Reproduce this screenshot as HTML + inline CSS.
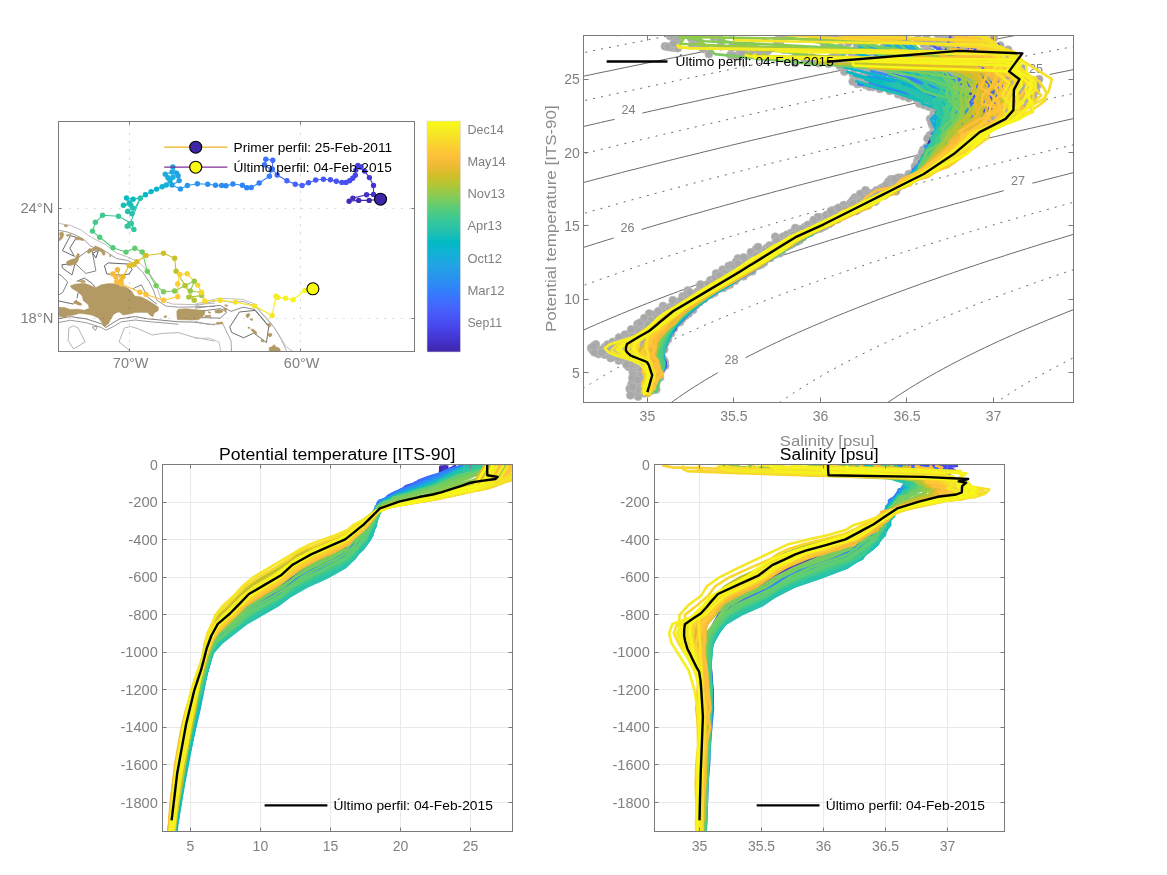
<!DOCTYPE html><html><head><meta charset="utf-8"><title>Argo float</title>
<style>html,body{margin:0;padding:0;background:#fff}svg{display:block}text{font-family:"Liberation Sans",sans-serif}</style></head><body>
<svg width="1167" height="875" viewBox="0 0 1167 875">
<rect width="1167" height="875" fill="#fff"/>
<defs>
<marker id="g" markerWidth="10" markerHeight="10" refX="5" refY="5" markerUnits="userSpaceOnUse"><circle cx="5" cy="5" r="4" fill="#a8a8a8" stroke="#bababa" stroke-width="0.8"/></marker>
<clipPath id="cm"><rect x="58.5" y="121.5" width="356" height="230"/></clipPath>
<clipPath id="ct"><rect x="584" y="36" width="489.5" height="366.5"/></clipPath>
<clipPath id="c1"><rect x="163" y="465" width="349.5" height="366.5"/></clipPath>
<clipPath id="c2"><rect x="655" y="465" width="349.5" height="366.5"/></clipPath>
<linearGradient id="pg" x1="0" y1="1" x2="0" y2="0"><stop offset="0.000" stop-color="#3e26a8"/><stop offset="0.048" stop-color="#4332cb"/><stop offset="0.095" stop-color="#4741e5"/><stop offset="0.143" stop-color="#4852f4"/><stop offset="0.190" stop-color="#4563fd"/><stop offset="0.238" stop-color="#3875fe"/><stop offset="0.286" stop-color="#2e87f7"/><stop offset="0.333" stop-color="#2797eb"/><stop offset="0.381" stop-color="#20a5e3"/><stop offset="0.429" stop-color="#12b1d6"/><stop offset="0.476" stop-color="#02bac3"/><stop offset="0.524" stop-color="#24c1ae"/><stop offset="0.571" stop-color="#37c897"/><stop offset="0.619" stop-color="#57cc7a"/><stop offset="0.667" stop-color="#81cc59"/><stop offset="0.714" stop-color="#abc739"/><stop offset="0.762" stop-color="#d1bf27"/><stop offset="0.810" stop-color="#f0ba36"/><stop offset="0.857" stop-color="#fec338"/><stop offset="0.905" stop-color="#fad62d"/><stop offset="0.952" stop-color="#f5e924"/><stop offset="1.000" stop-color="#f9fb15"/></linearGradient>
</defs>
<g clip-path="url(#cm)">
<polyline points="55,222.8 70.4,225.4 81.2,230 88.2,235.4 96.7,240.1 105.9,244.7 116.7,253.2 127.5,257 138.3,261.7 147.6,270.9 155.3,281.7 158.7,292.5 161.5,300.2 172.3,304.1 193.9,304.6 215,303.3" fill="none" stroke="#bdbdbd" stroke-width="1"/>
<polyline points="55,229.6 67.3,232 76.6,235.4 84.3,239.8 90.5,246.2 105.9,251.6 116.7,258.6 127.5,260.4 135.2,264.7 142.9,272.5 149.1,281.7 153.8,291 156.8,300.2 166.1,306.1 178.4,307.2 215,306.4" fill="none" stroke="#9a9a9a" stroke-width="1"/>
<polygon points="62.4,250.6 70.4,235.7 76.6,237.3 69.8,248.1 74.4,256.4" fill="none" stroke="#6e6e6e" stroke-width="1"/>
<polygon points="61.9,264.7 75.1,263.5 72,274.9 62.4,268.1" fill="none" stroke="#6e6e6e" stroke-width="1"/>
<polygon points="75.1,263.5 78.9,257 87.4,250.9 92,250.6 95.9,270.9 85.9,273.4" fill="none" stroke="#858585" stroke-width="1"/>
<polygon points="92.8,253.3 98.5,250.2 95.9,258" fill="none" stroke="#5e5e5e" stroke-width="1"/>
<polygon points="104.4,265.7 108.4,262.9 129.1,264.1 132.1,269.4 129.1,274 121.3,275.2 106.8,274" fill="none" stroke="#666666" stroke-width="1"/>
<polyline points="55,270.9 61.9,276.3 67.7,282 62.7,292.5 55,297.1" fill="none" stroke="#858585" stroke-width="1"/>
<polyline points="76.6,281.4 84.3,278 92,283.3 95.4,287.6" fill="none" stroke="#6e6e6e" stroke-width="1"/>
<polyline points="78.1,292.5 76.6,300.2 73.5,304.1 55,300.2" fill="none" stroke="#6e6e6e" stroke-width="1"/>
<polyline points="132.9,288.7 141.4,284.8 147.6,297.1 156.8,304.1" fill="none" stroke="#858585" stroke-width="1"/>
<polyline points="55,319.1 70.4,316.6 85.9,318.8 101.3,323.7 105.9,327.5 112.1,323.4 119.8,318.8 135.2,316.6 147.6,318.8 163,320.3 178.4,321.8 193.9,322.1 215,324.9" fill="none" stroke="#808080" stroke-width="1"/>
<polyline points="55,323.1 70.4,320.3 85.9,322.6 101.3,327.5 105.9,330.2 113.6,326.5 121.3,321.8 135.2,320 150.7,321.8 166.1,323.1 178.4,324.3" fill="none" stroke="#9a9a9a" stroke-width="1"/>
<polygon points="68.9,328 73.5,325.8 78.1,328 85.2,341.9 73.5,349 68.1,340.4" fill="none" stroke="#b5b5b5" stroke-width="1"/>
<polygon points="92,327.2 97.4,326.2 95.4,330.5" fill="none" stroke="#9a9a9a" stroke-width="1"/>
<polyline points="129.1,349.9 119,341.9 124.4,328 130.6,326.5 138.3,328.8 152.2,335 163,333.4 178.4,332.6 193.9,337.3 215,341.1" fill="none" stroke="#b5b5b5" stroke-width="1"/>
<polyline points="195,304.2 207,301.2 219,298.2 231,298.8 243,299.4 253.8,303.6 262.2,313.2 271.8,324 279,334.8 286.2,346.8 292.8,351.3" fill="none" stroke="#c4c4c4" stroke-width="1"/>
<polyline points="195,306 207,303 219,300 232.2,302.4 243,301.4 255,306 264.6,316.8 274.2,327.6 281.4,339.6 286.8,351.6" fill="none" stroke="#b0b0b0" stroke-width="1"/>
<polyline points="195,308.1 207,306.6 220.2,305.4 231,311.4 243,307.2 255,309.6 262.2,318 268.8,326.4" fill="none" stroke="#8a8a8a" stroke-width="1"/>
<polygon points="229.8,327 239.4,312 255,310.4 268.8,326.4 266.4,342.6 253.8,333 243.6,337.8 231.6,332.4" fill="none" stroke="#6e6e6e" stroke-width="1"/>
<polygon points="202.2,317.5 220.2,318.2 226.8,312.2 220.8,308.6 207,310.3 199.8,310.8" fill="none" stroke="#858585" stroke-width="1"/>
<polyline points="195,321.6 209.4,324.6 222.6,323.4 231,340.8 231.6,351.6" fill="none" stroke="#a8a8a8" stroke-width="1"/>
<polyline points="195,338.4 209.4,338.1 219,342 220.8,351.6" fill="none" stroke="#c4c4c4" stroke-width="1"/>
<g fill="#b39964" stroke="#b39964" stroke-width="0.6" stroke-linejoin="round">
<polygon points="55,307.2 64.3,307.6 70.4,309.5 78.1,309.2 84.3,310.3 89.3,308.3 88.2,304.6 83.2,300.5 82.2,295.9 78.1,292.1 71.7,288.2 70.4,286 74.8,284.2 79.7,283.7 84.3,283.3 90.5,285.6 95.4,287.9 101.3,284.8 109,283.6 115.2,284 121.3,285.4 127.5,287.9 131.8,291.4 134.5,295.9 141.4,297.1 147.6,300.2 153.8,304.1 158.4,307.2 158.1,310.7 154.1,313 153.1,316.6 150.7,315.7 147.6,312.6 141.4,312.3 135.2,312.6 129.1,314.1 122.9,315 119.5,312 116.7,312.6 113.6,314.4 110.9,318.8 108.4,323.7 104.4,326.8 101.6,322.1 98.5,318.1 92,315 85.9,314.1 79.7,313.3 73.5,315 67.3,315.7 64.6,318.1 61.2,316.4 55,316"/>
<polygon points="176.9,311 178.4,309.2 186.2,308.7 193.9,309.5 201.6,310.3 205,311.3 204.4,314.4 201.6,317.5 198.5,319.7 190.8,320 183.1,319.7 177.7,319.7 176.9,315.7"/>
<polygon points="64.3,224.9 67.3,225.2 67.3,226.8 64.3,226.5"/>
<polygon points="59.3,233.1 62.7,232 63.9,234.7 62.4,238.2 59.6,240.8 58.4,239.8 60.4,236.2"/>
<polygon points="66.1,235.1 70.4,233.9 71,235.1 67.3,236.4"/>
<polygon points="75.1,237.3 78.1,237 83.5,239.3 83.2,240.7 79.7,239.8 75.4,239.8"/>
<polygon points="66.6,261.7 70.4,259.8 75.1,258.6 77.8,253.2 79.4,254.3 78.1,260.4 75.8,264 70.4,265.5 67,265.1"/>
<polygon points="87.1,251.6 89.3,248.5 92,249 95.4,245.9 101.3,248.5 104.7,250.9 105.1,254.7 103.1,255.2 101.3,251.6 96.7,250.1 92.8,250.9 88.2,253.6"/>
<polygon points="109.8,254.7 110.9,255.2 110.5,257 109.6,256.4"/>
<polygon points="78.1,281.1 83.5,280.2 85.9,281.7 82.8,282.6"/>
<polygon points="164.2,316 166.4,315.7 166.4,317.5 164.2,317.5"/>
<polygon points="208.2,311.7 210.6,312.2 210.4,313.2 208.4,312.7"/>
<polygon points="214.8,310.8 219,309.6 222.8,310.5 222.4,312.2 219,313.2 215.4,312.7"/>
<polygon points="223.6,308.6 226.4,308.1 227.1,310.1 224.5,310.8"/>
<polygon points="224.8,304.8 227.6,305 227.6,306.2 225,306"/>
<polygon points="204.8,315.6 210.6,315.3 210.6,316.8 205.1,317"/>
<polygon points="216.4,322.5 222.6,322.1 222.8,323.7 216.8,324.2"/>
<polygon points="246,314.6 249,313.2 249.9,315 247.8,318 246.3,317"/>
<polygon points="250.2,318.6 252.6,319.2 252.3,320.6 250.4,319.9"/>
<polygon points="248,327.1 249.9,327.3 249.7,328.5 248.3,328.3"/>
<polygon points="251.1,329 253.8,329.4 256.8,332.4 256.4,334.5 254,333 251.6,330.6"/>
<polygon points="267.3,323.7 270,323.4 271.2,325.4 269.6,326.9 267.7,325.9"/>
<polygon points="268.2,333.8 271.3,333.3 272,335.7 269.6,336.9 268.2,335.7"/>
<polygon points="261,339.8 263.6,339.6 264.1,341.7 261.7,342"/>
<polygon points="269.1,347.7 271.8,346.8 274.4,344.6 275.6,346.8 279,348 280.4,350.1 279,352.8 269.4,352.8"/>
</g>
<polygon points="74.8,298.7 81.5,297.1 82.8,301.8 78.1,301" fill="#fff"/>
<polygon points="73.2,301.5 75.8,300.2 81.5,303.3 82,305.6 78.1,305.2 74.3,303.3" fill="#b39964"/>
</g>
<line x1="129.5" y1="124.5" x2="129.5" y2="351.5" stroke="#000" stroke-opacity="0.17" stroke-width="1" stroke-dasharray="2,6.3"/>
<line x1="300.5" y1="124.5" x2="300.5" y2="351.5" stroke="#000" stroke-opacity="0.17" stroke-width="1" stroke-dasharray="2,6.3"/>
<line x1="60.5" y1="208.5" x2="414.5" y2="208.5" stroke="#000" stroke-opacity="0.14" stroke-width="1" stroke-dasharray="2,6.3"/>
<line x1="60.5" y1="318.5" x2="414.5" y2="318.5" stroke="#000" stroke-opacity="0.14" stroke-width="1" stroke-dasharray="2,6.3"/>
<g stroke-width="1.1" fill="none" stroke-linecap="round">
<path d="M380.5 199.2L369.2 200.4" stroke="#3e27ab"/>
<path d="M369.2 200.4L358.7 200.4" stroke="#3f29b1"/>
<path d="M358.7 200.4L349.1 201.2" stroke="#402bb7"/>
<path d="M349.1 201.2L352.9 198.1" stroke="#412dbc"/>
<path d="M352.9 198.1L366.6 194.7" stroke="#422fc2"/>
<path d="M366.6 194.7L373.5 194.4" stroke="#4331c7"/>
<path d="M373.5 194.4L373.5 185.5" stroke="#4433cd"/>
<path d="M373.5 185.5L369.4 177.6" stroke="#4535d2"/>
<path d="M369.4 177.6L364.6 171.1" stroke="#4538d7"/>
<path d="M364.6 171.1L361 167" stroke="#463adb"/>
<path d="M361 167L357.9 165.4" stroke="#463ddf"/>
<path d="M357.9 165.4L355.8 170.1" stroke="#473fe3"/>
<path d="M355.8 170.1L355.3 175.2" stroke="#4742e6"/>
<path d="M355.3 175.2L352.7 178.3" stroke="#4745e9"/>
<path d="M352.7 178.3L349.6 180.8" stroke="#4848ec"/>
<path d="M349.6 180.8L346 182.4" stroke="#484bee"/>
<path d="M346 182.4L341.9 182.4" stroke="#484df1"/>
<path d="M341.9 182.4L336.3 181.2" stroke="#4850f3"/>
<path d="M336.3 181.2L330.4 179.8" stroke="#4853f5"/>
<path d="M330.4 179.8L323.4 179.3" stroke="#4756f6"/>
<path d="M323.4 179.3L315.7 180" stroke="#4758f8"/>
<path d="M315.7 180L308.5 182.7" stroke="#475bf9"/>
<path d="M308.5 182.7L302.1 185.5" stroke="#465efb"/>
<path d="M302.1 185.5L295.3 184.2" stroke="#4561fc"/>
<path d="M295.3 184.2L286.9 180.8" stroke="#4564fd"/>
<path d="M286.9 180.8L277.2 175" stroke="#4366fd"/>
<path d="M277.2 175L272.3 169" stroke="#4269fe"/>
<path d="M272.3 169L272.8 160.3" stroke="#406cfe"/>
<path d="M272.8 160.3L265.8 159.2" stroke="#3e6fff"/>
<path d="M265.8 159.2L264.5 164.7" stroke="#3b72fe"/>
<path d="M264.5 164.7L271.2 169.8" stroke="#3875fe"/>
<path d="M271.2 169.8L269.4 176.2" stroke="#3579fd"/>
<path d="M269.4 176.2L259.2 183" stroke="#327cfc"/>
<path d="M259.2 183L251.2 187.5" stroke="#307efb"/>
<path d="M251.2 187.5L246.8 187.8" stroke="#2f81fa"/>
<path d="M246.8 187.8L242.4 185.2" stroke="#2e84f8"/>
<path d="M242.4 185.2L232.9 184" stroke="#2e87f7"/>
<path d="M232.9 184L226 185.8" stroke="#2d89f5"/>
<path d="M226 185.8L221.7 185.4" stroke="#2d8cf3"/>
<path d="M221.7 185.4L215.5 185.2" stroke="#2c8ff1"/>
<path d="M215.5 185.2L207.7 184.2" stroke="#2b91ef"/>
<path d="M207.7 184.2L197.4 183.7" stroke="#2994ed"/>
<path d="M197.4 183.7L187.4 185.5" stroke="#2896eb"/>
<path d="M187.4 185.5L180.4 188.9" stroke="#2698ea"/>
<path d="M180.4 188.9L172 185" stroke="#259be8"/>
<path d="M172 185L179.2 180.6" stroke="#249de6"/>
<path d="M179.2 180.6L178.1 175.7" stroke="#23a0e5"/>
<path d="M178.1 175.7L176.6 173.1" stroke="#22a2e4"/>
<path d="M176.6 173.1L172.8 167" stroke="#20a4e3"/>
<path d="M172.8 167L172 172.1" stroke="#1fa6e1"/>
<path d="M172 172.1L165.3 174.2" stroke="#1da9e0"/>
<path d="M165.3 174.2L167.9 177.8" stroke="#1babde"/>
<path d="M167.9 177.8L173 177.2" stroke="#19addc"/>
<path d="M173 177.2L170 181" stroke="#16afda"/>
<path d="M170 181L166.3 185" stroke="#13b1d7"/>
<path d="M166.3 185L162.2 186.8" stroke="#0eb2d4"/>
<path d="M162.2 186.8L156.6 189.1" stroke="#09b4d1"/>
<path d="M156.6 189.1L151.1 191.6" stroke="#06b6ce"/>
<path d="M151.1 191.6L145.4 194.7" stroke="#02b7cb"/>
<path d="M145.4 194.7L140.4 198.1" stroke="#01b8c8"/>
<path d="M140.4 198.1L133.1 199.2" stroke="#02bac5"/>
<path d="M133.1 199.2L126.5 198" stroke="#04bbc2"/>
<path d="M126.5 198L129.3 203" stroke="#09bcbe"/>
<path d="M129.3 203L123.4 205.3" stroke="#0ebebb"/>
<path d="M123.4 205.3L130.8 205" stroke="#15bfb7"/>
<path d="M130.8 205L132.9 208.1" stroke="#1bc0b4"/>
<path d="M132.9 208.1L127.6 211.5" stroke="#21c1b0"/>
<path d="M127.6 211.5L131.9 213.8" stroke="#26c2ad"/>
<path d="M131.9 213.8L140.4 198.1" stroke="#2ac3a9"/>
<path d="M140.4 198.1L129.8 224" stroke="#2dc4a6"/>
<path d="M129.8 224L127.2 226.3" stroke="#30c5a2"/>
<path d="M127.2 226.3L133.9 229.4" stroke="#33c69e"/>
<path d="M133.9 229.4L131.4 223.5" stroke="#35c79a"/>
<path d="M131.4 223.5L118.5 216.3" stroke="#38c895"/>
<path d="M118.5 216.3L102.6 215.3" stroke="#3cc991"/>
<path d="M102.6 215.3L95.4 222.3" stroke="#41ca8c"/>
<path d="M95.4 222.3L92.5 231.1" stroke="#46cb88"/>
<path d="M92.5 231.1L99.7 237.3" stroke="#4ccb83"/>
<path d="M99.7 237.3L112.9 247.8" stroke="#52cc7e"/>
<path d="M112.9 247.8L126 252.1" stroke="#59cc79"/>
<path d="M126 252.1L134.8 248.2" stroke="#5fcd73"/>
<path d="M134.8 248.2L142.2 251.9" stroke="#65cd6e"/>
<path d="M142.2 251.9L147.3 271.2" stroke="#6ccd68"/>
<path d="M147.3 271.2L156.1 285.6" stroke="#73cd63"/>
<path d="M156.1 285.6L163.5 291.7" stroke="#7acc5d"/>
<path d="M163.5 291.7L174.6 291" stroke="#82cc58"/>
<path d="M174.6 291L185.1 285.6" stroke="#89cb52"/>
<path d="M185.1 285.6L194.3 281.3" stroke="#90ca4d"/>
<path d="M194.3 281.3L190.3 291" stroke="#97ca47"/>
<path d="M190.3 291L201.3 292.5" stroke="#9ec942"/>
<path d="M201.3 292.5L201.6 295.6" stroke="#a5c83d"/>
<path d="M201.6 295.6L188.8 297.1" stroke="#acc739"/>
<path d="M188.8 297.1L194.3 300.2" stroke="#b2c535"/>
<path d="M194.3 300.2L185.1 285.6" stroke="#b9c431"/>
<path d="M185.1 285.6L176.1 271.2" stroke="#bfc32d"/>
<path d="M176.1 271.2L174.6 258.3" stroke="#c5c22a"/>
<path d="M174.6 258.3L163.5 253.2" stroke="#cbc029"/>
<path d="M163.5 253.2L146 255.5" stroke="#d1bf27"/>
<path d="M146 255.5L136.8 261.7" stroke="#d6be28"/>
<path d="M136.8 261.7L133.7 264.7" stroke="#dcbd29"/>
<path d="M133.7 264.7L129.1 265.5" stroke="#e1bc2b"/>
<path d="M129.1 265.5L122.9 276.8" stroke="#e6bb2d"/>
<path d="M122.9 276.8L121 280.9" stroke="#eaba31"/>
<path d="M121 280.9L117.5 269.7" stroke="#efba35"/>
<path d="M117.5 269.7L112.9 274" stroke="#f3ba39"/>
<path d="M112.9 274L115.9 277.1" stroke="#f7ba3c"/>
<path d="M115.9 277.1L116.7 281.7" stroke="#fabc3d"/>
<path d="M116.7 281.7L121.3 284" stroke="#fdbd3d"/>
<path d="M121.3 284L139.9 292.2" stroke="#fec03b"/>
<path d="M139.9 292.2L146 294.4" stroke="#fec339"/>
<path d="M146 294.4L163.5 300.2" stroke="#fec636"/>
<path d="M163.5 300.2L177.7 296.7" stroke="#fec934"/>
<path d="M177.7 296.7L177.7 284" stroke="#fdcc32"/>
<path d="M177.7 284L179.7 274.5" stroke="#fccf31"/>
<path d="M179.7 274.5L187.2 273.7" stroke="#fbd22f"/>
<path d="M187.2 273.7L197.7 285.1" stroke="#fad52d"/>
<path d="M197.7 285.1L201.6 292.5" stroke="#f9d82c"/>
<path d="M201.6 292.5L204.7 301" stroke="#f7db2a"/>
<path d="M204.7 301L220.2 300.2" stroke="#f6de29"/>
<path d="M220.2 300.2L235.4 302.1" stroke="#f5e228"/>
<path d="M235.4 302.1L254.7 306" stroke="#f5e526"/>
<path d="M254.7 306L272.1 315.6" stroke="#f5e825"/>
<path d="M272.1 315.6L276 296.2" stroke="#f5eb23"/>
<path d="M276 296.2L277.8 297.4" stroke="#f5ee21"/>
<path d="M277.8 297.4L285.6 298.2" stroke="#f6f11f"/>
<path d="M285.6 298.2L293.1 299.8" stroke="#f7f41c"/>
<path d="M293.1 299.8L304.8 290.6" stroke="#f8f719"/>
<path d="M304.8 290.6L312.9 288.8" stroke="#f9f916"/>
</g>
<circle cx="380.5" cy="199.2" r="2.7" fill="#3e26a8"/>
<circle cx="369.2" cy="200.4" r="2.7" fill="#3f28ae"/>
<circle cx="358.7" cy="200.4" r="2.7" fill="#402ab4"/>
<circle cx="349.1" cy="201.2" r="2.7" fill="#412cba"/>
<circle cx="352.9" cy="198.1" r="2.7" fill="#422ebf"/>
<circle cx="366.6" cy="194.7" r="2.7" fill="#4330c5"/>
<circle cx="373.5" cy="194.4" r="2.7" fill="#4332ca"/>
<circle cx="373.5" cy="185.5" r="2.7" fill="#4434cf"/>
<circle cx="369.4" cy="177.6" r="2.7" fill="#4536d5"/>
<circle cx="364.6" cy="171.1" r="2.7" fill="#4539d9"/>
<circle cx="361" cy="167" r="2.7" fill="#463bdd"/>
<circle cx="357.9" cy="165.4" r="2.7" fill="#463ee1"/>
<circle cx="355.8" cy="170.1" r="2.7" fill="#4741e5"/>
<circle cx="355.3" cy="175.2" r="2.7" fill="#4744e8"/>
<circle cx="352.7" cy="178.3" r="2.7" fill="#4746ea"/>
<circle cx="349.6" cy="180.8" r="2.7" fill="#4849ed"/>
<circle cx="346" cy="182.4" r="2.7" fill="#484cef"/>
<circle cx="341.9" cy="182.4" r="2.7" fill="#484ff2"/>
<circle cx="336.3" cy="181.2" r="2.7" fill="#4852f4"/>
<circle cx="330.4" cy="179.8" r="2.7" fill="#4854f6"/>
<circle cx="323.4" cy="179.3" r="2.7" fill="#4757f7"/>
<circle cx="315.7" cy="180" r="2.7" fill="#475af9"/>
<circle cx="308.5" cy="182.7" r="2.7" fill="#475dfa"/>
<circle cx="302.1" cy="185.5" r="2.7" fill="#465ffb"/>
<circle cx="295.3" cy="184.2" r="2.7" fill="#4562fc"/>
<circle cx="286.9" cy="180.8" r="2.7" fill="#4465fd"/>
<circle cx="277.2" cy="175" r="2.7" fill="#4368fe"/>
<circle cx="272.3" cy="169" r="2.7" fill="#416bfe"/>
<circle cx="272.8" cy="160.3" r="2.7" fill="#3f6efe"/>
<circle cx="265.8" cy="159.2" r="2.7" fill="#3d71ff"/>
<circle cx="264.5" cy="164.7" r="2.7" fill="#3a74fe"/>
<circle cx="271.2" cy="169.8" r="2.7" fill="#3777fe"/>
<circle cx="269.4" cy="176.2" r="2.7" fill="#347afd"/>
<circle cx="259.2" cy="183" r="2.7" fill="#317dfc"/>
<circle cx="251.2" cy="187.5" r="2.7" fill="#3080fa"/>
<circle cx="246.8" cy="187.8" r="2.7" fill="#2e83f9"/>
<circle cx="242.4" cy="185.2" r="2.7" fill="#2e85f8"/>
<circle cx="232.9" cy="184" r="2.7" fill="#2d88f6"/>
<circle cx="226" cy="185.8" r="2.7" fill="#2d8bf4"/>
<circle cx="221.7" cy="185.4" r="2.7" fill="#2d8df2"/>
<circle cx="215.5" cy="185.2" r="2.7" fill="#2c90f0"/>
<circle cx="207.7" cy="184.2" r="2.7" fill="#2a92ee"/>
<circle cx="197.4" cy="183.7" r="2.7" fill="#2895ec"/>
<circle cx="187.4" cy="185.5" r="2.7" fill="#2797ea"/>
<circle cx="180.4" cy="188.9" r="2.7" fill="#269ae9"/>
<circle cx="172" cy="185" r="2.7" fill="#259ce7"/>
<circle cx="179.2" cy="180.6" r="2.7" fill="#249ee6"/>
<circle cx="178.1" cy="175.7" r="2.7" fill="#23a1e5"/>
<circle cx="176.6" cy="173.1" r="2.7" fill="#21a3e3"/>
<circle cx="172.8" cy="167" r="2.7" fill="#1fa5e2"/>
<circle cx="172" cy="172.1" r="2.7" fill="#1ea7e1"/>
<circle cx="165.3" cy="174.2" r="2.7" fill="#1caadf"/>
<circle cx="167.9" cy="177.8" r="2.7" fill="#1aacdd"/>
<circle cx="173" cy="177.2" r="2.7" fill="#18aedb"/>
<circle cx="170" cy="181" r="2.7" fill="#14b0d8"/>
<circle cx="166.3" cy="185" r="2.7" fill="#11b1d6"/>
<circle cx="162.2" cy="186.8" r="2.7" fill="#0cb3d3"/>
<circle cx="156.6" cy="189.1" r="2.7" fill="#07b5d0"/>
<circle cx="151.1" cy="191.6" r="2.7" fill="#04b6cd"/>
<circle cx="145.4" cy="194.7" r="2.7" fill="#01b8ca"/>
<circle cx="140.4" cy="198.1" r="2.7" fill="#01b9c6"/>
<circle cx="133.1" cy="199.2" r="2.7" fill="#02bbc3"/>
<circle cx="126.5" cy="198" r="2.7" fill="#07bcc0"/>
<circle cx="129.3" cy="203" r="2.7" fill="#0bbdbc"/>
<circle cx="123.4" cy="205.3" r="2.7" fill="#12beb9"/>
<circle cx="130.8" cy="205" r="2.7" fill="#18bfb6"/>
<circle cx="132.9" cy="208.1" r="2.7" fill="#1ec0b2"/>
<circle cx="127.6" cy="211.5" r="2.7" fill="#24c1af"/>
<circle cx="131.9" cy="213.8" r="2.7" fill="#28c2ab"/>
<circle cx="140.4" cy="198.1" r="2.7" fill="#2bc3a7"/>
<circle cx="129.8" cy="224" r="2.7" fill="#2ec5a4"/>
<circle cx="127.2" cy="226.3" r="2.7" fill="#31c6a0"/>
<circle cx="133.9" cy="229.4" r="2.7" fill="#34c79c"/>
<circle cx="131.4" cy="223.5" r="2.7" fill="#37c898"/>
<circle cx="118.5" cy="216.3" r="2.7" fill="#3ac993"/>
<circle cx="102.6" cy="215.3" r="2.7" fill="#3eca8f"/>
<circle cx="95.4" cy="222.3" r="2.7" fill="#44ca8a"/>
<circle cx="92.5" cy="231.1" r="2.7" fill="#49cb85"/>
<circle cx="99.7" cy="237.3" r="2.7" fill="#4fcc80"/>
<circle cx="112.9" cy="247.8" r="2.7" fill="#55cc7b"/>
<circle cx="126" cy="252.1" r="2.7" fill="#5ccc76"/>
<circle cx="134.8" cy="248.2" r="2.7" fill="#62cd71"/>
<circle cx="142.2" cy="251.9" r="2.7" fill="#69cd6b"/>
<circle cx="147.3" cy="271.2" r="2.7" fill="#70cd65"/>
<circle cx="156.1" cy="285.6" r="2.7" fill="#77cc60"/>
<circle cx="163.5" cy="291.7" r="2.7" fill="#7ecc5b"/>
<circle cx="174.6" cy="291" r="2.7" fill="#85cb55"/>
<circle cx="185.1" cy="285.6" r="2.7" fill="#8dcb50"/>
<circle cx="194.3" cy="281.3" r="2.7" fill="#94ca4a"/>
<circle cx="190.3" cy="291" r="2.7" fill="#9bc945"/>
<circle cx="201.3" cy="292.5" r="2.7" fill="#a2c840"/>
<circle cx="201.6" cy="295.6" r="2.7" fill="#a8c73b"/>
<circle cx="188.8" cy="297.1" r="2.7" fill="#afc637"/>
<circle cx="194.3" cy="300.2" r="2.7" fill="#b6c533"/>
<circle cx="185.1" cy="285.6" r="2.7" fill="#bcc42f"/>
<circle cx="176.1" cy="271.2" r="2.7" fill="#c2c22c"/>
<circle cx="174.6" cy="258.3" r="2.7" fill="#c8c129"/>
<circle cx="163.5" cy="253.2" r="2.7" fill="#cec028"/>
<circle cx="146" cy="255.5" r="2.7" fill="#d4bf28"/>
<circle cx="136.8" cy="261.7" r="2.7" fill="#d9bd28"/>
<circle cx="133.7" cy="264.7" r="2.7" fill="#debc2a"/>
<circle cx="129.1" cy="265.5" r="2.7" fill="#e3bb2c"/>
<circle cx="122.9" cy="276.8" r="2.7" fill="#e8bb2f"/>
<circle cx="121" cy="280.9" r="2.7" fill="#edba33"/>
<circle cx="117.5" cy="269.7" r="2.7" fill="#f1ba37"/>
<circle cx="112.9" cy="274" r="2.7" fill="#f5ba3b"/>
<circle cx="115.9" cy="277.1" r="2.7" fill="#f9bb3d"/>
<circle cx="116.7" cy="281.7" r="2.7" fill="#fcbc3d"/>
<circle cx="121.3" cy="284" r="2.7" fill="#febe3c"/>
<circle cx="139.9" cy="292.2" r="2.7" fill="#fec13a"/>
<circle cx="146" cy="294.4" r="2.7" fill="#fec437"/>
<circle cx="163.5" cy="300.2" r="2.7" fill="#fec735"/>
<circle cx="177.7" cy="296.7" r="2.7" fill="#feca33"/>
<circle cx="177.7" cy="284" r="2.7" fill="#fdcd31"/>
<circle cx="179.7" cy="274.5" r="2.7" fill="#fcd030"/>
<circle cx="187.2" cy="273.7" r="2.7" fill="#fbd32e"/>
<circle cx="197.7" cy="285.1" r="2.7" fill="#f9d62d"/>
<circle cx="201.6" cy="292.5" r="2.7" fill="#f8da2b"/>
<circle cx="204.7" cy="301" r="2.7" fill="#f7dd2a"/>
<circle cx="220.2" cy="300.2" r="2.7" fill="#f6e028"/>
<circle cx="235.4" cy="302.1" r="2.7" fill="#f5e327"/>
<circle cx="254.7" cy="306" r="2.7" fill="#f5e626"/>
<circle cx="272.1" cy="315.6" r="2.7" fill="#f5e924"/>
<circle cx="276" cy="296.2" r="2.7" fill="#f5ec22"/>
<circle cx="277.8" cy="297.4" r="2.7" fill="#f6ef20"/>
<circle cx="285.6" cy="298.2" r="2.7" fill="#f6f21e"/>
<circle cx="293.1" cy="299.8" r="2.7" fill="#f7f51b"/>
<circle cx="304.8" cy="290.6" r="2.7" fill="#f8f818"/>
<circle cx="312.9" cy="288.8" r="2.7" fill="#f9fb15"/>
<circle cx="380.5" cy="199.2" r="6" fill="#3e26a8" stroke="#000" stroke-width="1.1"/>
<circle cx="312.9" cy="288.8" r="6" fill="#f9fb0e" stroke="#000" stroke-width="1.1"/>
<line x1="164.2" y1="147.1" x2="227.4" y2="147.1" stroke="#edb120" stroke-width="1.1"/>
<circle cx="195.7" cy="147.2" r="6" fill="#3e26a8" stroke="#000" stroke-width="1.1"/>
<line x1="164.2" y1="167.1" x2="227.4" y2="167.1" stroke="#7e2f8e" stroke-width="1.1"/>
<circle cx="195.7" cy="167.2" r="6" fill="#f9fb0e" stroke="#000" stroke-width="1.1"/>
<text x="233.6" y="151.5" font-size="12.6" text-anchor="start" fill="#000" textLength="158.5" lengthAdjust="spacingAndGlyphs">Primer perfil: 25-Feb-2011</text>
<text x="233.6" y="171.9" font-size="12.6" text-anchor="start" fill="#000" textLength="158.2" lengthAdjust="spacingAndGlyphs">Último perfil: 04-Feb-2015</text>
<rect x="58.5" y="121.5" width="356.0" height="230.0" fill="none" stroke="#7a7a7a" stroke-width="1"/>
<path d="M129.5 121.5v3M129.5 351.5v-3" stroke="#7a7a7a" stroke-width="1"/>
<path d="M300.5 121.5v3M300.5 351.5v-3" stroke="#7a7a7a" stroke-width="1"/>
<path d="M58.5 208.5h3M414.5 208.5h-3" stroke="#7a7a7a" stroke-width="1"/>
<path d="M58.5 318.5h3M414.5 318.5h-3" stroke="#7a7a7a" stroke-width="1"/>
<text x="53.4" y="213.4" font-size="14" text-anchor="end" fill="#808080" textLength="33" lengthAdjust="spacingAndGlyphs">24°N</text>
<text x="53.4" y="323.4" font-size="14" text-anchor="end" fill="#808080" textLength="33" lengthAdjust="spacingAndGlyphs">18°N</text>
<text x="130.6" y="367.5" font-size="14" text-anchor="middle" fill="#808080" textLength="35.5" lengthAdjust="spacingAndGlyphs">70°W</text>
<text x="301.6" y="367.5" font-size="14" text-anchor="middle" fill="#808080" textLength="35.5" lengthAdjust="spacingAndGlyphs">60°W</text>
<rect x="427" y="121" width="33.5" height="231" fill="url(#pg)"/>
<rect x="427" y="121" width="33.5" height="231" fill="none" stroke="#d9d9d9" stroke-width="0.6"/>
<text x="467.4" y="133.9" font-size="12.6" text-anchor="start" fill="#808080" textLength="36.3" lengthAdjust="spacingAndGlyphs">Dec14</text>
<text x="467.4" y="166.1" font-size="12.6" text-anchor="start" fill="#808080" textLength="38.3" lengthAdjust="spacingAndGlyphs">May14</text>
<text x="467.4" y="198.2" font-size="12.6" text-anchor="start" fill="#808080" textLength="37.5" lengthAdjust="spacingAndGlyphs">Nov13</text>
<text x="467.4" y="230.3" font-size="12.6" text-anchor="start" fill="#808080" textLength="34.6" lengthAdjust="spacingAndGlyphs">Apr13</text>
<text x="467.4" y="262.5" font-size="12.6" text-anchor="start" fill="#808080" textLength="34.6" lengthAdjust="spacingAndGlyphs">Oct12</text>
<text x="467.4" y="294.7" font-size="12.6" text-anchor="start" fill="#808080" textLength="37.2" lengthAdjust="spacingAndGlyphs">Mar12</text>
<text x="467.4" y="326.8" font-size="12.6" text-anchor="start" fill="#808080" textLength="34.6" lengthAdjust="spacingAndGlyphs">Sep11</text>
<g clip-path="url(#ct)">
<polyline points="569.5,32.7 576.4,31.4 583.4,30 590.3,28.7 597.2,27.3 604.1,26 611.1,24.7 618,23.4 624.9,22 631.8,20.7 638.7,19.4 645.7,18.1 652.6,16.8 659.5,15.5 666.4,14.2 673.4,12.9 680.3,11.6 687.2,10.3 694.1,9 701,7.7 708,6.4 714.9,5.1 721.8,3.8 728.7,2.5 735.7,1.3 742.6,-0 749.5,-1.3 756.4,-2.6 763.3,-3.8 770.3,-5.1 777.2,-6.4 784.1,-7.6 791,-8.9 798,-10.1 804.9,-11.4 811.8,-12.6 818.7,-13.9 825.6,-15.1 832.6,-16.4 839.5,-17.6 846.4,-18.9 853.3,-20.1 860.3,-21.3 867.2,-22.6 874.1,-23.8 881,-25 887.9,-26.2 894.9,-27.5 901.8,-28.7 908.7,-29.9 915.6,-31.1 922.5,-32.3 929.5,-33.5 936.4,-34.7 943.3,-36 950.2,-37.2 957.2,-38.4 964.1,-39.6 971,-40.8 977.9,-42 984.8,-43.1 991.8,-44.3 998.7,-45.5 1005.6,-46.7 1012.5,-47.9 1019.5,-49.1 1026.4,-50.3 1033.3,-51.5 1040.2,-52.6 1047.1,-53.8 1054.1,-55 1061,-56.2 1067.9,-57.3 1074.8,-58.5 1081.8,-59.7 1088.7,-60.8" fill="none" stroke="#6a6a6a" stroke-width="1"/>
<polyline points="569.5,55.5 576.4,54.1 583.4,52.7 590.3,51.3 597.2,49.9 604.1,48.5 611.1,47.2 618,45.8 624.9,44.4 631.8,43 638.7,41.7 645.7,40.3 652.6,38.9 659.5,37.6 666.4,36.2 673.4,34.9 680.3,33.5 687.2,32.2 694.1,30.9 701,29.5 708,28.2 714.9,26.9 721.8,25.5 728.7,24.2 735.7,22.9 742.6,21.6 749.5,20.2 756.4,18.9 763.3,17.6 770.3,16.3 777.2,15 784.1,13.7 791,12.4 798,11.1 804.9,9.8 811.8,8.5 818.7,7.2 825.6,6 832.6,4.7 839.5,3.4 846.4,2.1 853.3,0.8 860.3,-0.4 867.2,-1.7 874.1,-3 881,-4.2 887.9,-5.5 894.9,-6.8 901.8,-8 908.7,-9.3 915.6,-10.5 922.5,-11.8 929.5,-13 936.4,-14.3 943.3,-15.5 950.2,-16.7 957.2,-18 964.1,-19.2 971,-20.5 977.9,-21.7 984.8,-22.9 991.8,-24.1 998.7,-25.4 1005.6,-26.6 1012.5,-27.8 1019.5,-29 1026.4,-30.2 1033.3,-31.5 1040.2,-32.7 1047.1,-33.9 1054.1,-35.1 1061,-36.3 1067.9,-37.5 1074.8,-38.7 1081.8,-39.9 1088.7,-41.1" fill="none" stroke="#6a6a6a" stroke-width="1" stroke-dasharray="2,6.05"/>
<polyline points="569.5,79.2 576.4,77.7 583.4,76.2 590.3,74.8 597.2,73.3 604.1,71.9 611.1,70.5 618,69 624.9,67.6 631.8,66.2 638.7,64.8 645.7,63.3 652.6,61.9 659.5,60.5 666.4,59.1 673.4,57.7 680.3,56.3 687.2,54.9 694.1,53.5 701,52.1 708,50.7 714.9,49.4 721.8,48 728.7,46.6 735.7,45.2 742.6,43.9 749.5,42.5 756.4,41.1 763.3,39.8 770.3,38.4 777.2,37.1 784.1,35.7 791,34.4 798,33 804.9,31.7 811.8,30.4 818.7,29 825.6,27.7 832.6,26.4 839.5,25 846.4,23.7 853.3,22.4 860.3,21.1 867.2,19.8 874.1,18.5 881,17.2 887.9,15.9 894.9,14.5 901.8,13.3 908.7,12 915.6,10.7 922.5,9.4 929.5,8.1 936.4,6.8 943.3,5.5 950.2,4.2 957.2,3 964.1,1.7 971,0.4 977.9,-0.9 984.8,-2.1 991.8,-3.4 998.7,-4.6 1005.6,-5.9 1012.5,-7.2 1019.5,-8.4 1026.4,-9.7 1033.3,-10.9 1040.2,-12.2 1047.1,-13.4 1054.1,-14.7 1061,-15.9 1067.9,-17.1 1074.8,-18.4 1081.8,-19.6 1088.7,-20.8" fill="none" stroke="#6a6a6a" stroke-width="1"/>
<polyline points="569.5,103.9 576.4,102.3 583.4,100.8 590.3,99.3 597.2,97.8 604.1,96.3 611.1,94.7 618,93.2 624.9,91.8 631.8,90.3 638.7,88.8 645.7,87.3 652.6,85.8 659.5,84.3 666.4,82.9 673.4,81.4 680.3,79.9 687.2,78.5 694.1,77 701,75.6 708,74.1 714.9,72.7 721.8,71.3 728.7,69.8 735.7,68.4 742.6,67 749.5,65.6 756.4,64.1 763.3,62.7 770.3,61.3 777.2,59.9 784.1,58.5 791,57.1 798,55.7 804.9,54.3 811.8,52.9 818.7,51.5 825.6,50.2 832.6,48.8 839.5,47.4 846.4,46 853.3,44.7 860.3,43.3 867.2,42 874.1,40.6 881,39.2 887.9,37.9 894.9,36.5 901.8,35.2 908.7,33.9 915.6,32.5 922.5,31.2 929.5,29.8 936.4,28.5 943.3,27.2 950.2,25.9 957.2,24.5 964.1,23.2 971,21.9 977.9,20.6 984.8,19.3 991.8,18 998.7,16.7 1005.6,15.4 1012.5,14.1 1019.5,12.8 1026.4,11.5 1033.3,10.2 1040.2,8.9 1047.1,7.6 1054.1,6.4 1061,5.1 1067.9,3.8 1074.8,2.5 1081.8,1.3 1088.7,-0" fill="none" stroke="#6a6a6a" stroke-width="1" stroke-dasharray="2,6.05"/>
<polyline points="569.5,129.8 574.7,128.5 579.9,127.3 585.1,126.1 590.3,124.9 595.5,123.7 600.7,122.5 605.9,121.3 611.1,120.1 614.6,119.4" fill="none" stroke="#6a6a6a" stroke-width="1"/>
<polyline points="642.3,113.1 647.5,111.9 652.7,110.7 657.9,109.6 663.1,108.4 668.3,107.3 673.5,106.1 678.7,104.9 683.9,103.8 689.1,102.7 694.3,101.5 699.5,100.4 704.7,99.2 709.9,98.1 715.1,97 720.3,95.8 725.5,94.7 730.7,93.6 735.9,92.5 741.1,91.3 746.3,90.2 751.5,89.1 756.7,88 761.9,86.9 767.1,85.8 772.3,84.7 777.5,83.6 782.7,82.5 787.9,81.4 793.1,80.3 798.3,79.2 803.5,78.1 808.7,77 813.9,75.9 819.1,74.8 824.3,73.8 829.5,72.7 834.7,71.6 839.9,70.5 845.1,69.5 850.3,68.4 855.5,67.3 860.7,66.2 865.9,65.2 871.1,64.1 876.3,63.1 881.5,62 886.7,60.9 891.9,59.9 897.1,58.8 902.3,57.8 907.5,56.7 912.7,55.7 917.9,54.7 923.1,53.6 928.3,52.6 933.5,51.5 938.7,50.5 943.9,49.5 949.1,48.4 954.3,47.4 959.5,46.4 964.7,45.4 969.9,44.3 975.1,43.3 980.3,42.3 985.5,41.3 990.7,40.2 995.9,39.2 1001.1,38.2 1006.3,37.2 1011.5,36.2 1016.7,35.2 1021.9,34.2 1027.1,33.2 1032.3,32.2 1037.5,31.2 1042.7,30.2 1047.9,29.2 1053.1,28.2 1058.3,27.2 1063.5,26.2 1068.7,25.2 1073.9,24.2 1079.1,23.2 1084.3,22.2 1088.7,21.4" fill="none" stroke="#6a6a6a" stroke-width="1"/>
<polyline points="569.5,157.1 576.4,155.4 583.4,153.7 590.3,152 597.2,150.3 604.1,148.6 611.1,146.9 618,145.2 624.9,143.6 631.8,141.9 638.7,140.3 645.7,138.6 652.6,137 659.5,135.3 666.4,133.7 673.4,132.1 680.3,130.5 687.2,128.8 694.1,127.2 701,125.6 708,124 714.9,122.5 721.8,120.9 728.7,119.3 735.7,117.7 742.6,116.2 749.5,114.6 756.4,113 763.3,111.5 770.3,109.9 777.2,108.4 784.1,106.9 791,105.3 798,103.8 804.9,102.3 811.8,100.8 818.7,99.3 825.6,97.8 832.6,96.3 839.5,94.8 846.4,93.3 853.3,91.8 860.3,90.3 867.2,88.8 874.1,87.3 881,85.9 887.9,84.4 894.9,82.9 901.8,81.5 908.7,80 915.6,78.6 922.5,77.1 929.5,75.7 936.4,74.3 943.3,72.8 950.2,71.4 957.2,70 964.1,68.5 971,67.1 977.9,65.7 984.8,64.3 991.8,62.9 998.7,61.5 1005.6,60.1 1012.5,58.7 1019.5,57.3 1026.4,55.9 1033.3,54.5 1040.2,53.1 1047.1,51.8 1054.1,50.4 1061,49 1067.9,47.6 1074.8,46.3 1081.8,44.9 1088.7,43.6" fill="none" stroke="#6a6a6a" stroke-width="1" stroke-dasharray="2,6.05"/>
<polyline points="569.5,186.2 574.7,184.8 579.9,183.4 585.1,182.1 590.3,180.7 595.5,179.3 600.7,178 605.9,176.6 611.1,175.3 616.3,173.9 621.5,172.6 626.7,171.2 631.9,169.9 637.1,168.6 642.3,167.3 647.5,165.9 652.7,164.6 657.9,163.3 663.1,162 668.3,160.7 673.5,159.4 678.7,158.1 683.9,156.8 689.1,155.6 694.3,154.3 699.5,153 704.7,151.7 709.9,150.5 715.1,149.2 720.3,147.9 725.5,146.7 730.7,145.4 735.9,144.2 741.1,142.9 746.3,141.7 751.5,140.4 756.7,139.2 761.9,138 767.1,136.8 772.3,135.5 777.5,134.3 782.7,133.1 787.9,131.9 793.1,130.7 798.3,129.5 803.5,128.3 808.7,127 813.9,125.9 819.1,124.7 824.3,123.5 829.5,122.3 834.7,121.1 839.9,119.9 845.1,118.7 850.3,117.6 855.5,116.4 860.7,115.2 865.9,114 871.1,112.9 876.3,111.7 881.5,110.6 886.7,109.4 891.9,108.2 897.1,107.1 902.3,105.9 907.5,104.8 912.7,103.7 917.9,102.5 923.1,101.4 928.3,100.3 933.5,99.1 938.7,98 943.9,96.9 949.1,95.7 954.3,94.6 959.5,93.5 964.7,92.4 969.9,91.3 975.1,90.2 980.3,89 985.5,87.9 990.7,86.8 995.9,85.7 1001.1,84.6 1006.3,83.5 1011.5,82.4 1016.7,81.4 1021.9,80.3 1021.9,80.3" fill="none" stroke="#6a6a6a" stroke-width="1"/>
<polyline points="1049.7,74.5 1054.9,73.4 1060.1,72.3 1065.3,71.3 1070.5,70.2 1075.7,69.1 1080.9,68.1 1086.1,67 1088.7,66.5" fill="none" stroke="#6a6a6a" stroke-width="1"/>
<polyline points="569.5,217.6 576.4,215.6 583.4,213.6 590.3,211.6 597.2,209.6 604.1,207.7 611.1,205.7 618,203.8 624.9,201.8 631.8,199.9 638.7,198 645.7,196.1 652.6,194.2 659.5,192.4 666.4,190.5 673.4,188.6 680.3,186.8 687.2,184.9 694.1,183.1 701,181.3 708,179.5 714.9,177.7 721.8,175.9 728.7,174.1 735.7,172.3 742.6,170.5 749.5,168.8 756.4,167 763.3,165.3 770.3,163.5 777.2,161.8 784.1,160.1 791,158.4 798,156.7 804.9,155 811.8,153.3 818.7,151.6 825.6,149.9 832.6,148.2 839.5,146.6 846.4,144.9 853.3,143.2 860.3,141.6 867.2,140 874.1,138.3 881,136.7 887.9,135.1 894.9,133.4 901.8,131.8 908.7,130.2 915.6,128.6 922.5,127 929.5,125.4 936.4,123.9 943.3,122.3 950.2,120.7 957.2,119.1 964.1,117.6 971,116 977.9,114.5 984.8,112.9 991.8,111.4 998.7,109.8 1005.6,108.3 1012.5,106.8 1019.5,105.3 1026.4,103.7 1033.3,102.2 1040.2,100.7 1047.1,99.2 1054.1,97.7 1061,96.2 1067.9,94.7 1074.8,93.3 1081.8,91.8 1088.7,90.3" fill="none" stroke="#6a6a6a" stroke-width="1" stroke-dasharray="2,6.05"/>
<polyline points="569.5,252 574.7,250.3 579.9,248.6 585.1,246.9 590.3,245.3 595.5,243.6 600.7,242 605.9,240.4 611.1,238.8 613.7,238" fill="none" stroke="#6a6a6a" stroke-width="1"/>
<polyline points="641.5,229.5 646.7,227.9 651.9,226.4 657.1,224.8 662.3,223.3 667.5,221.8 672.7,220.3 677.9,218.7 683.1,217.2 688.3,215.7 693.5,214.2 698.7,212.8 703.9,211.3 709.1,209.8 714.3,208.3 719.5,206.9 724.7,205.4 729.9,204 735.1,202.5 740.3,201.1 745.5,199.6 750.7,198.2 755.9,196.8 761.1,195.4 766.3,194 771.5,192.6 776.7,191.2 781.9,189.8 787.1,188.4 792.3,187 797.5,185.6 802.7,184.3 807.9,182.9 813.1,181.5 818.3,180.2 823.5,178.8 828.7,177.5 833.9,176.1 839.1,174.8 844.3,173.5 849.5,172.1 854.7,170.8 859.9,169.5 865.1,168.2 870.3,166.9 875.5,165.5 880.7,164.2 885.9,162.9 891.1,161.7 896.3,160.4 901.5,159.1 906.7,157.8 911.9,156.5 917.1,155.2 922.3,154 927.5,152.7 932.7,151.4 937.9,150.2 943.1,148.9 948.3,147.7 953.5,146.4 958.7,145.2 963.9,143.9 969.1,142.7 974.3,141.5 979.5,140.2 984.7,139 989.9,137.8 995.1,136.6 1000.3,135.4 1005.5,134.1 1010.7,132.9 1015.9,131.7 1021.1,130.5 1026.3,129.3 1031.5,128.1 1036.7,126.9 1041.9,125.7 1047.1,124.6 1052.3,123.4 1057.5,122.2 1062.7,121 1067.9,119.8 1073.1,118.7 1078.3,117.5 1083.5,116.3 1088.7,115.2 1088.7,115.2" fill="none" stroke="#6a6a6a" stroke-width="1"/>
<polyline points="569.5,290.7 576.4,288.1 583.4,285.5 590.3,283 597.2,280.5 604.1,278 611.1,275.6 618,273.2 624.9,270.7 631.8,268.4 638.7,266 645.7,263.7 652.6,261.3 659.5,259.1 666.4,256.8 673.4,254.5 680.3,252.3 687.2,250 694.1,247.8 701,245.6 708,243.5 714.9,241.3 721.8,239.2 728.7,237 735.7,234.9 742.6,232.8 749.5,230.7 756.4,228.7 763.3,226.6 770.3,224.6 777.2,222.5 784.1,220.5 791,218.5 798,216.5 804.9,214.5 811.8,212.5 818.7,210.6 825.6,208.6 832.6,206.7 839.5,204.8 846.4,202.9 853.3,200.9 860.3,199 867.2,197.2 874.1,195.3 881,193.4 887.9,191.6 894.9,189.7 901.8,187.9 908.7,186 915.6,184.2 922.5,182.4 929.5,180.6 936.4,178.8 943.3,177 950.2,175.3 957.2,173.5 964.1,171.7 971,170 977.9,168.2 984.8,166.5 991.8,164.8 998.7,163 1005.6,161.3 1012.5,159.6 1019.5,157.9 1026.4,156.2 1033.3,154.5 1040.2,152.8 1047.1,151.2 1054.1,149.5 1061,147.8 1067.9,146.2 1074.8,144.5 1081.8,142.9 1088.7,141.2" fill="none" stroke="#6a6a6a" stroke-width="1" stroke-dasharray="2,6.05"/>
<polyline points="569.5,336.5 574.7,334.1 579.9,331.7 585.1,329.4 590.3,327 595.5,324.8 600.7,322.5 605.9,320.3 611.1,318.1 616.3,315.9 621.5,313.7 626.7,311.6 631.9,309.5 637.1,307.4 642.3,305.3 647.5,303.3 652.7,301.2 657.9,299.2 663.1,297.2 668.3,295.2 673.5,293.3 678.7,291.3 683.9,289.4 689.1,287.5 694.3,285.6 699.5,283.7 704.7,281.8 709.9,280 715.1,278.1 720.3,276.3 725.5,274.5 730.7,272.7 735.9,270.9 741.1,269.1 746.3,267.3 751.5,265.6 756.7,263.8 761.9,262.1 767.1,260.4 772.3,258.6 777.5,256.9 782.7,255.2 787.9,253.6 793.1,251.9 798.3,250.2 803.5,248.6 808.7,246.9 813.9,245.3 819.1,243.7 824.3,242.1 829.5,240.4 834.7,238.8 839.9,237.3 845.1,235.7 850.3,234.1 855.5,232.5 860.7,231 865.9,229.4 871.1,227.9 876.3,226.3 881.5,224.8 886.7,223.3 891.9,221.8 897.1,220.3 902.3,218.8 907.5,217.3 912.7,215.8 917.9,214.3 923.1,212.8 928.3,211.4 933.5,209.9 938.7,208.4 943.9,207 949.1,205.6 954.3,204.1 959.5,202.7 964.7,201.3 969.9,199.8 975.1,198.4 980.3,197 985.5,195.6 990.7,194.2 995.9,192.8 1001.1,191.4 1003.7,190.7" fill="none" stroke="#6a6a6a" stroke-width="1"/>
<polyline points="1032.3,183.2 1037.5,181.9 1042.7,180.5 1047.9,179.2 1053.1,177.8 1058.3,176.5 1063.5,175.2 1068.7,173.8 1073.9,172.5 1079.1,171.2 1084.3,169.9 1088.7,168.8" fill="none" stroke="#6a6a6a" stroke-width="1"/>
<polyline points="569.5,397.7 576.4,392.9 583.4,388.3 590.3,383.9 597.2,379.6 604.1,375.4 611.1,371.4 618,367.5 624.9,363.7 631.8,359.9 638.7,356.3 645.7,352.8 652.6,349.3 659.5,345.9 666.4,342.6 673.4,339.3 680.3,336.1 687.2,333 694.1,329.9 701,326.8 708,323.8 714.9,320.8 721.8,317.9 728.7,315.1 735.7,312.2 742.6,309.4 749.5,306.7 756.4,304 763.3,301.3 770.3,298.6 777.2,296 784.1,293.4 791,290.8 798,288.3 804.9,285.7 811.8,283.2 818.7,280.8 825.6,278.3 832.6,275.9 839.5,273.5 846.4,271.1 853.3,268.8 860.3,266.5 867.2,264.1 874.1,261.8 881,259.6 887.9,257.3 894.9,255.1 901.8,252.8 908.7,250.6 915.6,248.5 922.5,246.3 929.5,244.1 936.4,242 943.3,239.9 950.2,237.7 957.2,235.6 964.1,233.6 971,231.5 977.9,229.4 984.8,227.4 991.8,225.4 998.7,223.3 1005.6,221.3 1012.5,219.3 1019.5,217.4 1026.4,215.4 1033.3,213.4 1040.2,211.5 1047.1,209.6 1054.1,207.6 1061,205.7 1067.9,203.8 1074.8,201.9 1081.8,200 1088.7,198.2" fill="none" stroke="#6a6a6a" stroke-width="1" stroke-dasharray="2,6.05"/>
<polyline points="569.5,519.1 574.7,519.1 579.9,519.1 585.1,519.1 590.3,519.1 595.5,519.1 600.7,503.5 605.9,482.8 611.1,467.1 616.3,457.9 621.5,450.1 626.7,443.3 631.9,437.1 637.1,431.7 642.3,426.6 647.5,421.7 652.7,417.1 657.9,412.8 663.1,408.7 668.3,404.7 673.5,400.9 678.7,397.3 683.9,393.7 689.1,390.2 694.3,386.9 699.5,383.6 704.7,380.4 709.9,377.3 715.1,374.3 717.7,372.8" fill="none" stroke="#6a6a6a" stroke-width="1"/>
<polyline points="745.5,357.7 750.7,355.1 755.9,352.5 761.1,349.9 766.3,347.3 771.5,344.8 776.7,342.4 781.9,339.9 787.1,337.5 792.3,335.2 797.5,332.8 802.7,330.5 807.9,328.3 813.1,326 818.3,323.8 823.5,321.6 828.7,319.4 833.9,317.2 839.1,315.1 844.3,313 849.5,310.9 854.7,308.8 859.9,306.8 865.1,304.7 870.3,302.7 875.5,300.7 880.7,298.7 885.9,296.8 891.1,294.8 896.3,292.9 901.5,291 906.7,289.1 911.9,287.2 917.1,285.3 922.3,283.4 927.5,281.6 932.7,279.8 937.9,278 943.1,276.1 948.3,274.4 953.5,272.6 958.7,270.8 963.9,269 969.1,267.3 974.3,265.6 979.5,263.8 984.7,262.1 989.9,260.4 995.1,258.7 1000.3,257.1 1005.5,255.4 1010.7,253.7 1015.9,252.1 1021.1,250.4 1026.3,248.8 1031.5,247.2 1036.7,245.5 1041.9,243.9 1047.1,242.3 1052.3,240.7 1057.5,239.2 1062.7,237.6 1067.9,236 1073.1,234.4 1078.3,232.9 1083.5,231.3 1088.7,229.8 1088.7,229.8" fill="none" stroke="#6a6a6a" stroke-width="1"/>
<polyline points="569.5,519.1 576.4,519.1 583.4,519.1 590.3,519.1 597.2,519.1 604.1,519.1 611.1,519.1 618,519.1 624.9,519.1 631.8,519.1 638.7,519.1 645.7,519.1 652.6,519.1 659.5,519.1 666.4,519.1 673.4,519.1 680.3,519.1 687.2,519.1 694.1,519.1 701,519.1 708,519.1 714.9,472.9 721.8,459.7 728.7,449.6 735.7,441.2 742.6,433.7 749.5,427 756.4,420.7 763.3,414.9 770.3,409.5 777.2,404.3 784.1,399.4 791,394.6 798,390.1 804.9,385.7 811.8,381.5 818.7,377.4 825.6,373.4 832.6,369.6 839.5,365.8 846.4,362.1 853.3,358.5 860.3,355 867.2,351.6 874.1,348.2 881,344.9 887.9,341.7 894.9,338.5 901.8,335.4 908.7,332.3 915.6,329.3 922.5,326.3 929.5,323.3 936.4,320.4 943.3,317.6 950.2,314.8 957.2,312 964.1,309.2 971,306.5 977.9,303.8 984.8,301.2 991.8,298.6 998.7,296 1005.6,293.4 1012.5,290.9 1019.5,288.4 1026.4,285.9 1033.3,283.4 1040.2,281 1047.1,278.6 1054.1,276.2 1061,273.8 1067.9,271.5 1074.8,269.2 1081.8,266.8 1088.7,264.6" fill="none" stroke="#6a6a6a" stroke-width="1" stroke-dasharray="2,6.05"/>
<polyline points="569.5,519.1 576.4,519.1 583.4,519.1 590.3,519.1 597.2,519.1 604.1,519.1 611.1,519.1 618,519.1 624.9,519.1 631.8,519.1 638.7,519.1 645.7,519.1 652.6,519.1 659.5,519.1 666.4,519.1 673.4,519.1 680.3,519.1 687.2,519.1 694.1,519.1 701,519.1 708,519.1 714.9,519.1 721.8,519.1 728.7,519.1 735.7,519.1 742.6,519.1 749.5,519.1 756.4,519.1 763.3,519.1 770.3,519.1 777.2,519.1 784.1,519.1 791,519.1 798,519.1 804.9,519.1 811.8,519.1 818.7,478.9 825.6,464.4 832.6,453.8 839.5,445.1 846.4,437.4 853.3,430.5 860.3,424.2 867.2,418.3 874.1,412.7 881,407.5 887.9,402.5 894.9,397.7 901.8,393.2 908.7,388.8 915.6,384.5 922.5,380.4 929.5,376.4 936.4,372.5 943.3,368.7 950.2,365 957.2,361.4 964.1,357.8 971,354.4 977.9,351 984.8,347.7 991.8,344.4 998.7,341.2 1005.6,338.1 1012.5,335 1019.5,331.9 1026.4,328.9 1033.3,326 1040.2,323.1 1047.1,320.2 1054.1,317.4 1061,314.6 1067.9,311.8 1074.8,309.1 1081.8,306.4 1088.7,303.8" fill="none" stroke="#6a6a6a" stroke-width="1"/>
<polyline points="569.5,519.1 576.4,519.1 583.4,519.1 590.3,519.1 597.2,519.1 604.1,519.1 611.1,519.1 618,519.1 624.9,519.1 631.8,519.1 638.7,519.1 645.7,519.1 652.6,519.1 659.5,519.1 666.4,519.1 673.4,519.1 680.3,519.1 687.2,519.1 694.1,519.1 701,519.1 708,519.1 714.9,519.1 721.8,519.1 728.7,519.1 735.7,519.1 742.6,519.1 749.5,519.1 756.4,519.1 763.3,519.1 770.3,519.1 777.2,519.1 784.1,519.1 791,519.1 798,519.1 804.9,519.1 811.8,519.1 818.7,519.1 825.6,519.1 832.6,519.1 839.5,519.1 846.4,519.1 853.3,519.1 860.3,519.1 867.2,519.1 874.1,519.1 881,519.1 887.9,519.1 894.9,519.1 901.8,519.1 908.7,519.1 915.6,519.1 922.5,485.3 929.5,469.1 936.4,458 943.3,448.9 950.2,441.1 957.2,434 964.1,427.6 971,421.6 977.9,416 984.8,410.7 991.8,405.6 998.7,400.8 1005.6,396.2 1012.5,391.7 1019.5,387.4 1026.4,383.3 1033.3,379.3 1040.2,375.3 1047.1,371.5 1054.1,367.8 1061,364.2 1067.9,360.6 1074.8,357.1 1081.8,353.7 1088.7,350.4" fill="none" stroke="#6a6a6a" stroke-width="1" stroke-dasharray="2,6.05"/>
<text x="628.5" y="114" font-size="12.6" text-anchor="middle" fill="#808080" textLength="14" lengthAdjust="spacingAndGlyphs">24</text>
<text x="627.4" y="231.7" font-size="12.6" text-anchor="middle" fill="#808080" textLength="14" lengthAdjust="spacingAndGlyphs">26</text>
<text x="1018" y="185" font-size="12.6" text-anchor="middle" fill="#808080" textLength="14" lengthAdjust="spacingAndGlyphs">27</text>
<text x="731.6" y="364.4" font-size="12.6" text-anchor="middle" fill="#808080" textLength="14" lengthAdjust="spacingAndGlyphs">28</text>
<text x="1036" y="73.4" font-size="12.6" text-anchor="middle" fill="#808080" textLength="14" lengthAdjust="spacingAndGlyphs">25</text>
<polyline fill="none" stroke="none" marker-start="url(#g)" marker-mid="url(#g)" marker-end="url(#g)" points="933.6,157.3 661.9,351.3 635.9,360.2 654.3,378.5 922,98.5 631.6,352.3 911.1,176.5 900.4,37.5 942,144.6 952.6,63.2 660.4,353.7 650.4,387.8 659.2,374.5 649.8,383.5 949.4,132.6 835,212.7 950.1,124.1 946.6,128.6 659.1,365.2 995.5,80.4 915.8,174.8 874,195.4 858.1,205.3 624.6,345.8 659.1,346 928,65.4 991.5,99.6 673.9,324.7 661.6,369.7 975.3,99.2 867.6,198.7 940.9,137.7 978.7,111.5 949.3,149.2 886.1,192.8 886,187.8 934.8,119.2 942.3,133.3 921.6,156.9 814.1,223.7 941.8,118 723.9,31.4 973.4,84.5 634.2,346.1 950.3,138.8 904.1,181.8 628.2,361.4 655.7,385.1 881.5,196 730,284.5 896.3,184.8 904.8,178.1 919.3,172.2 661.3,356.3 704.1,299 647.4,386.4 856.2,211 1009.7,110.8 989.7,60.3 879.4,192.4 650.2,370.2 969,44.5 682,316.3 698.5,296.5 929.2,152.3 891.4,185.4 619.7,346.7 937.5,167.1 944.1,137.9 948.2,86.9 636.5,377.6 747.9,272.5 627.5,358.5 715.5,285.8 890,188.7 710.4,280.2 986.4,111.7 936.3,127.8 781.7,239.2 947.8,111.7 932,143.8 834.1,215.8 969.8,35.3 671.3,330.1 848.4,205.7 993.2,82.8 970.2,49.1 642.2,384.2 677.4,323 662.5,363.5 965.7,42.8 650.5,354.7 654.3,373.9 812.7,61.7 987.1,44.6 598.7,350.7 908.7,174.2 861.3,198.3 936.1,74.4 640.1,392.5 900.7,181.7 971.7,119.3 959,97.7 833.8,218.5 921.5,165.3 998.8,119.7 1001.4,94.8 688.6,313.6 632.4,390 986,63.4 696,305 822.2,222.4 800.3,54.4 645.5,325.9 659.3,367.8 922.7,159.6 787,246.5 895.1,63.3 720.5,40.2 801.2,231.9 937.3,149.8 928.6,156.1 968.5,60.1 901,177.7 926.3,147.3 934.3,78.1 1024.4,90.7 774.4,254.8 876.8,199.2 829.5,48.8 639.7,342.1 1021.1,83.1 896.7,181.5 1010.6,98.7 658.9,360.5 639.4,386.2 947.6,36.7 723.7,284.7 940.8,80.8 664.5,340.1 924.9,101.9 674.8,314.5 926.7,58.7 991.5,80.4 918.7,175.3 927.8,161.1 642,355.7 751.1,269 663.7,347 963.6,71.3 716.6,283 888.8,186.2 949.4,45.3 884.1,66.5 979.8,92.6 934.8,130.4 953.5,106.3 660,377.4 710.3,287.9 909,180 945.5,131.6 924.9,164.8 900.4,185.2 869.8,201.7 852.2,207.3 725.9,271.2 766.7,247.9 864.8,204.6 912.2,173.6 647.3,363.2 852.6,211.2 711,294.6 935.5,143.5 634.3,363 622.4,360.1 949.1,108.2 989.3,40.9 972.8,71.9 943.7,102.1 906.5,180.6 655,369.5 931,164.7 643.8,358.9 967.5,82.8 780.2,45.2 605,347.1 970.7,101.5 746.8,262.9 982.6,113.8 963.4,136.4 986.7,96.5 1007.7,53.4 882.3,192.8 953,119.8 944,81.3 974.9,117 641.6,330 997.8,68.6 664.7,361.7 791.4,232.8 670.1,36.1 1024,102.7 942.6,129.8 678.5,319.8 713.7,36.8 917.3,161 872.7,200 646.7,388.9 929.7,146 962.4,125.1 1017.1,79.5 914.1,178.2 673.9,328.3 705.3,286.4 893.3,183.4 971.5,111.1 861.1,206.3 940.5,121.4 917.8,169.1 617.3,354.6 665.8,327.1 741,276 959.4,117.4 642,351.9 917.8,39.4 914.9,89.6 939.3,130.1 662.6,366.8 638.1,396.6 665.3,343.3 979.2,102.1 974.7,113.8 998.8,56.5 922.7,167.8 919.1,166.6 947.4,55 790.3,245 967.7,115.6 957.8,131.3 907.9,177 939.3,133.7 951.1,128.5 931.5,148.3 939.3,142.1 938.4,116.8 636.2,388.5 659.5,334.7 959.4,137 775.3,236.8 944.4,113.1 714.9,290.2 1000.4,66.3 967,97.9 659.4,328.5 950.8,101.6 843.2,215.5 947.1,139.4 756.2,248.9 899.5,48.6 951.4,111.3 987.2,86.5 962.1,109 962.9,114.3 651.2,390.6 638.6,372.7 647.6,392.9 985,108.1 947.7,120.3 982.3,123.4 709.4,32.3 738.2,270.7 933.9,69.2 947.8,114.9 646.8,345.7 854.9,197.5 783,236.7 955.4,118.5 635.2,368.4 664.3,335.1 646.3,343.1 936.6,134.3 999.7,113.8 919.3,80.5 965.2,53.3 989.7,107.8 761.4,264.4 654.6,319.6 648.2,373.5 900.2,62.3 624.5,357.3 784,242.4 974,129.7 634.9,393.1 974.1,45.4 989.4,104 914.8,96.4 942,105.4 697.5,291.8 974.2,101.9 692.4,307.1 934.1,154.4 981.3,105.3 968.3,131.8 917.6,96.4 792.9,243.6 818.8,63.2 932.8,66.4 735.1,280.8 620.6,355.3 942.7,89.1 699.4,302.2 942.7,96 960.1,126.5 895.5,187.3 974.7,95 882.1,86.7 650.7,332 935.4,57.9 946,125.2 721,46.3 956.8,54.2 654.9,363.6 783.5,246.7 923.4,61.5 942.5,162.9 880.9,188.5 786.9,234.8 690.3,310.9 668.2,334.8 649.7,364.6 652.2,329.5 642.7,345.1 892.1,42.5 652,380.1 1019,110.1 937.2,146.1 796.4,236.9 955,71.1 947.7,105.1 666.4,320.8 788.4,237.2 958.8,109.8 667.9,339.4 949.2,89.4 943,86.4 931.7,99.9 971.9,57.9 938.9,108.3 891.6,74 939.9,99.4 629.1,334 777.9,244.8 646.6,357.7 649.2,339.5 1002.4,87.4 964.3,121.9 644.6,374 889.7,47.2 911.8,179.6 653.2,383.9 971.7,54.1 940.1,96.3 965.8,106.6 637.1,365.6 656.5,354.6 818.3,226.4 645.4,366.8 946.6,135.8 994.2,62.8 857.4,84 886.9,65.6 978.7,118.7 982.8,98.9 939.3,113.8 1007.4,93.7 886.9,47.6 827.1,222.1 975.7,75.2 930,80.2 981,48.2 770.4,258 936,140.2 659.5,371.8 760.7,260.4 958.9,48.9 646.1,380.6 973,37.3 856.3,201.6 837.4,219.4 946.8,91.9 802.9,237.3 995.6,104 937,105.6 766.4,254.4 866.8,195.9 654.3,341 661.6,322.6 829,35.6 944.3,99.1 984.7,48.7 865.6,85 660,349.3 958.9,106.1 954.9,97.8 663.2,359.3 648.6,321.5 876.5,190.4 842.1,207.8 967.5,75.2 946.3,97.3 838.8,62.1 635.7,352.7 931.3,154.4 639.1,358.7 899.8,32.5 977.3,107.3 1007.7,102.4 887.7,190.2 955.8,100.7 870.8,198 962.2,130.9 875.4,201.5 870.1,60.8 949.2,97.9 911.1,84.9 730.2,278.8 954.8,133.4 659,315 874.4,54.2 922.3,92.2 667.1,331.7 657.4,376.6 704.5,291.8 949.6,93.1 906.6,71 953.5,85.4 672.4,318.4 787.3,241.7 1002.7,67.9 952.8,125 954.9,136.3 931.4,58.4 936.8,163.7 862.9,59.5 965.5,125.1 847.4,210.9 937.8,125.6 991.7,88.1 969.6,108.1 866.5,201.3 849,208.6 641.9,378.6 631.7,392.9 799.5,240.2 650.3,327.1 958.9,101.6 937.1,137.8 919.6,62.2 926.1,167.4 968.1,67.3 645.6,370.7 737.2,277.9 642.4,363.8 745.8,266 878.6,196.6 858,61 843.7,212.8 1012.7,68.5 830.1,58.6 935.4,43.9 806.2,234.2 685.3,315.7 619.7,349.7 955.9,115.8 865.2,78.5 637.5,324.1 914.9,169.6 967.5,112.7 925.4,151.7 656.6,367.2 934.8,150.5 950.5,116.6 1017.7,89.5 607.6,344.6 639.7,349.4 867.9,68.3 642.7,387.5 926.8,93.2 749.6,259.1 854.7,52.1 967.9,89.1 653.4,388.2 1003.3,60.9 959.3,73 922.2,171.2 676.5,304.6 908.2,182.8 953.9,54.8 989.3,63.6 967.8,36.9 754.9,266.8 759.1,254.9 653.4,316.6 967.5,137.1 662.2,344.3 990.4,90.9 963.4,118.3 979.1,87.6 632.1,368.9 946.5,49.3 1001,109.7 885.3,41.6 628.6,366.8 944,109.8 663,306 776.1,250.9 672.9,36.5 956.4,64.7 863.2,200.9 865.5,190.3 1013.5,110.6 918.2,90.4 929.8,141.1 661.9,329.4 898.3,78.5 662.9,325.8 973.2,87.5 977.1,96.7 856.4,208.4 985.1,92.3 958,112.4 982.2,55.8 920,85.1 694.4,294 666.5,324.2 1005.2,81.6 700.2,287.7 989.4,68 780,241.5 656.7,381.3 958.9,79.1 971.8,141.9 762.8,250.6 891.9,60.6 924.1,72.1 998.5,63.4 933.2,161.9 964.8,111.4 984.7,104.5 775.2,243.3 983.4,86 639,338.2 634,355.2 957,127.9 774,249 939.5,147.9 913.5,57.4 739,56.3 756.5,54.4 658.7,356.3 954.3,77.4 917.4,93.6 770.3,251.9 959.9,92.9 825.5,225.7 751.9,256.1 1003.2,72.8 822.8,217.3 918.7,157.9 1008,75.5 981.3,95.1 839.8,214.4 956,123.6 649.5,344.4 823.1,227 967,86.1 654.3,334 954.2,127.7 931.8,151.2 634.2,333.7 843.7,205.1 996.1,93.5 868.4,192.9 981.1,76.1 759.8,250.9 892.1,82.5 690.1,31.7 916.4,68.2 629.7,388.8 956.4,80.4 890.8,179.3 974.6,65.6 791.7,240.4 944.7,59.1 656,345.8 649.3,367.3 852.8,74.1 924.8,157.6 671,316 954,146.6 889.8,191.9 959.9,85 867.6,58.1 635.1,381.2 807.6,30.9 970.7,130.8 657.7,330.6 936.7,83.7 888.2,86.9 839.5,217.2 917.8,58.7 885.2,71 982.3,61.8 969.7,80.2 624.4,341.8 999.7,84 800.6,31.9 951.3,142.6 926.5,34.7 642,373.2 928.4,149.2 954.2,139.3 967.5,70.6 844.4,209.1 927.9,164.8 980.6,59.4 983.5,70.6 814.8,230.1 995.5,96.7 999.2,89.6 644.6,322.6 649.8,351.8 660.2,342.5 667.9,314.5 929.4,89.5 682,319.1 642.4,341 933.8,60.1 951.8,88 804.6,227.3 649.4,375.9 624.9,334.7 693.1,309.8 975.9,122.1 941.2,110.5 972.6,79.3 939,72.2 665.1,365.7 731.5,269.7 955.2,109 955.3,59.7 962.6,144 810.4,224.6 951.1,105.1 955.7,103.7 1012.6,94.1 959.4,120.6 1007.2,70.3 996.5,116.8 971.5,66.5 614.7,356.4 611.6,355.2 636,343.5 1030.3,86.8 612.8,351.7 941.2,151.9 976.4,49.7 748.3,269.1 762.1,255.6 645.6,332.9 954.4,67.2 961.9,65.8 912.7,93.1 723.2,287.9 671.5,326.9 888.4,181.7 980.4,51 932.9,107.6 988,77 952.1,133.4 892.4,189.8 1018.5,106.7 981.1,43.2 928.4,70.4 968.8,92.4 946.7,43.4 944.3,120.1 805.2,231 906.2,31.9 962.3,105.1 656.8,372.2 913.2,65.6 736.2,46.8 1013,107.1 692.2,45 638.2,334.4 900.8,88.8 611.5,347.3 747.3,55.6 922.4,52.1 795.1,31.9 908.6,54.3 637.8,369.9 608.6,351.4 850.5,203 627.2,343.3 1003.9,98.2 612.7,341.9 728.3,276.6 639.6,389.6 937.7,87.9 976.6,70.3 772.8,246.1 1021.8,86.5 635.2,384.3 1036,91 636.3,331.6 634.2,358.1 965.8,46.4 840.8,35.3 924,64.6 986.4,53.3 654.4,350.1 639.5,346.8 651.4,361.3 963.5,128.3 648.6,347.9 939,57 921.1,64.4 937.7,45.3 743.9,273 635.7,372.1 929.8,159 970.7,114.8 953.8,95.3 971.3,62.5 754,262.5 947,80.9 967,140 837.7,57.6 677.5,307.7 875.5,40.8 730.3,32.4 983.5,101.9 644.7,377.8 1015.7,94.2 909.2,89 647,352.1 820.2,218.7 940,60.5 978.5,78.5 1004.1,119.5 930.9,103.8 995.9,99.8 783.9,49.6 737.7,275 923.6,74.8 860.6,201.4 778.5,249.5 1003.1,105 996.1,59.2 954.3,89.6 914.4,77.7 779.6,253.3 992.7,109.8 919.3,103.5 954.9,51.2 634.1,349.5 953.2,115.8 884.4,195.4 870.9,194.4 1005.3,62.9 826.4,218.6 1039,79.2 875.4,31.7 967.8,103.6 933.8,136.5 610.7,358.1 627.6,339.3 897.5,55.4 970.7,98.4 875.9,85.6 987.9,72.7 850.1,59.4 977.8,116 934.8,103.7 961.7,122.2 651.6,358.3 874.2,192.5 1002.6,81.3 886.2,60.4 639.6,366.7 918.9,87.8 707,295.5 678.3,313.3 616.1,348.9 945.3,144 977.8,56.9 1001.1,54.7 753,50.2 736.1,268 942.8,124.5 670.7,306.7 795.3,62.9 655.2,360.9 969.7,135.6 961.2,59.3 950.9,135.8 828.9,216.2 941.3,78.2 829.6,220.4 644.6,337.5 988.2,115.7 682.6,296.3 974.8,57.8 687.8,304.9 1012.6,80.8 1009.1,114.7 665.3,308.2 905.3,54.4 631.6,384.1 986,81.8 903,184.8 963.8,60.7 995.1,50.6 932.9,133 987.1,100.5 993.8,119.1 930.2,118.9 663,337.6 940.2,85.1 999.6,75.3 978,33 1002.1,52.3 920.7,162.5 981.1,128.3 944.5,37.4 848.4,42.7 615,31.4 1015.6,104 670.4,322.5 1012.3,75.9 645,350.2 977.6,85 975.7,127.7 957,91.8 665,46.3 917.1,164.6 965.7,78.9 831.5,222.2 731.7,47.5 888.4,32.9 645.1,384.6 964.9,132.1 943.5,92.4 918,52.9 879.9,88.9 966.3,61.9 657.4,326.1 979.5,63.9 936.3,63.6 756.4,263.7 992.2,50.6 730.3,274.6 1000.2,45.6 976.7,39.8 810.1,232.9 872.8,87 840.7,47.5 934.2,146 997.5,109.5 942.8,39.9 893.2,76.9 888.7,83.6 906.7,61.8 971.8,94.4 702.1,32.1 837.6,211.5 936.1,115.3 1026.9,81.5 988.7,51 638.4,327.8 641.4,370.3 925.7,69.9 985.6,89.1 934.1,122.1 626.7,354.3 978.7,72.5 995.2,65.8 987.1,57.9 960.5,61.9 959.8,36.4 858.4,66.5 962.2,94.2 664.2,349.5 881.5,69.2 867.8,73.6 955.6,87.1 967.6,119.5 894,85.7 1007.6,108 651.2,337.6 619.6,352.7 915,166.3 602.4,349.6 629,336.9 651.1,323 855.6,59.7 807.6,225.1 968.6,123.8 940.3,92.1 653.7,352.8 951.8,32.6 886.1,84 657.1,349.1 962.9,98.3 900.8,85.8 959.1,65.2 1017,84.3 665.9,337.3 960.2,140.9 953.7,82.5 964.9,64.5 917.7,78 937.9,156.8 656.9,333.5 860.4,83.3 952.8,37.9 898.3,70.7 677.4,316.7 994.2,72.8 722.6,269.7 657.6,362.7 981.9,90.3 927.9,48.7 853.2,58.3 967.1,39.5 889.7,68.4 659.1,30.6 681.1,312.8 862.8,38 945.7,76.8 939,154.1 963,42.8 926.3,89.1 992.9,102.3 656.9,322.4 839.6,65.6 949.9,57 972.9,49.7 940.4,65.6 949.4,63.4 795.3,228.1 779.4,33.5 632.5,387.1 986.4,60.8 719.3,288.5 728.7,266 916.3,171.9 933.4,82.2 1002.3,92.3 959.8,67.8 945.3,106.8 846.6,213.8 852.7,81.4 648,336.6 946.7,84.4 777.1,240.6 963.5,140.8 985.2,74.8 989.7,48.2 950.7,36 675.2,318.7 956.3,144 591.2,348.1 963.7,91.1 776.9,41.5 935.1,98.2 861.6,44.9 942.1,141.8 923.3,149.9 898.1,187.1 812.2,57.4 950.2,72.3 974.1,104.9 944.5,116.5 733.8,277.3 855.1,205.8 956.8,41.8 820.2,228.4 957.3,74.8 748.9,264.8 875.3,50.8 924.2,82.4 969.9,77.2 834.2,210.1 716.1,273.6 992.6,57.3 737.9,258.6 643.8,389.8 945,53.4 630.4,395.3 995.1,53.6 618.1,32.1 1008.3,96.3 895.4,82.7 608.6,354.1 983.4,79.8 952,98.3 639.5,353.8 681.6,306.9 908.6,66.2 824.4,44.8 679,301.6 919.4,74.6 1001.6,70.7 990,56.6 776.2,247.4 724.4,273.4 961.1,76.3 804.8,49.3 873.9,76.7 838.1,37.1 990.2,113.8 681.8,300.6 1028.9,95.4 767,258.3 959.7,53.6 932.7,140.2 995.4,122.9 998.1,105.8 992,95.2 656.1,358 971.6,33.2 971.6,42.9 1001.8,77.5 973.9,40.8 994.8,114.5 930,53.4 611.9,30.7 682.6,309.4 783.5,37.5 884.1,190.3 987.2,125.9 661.5,318.8 928.7,106.6 691,295.1 652.1,348.6 977.3,61.7 903.9,70.4 640,382 642.1,327.1 969.2,41.7 988.6,83.1 797,241.6 1020.4,77.7 677,39.1 915.7,62.6 851,51.8 699,293.9 765.9,250.5 922,153 969.6,72.5 867.4,203.9 986.2,69.7 685.7,313 1012.1,72.2 1009.6,86.7 699.5,299.3 673.5,322 752.8,260.1 723.3,277.1 1018.1,102 865.5,59.9 938.4,77.7 942.1,69.8 982.2,108.4 633.6,365.8 884.3,46.7 1005.2,76.1 861.2,76.7 814.9,227 713.2,282.5 690,300 915.3,52.1 703.1,48.9 673.3,306.7 731.5,265.2 849.4,212.7 952.8,69.3 769.5,245.6 998,101.5 930.3,94.9 940.1,46.7 920.7,54.7 923.6,43.9 744.1,49.6 883.5,187.1 652.4,376.6 978.4,82 955.9,45.9 1005.6,56.6 907.3,58.3 810.4,229.2 944,126.9 989.1,110.7 653.3,346.2 714.5,292.8 933.9,112.2 985.7,78.4 735.8,56.3 898.2,67 896.6,51 653.8,322.3 911,76.1 976.6,91.5 814.6,37.7 934,94.6 1012.5,65.3 976,138.1 645.8,354.8 630.1,340.1 868.2,81.1 638.4,363 977.9,47.5 595.8,344.4 725.8,278.5 941.1,127.4 989.6,122.6 1001.4,117.8 921.6,57.7 982.5,118.6 649.2,313.6 936.4,67.3 673.9,47.8 632.9,372.6 925.2,161.8 947.3,74.1 1010.5,62.7 741.2,271.3 946.5,62.6 808.4,59.3 993,92.8 898.1,94.2 978.8,125.2 964.1,68 1033.1,96.3 675.1,32.2 987.8,119.5 625.5,350.9 1032.5,100.6 740.2,52.6 941.1,51.2 947.2,67.5 1008.5,90.2 945.6,88.2 648.6,379 633.6,340.5 932.6,125.4 964.4,55.9 876.4,64.8 983.5,51.2 758.1,265.8 922.9,84.8 889.8,90.9 826.4,215.1 828.5,63.7 1012.5,114.3 993.7,38.1 896,191.3 938.5,40.3 791.1,237.2 1031,98.5 817.5,223.7 860.2,193.9 656.5,336.6 668.7,309.9 892.2,51.5 758.1,49.5 983,66.3 764.9,56.9 697.2,43.8 958.3,58.6 930,76.2 847.6,63.4 833.5,36.3 795.2,233.4 950.8,82.6 662.6,315 671.1,333.4 830.9,214.5 936.8,93.6 880.5,49.8 960.3,32.6 923.8,174.8 877.1,194.2 1008.1,49.8 782,250.7 707.7,284.4 667.7,318.2 731,282 764.2,31.4 857.3,34.3 646.3,329.2 875.7,58.9 977.1,131.8 726.4,285.9 715.4,277.6 592.8,350.2 1037.5,85.1 685.8,310.2 864,198.4 750.9,252.3 1004.5,112.9 822.5,60.8 916.5,74.5 730.5,55.1 640.4,322.6 955.2,151 932.4,72.1 857.7,53.9 970.8,105.3 618.1,340.5 924,105 685.3,32.7 644.3,318.1 637.5,375.1 884.6,36.3 951.4,53.1 901.2,57.9 898.1,177.8 617.2,351.6 756.1,255.9 1003.5,101.6 972.5,91.9 966.3,134.5 630.6,356.7 630.9,359.6 722.1,279.8 654.2,327.5 618.7,360.5 653,355.9 1002.8,64 996.4,111.9 752.1,266.5 646.1,360.4 864.1,52 914.7,85.4 631.2,329.4 951.3,145.7 742.4,265.2 929.7,135.4 651,320.4 878.1,76.1 857.7,38.5 753.5,47.5 664.1,312.7 672.2,313.1 897.1,91.5 872.1,64.8 1025.5,106 641.7,375.9 694.6,42.7 683.9,304.8 912,63.2 981.4,68.5 703.4,296.1 1006.3,84.6 907.6,74.4 892.7,45.2 961.5,101.6 764.1,262.4 687.7,290.6 736.2,261.7 604.9,354.7 975.9,80.9 857.2,76.6 995.2,86.2 862.4,65.3 622.3,353.4 905.9,92.1 948.4,102.5 1015,89.8 619,337.6 953.9,42.3 897.6,86 951.3,76.8 857.1,46.3 974.4,61 929.8,43.6 859.5,208.6 817.9,217.1 837.1,214.8 980.4,34.4 865.6,43.3 927.7,102.7 976,110.2 908.5,95 707.7,291 690.6,303.9 923.1,67.1 620.6,358.2 883.9,73.8 957.3,139.3 648.8,359.3 644.1,347.6 708.9,54.1 869.5,86.8 692.6,300.6 598.6,354 998.3,81.2 639.3,331.8 756.7,260.1 657.8,340.3 865.9,38.3 933.5,90.8 982.3,38.8 931.3,63.9 914,71.3 809,62.6 715.2,31.5 1021.9,68.3 977.7,43.3 799.5,229.3 969,142.2 976.6,134.9 1012.3,91.1 892.8,68.7 957.9,61.6 670.8,47.3 878.2,62.2 644,382.2 982.9,35.8 954.6,130.3 719.7,275.5 902.4,80 989.1,93.8 742.5,54 694.2,296.7 925.7,79.7 898.3,41.4 761.3,51.2 874.3,83.2 978.3,53.3 860.9,61.4 973.6,107.7 989.9,97.1 604.7,351.5 958.2,148.1 733.2,55.7 652.3,366.5 631,365.4 983.9,45.8 972.3,127.6 929,83.2 926.3,96.7 626.5,364.7 882.9,82 655.4,314.3 945.5,94.3 942.6,63.9 1021.8,89.7 887.4,62.9 830.8,211.2 965,96.2 905,39.5 972.3,134 686.9,294.4 967.3,109.7 905.3,88.8 966.7,33.2 759.7,56.4 1014.9,98.7 952,91.7 764.7,259.8 776.4,32.3 964.4,75.2 676.1,311.7 980.6,84.5 657.2,317.4 917.5,71.1 804.9,60 689.7,307.6 672.8,300.3 677.7,48.2 700.5,284.6 813.7,220.1 992.8,116.4 922.5,32 844.3,50.9 943.7,56.4 993,69.4 1012,88.1 793.1,235.2 990.9,118.9 936.9,120.8 937.1,99.9 956.3,84.3 947.1,40.3 615,345 693.8,37.2 916.5,98.9 970.6,69.6 942.9,44.8 903.4,96.2 802.2,229.1 933.5,115.8 800.3,51.1 670.8,30.8 961.4,80.6 996.6,71.1 667.9,46.8 794,58.6 911.5,49.9 689.7,292.4 675.2,41.4 936.8,112.7 734.6,265.8 852.7,200.3 839,31.4 964.4,82.1 1029,103.3 925.5,171.4 668.8,328.2 1007.2,67.5 851.9,62.5 921.8,95.2 698.8,41.2 934.9,109.3 990.2,73.9 878.6,35.8 838.4,207.9 758.1,247.1 891.5,65.9 651.1,373.9 834.3,57.5 873.4,48 719.8,282.4 927.9,99.9 975.9,87.6 926.7,154.1 861.9,50.6 952.5,49.8 696.6,302 693.3,304.1 984.9,56 632.3,337 908.8,98.1 874.5,68.8 759.5,258.1 752.3,271.3 894.4,39.7 1009.4,78.6 956.9,95.5 861.3,67.9 894.3,179.1 743.7,276.2 738,263.7 800.2,237.3 943.3,147 1023.4,100.1 990.7,77.1 886.2,184.9 927.5,138.6 926.2,74.1 968.3,55.9 594.4,352.3 680,322 646.6,375.6 620.5,343.4 743.7,257.4 869.1,32.9 994.2,89.9 711.8,291.1 931.4,122.1 941.9,115 983.4,58.9 888.5,50.4 835.5,34.2 601.8,352.7 986.6,66.8 853.2,203.1 939.5,102 691.2,38.2 957.1,69.3 944.2,50.9 743.4,268 633.2,375.3 933.4,86.1 920.3,67.9 969.9,84.8 768.1,50.6 961.3,50.4 935.8,159.7 1020.8,99.6 632.5,378.2 860.1,37 951.1,121.6 969.1,96.1 769.4,249 1021.2,94.1 820.7,225.1 867,76.2 941.6,74.2 989.9,85.9 870.3,70.9 637.2,350.6 984,110.5 999.3,59.4 637.7,379.9 954.3,112.9 1023.8,77.9 965.2,101 1005,90.8 949.5,60.8 821.3,39.5 799.1,234 1000.5,98.1 933.5,75.1 656.2,389.5 959.8,133.4 827.4,39.8 673.5,43.8 796.4,52.2 829.1,224 985.1,121 901.3,53.5 840,59 937.5,33.7 902.7,68 944,66.2 648.1,324.8 617.6,357.3 733.3,274.7 781.2,247.8 844.4,71.6 834.5,52.7 1015.9,64.6 644.4,393.2 912.4,53.9 717.9,31.7 964.2,85.5 658.4,311.2 626.9,347.2 888.4,41 593.5,346.3 896.3,60.3 939.6,68.7 980.9,71.1 1003.4,58.2 952.3,154"/>
<g fill="none" stroke-width="2.6" stroke-linejoin="round">
<polyline points="978.3,110.7 978.7,110.9 980.8,111 980.9,111.2 978.9,111.3 977.6,111.4 983.1,111.6 975.9,111.7 979.7,111.9 968.1,112.8 970.7,114.8 966,119.5 959.1,124.9 953,132.4 941.5,140.4 935.8,146.8 936.3,154.3 934.3,156.9 929.7,162.3 923.6,166.8 927.6,165.9 923.8,174.8 914.5,177.3 908.4,179.5 903.9,182.3 898.1,187.1 890.8,190.8 877.9,196.9 874.3,199.8 867.1,203.6 853.7,211.4 833.9,221.6 816.3,229.7 783.2,249.6 754.9,266.8 737.2,277.8 713.6,292.8 690.3,310.9 676.7,320.8 670.8,331 664.3,342.8 661.7,348.9 661.7,352.2 663.1,357.1 665.6,362.2 665.6,366.9 662,370.5 659.2,374.5 657.3,377.8 657.7,381.6 655.3,384.4 654.5,387.7 653.5,390.4" stroke="#3e26a8"/>
<polyline points="991.4,109.7 993.1,109.9 992.5,110 991.3,110.1 994.5,110.3 994.2,110.4 991.5,110.5 989.1,110.7 986.4,111.7 984.6,113.9 971.7,119.3 962.5,124.2 955.3,127.8 946.3,135.6 943.4,142.2 933.4,150.3 929.7,155.4 921.2,159 921.9,163.9 922.5,167.2 923.7,170.4 913.5,177.1 914.9,177.9 908.7,181.3 904,183.2 897.4,187.7 890.7,192 882.2,196.2 874.1,200.8 865.1,205.5 855.2,210.8 836.6,221.1 813.2,231.8 782,248.8 758.5,263.9 742.4,275.6 713.5,292 689.2,310.4 680.9,319.4 671.2,330.8 665.2,343.3 661.8,350.1 661.4,353.7 663.3,356.9 663.4,361.4 663.8,365.4 661,370.1 659.5,373.5 658.2,377.4 656.5,380.9 655.3,384 654.8,387.3 652.4,390" stroke="#3f28ae"/>
<polyline points="958.2,103.6 955.7,103.7 952.8,103.9 959.3,104.1 957.9,104.2 961.4,104.4 962.1,109 960.1,109 961.6,113.5 971.2,119.4 967.2,123.1 959.9,127.5 951.1,132.6 942.2,139.1 940,144.1 932.7,146.7 932.7,153 926,160.2 927.7,163.4 920.2,166.4 920.9,169.3 915.6,173.7 914.2,175.2 905.6,181.3 899.1,184.2 890.6,188.7 886.1,192.8 878.1,197.7 869.2,200.8 860.8,205.3 851.5,211.7 833,220.9 815,231.1 780.8,252.4 752.6,268.6 737.8,277.5 711,294.8 688.8,312.1 678.9,322.4 671.5,331.9 665.3,345 661.9,350.9 661.7,353.8 659.8,357.4 658.1,362.1 657.8,365.9 656.4,370.2 654.4,373.3 653.6,376.6 652,380.1 651.5,383.1 650.9,386.3 648.7,389.2" stroke="#402ab3"/>
<polyline points="978.9,105.1 981.3,105.3 978.1,105.5 980.3,105.6 983.4,105.7 977.8,105.8 976,110.2 966.9,112 960,114.9 959.4,117.5 947.7,122.7 948.3,128.4 944.4,134.5 929.8,141.1 928.5,144.2 928.4,149.2 929.8,155 923.7,160.2 920.7,164.7 920.8,169.6 918.6,168.9 915,175.5 909.9,177.1 905.7,181.8 903.4,184.5 895.2,187.3 884.2,191.9 874,197.9 871,201.7 860.6,206.7 853,211.8 830.7,222.1 814.8,230.1 780.9,250.5 756.9,266.9 740.4,276.8 710.6,293.9 688.5,311.6 678.5,320.4 670.7,331.8 664.6,343.3 661.7,349.9 660.8,353.4 658.9,356.6 661.4,361.1 662.7,364.8 661,368.9 658.5,372.4 656.1,376.4 656,380.3 654.1,383.6 653,386.2" stroke="#402bb8"/>
<polyline points="986,107.6 989.7,107.8 988.4,107.9 988.5,108 988.5,108.2 982.2,108.4 982.5,108.5 980.2,109.4 978.3,113.4 977.3,118.5 965.7,123.1 954.6,130 943.5,132.9 939.5,138.9 936.2,144.1 931.4,151.8 930.9,156.2 930.4,160.9 924.1,165.8 922.1,168.5 915.5,171 913.2,176.4 911,177.8 901,181.9 898.5,185 890.3,189.6 891,190.7 880.8,197 872.6,201 860.9,208.2 842.9,216.6 825,225.5 804.3,235.9 774,255.3 751.1,269.2 733.1,281.2 708.4,296 688.8,310.8 675.2,321.8 670,332.4 665.9,343.2 663.4,350.1 662.1,353.8 663.2,357.9 664.1,361.6 665.1,365.7 662.1,370.1 659.8,373.3 658.4,377.5 656.8,381.2 656,384.2 655.6,387.2 653.9,390.3" stroke="#412dbd"/>
<polyline points="965.8,106.6 964.2,106.8 964.1,106.9 958.5,107.1 954.7,107.2 961.8,107.3 957.5,107.5 961.6,107.6 962.7,110.3 953.1,119.7 957.1,123.3 958.1,125.5 958.7,131.5 950.9,135.2 944.1,142.2 939.2,147.8 932.9,153.8 933.5,158.7 929,164.2 927,168.5 923.7,169.5 919.1,175.3 908.9,178.9 903.4,181.8 899.9,185.6 894.1,188.4 889.6,190.8 882.7,195.5 872.7,199.5 862.4,205.8 851.8,212 831.5,222.2 812.6,231.2 782.9,250.7 757.1,266.8 739.2,277.1 706.8,296.2 685.4,312.5 674.1,322.3 667.1,331.7 662.2,344.3 662.3,348.5 661.1,354.6 660.6,359.1 662.5,363.5 662.6,366.8 659.5,371 657.9,374.5 656.8,378.6 655.8,382.3 655,385.3 652.9,387.5 651.1,390.2" stroke="#422fc2"/>
<polyline points="948.9,106 947.6,106.2 945.9,106.3 948.3,106.5 951.4,106.6 951.2,106.7 947.5,109 948.3,112.5 942,115.1 944.5,116.5 946.2,118.2 943.1,124.6 942.1,130.4 939.6,139.6 933.8,146.3 931.3,152 931.3,156.9 923.2,159.2 928.5,160.7 925.5,165.4 924.6,165.8 917.8,171.3 914.8,175 909.4,178.2 905.3,182.1 900.2,185.6 890.6,192.3 876.1,199.8 865.6,203.3 857.3,207.7 846.6,213.8 826.6,225 806,234.1 775,254.2 752.7,268.8 731,282 701.7,299.8 688.6,313.6 676.6,324 670.1,335.3 665.1,345.4 661.8,350.8 660.9,355.4 660.8,358.1 662,363.5 660.4,367.2 660.2,371.1 659,373.7 658.4,377.9 656.7,381.3 655,384.5 653.3,387.5 652.5,390.4" stroke="#4331c7"/>
<polyline points="962.2,94.2 967.7,98.1 970,102.5 966.6,106.3 966.1,107.7 967.5,112.7 964.4,115.7 962.9,119.1 955.3,124 949.6,126.5 954.5,128.7 950.7,135.1 940.7,143.4 935.5,143.5 930.9,150.4 928.2,154.3 924.4,158.8 920.8,163.5 921.9,166.5 919.8,171.5 920.8,171.3 913,176 910.7,178.4 907.2,182.7 903.7,183.8 896.7,187 892.8,192.2 881.7,197.5 873.1,200.7 864.9,205.7 848.7,213.2 830.9,222.4 810.2,233.6 780.7,251 754.5,266.8 738.5,278.1 710.2,295.4 686.5,312.6 676.3,322.2 671.8,330.7 664.9,344.3 663.8,348.8 661.6,353 661.3,356.3 662.6,360.8 662.5,365.8 661.3,369.8 657.8,373.7 656.1,377.6 655.9,381.2 655.5,384.2 653.6,387.6" stroke="#4433cb"/>
<polyline points="959.8,90.4 963.7,91.1 974.7,95 970.7,98.4 981.2,100.6 981.4,104.8 985.6,107.5 984.2,110.5 983,115.3 982.5,118.6 969.3,125.5 972.3,127.6 959.8,133.4 951.2,140.4 939.5,147.6 933.9,152.7 928.3,158.8 929.2,160.6 930.7,163.6 925.3,166.7 919.8,168.2 914.3,174.9 912,175.7 911.7,177.6 901.7,183.8 894,187.5 889.5,190.5 884.3,195.2 878.8,198.3 868.4,202.9 859.9,208.1 841.3,217.8 821,227.7 784.8,248.6 762.5,264.1 740.6,276.5 714.5,292.8 690.8,309.9 679.1,320.6 671.9,330.3 665.4,342.9 662.4,349.9 661.1,353.3 661.5,357.9 662.6,362.2 660.7,367 659.9,371.1 659.1,375.2 657.8,378.4 656,381.9 653.5,384.7 653,387.8 652.3,390.4" stroke="#4435d0"/>
<polyline points="965.3,80.6 973.4,84.5 984.7,90.7 989.6,94.3 989.9,97.1 992.9,102.3 985.9,105.6 984,110.5 982.6,113.8 967.6,119.5 962.8,125.5 958,128.9 951.9,135.5 940.1,141.5 936.6,144.9 929.8,150.3 930.3,155 928.2,159.7 925.5,164.7 929.4,166 919.2,171.3 910.5,177.3 908.2,179.4 911.9,179.5 903.9,181.9 901.4,184.5 895.1,188.1 890.4,191.4 881.7,194.2 880.8,196.8 869.3,202.5 859.4,207.8 840.9,218.1 802.3,237.5 771.6,256 749.2,270.5 727.3,285.1 697.8,304 681.3,317.2 675.2,328.9 664.9,341.7 663.4,347.6 661.3,352.3 661.2,357.3 659.6,363.1 658.6,369.1 656.5,373.5 655,377.4 654.4,381.2 653,384.4 651.5,387 649.6,389.6 648.9,392.1" stroke="#4536d5"/>
<polyline points="977.6,74 985.2,79.2 995.6,86.4 992.8,93.4 992.8,96.3 990,100.3 983.1,105 976.5,108.3 977.3,109.4 976.2,114.5 977,120.4 963.5,128.3 954.7,133.1 944.4,141.5 940.8,144.6 938.8,149 932.9,156.3 930.6,159.7 924.5,163.9 919.9,170 919.2,169.6 913.3,176 914.9,177.2 908.6,179.5 911.9,179.8 908.2,182.8 903,184.8 897.1,187.9 888.8,193 878.4,199 862.7,205.4 854.3,209.6 838.8,217.3 802.1,237 773.5,256 748.8,271.7 733.4,281.9 703,300.4 684.5,315.5 673.5,326.4 666.2,337.5 665,348 662.7,352.3 661.4,357.1 662.5,362.2 660.8,366.6 660.2,369.9 658.7,373.3 657.3,377.3 655.8,381.4 652.7,384.5 651.9,387.8" stroke="#4539d9"/>
<polyline points="969.6,71.5 979.1,78 992.9,84.5 990.8,91.1 989.7,98.4 984.4,102.6 985.3,106.7 976.7,111.5 971.7,114.3 965.8,118.8 963.6,123.2 950.5,129.7 939.3,136.7 938.1,141.8 933.4,148.5 932.1,154.9 928.6,157.4 924.2,161.5 923.9,164.7 922.8,167.6 922.2,171.2 918.6,173.8 911.5,175.7 907,179.6 902.1,183.1 895.9,187 894,188.9 884.8,194 877.8,199 868.7,203 860.5,208.3 844,215.4 823,224.9 788.4,244.6 768.3,260.4 748,272.3 721.5,288.1 696.7,304.6 681.4,317.5 672.1,329.1 665.3,341.7 664.4,349.7 662.9,353.5 661.2,357.6 660.6,363 659.3,367.8 655.9,372.8 655.9,375.5 653.6,379.2 652.4,383.5 651.2,386 650.4,388.7 649.7,391.3" stroke="#463bdc"/>
<polyline points="971.5,66.5 991.2,76.8 999.7,84 1005,90.8 997.8,98.7 992,104.4 979.4,108.7 969.2,114.1 961.9,120 962.9,120.6 961.9,125.4 945.6,129.2 942.2,135 939.4,139 937.2,145.2 930.1,151.9 930.5,154.4 924.9,161.3 921.3,166 919.9,168.1 921.6,169.5 918.1,173.5 915.8,176.3 909,178 904.4,181.6 895.2,186.2 893.2,187.6 886.1,191.8 883.8,195.6 870.8,202.1 856.5,209.3 850.3,212.2 837.4,219.4 797,241.6 768.8,259.2 747.9,272.5 724.8,286.4 696.5,303.1 680.1,316.9 671.5,328.1 665,339.5 663.3,347 662.4,351.9 660.8,358.4 663.2,362.4 662.7,367 660.9,371.2 658.8,374.3 657.8,378.1 657.2,382.2 654.6,385 653.7,388 652.8,390.8" stroke="#463de0"/>
<polyline points="976.5,56.8 976.3,65.9 985.5,76.2 986.8,85.1 986.2,92 986.7,98.7 984.6,103.4 981.9,108.5 975.7,114 970,118.8 956.9,124.9 943.5,132 938.3,138.9 942.1,143.3 930,151.1 930.5,157.7 923,160.6 918.3,165.3 919.8,168.1 916,172 916.1,173.4 911,176.1 912.7,176.5 909,180 904.8,180.5 899.2,185.4 893.5,189.3 888.6,192.8 879.9,195.4 874.4,200.1 863.8,204.7 856.3,208.9 845,214.8 806.9,233.8 777.4,252.3 751.7,268.7 730.6,282.4 702.3,300.1 685.7,314 675.2,325.8 667,337.9 664.6,346.9 660.9,351.7 660.8,356.8 660.8,362.9 660.6,366.9 658.7,372.1 657.4,376.2 655.6,379.8 654.2,383.3 652.5,386.4 651.3,389.2 650.2,391.3" stroke="#4740e3"/>
<polyline points="984.7,48.7 971.9,57.9 969.7,67.5 973.7,74.5 986.3,83.3 992.2,90.8 991.6,94.9 983.2,99.5 982.4,104.3 972.9,110.2 970.7,113.7 956.1,123 957.3,126.2 949.1,132.2 946.9,137.4 937.2,146.1 929.2,152.3 929,157.8 924.5,161.1 922.6,163.3 927.2,166.3 921.4,172.6 918.3,175.5 909.7,179.2 903.8,181.4 899.3,184.6 898.4,187.6 895.2,188.5 889.3,192.1 879.6,198.7 870.1,201.3 863.5,206.2 851.3,212.7 815.1,231.1 781.1,251.3 754.9,267.6 736.6,280 702.2,298.4 684.4,314.1 673.7,325.4 666,336.6 664.1,346 661.1,351.1 660,356.4 662.7,363.2 661.1,367.8 659.4,371.9 658.3,375.5 655.8,378.9 656.2,382.7 654.6,385.3 653.2,388.5 652.6,390.9" stroke="#4742e6"/>
<polyline points="1000.2,45.6 978.5,57.7 977.6,71.1 986.5,80.9 985.4,86.5 992,95.2 981.9,99.5 976.5,104.7 969.7,108.6 969.7,113.9 952.4,119.1 952.6,124.4 943.6,129 948.6,133.6 949.4,138.8 941.3,147.5 930.6,155.5 932.8,157.2 933.2,161.9 926.4,166.3 921.5,168.9 917.4,176.3 908.9,178.6 907.8,179.4 902,183.4 896.7,186.9 895,189.1 891.5,190.4 882.6,194.7 871.8,200 861.8,206 854.4,210.6 837.9,219.8 800.2,239.6 770.1,257.3 750.1,270.8 724.5,286 698.9,303.6 684.3,315.6 672.1,328.7 665.1,340.2 663.1,349.7 661.3,353.4 663.1,358.1 662.8,363.2 659.7,368.4 658.3,372 657.3,376.4 655.9,380 654.2,383.8 652.9,386.3 650.7,389 649.4,391.5" stroke="#4744e9"/>
<polyline points="1008.1,49.8 986.8,64.7 977.4,73.9 988,82.8 991.7,89 990.9,95.9 993.6,100.8 980,105.6 979.7,111 977.9,115.2 970.2,117.9 962.6,123.4 958.9,128.8 952.2,134.7 947.3,138.8 941.1,146.6 933.8,154.8 933.4,157.6 935.8,159.7 929.2,164.6 928.9,166 917.5,175.6 914.6,176.7 912.6,179.6 911.4,179.2 903,183.4 901.7,184.9 893.8,190.1 883.6,195.1 873.5,200.5 860.2,206.8 852.6,211.2 839.4,218.2 800.2,239.5 771.6,257 749.1,270.4 726.9,285 700.2,301.7 684.2,315 675,325.9 665.7,340.2 663.2,347.5 662.3,351.9 660.5,357.5 661.9,362.9 662.3,367.4 659.7,371.4 656.7,375.6 655.9,379.6 654.9,383.4 655.8,385.7 652.3,388.7 650.6,391" stroke="#4747eb"/>
<polyline points="993.7,38.1 980.4,51 970.8,68.4 981.4,76.7 991.2,83.9 996,93.2 994.9,100.2 992,104.3 989.1,109.4 982.9,113.5 967,120.4 961.2,127.4 949.4,132.6 942.2,138.5 938.4,145.3 934.1,148.2 929.7,155.1 932.2,157.4 923.3,164.8 919.8,167.2 914.3,172.5 917.4,177.1 910.7,178.8 907.8,180.3 903.6,182.8 903.4,184 893.6,188.7 892,188.8 887.1,192.1 882.4,194.7 874.8,198.4 863.2,203.9 855.8,209 816.1,229.9 786.3,248.3 755.3,267.3 735.4,279.6 707.8,296.9 685.7,313 674.8,325.6 666,337.3 661.9,347.2 661.2,352.4 660.9,357.5 660.2,363.8 660.4,368.6 660.1,372.4 658.5,376 656.2,380.1 654.1,383.7 653.1,386.4 652.3,388.9 651,391.5" stroke="#4849ed"/>
<polyline points="977.9,42.9 955.3,59.7 968.4,72 985.7,82.7 986.1,91.9 984.1,99.6 978.5,102.7 977.3,107.3 964.5,112.2 962.9,114.3 962,119 950.1,128.1 940.9,135 942.7,141.5 932.8,146.5 929.2,151.4 931,157.5 932.9,159.9 927.2,163.1 918.5,169 914.8,171.7 911.9,175.5 912.5,176.3 911.3,179.1 907.6,181.6 900.2,186.3 892.7,189.4 889.8,191.9 882.5,196.7 870.4,203.1 863.3,206.2 850.4,212.4 835.8,220.9 798,241.7 771.4,257.5 745.4,274 723.2,287.9 698.3,305 685.5,316.7 674.4,327.3 667.7,339.4 662.8,347.3 659.2,352.2 659.8,357.9 662.1,363.2 660.2,369 659.3,372.9 658.3,376.3 656.7,380.4 655.4,384.1 654.8,386.9 653.2,389.4" stroke="#484cef"/>
<polyline points="999.4,43.9 966.3,61.9 974.9,77.2 981.9,86.7 989,95.8 983.5,101.6 981.6,104.9 980.7,109.5 972,112 966.7,117.4 965.2,121.6 959.7,128.6 950,131.3 941.9,138.4 935.3,145.1 935.4,151.1 935.1,153.3 936.9,159.4 925.6,164.4 919.7,168.4 921.5,170.7 916.5,174.9 916.2,174.5 910.1,178.4 909.3,180.2 901.8,184.4 892.5,189 887,192.3 885.8,195.8 878.6,199.7 869.7,203.9 858.9,209.2 840.8,217.6 799.7,239.3 774.4,254.8 747.4,271.2 725.3,285.5 699,302.6 682.5,316 672.7,327.4 665,339.1 662.5,348.5 662,352.3 659.9,358.1 660.3,362.5 660,366.8 658.7,371 657.5,374.6 655,378.7 654,382.4 653.3,385.1 650.8,388.4 651.5,390.9" stroke="#484ef1"/>
<polyline points="989.3,40.9 967.6,60.1 968.7,74.5 981.3,86.8 984.3,96.7 978.4,101.9 978.1,105.5 967.8,109.9 967,114.9 959.4,120.6 955.6,128.4 950.6,131.3 952.4,138.1 947.1,139.4 938.9,148.4 927.9,152.3 925.7,155 928.2,160.2 922.8,164.6 923.7,168.6 916.6,174.1 917,175 912.4,176.5 911.1,178.3 909.6,179.7 902.7,184.5 895.9,187.1 889.3,190.1 884.7,194.3 878.5,198 871.1,202.3 855.6,209.2 846,215.1 804.6,235.9 775.5,253.7 752.8,268.3 735.5,280.2 707.3,296.8 688.6,311.9 675.8,324.1 666.9,336.2 664.5,346.7 662.1,351.8 659.4,356.3 658.1,361 658,364.3 656.5,368.9 656.1,372.2 652.4,376.6 652.4,380.3 651.7,383.7 649.9,386.5 649.5,389" stroke="#4851f3"/>
<polyline points="978.8,40.5 967.6,66.7 985.8,80.5 987.7,94.5 980.4,102.2 970.8,113.4 960.2,118.3 953.1,126.4 948.7,129.9 935.2,136.6 940.4,139.7 936.5,146.7 930,149.6 925.4,151.7 931.3,155.1 935.8,156.1 928.6,161.8 923.7,165.8 926.3,164.8 920.1,169.2 919.6,168.8 920,172.9 915.6,174.3 914.6,176.9 907.2,181.2 901.7,185.6 891.1,189.1 892,190.7 880.7,197 876.7,199.5 865.3,204.4 857.9,207.8 842.1,217.5 802,238.3 774.5,255.8 751.1,270.8 728.9,284.4 698.9,301.5 682.4,316.4 672.9,327 667.9,339.4 665.3,347.4 661.6,352 660,355 661,360.4 660.5,365.3 659.7,369 656.7,372.2 656.4,376.5 654,380.9 653.2,383.9 651.6,386.8" stroke="#4853f5"/>
<polyline points="951.8,32.6 943.7,56.4 973,71.9 987.7,84.5 983.5,93.7 982.8,98.9 979.9,103.8 969.9,109.3 963.4,113.2 961.3,113.8 951.3,121.3 945.8,125.2 942.4,132.2 935.1,138.8 932.2,144 930,151.9 930.2,156.6 931.3,157.9 929.6,162.2 928.3,164.1 925.8,166.9 925.5,171.4 918.7,175.4 913.2,178.2 908.2,180.3 902.2,182.7 894.3,187.4 887.5,191.9 882.7,195.4 875.8,199.7 866.7,203.9 861.7,206.9 844.6,215.5 806.8,234.3 780,252.6 751.2,269.1 728,283.3 699.5,299.3 685.8,313 675.7,324.7 666.9,336.6 663.7,347 661.3,352.6 660.9,357.4 661.2,362.2 661.6,366.5 657.8,370.4 655.5,373.7 654.6,377.1 653.1,380.4 651.9,383.7 651.1,386.5 650.2,389.4" stroke="#4756f6"/>
<polyline points="957,44 961.3,54.5 970.7,70.6 977.3,79.5 983.9,89.6 977.1,96.7 974.9,101.3 966.7,109.4 963.8,113.7 956.4,121 948.2,126.2 939.2,133.5 941,137.4 939.9,143.9 930.1,149.1 933.6,153.3 931.9,157.6 923,161.4 922.4,166.4 919.3,171.8 918.2,173.8 914.1,175.4 916.1,176.5 910.9,179.8 908.2,182.7 899.9,185.5 891.1,190.1 886.5,193.3 881.1,196.2 871.2,202.2 859.7,206.8 850.1,211.8 832.9,221.2 794.8,241.9 770.4,258 752.3,271.3 726.4,285.9 695.7,305.2 680.3,317.6 671.5,327.9 664,340.7 664.2,349.5 661.5,353.6 659.1,357.6 658.8,363.3 658.5,367.3 656.1,371.5 653.7,375.1 653.5,378.8 651.4,382.4 650.3,385.5 649.9,388.2" stroke="#4758f8"/>
<polyline points="938.8,47.3 949.5,60.8 970.3,74.1 979.3,84.7 982.7,91.1 979.1,100.5 975.2,106.1 969.8,112.3 970.7,115 955.9,122.8 945,128.4 937.2,133.7 930.4,139.3 934.4,145.1 927.4,149.7 922.5,156.3 924.5,160.7 923.6,162.7 923,165.4 913.5,169.3 913.1,171.5 912.2,173.4 911.2,176.7 910.9,177.6 902.1,183.7 900.2,186 896,191.3 886,194.5 879.9,198 867.4,204.7 858.5,208.6 843.8,215.4 829.1,224 791.7,245 764.1,262.4 743.1,274.8 717.1,289.1 692.2,306.6 680.6,319 673.9,328.3 665.3,339.9 662.8,348.6 662.4,353.1 661.7,357.9 659.3,362.4 658.4,366.1 656.6,370.7 654.1,375 654.5,378.1 651.5,381.6 650.7,385.3 650.2,387.8 649.1,390.3" stroke="#475bf9"/>
<polyline points="929.8,43.6 949.9,57 974.8,72.2 983.6,80.2 985.2,88.2 985,96.4 975.7,102.5 965.8,108.8 959.1,115.3 963.2,121.4 949.1,128.3 948.4,132.8 943.8,141.3 934.2,146 934.9,149.4 929.9,152.8 923.1,157 923.9,162.8 922.9,165.6 921.3,169.9 916.8,173.1 914.8,177.3 907.3,180.5 909.7,179.5 901.4,182.7 893.7,188.9 887.9,192.4 883.7,197 877.2,198.7 866.9,203.7 858.3,209.2 844.7,215.4 830.1,223.5 792.5,244.7 764.5,261.6 743.3,274.9 718.6,289.5 695.2,305.8 681.4,318.3 671.3,329.5 665,341.3 664.1,348.4 662.5,351.9 660.2,356.2 658.3,361.9 657.7,366.1 655.8,370.2 654.4,374.2 652.3,377.9 652.3,381.4 650.4,384.9 648,387.6 648.4,390.1" stroke="#465dfa"/>
<polyline points="911.5,49.9 968.9,74 991.4,88.8 994.6,96.8 986.5,104.3 981.2,111.3 977.1,115.4 967.7,118.7 961,125.2 951.1,128.5 948,134.9 943,137.9 936.9,142.6 933.9,150.4 932.7,153.1 929.7,158.1 925.8,158.2 931.8,161.1 925.3,166.6 925.9,169.8 924.1,171.6 918.7,174.6 912.2,177.1 908.9,180 903.4,183.2 900.8,185.9 893.1,189.6 886.4,192.8 878.5,197.3 870.1,202 864.2,204.5 855.3,210.6 836.2,219.3 801,238.2 773,256.3 749.8,271.2 722.8,286.9 694.7,305.3 682.7,317.2 671.4,329.3 664.6,342.4 662.6,349.5 661.9,353.2 660,356.8 661.7,362.8 659,366.6 655.2,371.9 655.6,374.7 653.9,378.5 653.8,382.5 651.7,385 650.4,387.8" stroke="#4660fb"/>
<polyline points="908.6,54.3 948.5,66.9 981.1,76.1 998.3,87.6 997.4,93.4 995.9,99.8 989.5,105.1 980.4,111.3 968.4,117.2 967.6,122.3 956.5,129 956.8,129.4 946.8,136.8 939.8,145.4 933.1,152 937.9,156.8 937.3,158.4 931,162.5 925,167.3 924.6,168.1 920,169.1 919.2,173 914.7,176 907.9,179.6 902.9,182.2 899.3,184.3 895.3,187.9 889.2,191.6 877.4,197.8 873,200.9 864.8,205.2 851.5,212 841,218.5 802.9,237.3 771.9,255.9 750.7,270.1 723.5,286.2 700.1,301.9 682.9,317.3 674,326.4 666.4,339.7 662.8,348 661,352.3 658.8,357.3 658.1,362.2 659.1,365.2 659.5,369.2 656.4,373.4 655.2,376.9 653.2,381.3 652.5,384.4 650.9,387.1 650,389.7" stroke="#4562fc"/>
<polyline points="912.1,66 958.9,79.1 978.4,85 990.5,94.6 983.5,101.9 985.9,107.1 978.7,111.5 976.6,117.4 971.5,121.7 965.6,125.9 957.8,131.3 950,137.7 945.4,141.7 942,144.6 934.7,152.6 932.3,156.5 931.8,158.6 927.2,161.1 925.6,164.3 918.5,168.8 915.8,172.3 908,177.1 911.4,176.6 912.4,177.3 910.1,179.4 903.5,181.7 899.1,185.8 890.6,189.8 883.7,194.2 878.5,197.3 865.9,205.4 857.6,209.3 852.6,213 809.5,234.4 782,250.7 756.7,266.9 739.3,278.5 705.1,297.7 687.3,312.3 675.6,323.8 666.9,336 663.1,346.5 663.2,351.3 661.7,356.7 661.4,361.4 661,364.9 658.4,369.3 657.9,373.5 655.9,377.2 656.5,381.3 654.2,384.5 652.1,387.3" stroke="#4465fd"/>
<polyline points="892.8,68.7 936.4,78.5 982.7,88.7 976.9,96.4 967.1,103.4 963.1,106.6 963.4,113.6 958,119.3 959.4,120.8 955,126.7 945,131.2 945,138.9 940,144 937.3,149.8 930.1,152.4 930.8,158 925.4,160.9 919.6,161.5 920.9,166.3 921.7,169.9 914.9,172.4 909.2,176.2 910.1,176.8 911.8,178.2 904.9,181.9 900.4,185.5 896,186.8 889.1,191.3 885.4,194.8 880,197.2 863.5,204.8 857.6,209.4 836.4,219.8 794.3,241.7 772.4,256.9 747.4,271 725.4,285 698.9,301.8 682.3,315.9 671.4,328.1 666.4,340.6 664,348.7 661.2,353.1 662.2,356.8 664.7,361.7 666.1,366.2 663.7,369.9 661.2,373.3 660.6,376.6 658.4,380.6 657.6,384.2 656.1,387.4 656.2,389.5" stroke="#4367fd"/>
<polyline points="886.9,65.6 967.5,82.8 985.6,91.2 975.7,101.8 970.5,108 968.2,115 962.1,122 957,127.9 952,133.8 947.8,135.6 944.5,139.2 933.3,143.9 936.3,148 934.8,153.3 933,155 928.1,161 923.2,162.3 921.8,164.7 916.4,168.5 915.6,172.3 916.8,172.3 913.2,175.5 915.1,176.4 911.1,177.5 907.4,180.4 900.7,184.7 896.8,186.8 891.6,190.6 886.7,193.6 878.1,198 868.3,204.1 857,209.4 843.7,216.6 803.2,236.3 772.4,255.6 749.2,271 730,284.5 701.8,299.7 682.7,315.6 672.6,326.5 666.1,336.5 663.2,346.6 662.5,351.7 661.9,356.9 664.2,361.8 664.5,365.4 661.9,370.3 660.2,374.2 659.4,377.6 657.7,381.8 657.1,384.7 655.4,387.7 654,390.4" stroke="#426afe"/>
<polyline points="891.6,74 929,83.2 952,91.7 973.8,98.4 976.8,105.7 970.4,109.6 963.5,113.6 959.5,119.5 960.9,126.2 949,133.1 944.4,136.6 937,140.2 935.3,145.6 934.2,151.7 924.1,157.8 928,160.7 920.4,165.4 921.9,167.4 914.3,169.2 911.7,174.5 914,175.3 914.7,174.5 917.1,175.3 909.7,178.7 906.8,179.8 901.4,183.7 894.5,187.8 889.1,191.7 883.4,196 877,199.6 868.5,203.1 856.7,209 843.8,215.8 812.2,232.8 778.1,253.1 757,267.1 736.2,279.2 702.9,298.4 685.8,313.4 673.8,324.1 664.8,337.6 663.6,347.2 661.2,351.2 662,357.5 663.5,362.2 662.3,366.7 660.8,370.2 660.5,373.9 657.7,378.3 655.4,382.6 654.9,385.5 653.4,388.2 652.9,390.7" stroke="#406dfe"/>
<polyline points="878.1,76.1 917.3,86.1 941.3,93.6 956.1,98.8 966.9,104.5 967.7,108.7 963,114.2 964.3,116.6 958.1,121.6 946.9,128.2 942.1,133.7 938.9,137.1 931.5,142.7 935.8,146.8 933.8,151 933.5,156.2 929.8,159 923.5,161.1 921.8,164.3 914.8,171.4 919.3,172.2 919.3,174.4 917.7,175.5 914.5,175.8 909,178.8 906.6,182.3 894.1,188 885.8,191.6 885.8,193.1 878.6,198.5 869.1,203.1 860.6,208.5 851.8,213.6 811.6,232.5 780.7,250.5 752.9,267.8 736.9,279.2 705.4,298.1 686.4,314.2 676,324.3 669.1,338.4 664.4,347.9 663.1,352.4 663,356.8 664.3,361.4 663.4,365.8 662.7,370.2 660.4,373.7 658.2,377.8 658.6,381.8 656,385 654.6,387.9" stroke="#3e6fff"/>
<polyline points="868.7,82.6 907.2,90.7 947.6,99.9 966.8,104.7 970.3,109.4 965.4,113.1 955.1,118.6 963,121.9 961,125.5 955.7,129.7 950.7,134.1 946.5,136.4 947.2,141.9 934.5,148.3 934,154.4 932.5,157.8 934.5,162.2 927.2,164.8 926.2,169.4 922.1,172.2 913,176.1 908.9,177.6 909.8,179.7 904.9,180.8 903,182.4 903.1,184.5 894.8,187.7 890.8,191 887.8,194.5 875.4,201.5 867.7,204.9 855.8,209.8 840.6,219 799.6,240.2 770.7,258 747.3,271.9 723.4,285.4 697.9,303 684.3,314.8 672.2,326.1 666.8,337.7 663.6,347.3 661.3,351.5 660.8,357 662.9,361.2 663.4,364.7 660.6,369.1 659.8,373.4 657.5,377.8 655.5,381.1 654.5,384.2 653.4,387.5 652.9,390.1" stroke="#3c72ff"/>
<polyline points="866.8,77 903,86.4 918.2,90.4 935.3,96 956.8,103.1 961.6,108.7 956,111 955,117.2 953.8,120.7 944.8,125.4 945,132.5 942.8,138.3 939.2,142.5 937.9,147.7 935.1,152.9 924.9,156.1 921.5,160.5 923,163.7 918.8,165.4 917.6,172.2 919,172.6 917.5,175.8 915.9,177.1 913.4,179.3 908.8,179.4 907.3,181.1 900.5,185.4 894.7,189.1 889.1,191.2 879.8,196.8 872.8,200.2 862.5,206.1 851.1,212.3 810.1,232.9 776.5,253.7 751.2,269.4 730.9,282.2 703.4,298.8 685.9,313.8 675.8,324.2 666.4,337.8 662.4,348.1 661.3,351.5 661,355.8 660.9,360.6 659.5,365.9 659.2,369.5 657.8,372.3 655.7,376.8 654.8,380.8 652.9,384.3 652.2,387.1 651.5,389.6" stroke="#3975fe"/>
<polyline points="857.4,84 926.4,94.6 952.7,99.1 972.4,105 969.4,110 962,112.3 962,116.4 955.7,122.2 953.6,125.8 952.6,127.7 947.7,132.5 941.9,137.9 937.6,142.6 931,144.6 932.1,152 926.8,156.4 928,159.1 924,163.6 920.3,166.5 918.5,171.4 918,172.7 910.1,175 910.9,176.3 907.9,179.8 908,180 899.2,184 896.8,186.6 888.1,191.1 882.1,195.3 874.7,199.8 867.4,203.9 856.1,208.6 843.6,215.5 802.5,235.8 776.7,252.7 752.3,268.1 730.9,282.2 704.1,299 688.3,314.2 677.5,325 667.4,336.7 663.2,346.8 662.7,351.9 663,357.1 662.9,362.1 661.8,367.4 660.6,372 658.3,375.6 656.7,379.1 655.4,382.8 654.2,385.8 652.7,388.7" stroke="#3677fe"/>
<polyline points="875.9,85.6 897.1,91.5 924.2,100.3 939,105.7 946.6,109 956.1,113.6 950.3,118 948.7,124.3 956.7,125.7 956.4,130 951.3,135.4 940.8,141.4 941.2,142.1 935.2,146.3 929.6,154.4 929.8,156.2 928.1,163 923.4,165.1 920.5,166.9 919,170.7 913.3,174.1 913.2,177 912.8,178.3 911.1,179.9 905.2,183.2 898.3,185.9 894.5,188 888.9,190.7 884,194.7 883.2,197.1 871,201.7 860.4,207.8 849.9,214 807.2,234.2 779.6,253.3 749.2,271.3 730.7,282.6 703.5,299 687.5,313.6 677.5,323.3 667.8,335.5 663.4,345.4 659,352.4 660.2,357.4 663.9,362.3 663,367.1 661.9,371.7 660.5,375.9 658.5,379.9 656.9,382.6 655.7,385.1 654.5,388.3 652.6,391.3" stroke="#347afd"/>
<polyline points="866.4,85.5 889.8,90.9 914,97.5 937.8,104 945.3,106.8 952,110.7 952.8,115.5 952.1,116 950.9,121.1 948.8,126 950.1,129.9 944.9,136.8 940.2,140.8 937.9,149.4 929.9,154.7 932.5,158.5 931.9,162.1 922.7,165.2 921.8,168.2 919.5,170.8 919.1,170.3 913.3,174.9 916,175.4 913.6,177.6 907.9,181.2 901.7,185.6 896,187.5 892.7,188.7 882.7,193.3 871.9,200.1 868.2,202.7 861.9,205.4 852.3,212.2 817.2,230.3 786.8,247.5 757.4,267 736.2,279.6 705.7,297.8 688.6,312.2 676.2,324.1 667.4,336.1 662.7,345.9 662.1,350.7 660.2,356 657.6,362.1 658.1,366.7 655.3,371.4 653.5,374.8 652.9,378.5 650.2,382.1 649.7,385.3 648.4,388.2 646.7,390.7" stroke="#317dfc"/>
<polyline points="882.1,86.7 912.7,93.1 937.1,99.9 952.2,103.9 958.9,107.6 963.4,112 960.1,117 959.3,120.2 949.3,125.6 955.7,128.4 949.2,130.3 944.8,137.2 940.3,146.1 928.7,152.2 932.8,155.3 933.8,158.1 923.7,163.3 926.6,163.7 922.9,167.1 923.6,169.6 918.4,170.2 917,174.7 912.6,176.4 908.5,179.4 909.7,180.3 904,182.8 901.9,184 896.4,186.5 892.2,190 881.7,195.8 873.9,199.8 865.3,204.8 857.8,208.4 827.3,225 787,246.5 757.4,265.5 739.2,276.7 709.8,295 688.5,311.3 675.3,323.9 669.6,335.1 664.8,346.8 661.5,352.2 659.9,358.4 660.2,363.8 659.4,368.8 656,373.1 654.6,377.2 653.2,381.1 650.6,384.7 649.9,387.5 650.1,390.1" stroke="#307ffb"/>
<polyline points="893.3,86.4 922.3,92.2 945,98.1 956.5,100.1 968.7,104.4 966.7,108.3 961.6,110.9 960.7,113.5 953.8,117.6 951.1,121.6 952.3,126.4 944,135 938.2,140.8 936.7,143.4 935.7,148.4 936.1,153.8 924.9,159.3 924.3,162.2 923.9,163.2 920.4,168.1 917.6,172.7 917.3,174.6 915.7,176.6 907.1,179 903.3,180.9 902.6,182.5 899,183.6 896.7,186.6 890.8,189.5 882.1,195.3 873.1,199.5 865.2,203.6 861.3,208.3 823.1,227 788.6,247.2 758.1,265.8 740.5,277.2 710.9,294 689.8,310.7 677.5,320.8 666,333.2 659.9,345.8 660,351.6 660.4,357.2 659.1,362.9 657.7,367.5 656.7,370.6 656.7,374.7 653.4,378.5 652.8,382.3 652.2,385.2 649.9,388.2 648.8,390.4" stroke="#2f82fa"/>
<polyline points="873.9,82.3 900.8,88.8 928,96.1 943,100.2 941.9,101.5 961.6,107 973.1,112.5 964.2,118.7 952.6,124.2 957.2,125.6 949.6,130.8 948.9,136.9 938.8,143.5 936.6,149.1 936.7,153.4 932.5,158 931.8,160 922.2,161.1 921,165.7 921.4,169.7 919.1,171.7 919.7,173 912,177.1 908.2,180.5 901.5,182.8 896,187.1 893.2,188.6 889.7,191.7 882.6,196.4 876.4,200.1 866.6,204.8 855.9,209.2 841.3,217.2 798.7,238.5 772.1,256.4 749.3,271.2 728.2,284.6 700.3,302.1 685.7,315.3 675.7,326.2 667.9,339.4 663.6,347.1 662.8,351.8 661.5,356.5 659.8,361.9 659.7,365.8 657.9,370 655.7,373.5 653.6,377.4 652.4,381.3 650.5,384.8 649.3,387.7 648.6,390.3" stroke="#2e84f8"/>
<polyline points="877.9,76 914.7,85.4 949.6,93.1 968.4,97.3 965.8,107.2 966.6,111.7 961.4,114.9 957.4,119.9 953.5,123.2 945.3,130.5 942.2,134 933.1,140.1 935.8,143.6 935.8,146.5 933.7,154.5 932.2,154.5 928.7,160.4 931.6,164 925.9,169.7 918.2,174.7 917.8,174.7 914.5,176.2 913.7,178.1 910.4,178.5 904.3,183.4 899.5,186.1 889.7,188.9 887.3,192.2 881.3,195.7 871.1,200.8 862.2,206.1 852.2,211.7 837.1,221.3 795.6,242.6 767.9,259 748.5,271.5 727.3,284.9 696.2,304.2 682.7,316.3 672,326.6 663.8,340.3 662,347.6 661.4,353.1 660.3,358 661.3,362.5 661.9,366.6 659.5,371.2 658.3,374.6 657,377.6 657,381.3 654.9,384.7 654.4,387.6 652.9,390.3" stroke="#2e87f7"/>
<polyline points="873.9,76.7 911.6,85 943.6,91.5 962.3,95.9 961,101.2 962.3,105.1 953.1,110.7 955.2,115.6 950.9,118.7 948.5,123.7 946.6,126.8 944.2,131.6 941.2,139.2 943.1,142 940.3,149.6 934.1,154.4 928.6,160 923.6,161.9 927,165.8 924.2,170.1 919.7,170.8 915.9,175.4 914.1,178.2 909,179.3 909,179.7 903,183.2 893,189 889.2,191.6 879.8,195.4 879.4,197.6 869.9,202.1 861.8,206.7 847.8,213 813.9,232.4 780.1,252.6 749.8,269.9 729.7,282.5 701.6,299.5 683.8,314.6 673.1,325 665.2,336.1 662.3,345.4 661.6,350.6 661.3,356.2 662.4,362.2 660.6,367.6 656.8,372.2 656.1,376.2 656,379.1 653.6,382.6 653,385.1 652,388.2" stroke="#2d89f5"/>
<polyline points="863.3,77.7 891.5,85.1 916.5,92.1 933.4,98 950.8,103.7 956.1,109 955.8,110.6 955.1,114.6 951.1,119.7 950.6,120.7 947.1,126.2 941.6,134 940,137.8 932.9,147 930.6,150.4 924.4,155.1 931.4,159.4 928.4,163.4 926.1,167.5 924.4,167.5 919.8,171.3 912.5,175.5 913.2,177.2 908.8,179.5 911.2,179.5 901.2,182.4 896.3,186.1 895.1,188.4 889.9,192.1 877.6,197.9 866.7,202.9 858.3,207.5 845.6,214.5 807.5,234 777.6,252.6 756.2,267.8 732.1,281.6 703.6,298.6 687.4,313.6 676.6,324.6 668.1,336.5 665.2,345.9 661.9,351.3 662.2,356.1 663,360.8 662.3,365.4 661.6,369.7 659,373.1 657.8,376.7 656,381.1 654.7,384 653.8,387.3 652.8,390.1" stroke="#2d8bf4"/>
<polyline points="867,76.2 911.1,84.9 939.8,91.8 960.7,97.6 955.6,102.5 958.8,107 957.2,108.4 958,112.4 957.1,117.1 954.7,117.3 954.5,119.9 942.3,127.9 939.3,133.7 931.8,139.3 934.8,147.6 934,152.6 933.8,157.3 932.9,159.9 929.3,165.9 922.9,168.9 915.4,173 913.6,175.4 918.7,175.3 914.7,177.2 910.8,180 903.4,184.3 899.2,186.5 892.4,189.8 886.5,192.3 883.9,195.3 875,199.2 867.6,204.6 859.5,208.6 825.5,226.3 787.2,247.4 755.2,266.4 737.2,277.9 712.2,293.9 687.9,311.3 675.6,321.9 669.4,334.1 662.3,345.5 661,351.8 661.4,355.9 663.4,360.8 662.5,365.8 660,370.5 656.8,374.1 655.7,377.6 653.4,381.4 653.1,384.3 651.3,387.6 651.1,390.3" stroke="#2c8ef2"/>
<polyline points="870.3,70.9 904.4,79 939.4,88.2 957.2,94 952.5,101.5 955.1,106.6 947,109.8 951.3,113 950.5,116.6 948.7,125 940.9,130.7 931.9,133.3 938.5,136.8 931.5,145.1 934.8,150.2 933.3,154 927,158.5 920.7,162.5 915.6,166.9 913.1,171.4 913.1,171.3 913.1,174.4 911.8,176 911.2,178.7 911.8,179 903.4,182.6 898.5,185.9 895.9,188.4 889,192.1 882.5,196.4 877.4,198.4 869.2,203.8 857,209.1 825.5,226.3 789.1,246.8 762.1,263.9 743.7,276.2 711,294.6 688.6,311.2 675.1,324.2 667.6,335.1 666,345.5 662.1,350.4 661.2,356.1 662.4,361.1 662.1,364.5 659.4,368.7 658.3,372.5 655.7,376.3 654.8,380.4 653.3,383.8 651.7,386.4 650.8,388.8" stroke="#2c90f0"/>
<polyline points="884.1,66.5 911.9,76.8 931.2,85.8 947.1,93.5 948.1,98.2 953.6,105 947.9,111.7 948.2,116.4 949.5,119.6 945.5,124.2 944.8,127 944.3,135 936.3,142.1 925.1,146.4 927.9,151.4 928.2,157.5 928.7,159.7 926.3,164.1 925,169.1 921.3,171.1 917.8,172.5 911.7,176 907.8,178 910.8,178.5 907,180 900.7,183.4 896.9,188 888.6,191.1 886.8,193.5 876.2,198.5 867.6,202.9 862,205.9 857.4,208.9 818.5,229 783.2,250.2 754.8,267.5 738,279.4 708.9,295.8 684.7,313.5 673.3,325 665.4,336.8 663.3,346.1 660.4,351.2 662.2,355.7 662.6,359.1 662.6,362.9 662,367.6 658.2,372.2 658.8,376.2 656.1,380.1 653.7,383.3 653.9,386.7 652.4,389.5" stroke="#2b92ee"/>
<polyline points="896.3,60.3 923.6,74.8 936.7,83.7 939.6,90.1 944.2,97.6 945.8,101.9 942.7,106.3 955,109.9 946,115.8 942.9,119.1 944.4,123.8 943.5,130 942.3,133.8 937.8,139.5 939.4,147.6 930.8,153.8 923.8,156.4 922.9,158.5 921.8,164.2 920.6,168.6 924.4,171.3 915.8,176.1 913.4,176.4 909.2,178.5 904.5,180.9 901.6,184.2 896.9,185.6 897.4,187.5 891.5,189.6 883.3,194.3 873,200.5 864.2,204 859.6,207.4 825.7,225.3 793.7,243.9 761.4,264.4 738.7,276.6 713.7,292.5 690.3,309.1 675.9,321.6 666.9,334.4 665.2,345.8 662.4,350.2 661.3,355.6 661.7,361.7 661.7,367 658.5,371.3 656.9,374.8 655.2,379.1 653.5,382.7 652.2,385.4 650.5,388.1" stroke="#2994ed"/>
<polyline points="877.2,61 915.4,73.3 939.9,87.9 947.2,93.4 945.4,101.1 949.5,107 948.5,111 947.6,113.6 948.2,120.3 941.6,128 942.8,127.9 938.9,134.6 938.3,142.2 938.7,146 931.6,150.4 928.4,155.5 924.8,158.7 927.9,164.8 920.3,169.1 917.3,173.7 918.5,171.4 914.5,174.5 909.6,179.1 907.1,180.3 906.6,181.9 903,182.4 900.3,184.8 903.2,185.2 895.6,189.4 883.8,195.6 877.1,199.6 860.9,206.6 853.4,211.2 819.4,229.1 786.2,248.3 756.3,267.4 735.1,280.8 705.9,297.3 687.3,312.2 675.4,322.6 667.6,335.4 662.2,345.3 661,351.4 659.9,356.7 660.9,361.2 662.8,364.5 659.5,368.9 658.3,373.2 656.9,377.5 653.9,381.1 652.7,384.3 651.6,387.4" stroke="#2797eb"/>
<polyline points="874.4,54.2 914.8,68.7 931.7,75.8 945,82 949.5,89.8 952.5,97.2 949.5,104 950.9,108.1 951.6,114 950.7,116.5 942.9,122.5 946.7,129.6 935.9,135.2 934.7,141.9 935.6,145.6 931.3,149.6 931.5,154.8 931.3,158.6 925.9,161.1 921.5,166.1 924.5,167.6 922.4,172 918.4,175.7 908.8,179.9 905.8,181 902.5,183.2 897.1,185 890.3,189.1 881.3,195.2 871.8,199.4 864.7,202.3 857,208.5 842.8,216.1 802.6,236.2 774,256.2 749.6,270.1 729.2,282.9 702.5,299 683.5,315.1 673,327.3 665.8,339 661.7,348.8 660,353.1 660.3,358 660.4,362.9 659.6,366.5 656.2,371.9 655.1,375.7 653.6,379.2 653,382.4 650.2,385.3 649.9,388.2 649.1,390.6" stroke="#2699ea"/>
<polyline points="884.3,46.7 920.6,59.7 942.6,69.4 951.3,76.8 953.5,85.4 960.1,93.6 950.9,98.9 946.6,102.7 949.9,109.8 945.6,113.7 948,116.7 948.7,124.2 942.8,131.2 938.3,140 942.3,144 935.9,149.2 932.5,155.7 929.2,160.5 927.8,164.3 924.9,165.9 924.8,168.1 922.5,170.5 916,175.2 907.3,179.1 904.5,180.3 907.5,181.3 900,185.3 892.3,188.3 891.2,190.2 886,194 880.5,196.7 868.9,201.9 864.8,203.9 833.2,220.9 797.5,240.4 764.7,260.8 742.2,274.4 720.4,288.5 693.4,306.7 680.3,318.9 671.3,331 665.1,343.3 663.3,349.8 661.4,355.4 659.7,362.1 657.9,367.3 655.7,371.7 656,375.4 653.6,379.3 651.8,383.3 649.9,385.8 649.9,388.6" stroke="#259be8"/>
<polyline points="898.3,41.4 920.7,54.7 931.3,67.7 945.7,76.8 948.3,85.1 952,93.8 950.1,101.5 950.4,105 949.1,108.2 949.7,112.7 943.4,117.9 934.4,123.3 936.4,129.3 942.9,135.3 936.2,141.3 928.7,146.5 933.5,154 932.2,158.1 924.8,163.2 924.7,166.3 924.4,167 915.1,174.3 914.3,177.1 915.6,176.4 911,179.1 907.5,181.8 893.7,187.4 889.3,190.8 888.8,193 881.3,197.9 869.7,201.9 862.4,206.6 849.4,212.7 817.2,230 782.8,249.4 756,267.7 736.8,280.7 710.2,296.1 689.8,312.4 677.4,323 667.6,335.9 665.1,346.7 662.7,353.2 661.3,358.5 660.5,363.8 659.5,367.5 658.6,372.6 657.9,375.4 655.7,379.7 653.9,383.6 651.9,386.4 651,388.9 649.8,391.5" stroke="#259de7"/>
<polyline points="861.8,44.9 908.5,59.7 933.3,68.6 939.1,77.2 949.1,89 944.6,94.8 943.3,102.2 938,107.4 941.5,113.1 950.2,115.7 951.7,117.8 947.7,127.1 940.3,133 937.6,137.1 934.5,142.5 933.9,146.8 934.7,155 932.7,159.7 925.6,163.7 927.4,167.9 919.7,171.8 911,178.5 906.5,179.6 908.9,179.7 904.7,181.3 905.8,182.2 900.3,183.4 895.1,186.7 891.6,189.9 887.9,193.8 877,199.2 867.7,203.5 856.5,209.2 823,225.9 791,244.3 760.3,263.5 741.1,276 716.3,292.2 693.2,309.8 677.7,321.6 669.5,334.7 663.4,346.3 661.5,351.2 662.5,356.1 663.6,361.5 663.2,365.5 660.7,369.9 658.8,374.4 656.1,378.9 654.3,382.6 653.7,385.6 652.5,388.4 652,390.8" stroke="#249fe5"/>
<polyline points="886,40.2 899.8,50.2 928.5,65.9 938.9,75.5 943.2,84.1 947.1,90.9 945.7,96.3 943.9,102.1 941.1,107.2 944.9,112.7 945.1,115.8 938.8,120.2 940.1,128.7 940.1,135.8 937.7,141.8 931.8,151.6 931.2,157.1 925.9,160.7 921.3,162.2 926.3,164.6 919.5,167.2 917.1,174.2 919.7,174.7 912.1,177.7 910.8,179.7 905.5,181.9 903,182.9 895.3,186 895.7,187.6 890.2,190.4 883.4,195.6 873.4,200.1 863.3,205.8 834.4,221 799.7,240.2 770.2,258.9 744.2,274 721.7,288.4 694.5,306.7 679.3,319.3 670.1,331 664.8,345 660.8,350.8 659.9,356.5 659.6,360.2 659,366 657.3,370.4 655.1,374.4 654,378.1 652.5,382.1 651.2,385.3 650.2,388.2 649.9,390.5" stroke="#23a1e4"/>
<polyline points="882.6,36 911.7,50.4 930.6,62.6 934.5,75.5 936.3,86.8 942.1,91.7 945.8,99.3 951,103.5 951.4,107.6 943.4,112.7 944.6,117.4 942.9,126 944.5,130 937.9,137.1 934.7,143.3 934.2,149.8 924.9,157.4 929.7,161 918.5,165 915.6,169.4 919.4,169.3 916.6,171.9 915,174.4 915.1,176 912,177.6 907.4,180.7 900.1,185.4 901.4,186.3 895,188.2 888.9,192.1 883.5,196.2 873.3,199.9 864.6,205 839.4,218.3 801.5,238.9 770.5,257.5 745.9,272.6 717,288.8 692,307.5 677.1,321.2 668.4,333.6 661.3,346.6 660.6,351.6 659.5,355.9 657.4,361.2 657.1,365.8 656.4,369.8 654.8,373.5 653.8,378 651.3,381.7 650.3,384 648.7,386.8 648.6,389.7" stroke="#21a3e3"/>
<polyline points="901.7,38.4 920.7,53 931.2,65 936.5,74.4 937.3,83.3 937.3,90.3 940.8,95.4 945.6,100.8 939.9,107.4 940.9,110.9 933.3,117.4 938.3,123.9 935.1,131.2 935.1,135.7 933.8,144.4 929.8,150.4 930.4,156.6 929,162.3 928.3,164.8 922.9,168.2 921.5,167.1 917.2,175.1 913.8,177.8 909.1,179.2 902.8,183 900.7,184.1 901.3,184.7 898,185.8 888.8,189.4 883.9,194.4 876,199.8 868.6,203.4 857.9,209.3 820.6,228.4 786.9,246.4 758.4,265.3 738.2,277.8 707.4,295.5 688.4,312.2 676.1,323.5 665.4,334.6 663.1,346.2 661.8,350.8 661.4,356.3 663.4,360.8 664.5,365.4 663.4,369 661.9,373 660.4,377.4 658,380.7 657.6,383.9 657.1,387.1 655,389.6" stroke="#20a5e2"/>
<polyline points="888.9,41 912.9,53.9 933.4,67.8 944.6,76.7 948.7,86.9 945.3,91.8 948.8,100.6 948.2,105.1 946.3,109.5 942.1,116.2 938.2,119.1 941.4,123.2 943.1,133.5 933.2,140.7 940.6,147.3 937,152 934.8,156.9 926.5,159.9 922,163.9 918.3,169.1 921.1,170 919.6,173.9 913.1,176.4 911.5,178 905.9,181 905.3,181.6 905.8,182.2 900.9,185.2 895.1,189.4 887.3,194.1 876.2,198.2 869.6,202.7 861.3,207 829.9,222.5 795.3,241.1 764,260.5 743.4,273.7 723.3,287.5 697.1,304.1 679.9,320.4 671.7,330.5 664.4,344 660.4,349.8 661.6,355.6 662.4,360.8 661.9,365.9 660.9,370.4 657.8,374.5 656.6,378.6 654.7,382 652.7,385.1 652,388.2 651,390.5" stroke="#1ea7e1"/>
<polyline points="876.1,40.8 910,53.6 938,71.9 943.6,81.9 946.5,92.8 944.7,99 947.5,105.8 939.8,110.3 939.9,117.3 942.6,120.8 944,125.1 938.8,131.4 934.9,134.1 941.6,138.9 939.4,143.6 935.5,151.7 932.3,155 931.8,159.1 926.8,164.1 919.2,168.1 920,169.2 919.9,173.4 911.1,176.6 907.2,179.3 909.4,178.7 907.2,180.3 901.2,183.5 896.1,187.3 893.1,189.5 888.5,193.9 877.7,198.4 866.5,204.2 857,208.4 826.1,225.7 793.5,243.6 760.5,264.7 744.4,274.9 715.9,292.8 691.5,309.6 677.1,322.8 668.8,334.8 662.6,347.1 659.9,351.8 660.7,356.9 660.1,362.9 659.6,367.7 656.9,373 655.2,376.5 653.6,380.1 652.3,383.8 651.1,386.1 649.7,389.1 649.6,391.4" stroke="#1da9e0"/>
<polyline points="879.3,35.8 923.1,52.1 932,63.9 937.3,74.6 942.5,82.4 942.6,91.1 935.6,96.4 931.8,104.8 940.5,108.8 945.1,113.1 940.1,116.9 943.5,121.3 943.1,130 941,133.6 932.5,142.5 935.8,148.6 928.6,154.6 930.6,155.6 921,163.4 918.8,166.7 923.4,166.3 916.3,172.7 913.9,173.8 911.7,176.6 907.7,179.5 900,183.4 896.2,187 894.2,188.9 889.1,192 884.4,196.2 874.9,199.9 865.3,205.7 856.7,209.6 816.2,229.6 784.4,247.5 752.9,267.2 739.2,275.6 712.5,292.9 686.9,311.2 675.6,322.3 667.5,334.9 663.1,346.3 662.1,352.1 660,357.3 660,362.5 660.6,368.2 659.1,372.9 657,376.4 654.6,380.3 652.8,384.3 652.5,387.2 652.1,390" stroke="#1babde"/>
<polyline points="895.2,39.7 910.4,56.2 924.1,65.7 934.3,75.1 934.6,82.9 938,89.3 939.5,94.7 945.3,99.5 942.7,104.9 941.2,107.1 937.7,112.7 931,118.9 933.5,125.4 938.4,132.9 936.1,138.8 936.3,143.6 931.6,153.1 925.7,157 924.7,161.9 918.4,166 917.6,169.6 908.3,176.9 906.5,179.5 908.8,179.5 907.3,180.1 903.4,181.2 908.3,182.1 904.2,185.2 889.5,191.5 886.3,195 876.7,199.1 868.2,203.2 860,206.7 825.3,224.8 791.1,245 764.7,262.2 746.5,273.8 716.3,291.2 690.2,310.3 678.8,321.9 670.8,332.7 665.7,346 661.1,351.5 659.1,357.7 658.6,362.7 658.5,367.5 656.4,372.2 655.2,375.3 653.9,378.4 651.7,382.7 652,385.4 649.7,388.6 649,391.4" stroke="#19addc"/>
<polyline points="890.6,47.2 908.3,58.3 925.1,66.8 934.9,73.5 949.6,83 954.2,88.9 950.9,96.6 950.6,100.6 951.4,108.7 946.1,113.8 942.9,118.6 947.6,123.6 946.8,129.6 939.6,137 935.5,141 930.4,146.7 925.4,154 928.9,157.8 928.2,160.1 922.7,166.6 918,168.3 914.9,173.3 912.8,176.5 908,178.3 908.7,179 905.9,180.4 898.1,183.1 899.7,184.4 893.5,187.9 883.7,192.5 881.1,195.4 873.3,199.1 865.7,204.6 836.1,219.7 798.6,239.5 767.3,260.3 744.9,273 720.2,288.5 696.9,305 681.1,318.9 669.7,331.5 664,345.4 663.6,350.8 660.4,356.9 659.8,361.6 659.8,366 657.7,370.7 656,374.2 655.8,377.7 653.1,381.4 652.3,384.7 650.2,387.5 648.2,389.8" stroke="#17aeda"/>
<polyline points="858.2,46.3 894.2,60.9 921.2,70.4 940.1,77.6 938.6,86.9 948.7,95.2 949.9,99.3 949,105.8 953,110.6 952.7,113.8 941.6,120.3 938.6,126 937,134.2 937.2,139.6 933.2,145.3 928.4,153 923,157.4 923.1,161.5 925.9,165.8 924.7,169 921.3,170.5 915.8,177.1 911.4,177.9 910.7,176.9 912.6,178.2 905.8,181.1 902,183.2 897.7,184.8 894.1,188.7 894.3,189.6 886.9,194.8 878.8,197.5 869.9,203.1 842.4,216.8 806.5,235.5 771.9,256.2 747.4,270.9 726.2,284.8 699.4,302.7 682.9,317.7 673.9,329.1 666.6,343.1 662,349 663.1,354.8 664.2,359.3 661.9,364 659.7,368 658.4,372 657.1,376.2 655.7,379.6 654,382.7 653.6,385.8 652.6,388.1" stroke="#14b0d8"/>
<polyline points="876.5,50.8 907.7,62 933.6,72.1 940,80.5 941.8,86.2 945.8,92.9 948.3,101.2 948.5,104.8 944.8,106.4 945.9,113.2 942,117.2 941.7,121.4 936.2,131.5 935.3,139 935.9,144 940.7,147.9 930.1,156.3 927.9,161.4 926.5,162.8 922,167 919.2,168.9 912.3,175.4 912.9,176.4 909.3,178.2 910.6,177.9 910,179.5 904.6,180.7 906.5,181.8 899.8,184.7 895.1,188.3 889.7,191.8 880.7,196.8 872.9,201.1 854,211.6 815.2,231.2 780,252.6 752.2,271 731.9,282.6 701.9,299.6 682.7,316.3 672.1,329.2 665.9,342.5 660.8,350.4 661.2,355.9 662.7,360.2 664.1,366 660.6,371.3 659.7,374.9 658,378.5 656.9,382.4 656.2,385.6 654.3,388 652.4,390.6" stroke="#10b2d5"/>
<polyline points="859,53.9 889.6,63.9 915.3,71.3 945.3,81.3 949.8,84.8 949.6,93.9 945.6,97.3 946.3,101 948.4,108.2 942.8,110.9 946.6,115.3 943.8,121.6 938.3,126 940.8,131.3 943.1,137.9 932.5,145.3 936.9,154.7 929.9,159.7 923.1,163.8 921.9,167.9 915.3,170.3 911.3,177.1 913.8,176.1 908.5,176.7 905.8,177.8 902.6,180.6 904.3,180.6 901.2,183.7 896.8,186.2 889.1,190.4 885.2,193.9 878.9,197.9 871.1,201.7 848.1,213.3 810.7,232.1 775.9,253.5 751.9,270.2 726.7,285.5 700.7,302.2 680,318.2 672.2,328.5 662.9,344.1 662,350.4 661.6,355.9 662.4,360.9 662.7,365.6 659.7,370.6 659.1,373.9 657,377.7 654.6,382.1 653.4,384.9 652.7,388" stroke="#0cb3d3"/>
<polyline points="856.3,53.4 892.7,62.4 929.2,72 943.3,79.8 943.3,85.9 945,92.4 946.3,98.9 940.9,102 942.8,110.3 944.3,113 937.5,115.3 935.5,121.5 938.6,127.7 937.9,133.1 942.7,139.2 941.9,147.8 924.4,155.1 923.3,158.9 925.7,163.8 922.6,168.3 925.2,168.4 920.1,174.9 914.7,176.4 911.4,179.3 907.2,180.8 904,181.1 902,183.2 903.8,183.6 897.3,187.7 893.8,188.7 886.2,194.7 879.9,198.5 872.1,202.7 845.7,214.3 803.8,235.5 772.4,255.6 747.1,271.7 725.4,284.1 698.5,301.4 683,316.9 670.7,329.7 666.2,343.8 661.8,350.6 661.9,356.8 663,362.1 661.9,367.3 660.9,371.6 659.9,374.8 658.2,378.6 657.5,382.3 656.1,385.5 653.7,388.4" stroke="#08b5d0"/>
<polyline points="852.5,59.9 899.8,70.7 941.8,81.3 941.6,88.5 944.6,96.5 943.4,100.5 942.5,106.1 945.2,107.8 946,112 949.4,114.9 943.4,121.3 944.4,126.8 937.7,131.7 935.3,141.7 928.7,145.2 929.6,151 927.8,155.9 924.4,159.3 920.5,164.6 919.4,168.2 921.7,170.3 915.7,175.3 915.8,175.1 910.5,178.7 910.4,180 905.1,183.4 900.4,185.7 891.6,188.7 896.7,186.9 888.2,191.5 882,196 869.7,201.9 865.8,204.7 839.2,218.2 801.8,237.3 769.1,258.5 742.8,274.3 722.5,287.8 693.4,307.5 677.5,321.2 668.6,332.6 664.6,343.8 661.2,350.3 661.8,356.7 661.2,362.3 661.2,367.1 659.1,371 657.9,374.9 656.8,379 654.6,382.7 652.9,385.7 652.1,388.5" stroke="#05b6cd"/>
<polyline points="841.7,59 891.4,68.4 927,74.7 941.2,80.4 944.7,86.4 947.8,89.6 945.5,96.1 946.1,101.9 945.5,106.3 945.8,113.3 953.8,116.7 943.3,122.4 938.2,125.8 938.1,132.2 938.1,136 934.6,144.3 933.1,150.3 930.4,155.7 924.4,160.8 922.7,167.3 923,167.3 915.3,175.1 914.5,175.1 912.5,177.1 912.6,178.1 905.5,180 894.3,185.7 890.7,188 892.3,189.3 887.2,191.9 877.7,196.6 875.7,199.3 869.1,202.7 841.2,217.2 805.7,235.6 769.7,258.1 747.3,272.4 721.3,287.3 694.1,307.1 682.6,319.2 671.6,329.8 663.3,343.4 661.7,349.3 661.1,356 661.1,360.5 661.4,365.7 660.9,370.7 657.6,375.1 656.5,378.9 653.9,383.1 653.3,385.5 652.3,388.1 650.9,390.8" stroke="#02b7cb"/>
<polyline points="842.5,66.7 869.6,73.6 895.9,80.6 921.2,86.9 942.2,92.1 949.1,96.8 947.3,101.3 947.1,105.1 947.6,109.7 945,114.4 948.4,117.2 938.6,124 942.9,127.4 939.3,132.7 938,139.8 939.5,145.8 936.7,153.8 935.8,158.4 921.4,161.6 923.5,166.3 920.1,170.1 916.6,176.4 911.7,177.6 913.3,177.3 910.8,177.8 903.4,182.2 899.4,183.6 899.2,184.9 893.7,188.1 888.3,191.4 885.6,195.2 876,199.1 871.2,202.5 845.1,215.5 809.4,233.4 776.4,254.1 751.5,269.6 729.6,285 699.3,302.4 680.9,318.1 670.6,331.2 665.3,344.8 663.6,349.5 662.5,355.2 661.6,361.1 660.3,367.4 659.8,370.8 658.4,375.1 655.1,379.4 652.4,382.9 652.8,385.5 651.7,388.4 650.7,391" stroke="#01b9c8"/>
<polyline points="846.3,71.6 863.1,76.7 893.5,83.5 912,88.1 938.2,95.5 947.6,98 949.4,102.7 948.8,105.1 946.3,110.6 941.8,113.6 936.8,119.2 940.9,122.5 942.2,128.8 938.4,135.5 936.2,139.1 935.4,146.9 927.4,152.5 927.6,157.2 922.7,161.1 926.5,163.2 922.1,166.6 919.4,174.4 910.6,177.6 906.7,178.8 911.1,178.4 905.2,180.4 903.1,182.9 898.5,185 895,186.6 890.3,189.7 882.6,195 872.4,200.5 871.3,202.2 846.3,216.1 808.6,234.8 772.3,256.5 747.6,272.7 723,286.8 695.3,304.1 680.5,318.7 672.3,330 664.2,343.6 661.4,350.6 660.3,357.1 661.3,362.1 659.7,366.5 658.1,370.9 655.6,375.9 653.9,379.2 652,383 651,385.8 650.4,388.4 649.4,391.2" stroke="#02bac5"/>
<polyline points="853.3,75 865.4,78.2 885,82 897,84.3 917,89.6 935.1,94.7 946.4,99.1 945.6,102.3 942.8,107.4 936,112.2 944.3,117.4 943.5,118.8 944,127.2 943.9,132.7 940.8,136.6 935.5,140.1 930.5,151.1 925.6,157.3 924.1,158.6 918.6,166 919,167.9 908.8,175.2 910,177 912.3,176.2 913.2,178.1 913.5,178.8 907.6,181.2 904.3,182.9 899.1,186.5 896.1,189.2 888.7,193.1 876.3,198.7 871.7,201.5 847.2,214.6 811.4,231.9 775.4,253.9 753.2,269 730.3,283.5 700.6,302 679.5,316.7 668.7,328.5 661.9,342.4 663.3,349.8 661.4,355.5 662.6,361.8 659.7,367.8 657.6,371.5 657.1,376.2 655.4,380.2 653.4,383.6 652.6,386.1 651.6,388.9 651.3,391.3" stroke="#03bbc2"/>
<polyline points="864.4,79 876.5,83.2 890.5,86.9 910.1,91.8 915.5,94.3 924.3,98.5 943.6,101.8 944.2,105.4 947.5,108.6 947.9,114.1 940.2,118.4 942.2,125.4 939,130.6 936,139.3 934.9,140.2 934.7,143.8 932.2,152.8 929,154.1 928.1,159.9 930,163.6 923.7,167.3 920.1,174.8 917,175 914,176 909.1,178.1 907.9,180.9 902.1,183.8 897.1,185.9 893.7,189.5 884.4,194.5 877.4,198.7 872.8,199.6 866.1,203.3 840.8,216.9 804.4,236.2 772.4,256.9 749.9,271.1 724.1,286.3 696.1,306.1 680.5,318.9 671,330.4 663,343.8 662.2,350.9 662.5,355.5 663.5,360.6 661.3,366.3 660.3,371 658.6,374.3 655.3,378.2 654.2,382.7 653,385.5 652.2,388.6 650.6,391.1" stroke="#08bcbf"/>
<polyline points="867.6,78.5 865.9,78.6 872.7,81.1 896.4,85.7 911.6,89 937.3,94.2 945.7,96.1 942.3,99.4 952,104.7 956.6,106.4 942.8,111.8 941.8,117.6 943.1,124.5 939.2,127.8 935.3,133 941.3,141.7 934.3,152 930.2,155 927.3,160.8 918.7,164.7 918.2,167.4 910,176 912.2,176.5 908.7,179.7 910.7,178.1 905.3,182.3 896.1,185 893.3,187.8 890.5,191.5 887.6,193.7 876.7,198.6 871,201.9 864.8,205.4 836.1,220.3 799.1,238.7 767.1,259.8 744.2,273.2 719.2,288.9 697.5,305.4 680.3,319.3 670.5,331.4 664.9,343.5 662.9,349.4 662.8,355 661.1,360.1 659.7,365.2 657.7,369.4 655.6,373.6 654,377.9 652.2,381 651.5,384.3 650.9,387.3" stroke="#0cbdbc"/>
<polyline points="855.2,81.4 857.8,81.6 868.2,85 882.4,88.9 900.6,94.2 911.3,98.1 922.3,101.7 921.8,103.5 931.2,106.6 944,110.8 942.4,113.7 939.4,119.9 940.4,125.6 936.1,131.4 940,136.5 936.6,145.9 931.4,153.5 929.3,158.6 924.9,162.2 925.3,166.9 919.9,169.3 915.8,176.5 910,179.2 908,180.3 907.6,179.6 905.9,180.6 903.4,183 897.2,186.6 892.5,189.2 890.6,192.2 881.9,195.8 871.8,200.9 861.6,205.7 832.2,220.5 799.4,238.7 769.5,258.3 747.7,271.6 719.6,288.2 693.8,307 678.4,319.8 671,332.6 665.8,345.2 662.8,351.6 661.3,356.3 662.2,359.6 660.3,363.3 659.7,367.9 659,371.9 655.9,375.3 654.5,379.2 653.8,382.5 652.3,385.8" stroke="#12beb9"/>
<polyline points="864,84.4 872.1,86.8 883,89.7 902.3,94.4 919.1,98.9 927.6,101.9 939.6,105.6 941.4,107.8 946.4,113.1 950.2,116.4 950.9,122 947.4,126.6 943.2,133.1 938.5,136.8 938.1,143.1 934.1,148.1 929.7,154.4 926.3,158.2 920.8,164 922.1,167 922.3,167.3 921.8,172.6 918.8,173.6 918.9,176.5 912.5,179 906.8,181.2 907.9,181.2 902,183.9 899.5,186.6 890.6,190.6 882.9,194.5 879,199.1 872.2,202.3 842.5,217.5 804.5,236.1 769.9,257.8 746.3,272.9 722.8,287.5 695.1,306.5 677,320.7 671.6,331 665.6,343.7 664.2,349.1 660.6,355.6 660.6,359.9 659.3,365.4 658,369.4 655.1,373.6 655,377.1 653.1,381 650.4,384.4 650.4,387.4 649.1,389.9" stroke="#18bfb6"/>
<polyline points="883.6,81.5 885.8,83.3 895.5,87.2 908.7,92.1 911.3,95 923.1,98.4 938.3,101.3 937.6,103.7 939.6,107.1 941.7,112.9 939.9,114.6 937,122.1 937.7,130.4 936.2,133.3 933.2,141.5 935,146.9 929.8,157.3 928.6,160.1 929.4,162.3 925.6,166.3 922.5,171.1 913.8,177 915.5,176.5 915,177.7 912,177.8 911.3,178.4 904.9,181 901.1,183.7 899.8,184.8 890.4,191.2 884.6,194.2 879.5,198.4 873.2,202.1 847.3,215.3 811.2,234.1 772.6,256.6 749.7,269.8 727.8,283.7 697.1,303.1 678.7,319.1 670.8,329.5 665,342.9 663.5,350.1 660.9,356.4 660.6,362 658.8,367.1 656.8,371.8 656,375.7 653.7,379.8 652.4,382.9 650.9,386.1 649.2,388.8 648.8,391.3" stroke="#1dc0b3"/>
<polyline points="895.1,82.5 898.4,82.7 898.8,82.8 902.2,86.3 914.4,91.3 921.1,96 930.1,99.5 934.7,102.5 942.3,106.7 940.4,107.6 944,112.8 943.4,117.3 944,123.5 934.5,132 941.1,137.9 938.1,142.2 934.6,148.8 926.7,155.4 921.7,161.5 919.2,165.3 923.5,165.5 914.5,174.9 913.4,175.4 914,176.6 908.1,179.2 902.2,181.4 898.7,182.1 899.8,183.6 897.6,187.4 892.3,190.7 887.8,193.3 878.4,197.5 875.1,200.6 847.1,214.3 809.2,234.2 778.9,254.3 751.5,271 726.6,284.7 699.8,301.8 681.2,317.6 671.5,329.6 665.2,344.1 664.1,350.4 662.1,357.6 660.5,362.7 659.6,367.2 656.9,371.7 655.4,376.3 653.7,379.9 652.8,383.5 651.9,386 650.3,389.1 649.1,391.5" stroke="#22c1b0"/>
<polyline points="891.8,83.6 894.4,83.7 892.7,83.8 889.2,84 892.5,84.7 909.7,88.9 920.5,93.6 929.4,96.7 934.8,99.9 941.2,104.7 936.7,107.3 940.5,116.4 941.7,118.4 941.1,128.3 937.3,133 933.2,139.9 929.6,150.8 930.6,154.7 922.4,158.5 926,162.9 920.9,165.8 915.2,175.1 912.3,176.9 912.9,177.7 910.1,178.5 905.7,180.9 905.8,181.8 905.4,182.1 898.5,185.9 893.8,188.3 887.5,192 879.7,197.6 869.9,201 852.1,210.9 817.5,229.5 779.2,250.9 753.9,267.8 734.9,280.7 706.5,297.4 684.4,314.2 672.3,327.3 665.8,339.3 661.9,348.6 659.7,356.2 661.3,362.4 660.9,368.3 659.5,372.4 658.4,376.4 656.8,380.2 653.8,383.9 652.6,386.3 651.6,388.6" stroke="#26c2ad"/>
<polyline points="895.9,85.6 898.2,85.7 899.2,85.9 900.9,86 896.1,86.1 894.8,86.3 903,89 914.4,94.1 921.7,98.6 931,102.7 945.4,108.8 941.5,112.8 945.3,118.3 945.1,123.8 940.3,131.7 941,139.5 936.4,145.2 933,153.5 931.8,159.3 923.8,165.1 922.6,165.1 913.7,174.1 910.9,177 914.2,177.9 910.9,179.2 902,182.1 903.5,183 899.8,186.8 900.3,186.9 893.3,189.6 880.1,196.8 879.1,198.2 870.9,202.2 845.8,214.5 811.7,232.7 778.9,253.2 754.2,269.6 729.4,283.8 699.8,302 681.9,316.4 671.6,327.7 663.5,342.5 661.2,349.5 660.6,355.2 663.4,360.3 663.2,365.7 659.6,370.2 659.6,374.1 657.9,377.6 655.7,381.4 655,384.5 653.2,388.1 651.7,390.6" stroke="#29c3a9"/>
<polyline points="901.8,78.2 905.4,78.3 901.7,78.5 902.2,78.6 899.3,78.7 919.1,85.7 922.3,87.8 934.6,94.2 941.9,98.4 939,101.9 933.7,106 939.4,111.2 946.3,118.8 943.7,125.5 942.1,131 939.9,136.7 936.3,144.8 935.4,152 932.2,156.1 927.3,161.7 926.8,163.5 915.6,174.8 907.2,178.2 910.3,176.2 910.3,178.4 904.4,182.6 897.9,186 894.7,187.9 891.5,190.6 889.8,193.2 883.1,197.4 872.5,200.9 864.1,205.8 836,220.2 800.7,237.6 765.2,260.8 742.9,274.2 721.3,287.7 696.7,303.9 680.9,318.7 669,330.7 663.7,344.5 661.3,351 662.9,357.2 662.3,363.1 659.8,368.7 660.4,372.7 659.1,376 658,379.1 656.8,382.8 655.9,385.9 654.2,389.2 652.9,391.3" stroke="#2cc4a6"/>
<polyline points="911.1,74.4 918,77.7 926.1,82.5 923.6,85.1 929.9,89.1 937.6,94.6 937.5,99.7 941.6,104 945.5,109.8 948.7,112.3 948.9,112.3 952.5,117.8 954.1,124.9 941,133.8 938.2,141 929.7,147.5 927.5,154 925.1,156.9 925.8,161.2 928.6,166.9 919.7,168.9 916.7,175 910.8,177.7 912.2,178.2 909.1,180.3 898.8,185 895.3,186.6 891.2,188 890.3,188.8 885.7,193.3 878.1,198.8 867.5,204.2 859.7,207.3 831.9,222.2 794.7,241.1 764.2,260.4 742.6,275.4 718.4,290.2 691.1,309.6 677,322.3 667.7,334.1 665.3,344.6 663.6,350.4 661.6,356.9 664.5,362.4 662,367.8 662,372.1 661.3,376 658.9,380.2 657.9,382.7 656,385.6 654.9,388.5 654.7,391.4" stroke="#2fc5a3"/>
<polyline points="921.2,71.1 923.1,74.6 929.4,79.7 924.3,81.6 928.9,88.1 937.2,90.8 943.7,96.3 933.9,100.1 934.5,105.9 938.6,109.3 937,114.2 942.4,118.1 941.8,125.5 935.7,132.3 931.2,138.6 934.5,144.8 925.5,149.8 923.4,156.3 921.3,157.6 920.8,164.6 920.7,166.3 917,173.7 918,176.5 913.9,178.5 908.1,183.1 905.2,182.6 894.8,185.8 893.5,189.1 889,192.5 881.8,195.5 871.4,200.1 865.6,203.9 859.3,206.7 831.9,221.6 795.4,240.4 766.8,259.7 744.4,273.7 716,290.2 693.4,307.6 678.2,320.7 668.3,333.6 663.9,344.4 660.6,351.2 659.8,358 662.3,363.6 661.8,368.4 659.5,373.1 657.6,377.5 656,381.3 655.1,384 654,387.4 652.8,390.2 651.3,392.9" stroke="#31c69f"/>
<polyline points="902.8,67.8 912.7,72.9 917.9,77.7 923.2,80.5 933,84.3 941.5,87.9 941,94.7 937.2,98.7 949.9,103 948.2,105.7 946.4,108.9 944.2,115.6 943.9,121.1 940.5,127.8 939.3,131.8 931.8,141.2 931.7,148.9 928.2,156.3 926.4,158 921,164.9 919,167.1 915.1,175.6 912,177.2 906.7,179.3 906.1,180.8 901.3,183.9 899.6,184.7 898.3,186.9 895.9,188.8 886.2,194.3 883.2,196.6 876.5,200.7 868.3,203.7 839.7,218.4 800.1,238.2 768.1,258.8 744.1,273.5 721.2,288 693.8,306 678.5,319.9 669.5,331.3 662.4,343.8 661,351.1 658.3,357.3 660.6,363.4 659.1,369.2 656.3,373.5 655,377.1 653.2,381.2 652.2,384.2 651.9,387.1 650.7,389.8" stroke="#34c79c"/>
<polyline points="893.8,64.8 910.6,69.2 921,73.6 930.5,78.3 937.4,82.2 946.2,87.7 949.4,94.3 943.9,97.8 946.6,103.4 946.2,107.2 948.7,109 943.8,116.1 942.9,118.9 941.4,125.8 942,132 936.5,139.5 928.7,146.9 925.9,153 925.9,162.4 926.6,163.9 922.8,167 919.3,173.5 911.6,177.1 909.6,178.2 906.6,180.1 906.2,182.1 902.5,183.8 892.8,188.4 892.4,189 884.3,193.7 882.2,196.4 870.3,202.7 861.7,207.1 827.9,224 792.8,243.8 763.6,262.5 741.7,275 714.7,291.6 689.8,310.2 677.1,321.6 669.2,332.6 663.2,345.1 661.8,350.7 660.7,356.9 659.6,362.6 657.2,367.9 654.1,372.3 653.1,375.9 652.6,379 651.5,383.4 651.4,386.4 650.1,389 648,391.2" stroke="#36c898"/>
<polyline points="907.6,58.4 914.1,65.1 928.3,72.1 932.5,76 941.7,79.7 947,85 953.4,89.7 948.3,93.4 950.4,95.3 956.3,100.4 952.7,106.8 950.9,113.2 953.9,118 951.3,124.1 943.6,129.2 937.8,139.4 932.4,148 925.4,155.9 926.4,157.5 923.9,160.5 928.4,164.8 919.2,174.1 915.4,175.9 913.8,177.4 907.5,179.7 896.9,185.4 898.2,185.5 892.9,188.7 893.5,189.9 885.6,193.6 874.3,199 866.6,204.1 858.9,208 825.3,225.7 790.1,245.3 759,265.2 742.3,275.3 716,291.1 689.1,310.3 675.1,323.2 668.1,334.1 663.2,345.3 659.7,350.9 658.7,357.4 659.4,360.9 658.7,366.3 658.2,370.2 656.8,374.1 654.5,378 653,381.9 651.4,385.1 650.5,387.5 649.5,389.6" stroke="#3ac994"/>
<polyline points="913.5,53.1 920.2,60 936.5,69.1 941.7,74.8 946.2,80.4 947.2,86.2 948.8,88.6 953.2,94.2 954.1,98.9 957.7,104.3 958.3,108.9 950.8,111.6 950.1,115.6 947.1,124.5 942.1,133.1 937.3,141.1 936.6,151.1 932.9,156.1 929.8,160.7 927.7,163.1 922.8,167 915.1,173.4 910.8,177.2 908.9,178.8 904.6,182.3 898.5,185.2 898.8,184.9 895.7,186.7 887.8,191.3 886.4,194 883.7,196.2 877,200 867.4,205.1 831.4,222.1 795.3,242.5 760.7,263.7 744.5,274.4 716.6,290.6 690.8,308.7 675.4,321 663.8,334.7 660.3,345.8 659.4,351 660,356.2 661,362.3 661.3,367.1 659.9,370.6 658,374.8 656,378.7 654.5,382.4 654.1,385.9 652,388.9 650.9,391.4" stroke="#3dc990"/>
<polyline points="932.4,48.7 938.2,58 938.8,63.6 935.8,69.1 936.5,74.9 941,81.2 940,87.1 942.6,92.2 951.2,98.4 947.3,102.9 948.7,106.5 947.2,111.7 947.6,119.5 946.9,122.7 946.7,131.3 946.7,137.9 940.6,147.2 928.3,153.8 924.5,159.7 928.1,163.1 925.4,166.7 918.8,174.6 914.1,177.7 914,176.3 907.8,179.1 901.6,182.7 899.8,184.6 895.2,188.1 890.8,191.7 882.6,196.5 872.3,201.2 862.6,206.8 853.6,210.5 818.4,229.3 785.6,247.8 759.8,264.2 739.4,276.9 710,294.7 686.4,312 673,325.4 666.6,335.3 663.2,345.5 659.8,351.4 661.4,357.2 663.8,362.7 663.7,367.6 662.2,371.3 660.9,375 658.7,378.5 655.9,382.5 654.6,385.8 654.6,388.5" stroke="#41ca8c"/>
<polyline points="891.5,47.6 902.1,55.4 917.8,65.6 939.9,74.1 947.8,82.4 944.8,85.1 947.7,91.7 948.3,98 949.2,103.8 943.5,108.3 946.4,115.8 943.9,119.2 944.2,124.5 942.5,133.7 936.6,138.6 937.2,141.4 933.6,149.7 931.5,155.7 927.3,159.6 923.7,165.8 922.5,165.6 920.4,173.1 910.7,176.5 906.3,179.9 905,181.8 905,182.9 899.3,185.4 892.2,189.1 888.4,190.7 878.9,196 871.3,201.3 864.1,206 851.8,212.4 813.6,231.5 783.1,249.5 756.7,266.5 740.6,277.2 708,296.1 685.7,312.7 675,323.6 665.4,335 660.3,346 660.2,351.5 658.9,358.2 659.9,364.1 657.7,369.3 655.7,374.2 653.8,378.8 654,382.7 651.5,386.1 650.6,388.3 649,391.1 649,393.2" stroke="#46cb88"/>
<polyline points="888.7,42.3 901.4,52.8 910.6,63 921.1,68.2 934.8,76.2 937,83.2 948,90.8 947.4,94.4 948.2,99.2 952.2,103.3 946.7,110.5 950.8,117.1 946.8,123.1 949.6,130.4 943.4,135.2 939.4,144 938.1,148.1 931.9,155 929.8,158.3 927.2,161 927.2,165.8 917.3,174.4 916.3,174.7 911.2,177.4 909.1,178.9 907,181.2 900.7,184.5 893.8,188.5 887.1,192.2 883.5,194.5 876.6,199.3 865.3,204.6 860,208.1 826.6,226.6 788.3,246.7 760.8,264.9 740.3,276 709.8,294.3 687.8,311.7 677.5,320.9 665.9,334.5 661.8,345.9 662,352.3 660.8,358.5 659.8,364.5 658.2,370.7 656.5,375.3 656.2,377.8 656,381.4 654.1,385.9 653.8,387.9 651.8,390.9 650.5,393.6" stroke="#4bcb84"/>
<polyline points="862.7,38.5 878.3,48 896.6,58.4 913.6,66.2 921.5,74.5 939.2,81.3 951.6,88.2 961.7,92.8 961.8,95.5 966,99.8 956,105.1 954.2,108.8 954.1,115.5 954.8,126 946.3,132.3 946.1,139.9 942.4,145.9 936.9,153.2 932.5,159.3 924.1,166.3 920,166.4 918.5,173.8 916.7,175.9 909.4,178.6 908.9,181 901.3,182.8 896.2,187.8 894.6,190.4 888.9,192.7 882.4,195.6 877.9,198.7 868.2,202.5 857.8,208.1 820.7,228.5 784.4,248.2 757,265.8 738.9,277.1 705.6,296.9 686,312.8 675,324.3 665.5,336.3 660,347.4 658.7,352.8 657.2,359 659.4,365.1 659.1,370.9 657.8,375.9 657,379.2 655,383 654.1,386.6 653,389.1 651.1,391.6 651.1,393.5" stroke="#50cc7f"/>
<polyline points="905.5,37.5 923.1,52.9 929.8,61.7 930.8,69.9 942.6,76.6 955.5,82.5 960.3,89.1 966.2,95.1 963.3,98.7 958.5,102.7 957.9,109.9 960.9,115.8 960.5,118.5 950,125.8 944.3,131.7 942.8,140.8 940.2,146.2 939.5,153.7 930.8,157.8 921.8,163.2 923.1,165.6 913.6,174.6 909,178.3 906.8,180.1 905.3,181.7 906.2,183.7 902.5,185.5 896.3,187.9 887.3,192.5 885.3,195.2 877.8,198.7 862.6,205.6 856.9,209.3 818.5,228.6 788.2,246.4 760.8,264.9 738.8,277.3 710,294.8 687.1,311.6 674.7,322.8 664.9,336 655.6,346.9 654.4,351.4 658.5,357.4 662.1,364.3 662.4,369 661.3,373.6 660.3,377.8 659.1,381.9 658.2,385 657.4,388.2 656.1,390.7 654.9,393.3" stroke="#56cc7b"/>
<polyline points="889.8,36.3 904.8,48.6 918.7,57.4 925.6,67.9 944,76.7 946.8,80.8 957.1,88 952.7,95.6 961.2,99.1 967.1,104 966.5,108.1 956.6,114.3 958.1,120.9 953.6,130.1 949.3,137.9 944.5,143.9 931.7,149.9 931.4,155.8 930.9,159.7 934.1,159.4 927.3,166.4 919.3,175.4 917.1,175 915.5,176.7 906.6,180.9 905.5,182.7 899.1,185.3 896,186.9 893.6,189.4 885.4,194.4 873.3,200.3 866.5,205.4 855.9,210.2 818.7,229.6 786,248.9 757.1,266.8 735.4,278.8 704.2,296.8 683.1,312.8 672.1,324.1 661.8,336.6 657.4,346.3 655.4,352.3 658.4,357.3 660,363.2 659.4,369.6 659.5,373.9 658.9,377.6 656.4,381 655.3,384.6 654.1,387.1 653,389.5 652.4,392.1" stroke="#5ccc76"/>
<polyline points="840.9,34.2 877.8,53.3 884.4,64.6 889.3,73.8 907.8,80 924.5,91.6 935.7,94.9 953.7,98.9 958.2,103.3 959.5,107.9 959.2,111.2 964.7,116 955.5,124.1 950.1,131.2 944.7,136.5 942.6,143.3 938.6,150.1 936.7,160.5 933.7,160.1 925.4,164.7 921.6,170.1 916.1,177.4 911.3,178.3 905.9,181.9 905.1,182 902.2,184.4 899.8,185.6 892.7,189.7 889.4,192.4 881,195.8 872.8,199.7 864.3,205.7 853.4,210.5 812.1,231.1 778.7,250.5 753.5,267.5 735.4,278.6 706.6,296.3 683.7,313.3 672.3,323.9 663.1,335.7 656.2,346.3 655.2,351.8 656.6,357.7 658.4,363 658.6,367.7 658.5,372.7 657.7,377 656,380.4 653.6,383.2 652.8,386.3 652.1,388.9" stroke="#61cd71"/>
<polyline points="811,30.8 830,44.8 840.1,52.7 853.8,63.3 890.7,71 923.2,78 949.8,86.6 946.2,92.4 949.5,101.7 951.8,100.7 955.8,109.1 952.4,114.2 954.8,116.9 950,121.4 941.6,128.7 946.3,134.7 940.4,144.7 932.5,155.2 929.3,157.7 927.6,163.8 921.6,166.5 915.3,175.6 914.3,177.8 911.9,178.1 903.9,183.6 900.9,186.5 901,187.6 893.6,191.2 881.4,196.3 871.4,200.4 865.3,204.1 855.8,210.8 839.4,218.5 801.5,238.3 773.2,256.1 754,269.4 727.2,284.7 696.2,303.9 680.3,316.5 671,327.2 661.1,341.5 658.1,348.7 657.5,352.9 657.2,358.3 656.7,364.2 655.2,370.2 653.7,374.3 652.6,378.3 651.2,381.9 651,385.2 649.4,387.5 647.5,390.1 646.6,392.7" stroke="#67cd6c"/>
<polyline points="797.9,28.7 833.1,39.8 928.1,54.1 944.3,61.4 947.8,69.8 941.6,74.5 946.5,80.8 951.3,88.2 952.5,95.7 953.5,99.5 956.2,107.5 953.5,108.3 951.7,114.9 953.4,120.3 951.9,127.2 948.1,136.1 941.8,142.6 934.4,151.1 928.8,156.6 924.9,162.3 925.8,166 920.5,173.6 916.4,176.8 911.9,179.3 905.7,182.1 902.1,184.8 894.1,189.3 884.7,195 873.1,200.3 865.5,204.8 855.6,208.7 843,216.1 827.6,224.6 790,244.7 761.2,263.3 740.9,275.7 710.7,293.5 688.3,309.4 675.8,320.3 667.3,330.7 661.1,342.8 656.9,349.5 657.2,352.4 657.1,358.2 657.2,364.4 656.4,368.5 654.9,373.5 653,376.4 652.2,380.1 649.5,384.2 648.2,387 647.5,389.4 646.5,391.8" stroke="#6dcd67"/>
<polyline points="781.2,29.4 789.4,37.5 846.6,47.5 907.4,59.2 942.3,67.3 947.5,74.2 949.9,80.3 956,87 954.2,91.8 961.5,97.4 954.1,105 961,112.9 956.4,116.1 959.4,123.7 952.5,128.6 946.6,135.3 944.1,141 927.1,151 924.6,157.9 921.7,164.1 919.9,165.2 917.5,174.3 919.4,176.5 906.4,179.5 903,181.5 898.3,185.4 890.6,189.6 884.8,194.3 877.3,198 863.8,205.7 858.6,209.3 837.3,219.6 820.8,228.2 784.2,248.1 759.3,263.1 740.5,275.8 712,292.8 689.6,308.4 676.9,319 667.8,329.4 660.2,342.3 657.9,348.6 655.4,353.9 655.9,360.2 656.3,365.7 655,370.6 652.6,375.6 651.2,379.1 649.3,382.8 649.2,386.4 648,388.5 646.3,391 645.8,393.5" stroke="#74cd62"/>
<polyline points="691.3,32.7 703.3,43.8 715,54.1 801.3,62.9 912.6,71 956.2,78.3 956.9,82.6 958.3,89 954.6,95.2 961.4,101.3 962.8,105 961.2,109 958.3,118 954.9,121.5 949.2,128.9 941.7,135.6 941.8,144 933.7,152.6 930.4,159 928.6,160.8 925.7,164.1 919.9,173.4 911.8,178.1 907.3,179.8 901.8,184.5 898.7,187.6 891,191.6 880.1,197.8 869.2,202.9 861.8,208 849.7,213.8 828.9,223.5 812,232.7 779.6,253.4 754.6,268.3 733.8,280.1 704.5,296.5 683.6,312.7 676.4,322.5 667.3,331.6 657.2,344.8 656,349.5 656.2,353.3 655.4,357.7 655.3,363 654.6,367.2 654.1,372 652.7,375.6 650.4,379.6 649,382.5 647.9,385.9 646.3,388.7" stroke="#7acc5e"/>
<polyline points="714.8,32.2 725,41.3 774.3,50.6 836.3,58.6 900.8,64.3 965,73.2 976.1,77.2 970.6,82.1 975.8,90.1 965.7,92.4 964.8,98 959.8,105 963.6,110.6 959.5,116.2 958.9,123.3 960.8,130.3 948.5,140 947.9,148.7 941.3,153.6 935.4,158.1 934,161.1 923,172.4 917.3,176.5 908.1,180.6 903.2,182.9 897,188.8 886.8,194.2 871.7,202 860.8,207 849.9,212.8 827.8,223.5 804.7,233.6 785.1,245.7 758,264.1 739.5,274.7 713.9,291 688.4,308.2 677.9,317.4 668.9,327.5 657.2,339.5 654.1,346.8 650.8,351.2 651.5,355.2 655,359.3 655.9,364.6 653.5,368.9 651.9,372.8 651.3,376.4 649.1,380.2 648.5,383.6 647.7,385.9 647.6,388.4 645.9,391.1" stroke="#81cc59"/>
<polyline points="679.3,36.5 705.2,41.2 786.5,45.2 882.7,50.3 953.8,55 951,59.2 957.1,64.6 961.4,71.1 967,77.9 953.2,87.1 968.1,92 965.5,100.1 965.3,106.1 961,110.9 961.7,114.5 959,122.2 959.3,127.8 947.3,137.7 941.9,149 939.8,154 933.7,159.1 922.1,171.4 918.3,175.3 907.5,179.5 898.1,185.4 886.7,191.9 880.4,196.3 873.4,201.8 858.6,207.6 848.8,214.2 823.1,226.2 802.1,236.2 788.8,245 756.8,263.4 740.8,275.5 717.1,289.4 692.1,305.6 680.5,316.3 669.3,325.8 657.5,337.6 648.8,345.9 648.8,350.3 648.9,354.6 651.4,359.2 652.3,365.4 652.2,369.4 650.6,373.9 650.4,376.9 648.8,380.8 646,384.1 646,386.7 645.3,389.3 643.9,391.9" stroke="#87cb54"/>
<polyline points="676.8,34.7 683.5,39.1 680,43.8 742.8,46.8 811.4,49.3 870.7,52 942.3,57.4 961.9,64.1 960,70.4 961.1,76.4 964.7,84.4 963.5,91.8 969.6,97.1 965.8,105.1 964.3,108.9 961.2,117.2 959.8,123 957.4,135.8 951.9,142.7 943.2,154.8 930.8,159.1 924.1,170.9 908.7,180.2 900.9,185.7 898.2,187.6 887,191.9 881.1,196.2 866,204 850.7,212.6 828.8,222.4 814.1,231.7 799.6,239.1 780.9,250.5 757.7,267.2 738.2,277.4 711.9,292.7 687.5,309.3 675.2,319.7 666.7,328.7 657,340.9 655.1,347.9 653.6,352.1 653.7,356.2 654.4,360.6 654.6,366.1 654.1,370.1 652.8,374.1 651.3,377.8 650.3,381.4 649.7,384.7 649.3,387.5 647.5,389.7 646.7,392.1" stroke="#8dcb4f"/>
<polyline points="676.8,36.1 700.5,37.2 828,39.5 942.1,43.9 946.8,46.7 948.6,50.2 951.7,53.4 955.6,58.4 964.3,66.5 964,74.8 964.9,80.2 968.3,89.7 964.9,96.1 968.1,104.8 963.2,109.6 963.3,115 958.4,120.8 948.6,131.1 943.2,143.3 934.7,153.9 932.7,154.8 920.8,170.2 909.2,178.5 902.7,183.3 895.7,188 893.8,189 879.4,198.4 866,204 851.8,210.6 835.9,219 811,231.2 789.4,242.2 777.6,251 751.2,267.1 732.2,278.9 706.3,294.4 683.5,311.4 673.2,320 662.3,330.3 651.9,343 649.8,349.3 650.3,353.8 653.5,357.3 654.8,361.4 657.5,366.9 656.7,370 654.9,373.5 655,377.5 652.7,381.1 651.8,384.6 649.8,387 649.7,389.3" stroke="#94ca4a"/>
<polyline points="702,41.4 701.5,42.7 697.7,44.1 699.1,45 727.9,46.3 788.3,47.4 857.8,51.8 932.9,56.7 951.6,59.1 960.9,67.8 968,76.3 963.9,81.6 962.5,87.1 960.6,95.3 962,103.3 960.6,111.6 960.8,119.4 960.5,126.5 956.6,136.6 946.8,147.3 937,154.2 922.2,171.8 914.2,177.9 900.9,184.3 894.3,188.3 884.6,195.1 869.5,202.2 857.6,207.6 837.9,218.3 816.6,229.8 794.7,242.7 776,253.1 763.4,261.9 748.1,271.3 722.1,287.2 694.7,304.9 679.8,316.1 668.7,325 659,336.4 654.4,344.4 652.4,351.5 652.7,354.8 653.4,357.4 655.9,361.4 657,367.2 658.6,370.2 655.9,374.3 654.7,377.6 653.1,381.2 652.4,384.3 652.1,386.7 651.8,389.7 650.6,392.4" stroke="#9ac945"/>
<polyline points="759.5,46.3 760.5,47.5 758.3,48.7 766.2,49.7 811.4,50.8 861.7,52.1 908.3,53.5 935,54.2 951.5,58.9 959.9,69.3 954.3,74.1 968.4,80.6 973.9,90.4 979.2,100.4 973.7,105.9 970.3,110.8 968,118.2 954.1,127.8 947.9,137.8 934.7,150.7 932.7,154.9 920.3,171.6 909.6,179.4 896.7,185.9 891.2,190.3 884.2,194.3 871.5,201.7 858.2,207.6 842.2,215.8 820.4,227.7 793.7,240.6 777.3,251.9 762.2,260.7 746.9,272.2 722.6,285.8 694.8,303.8 675.1,317.9 668,326.3 661.5,334.8 655.5,345.5 653.7,350.7 652.6,353.9 653.8,357 655.9,361.8 656.3,367.3 655.5,372 654.2,375.1 654.3,378.6 653.6,382.5 652.6,385.1 651.1,388 650,390.2 648.7,392.9" stroke="#a0c841"/>
<polyline points="738.9,47.5 742.4,49 760.2,50.2 807.5,51.1 873.5,52.3 937.2,53.4 964.4,54.8 961.4,55.9 962.6,57.2 967.3,64.7 974.7,73.2 983.1,80.9 980.4,87.5 980.5,97.7 979.5,101.8 973.3,107.3 970.8,115.5 964.3,127.3 945.2,140.5 938.7,151.5 938.2,157.5 924.1,172.4 914.7,177.8 907.9,181.7 893.8,188.5 883.7,195.1 872.7,201 860.9,207.2 834.4,220.2 806.3,234 787.6,243.9 773.6,254.4 758.9,264.9 736.9,277.1 714.2,290.8 688,306.9 675.7,318.8 667.3,327.3 656.1,339.4 650.8,346.8 649.2,351.9 650.6,354.6 652,357 656.1,361.2 658.3,366.7 657.4,370.2 658.3,373.9 654.8,377.9 654.7,381.2 653.9,384.3 653.2,387.5 651,389.8 650.6,392.1" stroke="#a6c83c"/>
<polyline points="764.6,53.3 763.9,54.4 761.9,55.8 772.3,56.9 811.6,58.1 857.5,59.4 899.3,60.6 930.8,61.5 953.9,62.6 950,63.9 959.1,71.2 973.1,78.9 973.8,85.2 973,94.5 967.6,102.1 970.6,110.8 965.7,117.6 964.2,125 949.6,132.7 941.9,145.1 941,148.9 927.5,165.4 914.4,177.5 904.2,183.8 890.8,188.6 882.8,196.1 867.6,204.1 861.3,208.2 835.8,220.6 809.5,233.1 785.2,244.8 772,254.9 753.2,266 736.4,278.5 710.9,292.7 690.3,307.4 676.1,319.8 668.2,328.4 657.5,340.4 657.9,346.5 653.6,351.4 652.9,354.1 652.9,356.9 657.6,361.8 659.7,366.5 659.6,369.6 657.9,373.7 656.7,377.7 656.4,380.5 655.8,383.8 653.8,386.5 652.6,389.5 652.7,391.8" stroke="#acc738"/>
<polyline points="747.8,52.6 750,54 747.4,54.8 762.4,56.3 841.8,57.5 925.3,58.7 964,59.9 958.9,61 954.8,62.1 960.2,63.2 969.7,70.2 977.8,78.2 973.5,83.9 977.3,94.3 977.1,101.3 971.8,108.1 964.3,117.5 965.2,126.4 955.3,136.8 950.3,144.5 948.7,151.9 930.3,167.8 913.5,177.9 900.9,184.6 892.1,191.1 879.5,197.3 862.5,205 851,212.5 824.8,225.3 802.1,236.1 783.8,248 766.8,256.5 751.6,266.4 733.3,278.5 705.4,294.9 683.4,311.3 669.2,322.6 661.4,330.7 649.6,342.6 647,347.9 645.2,352.1 647.7,355.8 650.8,357.3 654,361.6 653.9,366.5 655.6,370.5 655.8,374.3 653.5,377.2 652.5,380.1 650.5,383.2 649.2,386.6 647.6,389.4 647.1,391.7" stroke="#b2c635"/>
<polyline points="808.1,54.4 809.4,55.6 836.6,56.9 875.3,58.1 900.2,58.9 941.6,60.1 975.8,61.5 971.1,62.8 982.4,64 985.5,64.8 989.4,66.3 993,74.9 993.7,81.8 996.1,91.3 992.7,101.7 983.8,107.6 977.4,115.6 969.3,121.5 954.4,133.8 949.4,144.5 939.5,148.2 924.5,167.1 919.3,174.1 904,182.1 895.1,188.6 885,193.6 871.2,200.8 855.2,209.8 828.3,223.5 799.4,237.3 784,247.4 768.1,256.8 753.6,265.8 736,276.6 706.7,294 683.2,311.2 674.1,320.8 664.6,329.9 656.6,339.8 652.2,347.3 652.6,352.3 653.7,356.6 653.9,358 655.5,362.1 655.2,367.4 654.6,371.4 653,375.2 653.1,378.4 651.8,381.5 650.3,384.8 648.7,387.6 647.7,389.8" stroke="#b8c431"/>
<polyline points="859.7,59.9 860.7,61.3 859.8,62.5 855.5,63.4 880,64.8 902.9,65.8 931,67.1 949.3,68.2 976.1,69.4 975.6,70.4 975,71.9 981.3,76.3 979.4,82.8 986.4,91.7 975.9,102.5 979.9,109.5 982.6,113.8 973.3,122.3 962.4,128.3 950.3,142.5 951.2,147 934.8,163.1 913.8,177.4 900.6,183.5 895.6,189.4 879.4,196.9 862.9,204.1 851.3,211.7 830.1,223.7 804.2,236.9 781.9,249 767.4,258.1 756.5,266.9 738,278.1 704.8,296.4 684,311.7 672.1,320.8 666.7,328.1 651.5,341.5 647.4,346.8 647,351.9 647.2,355 649.1,358.4 653.7,361.5 654.2,367 652.1,369.9 652.5,374.1 651,377.2 650.8,380.7 649.2,383.9 646.1,387 645.4,389.8 644.3,392.1" stroke="#bdc32e"/>
<polyline points="820.9,60.4 819.1,61.2 817.1,62.6 836.6,63.7 884.4,64.8 945.3,66.2 975.1,67.3 979.5,68.3 976.3,69.4 973.7,70.7 980.9,71.9 986.6,78.5 991.5,86 984.4,96.5 982.3,101.9 978.7,109.1 971.8,114 957.9,123.8 953.6,135.9 945.8,146.5 940.9,152.9 927.7,166.6 915,176.8 906.5,182.1 893,188.7 881.9,197.3 868.9,203.6 853.8,210.5 827.7,223.1 803.7,235.4 787.6,246.7 769.6,256.9 756.9,264.8 738.6,275.5 707.1,293.9 686,311.2 673.9,320.3 664.9,330 653.7,340.8 647.7,349.4 648.9,354 648.5,357.3 651.9,358.9 653.5,363.5 653.6,368.6 651.7,372.5 650.7,376.5 649.9,380 648.5,383.6 647.4,386.2 647.1,388.5 645.8,391" stroke="#c3c22b"/>
<polyline points="861.4,58.3 863.8,59.7 866.2,61 872,61.8 920.2,63.2 957.5,64.3 993.2,65.5 994.8,66.8 997.6,68 997.1,68.9 991.7,70.5 1009.3,73.7 1010.8,81.3 1010.9,92 1003.8,99 998.5,107.3 989.1,113.8 983.2,120.5 970.4,130.9 950.5,145.6 944.9,151.4 927.1,168.6 913.2,178 903.3,184.4 893.8,190.9 878.7,196.4 868.2,203.8 857.2,208.6 833.2,220.9 809.4,231.9 791.1,244.2 771.2,256 758.6,264.2 739.2,276 712.7,291.8 689.8,306.9 675.6,318.9 667.6,328.5 657.4,339.5 654.8,347 655.7,352 654.9,355.4 654.8,357.7 656.9,361.1 654.1,365.4 652.1,367.2 652.7,371.2 652.7,375.2 650.9,378.6 649.4,381.4 648.4,385.1 648.1,387.9 647.2,390.2" stroke="#c8c129"/>
<polyline points="932.9,59 932.1,59.8 930.3,61.1 928,62.2 944.7,63.6 964.7,64.7 970.2,65.8 966.2,67.1 972.5,68 975.9,69.2 975.9,70.6 969.9,71.6 981.9,78.9 984.3,87.6 977.5,96.1 980.8,106.8 982.1,111.6 977.1,117.2 963,127.2 958.7,138.8 947.9,145.3 926,169.9 913.7,179.3 904,184.3 887.4,189.8 875.3,197.1 867.8,201.3 855.6,207.1 840.2,216.7 811.1,230.8 797.5,238.9 777.1,251 756.1,260.9 737.4,272.9 717.8,287.2 684.5,306.5 674.8,316 664.9,326.3 658.4,335.6 655.2,345.7 653.1,350 652.5,354.5 653.7,357.5 656.6,361.8 653.8,366.8 654,370.7 655.3,374.7 653.1,378.2 651.2,381.8 650.3,384.7 649.9,387.3 647.9,389.6 646.6,392.1" stroke="#cdc028"/>
<polyline points="871.4,59.5 878.7,60.8 871.4,61.7 887.6,63.2 929.6,64.4 967.1,65.3 969.9,66.4 968.3,67.8 964.3,68.9 962.2,70.2 964.7,71.2 964.6,74 978.2,80.2 972,89.8 980.4,99 976.3,103.6 980,112.6 973.1,122 963.4,128.4 953.1,144 951.6,146.8 936.7,164.3 913.5,177.4 907,181.8 894.7,190.5 889.3,194.4 872.2,200.8 864.7,205.8 848.3,214.9 826.8,226.4 804.2,237.1 787.6,246.3 770.6,255.6 746.7,270.7 724.7,283.2 699.3,300.1 681.8,313 670.8,323.5 663.9,333 655,343.9 651.7,349.9 650,353.8 650.3,356.5 655,361.6 656.2,367.3 657.1,371.3 655.8,375.5 655.9,378.4 652.5,382.3 651.7,385.2 653.1,387.4 652,390.2 651,392.8" stroke="#d3bf27"/>
<polyline points="896.1,62.9 892.6,64.1 891,65.4 909.4,66.5 937.2,67.7 948.4,68.7 963.7,69.8 969.6,71.1 958.9,72.3 977.1,73.7 975.8,74.8 979.7,76.1 982.9,82.6 981.6,90.6 982.6,95.2 978,103.6 973.8,111.1 974.6,117 962.5,128 960,139.5 960,145.7 934,169.1 917.5,177.7 904.8,183.1 893.4,187.3 888.4,192.1 877,198.8 866.5,203.5 856.8,209.5 832.4,222.4 806.1,234.2 786.1,245.6 773.3,255.6 748.1,270.6 728.5,282.4 696.7,299.1 680.9,313.1 669.5,323 661.9,332.9 651.4,343.5 650.9,349.1 648.6,353.2 648.5,355.9 654.8,360.4 659,365.7 659.3,370.6 658.1,374.5 657.8,377.9 657.1,382 655,385.1 655,387.5 653.8,390.4" stroke="#d7be28"/>
<polyline points="935.7,64.5 937.4,65.2 935.2,66.5 944.1,67.6 971.4,69.2 985.5,70.3 982.6,71.4 983.8,72.5 987.4,73.5 987.5,74.8 993.9,75.8 999.6,77.1 1002.1,82.8 990.9,90.3 983.5,94.4 987.8,102.2 985.9,113.2 980.6,121 969.1,128.3 954.2,140.7 948.8,147.5 929.2,165.8 915.2,178.6 908,182 899,187.2 891.9,190.5 881.5,197.6 872.6,203.2 847.9,214.1 825.3,224.9 802.9,235.6 785.3,247.1 775.3,254.3 752.3,268 727.9,282.7 701.5,300.6 683.1,314 674.6,323.9 661.5,331.9 644.9,343.5 641.2,348.6 641.9,353.6 642,356.2 648,360.8 654.5,365.7 656.2,369.1 656.2,373.8 655.8,377.7 653.4,381.7 652.6,384.3 652.6,387.2 652,389.6" stroke="#dcbd29"/>
<polyline points="871.9,64.3 871.5,65.3 867.4,66.5 870.4,67.9 883.6,68.8 944.6,70.2 967.8,71.2 996.9,72.7 992.7,73.7 991.8,74.6 995.6,76.1 997,77 993.6,79.7 994,86.9 1004.9,94.9 996.2,104.3 1000.9,109.9 986.5,119 968.6,131.6 957.7,137.5 952.5,145.8 924.1,166.3 913.5,179.4 912.1,182.6 897.7,189.3 889.8,191 882.4,196.4 870.9,201.1 854.4,208.6 836.6,219.4 814.3,231 792.2,240.6 778.5,251.5 753.7,267.3 731.2,279.8 703.2,296.7 679.5,311.8 670.3,321.2 662.6,330.9 648.8,342.1 643.2,349.5 641.8,353.2 644.1,356.6 652.2,360.7 654.4,366.9 655.6,371.3 655.4,376.1 654.2,379.7 651.7,383.5 650.2,386.7 649.1,389.3 648.9,391.6 648.3,393.7" stroke="#e1bc2b"/>
<polyline points="895.5,60.4 898.9,61.9 897.7,62.8 911.1,63.9 937.3,65.4 953.3,66.2 970.5,67.4 962.4,68.6 970.2,70.1 972.9,71.3 969.6,72.2 972.7,73.4 979.5,79.1 986.9,85 985,97.4 986,101.5 997.8,110.9 974.5,121.5 963.4,130.1 959.6,144.1 949.2,146.2 931.3,166.1 912.7,177.3 907.1,180.5 898.1,186.2 890.5,191.3 883.4,195.7 871.5,200 861.3,205 846,213.3 828.8,223 800.9,234.6 783.8,245.6 755.3,263 739.5,274.6 719.6,287.9 686.2,304.7 672,316.5 663.4,327.5 653.9,337.5 646.9,347 650.2,351.5 653,357.4 655.9,362.3 653.6,368.6 653.8,374 651.9,379.2 650.7,383.2 650.6,386.3 650.7,388.6 649.8,390.6 648,393.1 646.9,395.1" stroke="#e5bb2d"/>
<polyline points="917.4,53.1 914.7,54.4 913.5,55.4 921.9,56.9 931,57.7 950.6,59.1 949.5,60.5 967.3,61.6 980.7,62.5 981,63.9 967.6,65.2 979,72.5 980.5,79.6 978.2,89.9 978.1,94.9 974.6,101 977.1,111.8 977.2,119.4 965.1,127.6 948.7,142.1 949.8,144.7 923.5,167.2 913.2,176.7 906.9,180.2 907.1,182.8 895.6,188.4 896.3,192.9 881.8,197.7 872.9,203 858.4,208.8 843.6,215.8 818.3,225.8 797.1,238.7 767.9,255.9 745.8,270.3 726,283 699.5,300 674.1,314.8 665.4,325.2 653.8,336.7 644.4,346.5 643.9,350.8 644.8,354.9 652.6,361.2 652.4,369.4 652.4,375.3 652.8,380.5 651,383.6 648.3,386.8 649.9,389.9 648.7,392.4 647.8,394.2 646.5,396.4" stroke="#e9bb30"/>
<polyline points="951.6,52.1 949.8,53.2 954.6,54.5 957.5,55.8 962,57.1 981.7,57.8 990.2,59.4 978.6,60.2 980.4,61.6 977.2,62.5 989.1,63.9 984.1,65 989,75.8 997,83.9 984.4,92.6 988.6,100.9 978.7,109 976.7,114.8 975.2,125.1 969,137 964.7,141.6 939.5,165.1 907.7,177.8 902.1,181.3 903.4,184.2 901.7,186.6 888.2,192.2 871.9,199.2 866.3,204.3 855.2,207.6 838.5,216.2 820.6,224.5 791.6,236.7 764.1,257.3 746,271.3 727.8,282.6 697.5,298.7 677.5,314.5 663.8,324.5 648.7,334.3 644.3,344.5 646.8,350.6 643.7,354.8 651.7,361.5 654,369.1 655.2,375.2 655.7,380.6 651.5,383.8 649.2,387.6 649.3,390.7 650.2,392.4 649,394.3 647.7,396.6" stroke="#edba33"/>
<polyline points="890.3,49.8 906.4,51 939.9,52.1 975,53.3 973.9,54.5 992,55.8 987.8,56.8 984.5,57.8 976.1,58.9 978.2,60.1 978.3,61.4 984.5,66.5 997.9,70.5 996.9,82.5 986.4,91.5 990.5,102.2 1001.1,110.4 994.9,121 971.7,129.8 950.9,140.9 955.3,142.2 946.2,165 925,175.5 915.8,179.1 909.2,183.1 897.8,189 886.2,196.6 872.3,201.5 867,205.2 854.4,214 830.5,225.1 807.8,235 789.3,245.7 763.8,263.4 743.4,276.1 715.4,291.6 687.3,307.7 678.4,318.6 668.1,328.5 658,339.3 653.9,347.6 653.3,352.7 651.8,355.7 656.7,362.7 653.8,370.4 651.7,376.8 649.6,381.5 647.5,385 647.1,388.6 648.9,390.7 644.7,393.1 644.9,394.8" stroke="#f1ba37"/>
<polyline points="950.7,47.5 950.3,48.9 962.5,49.8 951,51.2 955,52.4 967.8,53.8 966.7,54.6 960.2,55.8 968.7,57.2 973.6,58.1 977.1,59.5 970.5,61.9 985.6,73.7 1008.3,81.2 1002,91.2 1008,99.3 998.5,109.2 1002.9,115.9 990.2,125.6 961.6,136.1 955.8,140.5 927.6,165.1 910.2,176.9 906.4,179.4 908,183.3 892,191.7 879.2,195.5 876.4,200.4 869.9,207.8 849.8,214.4 830.4,223.2 802.2,234.3 792.4,245 760.9,261.3 747.3,272.5 717.2,287.5 693.9,304.8 672.3,318.6 662.1,329.5 652.3,341 645.9,348.2 647.9,352.6 652,356.6 651.1,361.6 651,368.6 651.2,374.1 652.6,379.2 652.6,383.5 649.9,386.9 651.6,389.6 649.4,391.9 649.8,394.5 647,396.5" stroke="#f5ba3a"/>
<polyline points="942.3,53.5 940.5,54.6 940.3,55.7 949.1,57 965.5,58 971.3,59.3 981.7,60.4 987.5,61.7 987.7,62.7 998.3,64 997.5,65 993.2,66.3 992.9,70.8 1011,77.3 1019.7,86.7 1017.5,93.7 1011.6,105.6 994.1,114.1 999.6,119.3 962.2,133.4 966.1,140.4 940.3,164.6 925.2,175.8 915.4,179.5 899.6,183 894.3,187.2 887.4,192.1 879.2,198.2 867.5,203.6 853.7,210.3 836.6,218.6 820.6,229.2 791.8,239.2 761.3,256.3 743.9,269.3 725,283.6 692,300.6 673.8,314.3 659,325.2 647.6,335 632.9,345.1 635.6,350.9 636.3,355 649.7,360.5 655.4,367.2 655,373.5 650.4,379 649.2,382.2 647.4,386 649,388.4 646.8,390.8 647.2,393.2 646.5,395.6" stroke="#f8ba3d"/>
<polyline points="969.2,48.9 971.6,50.4 965.2,51.2 965,52.4 967,53.7 958.3,54.9 995.2,56 1000.1,57.3 982.3,58.4 964,59.8 980.3,60.8 1004.5,63.5 1017.6,72.2 1022.9,80.8 1034.7,90.7 1006.8,102.7 1023.8,107.2 1016.2,114.5 1006,122.8 973.7,136.4 982.1,141.9 947.8,167.1 913.8,177.9 913.2,181.2 909.9,183.5 887.3,190.5 889.8,193.4 880.7,198.3 868.2,203 864,207.1 840.1,218.7 809.8,229.3 788.7,239.6 766.6,257.2 736.6,270.9 710.8,284.6 689.4,301.6 668.3,316.1 658.5,326.2 649.2,337.7 651.3,346.2 647.9,350.7 649,354.4 655.4,359.7 659.4,366 656.3,371.6 653.9,377 657.5,380.6 652.5,384.2 648.2,387.5 650.1,389.7 649.6,392.1 645.5,394.3" stroke="#fbbc3d"/>
<polyline points="976.2,46.5 986,47.8 983.1,48.7 982.3,50.1 983.1,51.1 990.2,52.4 970.2,53.6 964.3,54.8 978.8,55.9 988.2,56.9 997.6,57.9 996.2,63.7 1017.7,70.3 1027.8,81.6 999.5,92.2 1010.9,98.1 999.4,106.9 985.4,114.2 993,123.2 966.7,136 953.2,142.4 933.7,165 901.3,179.3 898.9,181.7 894.4,188.1 888.9,191.6 880.9,196.3 877,201.3 857.8,206.6 841.3,212.3 826.7,224.9 805.7,233.4 790.5,241.5 765.3,259.7 740.2,274.5 710.1,290.6 683.8,306.7 669.9,318.2 667.1,326.4 655.4,337.6 655.4,346.8 655.5,350.2 650,353.8 657.7,360 651.3,367.5 652.5,373.2 651.8,378.7 655.4,382.4 654.8,385.2 654.9,388.5 651.8,390.3 650.5,392.5 649.3,395" stroke="#febd3c"/>
<polyline points="951.1,39 952.9,40.1 973.6,41.3 955.6,42.3 957.3,43.4 953.6,44.8 966.6,45.9 986.3,47 978.1,48.4 983.6,49.7 977,51.3 973.2,60.4 992.5,68.9 986.2,76.1 980.7,87.8 992,95.1 998.2,104.2 999.4,111.1 981.5,118.2 959.2,131.4 967,137.2 948.3,164.7 918,176 914.6,179 902.2,184.8 891.6,191.1 887.5,197 871.3,201.4 861.8,206.6 851,212 824.8,223.7 802.3,235.9 787.7,246 756.5,264 742.4,274.1 712.7,288.9 686.4,305.1 667.9,317.4 661,327.1 651.5,338.7 653.2,348.1 654.3,352.2 653.2,355.1 657.7,360.6 659.4,368.1 663,373.6 655,378.7 656.7,381.9 655,385.6 651.6,388.2 651.6,390 650.3,392.6" stroke="#fec03b"/>
<polyline points="948.4,33.7 949.5,34.7 961.6,36 955.4,37.4 971.9,38.3 955,39.4 958.2,40.9 955.7,41.8 973.8,42.8 985.8,46.1 988.7,53.3 1004.6,59.2 985.4,65.6 996.8,76 991.5,86.7 982.6,94.4 981.8,103.8 1001.2,108.9 1000.9,118.7 977.8,131.2 977.5,134.4 947.6,163.7 927.2,177.3 908.2,182.1 897,186.4 876.3,190.3 865.7,197.5 861.3,203 851.9,207.1 835.4,216.8 822,226.6 788.5,239.9 776.9,249 753.3,265.2 733.1,275 708.4,291.8 679.6,309.9 667.3,320.2 657.1,329.2 641.1,339.7 627.3,346.6 623.6,351.7 629.8,355.1 648.5,361.1 657.5,367.1 657.4,371 662.5,376.2 655.8,380.2 649.7,383.7 650,387.2 650,388.8 651.1,391.5" stroke="#fec239"/>
<polyline points="871.2,37 876.9,38.3 916.1,39.5 949.6,40.3 980.2,41.7 976.7,42.8 981.8,43.9 983.9,45.2 983.2,46.6 984.9,47.7 1006.1,53.6 994.5,58.6 999.9,65.8 1015.5,76.3 1005.5,83.2 1008.2,93.2 997.7,97.7 1000.5,109 987.7,115.9 979.2,126.2 965.9,136.3 942,164.7 915.2,179.3 900.3,183.6 895.6,186.4 889.9,190 882.2,194.2 873.5,200.3 856.1,208.3 844.5,214.9 821.6,226.2 794.5,235.9 776.9,246.6 754.9,263.9 736.1,274.4 715.4,289.8 681.7,306.7 668.6,318.8 663.4,328.9 648.1,339.1 645.7,346.6 642.6,352.3 637.4,355.7 646.6,360.6 651.3,366.7 650.8,371.1 652.3,375.8 649.2,378.9 649.1,382.2 647.7,385 647.6,387.9 646.7,390.9 644.5,393.3" stroke="#fec537"/>
<polyline points="838.8,34.7 840.2,35.6 849.3,37.1 874,38 929,39.4 958.3,40.3 968,41.8 982.8,42.9 972.3,43.8 963.1,45.3 991,49.4 993.8,57.8 997.2,63.4 1005.4,72.8 1000,87.9 1019.5,96.3 1003.7,104.6 1020.2,112.4 1010.8,114.7 985,129.5 973.9,134.1 938.7,161.8 910.3,177.9 909.2,179.5 899,184.4 895,188.7 878,195.9 877,199.1 859.7,205.9 847.3,212.3 832.7,222.4 810.5,232 794.1,242.5 764,260.1 737.8,273.1 709.4,289.4 684.2,304.6 664.6,316.6 658.5,326.4 651.2,337.1 648.3,346.4 642.5,351.6 643.7,356 647.1,360.2 644.8,365.8 642.6,371.9 645.8,377 646.8,380.2 645.5,383.5 642.5,387 645.6,389.3 644.4,391.6" stroke="#fec735"/>
<polyline points="819,30.9 850.4,31.4 886.8,31.7 910.3,31.7 933.8,32 964,33.2 978.4,39.5 976.6,42.5 989.2,47.5 986.7,47.7 983.1,54.1 993.7,61.8 998.7,68.8 1004.5,79.1 995.4,87.1 999.1,96.2 990.9,104 989.1,113.2 985.8,122.1 961,136.9 963.5,138.9 927.7,165.6 919.6,177.7 911.7,182.1 904.1,184.7 893,189.2 882.7,192 873.5,197.6 859.8,205.7 842.2,211.2 830.3,220.9 808,231.7 786.2,241.7 761,259.1 743.6,271.5 716.6,286.4 689.4,303.2 668.5,318.4 656.4,327.5 636.1,337.1 618.1,346.4 620.6,352.2 628.1,356.6 642.1,361.9 649.8,367.7 649.2,372.7 648.6,378.2 648.2,382.1 648.4,385 646.5,388 643.7,390.3 643.5,392.8" stroke="#feca33"/>
<polyline points="812.1,31.9 812.5,32.8 852.4,32.8 880.6,32.9 938.1,34.7 976.8,33.3 989.6,33 994.4,35.8 993.2,41.8 995.5,45.8 993.3,49.5 994.5,53.5 994.9,58.9 1013.1,70.7 1026,80.3 1026.6,88 1019.4,96.8 1019.2,108 1012.9,117.8 979.9,129.2 977.8,134.5 932.7,164 909.5,176.8 902.3,181.4 891.5,187.3 894.6,190 876.7,196.1 869.1,200.5 863.2,205.4 842.5,214.5 821,226.3 804.7,235.2 785.9,244.7 758.8,262.5 741.3,274.8 715.8,288.6 688.1,304.6 673.1,318.8 663.9,326.1 650.5,338.2 648,346.3 641.8,351.1 645.6,355.2 650.1,361 649.3,367.4 650.2,372.7 649.5,377.3 649.5,380.6 646.8,384.3 646.3,386.9 645.5,389.2 644.8,391.5 642.7,393.6" stroke="#fdcd32"/>
<polyline points="647.4,27.2 646.7,29.1 650.6,29.2 643.9,29.7 727.6,30.4 808.9,29 896.7,28.5 972,32.6 984.1,36.4 992.9,43.2 997.4,49.9 998.8,56.7 1001.1,63.6 1001.4,74.4 1006.1,82.4 1000.9,93.8 1008.3,103.4 1001.8,113.7 993.6,122.6 987.4,127.7 984.2,135.4 954.3,162.9 924.2,176.7 911.8,181.7 902.3,186 893.1,189.6 878.3,197.3 871.3,201.6 862.4,207 840.3,214 819.4,225.1 794.8,236.7 778.8,246.4 743.2,265.2 731.4,275.5 701.5,292.4 677,308.2 663.5,318.2 653.3,328.5 639.3,339.3 638.6,347.2 636.8,352.1 640,356.5 643.8,360.9 646,366.4 644.3,369.8 645,375.3 645.4,378.5 642.9,382.3 642.3,385.3 642.9,387.5 644.7,390.4" stroke="#fccf30"/>
<polyline points="595.5,25.9 609.7,26.7 717.3,27.5 780.8,27.6 871.5,28.8 970.4,30.1 973.1,29.3 985.9,36.2 990.1,39.5 989.2,47.1 999.2,52 1002.8,59.4 1007.5,62.7 1015.4,74 1015.2,81.1 1013.2,88.8 1009.9,97.2 1010,105.8 1011.6,113.8 990,125.9 974.6,135.9 933.4,166.1 922.3,174.3 903.9,181.6 898.1,186.2 887.5,190.9 874.4,198 861.7,203.7 846.1,210.1 830.5,220 814.1,229.1 789,240.6 771.8,250.9 744.1,267.9 722.3,280.2 694.5,296.3 669.6,312.9 657.5,322.4 648.3,330.4 623.9,343.2 626.5,349 629,353.9 632.3,356.2 648.7,361.4 648.5,367.4 649.6,371.8 647.7,376.2 647.9,380 648.2,383.3 644.7,386.6 644.6,389 642.5,391.6 643.1,393.8" stroke="#fbd22f"/>
<polyline points="720.8,28.1 723.5,29.8 726.2,30.1 728.2,29.9 742.4,32.4 826.7,37.7 897.4,41.6 990,48 988.8,49.6 1002.5,52.9 1001.8,60.3 1013.6,70.8 1032.5,77.7 1033.8,88.5 1032.9,99.6 1027.4,104.3 1025.6,110.6 1016.9,118.7 989.2,131.8 988.2,138.1 974,146.3 941.1,165.4 917,178.1 916,180.9 903.5,185.4 895,191.1 883.4,197.3 866.5,204 853.3,208.6 846.2,214.5 823.1,226.3 799,236.8 781.5,249 758.9,262.9 739.8,275.5 711.6,291.4 683,308.9 666.8,320.1 656.2,329.4 635.5,341.1 628.2,348.9 631.9,353.6 634.4,356 646.3,360.9 649.2,365.6 650.6,370 648.9,375.1 648.1,377.6 647.2,381.2 645,384.5 643.8,387.8 644.1,390.4 643.8,392.9" stroke="#fad52d"/>
<polyline points="623.2,29 625.7,29.9 624.2,30.7 630.4,32.1 702.4,31.7 776.5,31.4 853.1,35.3 955.1,39.9 989,40.8 1000.9,47.2 1014.4,52.3 1005.3,61.9 1015.5,72.8 1036.1,77.9 1034.3,87.4 1041.1,95.4 1030.2,104.8 1032.8,112.1 999.5,125.9 984.2,132.2 977.6,138.9 944.2,162.9 919.3,177 910.2,185.1 889.4,192.5 873.5,198.3 863.7,205 844.6,214.3 816.9,227.3 793.2,238 771.6,252.2 757.3,262.4 748.4,268 718,283.9 689.5,301.5 669.5,314.5 659.1,325 643.8,334.4 627.3,345 626.8,350.1 629.6,354.6 635.7,357.1 641.6,358.6 650.7,363 649.2,367.3 652,370.5 653.1,373.5 651.3,376.4 650.3,380.4 649.1,383.8 649.2,386.4 647.7,388.6 647,391.3" stroke="#f9d82c"/>
<polyline points="676.8,29 672.3,30.2 671.6,30.6 741.5,30.3 841.8,29.8 964.7,31.8 980.3,36.9 988.3,41.3 980.8,42.9 993.5,48.2 1005.2,53.4 1004.9,61.2 1019.2,69.3 1039.4,81.5 1046.2,92 1045,100.6 1038,106 1025,114.3 1007.9,122.9 968.3,138.5 966.5,141.6 937.6,163.9 917.8,176.1 911.5,181.5 898.2,187.3 885.8,192.9 876.5,198.4 870,202.5 855.3,209 835.3,219.5 815.6,228.5 793.6,240.4 776.2,251 749,267.8 734.2,278 703.4,295.1 676.1,311.8 663.5,320.4 652.4,331.4 637.1,342.6 636.9,349 638.7,353.2 643,356.7 650.5,361 652,366.7 654.9,371.1 655.2,375.3 654.4,378.6 652.5,382 651.4,385.4 651.7,387.9 651.4,389.8 651.2,392.4" stroke="#f7db2b"/>
<polyline points="714,31.7 714.4,31.7 714.8,32.1 736.6,31.4 789.1,32.3 869.9,34.3 918.9,31.9 974.1,34.5 985.6,37.5 987.5,44 994.9,48.4 997.2,56.7 999.6,60.2 1000.7,68.9 1017.8,81.6 1011,87.5 1007.1,97.8 1003.8,107.5 1005,117.3 988.8,129.5 984.9,134 940.8,166.1 917.5,178.1 902.8,184.6 889.4,189.6 884.2,195.4 868.7,202.3 857.3,208.2 841.9,216.3 818.4,229 787.9,243.3 770.1,251.3 758.9,260.9 737.2,273.9 714.2,287 688.6,303.2 666.3,316.7 656.2,326.4 641.7,336.9 632.4,346.7 632.2,352.7 633.3,355.3 637.1,357.3 649.2,363.1 650.4,369.9 652.9,374.4 653.2,379.3 651.4,382.7 649.7,386.5 648.5,388.5 649.5,390.7 650.1,393.4 649.1,395.4" stroke="#f6dd29"/>
<polyline points="687.9,32.2 683.6,30.8 722.3,32.3 808,31.9 912.6,32.5 979.5,33.2 985.9,37.3 995.1,42.4 994.4,45.8 1001.7,48.8 1014.1,52.3 1022.8,60.9 1034.7,68.3 1051.8,79.2 1048.8,91 1043.8,98.5 1029.8,107 1013.3,116.1 1007.7,122.4 982.5,135.6 980.1,136.7 949.6,161.7 930.1,174.9 908.9,182.6 897.3,187.4 884.2,192.8 872.4,199.9 866.9,204.7 856.6,211.2 828.1,225.4 804.9,234.9 785.5,246.8 770,254.8 744,271.4 726,282.5 695.6,298.7 671.9,315 662.8,323.7 647,333.7 616.6,344.9 611.5,350.7 617.7,354.7 625.9,357.2 644.6,363 651.5,369.5 654.4,374.5 653.6,379.3 651.7,382.8 650.3,385.7 649.1,388.5 649.2,390 649.3,392.1 647.3,394.9" stroke="#f6e028"/>
<polyline points="730.9,31.7 728.2,31.5 724.9,31.5 729.2,32.3 787.9,31.3 901.4,32.9 982,35.4 987.5,39.2 991.9,44.6 996.3,46.5 1014.1,54.7 1016.5,58.2 1020.2,67.5 1030,76.9 1032.7,84.8 1028.7,94.2 1018.2,104.4 1019.2,111.1 1006.8,119.1 984,133.3 978.1,138.9 938.5,164.8 921.4,176.2 911.1,182.3 899.4,188.1 888.1,194.1 876.5,199.2 863.4,204.7 852.1,212.5 834,221.4 801.4,234.9 782.6,245.6 769.1,255.9 743.7,271.1 720.7,284.4 696.2,299.2 672.7,314.9 660,323.9 643.1,335.6 629.3,344.5 628.4,349.6 632,353.6 639.1,356.9 648.7,362.4 648.3,368.6 648.8,373.4 648.9,378.7 648.1,381.2 648.7,385 647.2,387.8 645.4,390 645.4,392.2 643.9,394.9" stroke="#f5e327"/>
<polyline points="733.7,40.2 790.2,41.5 861.6,42.7 936.8,43.9 981.3,44.6 993.3,46.3 1001.6,47.1 1002.9,48.2 1000.8,53.7 1006.6,62.3 1010.2,69.3 1017,74.8 1017.6,82.1 1009.3,93.5 1006.1,98.4 1010.5,105.9 1008.5,112.6 1005.7,119.2 983.9,130.8 967.2,146.8 962.5,149.2 935,168.3 914.5,179.1 897.4,187 882.1,193.8 862.2,202.2 851.6,207.9 826.9,220.1 798.8,233.3 771.3,247.1 756.9,257.4 742,266 729.7,273.4 700.9,290.6 676.2,306 657.5,318.1 649.6,327.1 632.2,337.6 619.7,346.3 618.8,349.8 621.8,354.1 627.9,356.4 633.8,358.2 647.5,363 648.5,369.5 649,374.4 650.2,378.2 649.3,382.2 648.4,385.4 647.6,388 646.5,390.4 646.6,392.2 646.1,394.1" stroke="#f5e626"/>
<polyline points="676.8,44.8 678.6,46.1 678.4,47.4 691.1,48.2 771.5,49.5 857.7,50.9 928.7,52.1 1000.3,53.3 993.9,54.2 996.2,55.6 998.5,56.6 1000.7,60.6 993.5,69.8 998.6,74.8 1009.4,82.9 1002.2,95.8 1009,104 1009.5,111.4 995.7,123.4 971,133.4 962.2,142.3 936.1,166.9 919.2,177.8 904.5,184.7 898.4,187.9 882.3,195 871.1,202 855.6,208.9 833.6,218.7 812.7,230.3 790.9,241.4 778,249.3 764.2,258.2 741.3,271.9 715.5,287.5 685.1,305.1 666.9,317.8 657.3,327.8 648,335.9 646,345.2 646.8,349.8 648.3,354.7 648.4,357.5 650.7,365 649.7,371.5 649.3,376 648.6,380.2 648.2,383.9 645.9,387.1 645.6,389.5 645.9,391.9 645.5,394" stroke="#f5e924"/>
<polyline points="676.8,44.9 678.6,46.3 684.4,47.3 690.5,48.2 797.5,49.6 875.5,50.6 986.3,52 1007.7,53.1 1010.2,54.2 1010.2,56.3 1009.2,62.1 1014.6,73.6 1023,78.6 1016.8,90.6 1017.5,98.2 1016.7,105 1012.5,114.4 1007.7,119.2 987.5,129.7 974.6,144.4 960.6,148.8 934.9,168.3 912.1,178.3 908.2,181 895.4,188.3 889.4,194.3 866.7,203.1 855.7,207.8 836.4,217.3 818.1,228 796.8,236.8 777.6,250.3 762.7,258.9 737.9,273.4 713.7,287.7 686.5,304.6 665.6,317.4 655.7,327.1 642.3,336.8 633.2,346.3 633.3,350.6 635.9,354.5 639.8,356.9 647.8,361.5 649.4,367.5 649.4,370.9 650.1,375.4 648.3,378.9 648.3,382.5 646.8,385.9 644.9,387.8 644.2,390.8" stroke="#f5eb23"/>
<polyline points="775,51.2 810.2,52.2 918,53.2 1012.1,54.5 1009.8,55.9 1015.4,57 1010.8,58.2 1013.1,59.4 1017.6,60.6 1020.5,61.5 1024.2,62.7 1026.3,65.3 1026.6,71.7 1035.6,83.3 1035.6,89.7 1024.2,99.3 1016.3,107.3 1008.9,116.3 1003.4,122.6 985,132.2 973.9,140.9 940.9,164.2 917.7,177.8 903.5,183 897.2,187.7 884.6,194.4 876.4,199 863.8,206.3 857.4,210.7 831.3,223.7 802.1,237.2 786.6,246.1 772.8,254.9 745.1,271 723.7,283.9 695.4,300.5 676,314.7 662,322.9 647,332.4 609.6,344.4 604.9,348.1 608.2,352.3 616.6,355.7 632.4,360.5 640.3,364.7 644.5,369 647.1,372.8 648.8,376.6 647.3,380.6 645.4,384.1 643.6,386.5 643.5,388.8 642.7,391.1" stroke="#f5ee21"/>
<polyline points="753.8,54.1 754.7,55 753,56.3 754.7,57.7 808,58.6 879.5,59.9 938.5,61.1 1003.8,62.2 1012.5,63.4 1021.1,64.7 1012,65.5 1016.8,67.1 1011.4,67.9 1031.1,79.5 1025.9,88.1 1026.5,94.1 1022.6,103.4 1010.3,111.9 1008.9,118.2 982,131.2 968.1,139.3 934.6,165.1 913.6,178.8 907,183.4 894.9,190.1 882.8,195.8 865.6,202.4 855.8,207.3 849,212.7 826.1,223.3 800.9,234.8 781.6,247.1 771.9,254 747.2,268.5 725,281.8 697.3,298.4 672.1,314.2 661,323.9 647.2,332.8 621.5,344.6 616.3,349.6 621.1,353.3 626.9,356.3 640.7,360.9 648.2,366.8 651.3,371.3 652.8,376.1 651.7,379.9 650.4,383.5 649.8,386.3 647.6,388.8 646.8,391.3 646.9,393.7" stroke="#f6f01f"/>
<polyline points="744.6,55.1 750,56.3 851.8,57.6 940.9,58.7 1019.6,59.9 1017.5,60.9 1013.2,62 1013.1,63.4 1016.9,64.4 1019.9,65.8 1014.9,66.8 1016,69 1031.3,80.3 1031.1,84.3 1027.1,95.2 1032.2,102.4 1033.2,110.9 1018.3,119.5 995.3,128.3 977.7,140.8 963.2,147.2 933.4,166.6 915.2,177.7 905.5,182.3 899,186.2 893,191.6 885.3,197.5 874.3,203.5 864.2,208.1 837.1,220.2 817.2,230.2 794.9,240.8 783.3,250.1 752.5,268.7 737.4,277.1 708.5,294 683.3,308.7 668.7,319.6 655.7,330 627.9,341.7 619.7,349.1 625.7,353.8 628.1,356.4 642.4,361.4 647.9,369.5 651.8,374.8 649.8,380 648.3,382.5 646.5,385.9 645.2,389.1 645.1,390.3 643.7,392.5 644.5,395.3" stroke="#f7f31d"/>
<polyline points="825,56.4 826.5,57.4 826.3,58.5 819.2,60 836.8,60.8 892.6,62.2 936.5,63.4 987.6,64.7 1009.1,65.7 1018,66.8 1017,67.9 1007.3,69.4 1010.5,70.4 1020.6,74.7 1021.6,85.8 1011.7,98.9 1011.5,105.7 1012.2,113.4 1002.1,119.5 989.2,130.6 980.8,134.1 939.2,164.7 919.6,175.9 911.8,181.6 901.4,187 888,193 878.2,197.8 866.8,204.4 856,210.2 828.5,222.9 805.7,232.8 786.6,244.2 775.5,251.7 745.8,269.7 724.5,281.6 692.6,299.4 669.7,314.3 658.1,323.5 650,332.8 634.8,343.4 634.3,348.9 636.7,353.4 638.1,355.7 645.6,361.2 646.5,368.9 647.8,374 646.9,378.2 646.1,382 644.5,385.6 645,387.9 645.2,390.6 644.3,392.9" stroke="#f7f61a"/>
<polyline points="853.3,62.1 853.2,63.3 852.8,64.5 854.2,65.6 881.8,66.7 917.2,68 958,69.2 980.4,70.1 1016.5,71.6 1018.1,72.7 1013.9,73.7 1020.2,76.5 1032.5,86.2 1028.7,93.4 1030.1,104 1025,110.3 1013.3,119.7 989.6,131.5 981.5,140 972.7,148.1 966.8,154 934.6,169.8 918.8,177.3 913.8,181.2 900.7,186.5 882.9,192.9 870.3,199 856.3,206.3 832.4,217.1 809.8,228.1 789.9,236.8 770.7,248.9 752.4,258.6 730.6,273.6 712.7,284.2 687.3,300.3 663.8,313.6 652.1,324.1 639.4,334.7 626.4,344.4 625.5,350.1 627.6,354 633.3,356.7 647.5,362 648.6,367 650,372.7 651,377.6 648.5,382 647.6,384.8 646.2,387.9 647.3,390 645.7,392.5" stroke="#f8f817"/>
<polyline points="826.9,61.9 826.9,61.9 827.4,61.7 958.9,50.9 1022.4,53.4 1009.1,71.4 1019.5,79.3 1013.9,89.6 1013.4,110.1 1005.6,118.9 979.7,132.1 953.7,154.1 923.4,174.2 913.2,179.3 902.3,184.8 890.5,190.7 880.8,195.6 870.1,201 851.2,210.5 823.8,224.3 795.6,237.2 781.2,246.1 766.4,255.3 752.8,263.7 749.3,265.8 740.6,271.2 730.1,277.6 701.6,294.4 673.1,311.2 661.5,320.7 657.1,324.5 649.2,331 638.5,337 627,344.1 626,347.2 625.9,350.5 627.3,352.6 630.6,355.5 633.2,356.6 638.1,358.5 643.5,360.6 646.9,362 648.8,365 649.9,368.4 651.3,372.6 652.2,375.1 651.7,377 650.5,381.1 649.1,386.3 648.1,389.4 647.4,392.1" stroke="#000" stroke-width="2.4"/>
</g>
</g>
<line x1="606.7" y1="61.5" x2="667.5" y2="61.5" stroke="#000" stroke-width="2.4"/>
<text x="675.5" y="66.1" font-size="12.6" text-anchor="start" fill="#000" textLength="158.3" lengthAdjust="spacingAndGlyphs">Último perfil: 04-Feb-2015</text>
<rect x="583.5" y="35.5" width="490.0" height="367.0" fill="none" stroke="#7a7a7a" stroke-width="1"/>
<text x="647.4" y="421.3" font-size="14" text-anchor="middle" fill="#808080">35</text>
<text x="733.9" y="421.3" font-size="14" text-anchor="middle" fill="#808080">35.5</text>
<text x="820.5" y="421.3" font-size="14" text-anchor="middle" fill="#808080">36</text>
<text x="907" y="421.3" font-size="14" text-anchor="middle" fill="#808080">36.5</text>
<text x="993.5" y="421.3" font-size="14" text-anchor="middle" fill="#808080">37</text>
<text x="579.9" y="377.6" font-size="14" text-anchor="end" fill="#808080">5</text>
<text x="579.9" y="304.3" font-size="14" text-anchor="end" fill="#808080">10</text>
<text x="579.9" y="231" font-size="14" text-anchor="end" fill="#808080">15</text>
<text x="579.9" y="157.7" font-size="14" text-anchor="end" fill="#808080">20</text>
<text x="579.9" y="84.4" font-size="14" text-anchor="end" fill="#808080">25</text>
<path d="M647.5 402.5v-5M647.5 35.5v5M733.5 402.5v-5M733.5 35.5v5M820.5 402.5v-5M820.5 35.5v5M906.5 402.5v-5M906.5 35.5v5M993.5 402.5v-5M993.5 35.5v5M583.5 372.5h5M1073.5 372.5h-5M583.5 299.5h5M1073.5 299.5h-5M583.5 225.5h5M1073.5 225.5h-5M583.5 152.5h5M1073.5 152.5h-5M583.5 79.5h5M1073.5 79.5h-5" stroke="#7a7a7a" stroke-width="1" fill="none"/>
<text x="827.2" y="446.2" font-size="15.2" text-anchor="middle" fill="#8c8c8c" textLength="94.7" lengthAdjust="spacingAndGlyphs">Salinity [psu]</text>
<text transform="translate(555.5,218.7) rotate(-90)" font-size="15.2" text-anchor="middle" fill="#8c8c8c" textLength="226.6" lengthAdjust="spacingAndGlyphs">Potential temperature [ITS-90]</text>
<path d="M190.5 464.5V831.5M260.5 464.5V831.5M330.5 464.5V831.5M400.5 464.5V831.5M470.5 464.5V831.5M162.5 502.5H512.5M162.5 539.5H512.5M162.5 577.5H512.5M162.5 614.5H512.5M162.5 652.5H512.5M162.5 689.5H512.5M162.5 727.5H512.5M162.5 764.5H512.5M162.5 802.5H512.5" stroke="#e9e9e9" stroke-width="1" fill="none"/>
<g clip-path="url(#c1)" fill="none" stroke-width="2.6" stroke-linejoin="round">
<polyline points="440.5,465.8 440.3,467.5 440.2,469.6 440.1,471.3 439.9,473.3 439.8,474.8 439.7,476.5 439.5,478.6 439.4,480.7 438.5,482.6 436.6,484.3 432.1,486 426.9,487.8 419.7,489.5 412.1,491.7 406,493.6 398.9,495.8 396.4,497.4 391.2,499.3 386.9,501.1 387.7,501.7 379.3,506.6 376.9,511.5 374.8,516.3 372.1,521.2 367.5,525.5 364,530.3 358.1,535.1 355.4,539.8 351.7,544 344.3,549.3 334.5,553.9 326.9,558.5 307.8,567.5 291.4,577.5 280.9,586.7 266.6,595.7 249.3,605.4 239.8,614.4 230,623.7 218.8,633.6 213,643 209.8,652.2 205.1,670.7 200.2,689.6 195.8,708.2 192.4,727.1 188.5,745.8 185.3,765 181.7,783.8 179,802.4 175.9,821.3 173.3,839.7" stroke="#3e26a8"/>
<polyline points="441.5,465.3 441.3,467.7 441.2,469.6 441.1,470.9 440.9,473.3 440.8,475.1 440.7,476.5 440.5,478.5 439.6,480.2 437.4,482.1 432.3,484.2 427.6,486.1 424.2,487.9 416.7,489.6 410.4,491.7 402.7,493.9 397.8,495.4 394.3,497.5 389.7,499 386.5,501.3 383.5,502.1 377.1,507.1 376.3,511.1 373,516.2 371.2,520.8 366.9,525.4 362.9,530.1 358.8,535.2 354.4,539.4 349.9,544.4 344.8,548.6 335.1,554 324.9,558.6 308.6,567.9 294.2,577.1 283,586.4 267.3,595.9 249.7,605.4 241.2,614.7 230.2,624.4 218.3,633.3 211.8,643.1 208.4,652.1 205.3,670.7 201,689.5 197.2,708.4 192.7,727.6 189.4,746.3 185.7,765 182.4,783.5 179.5,802.2 176.3,821.1 173.7,840.1" stroke="#3f28ae"/>
<polyline points="447.3,465.4 447.2,466.9 447,469 446.9,471.3 446.7,472.9 446.6,475.1 442.2,476.9 442.1,478.5 437.9,480.2 432.2,482.6 428.7,484.5 424.5,485.9 419.6,487.6 413.4,490.1 408.6,491.8 406.1,493.4 400.1,495.2 393.2,497.3 390.2,499.5 387.3,500.9 384.5,502.2 380.3,506.6 378.9,511.5 373,516.1 370.3,520.9 366,525.2 362,530.5 357.4,535.3 354.4,539.6 350.1,544.2 344,549.2 335.2,553.4 325.5,558 305.2,567.9 289.6,577.2 281.1,586.6 264.6,595.6 248.1,605.6 238.3,614.8 229.1,623.8 216.7,633.6 211,643.2 208.3,652 204.8,671.3 200.3,690.1 196.7,708.8 192.6,727.3 189.6,746 186.5,764.7 183.1,783.8 180.2,802.1 177.2,821.2 174.5,840" stroke="#402ab3"/>
<polyline points="445.8,465.2 445.7,467.3 445.5,469.5 445.4,471.2 445.3,472.9 445.1,474.5 441,477 439.3,478.9 436.4,480.7 434,482.1 429,484.3 423.6,486.3 417.8,488 411.4,490.2 408.5,491.8 403.7,493.2 398.2,495.3 393.2,497.7 388.9,499.6 384.2,501.4 384.9,501.8 378.6,506.6 377.1,511.5 372.5,515.8 370,521.1 367.4,525.5 362.9,530.4 357.2,535 353.6,539.5 348.8,544.6 343.9,548.8 334.1,553.7 326.4,558.3 306.9,567.9 291.3,577.3 281.8,586.5 265.5,595.8 248.6,605.1 240.1,614.3 229.3,624 218.3,633.1 212,642.7 208.7,652.6 205.6,671.1 201.3,689.7 197.7,708.9 193.8,727.7 190.5,746.3 186.6,764.7 183,783.9 179.8,802.6 177.3,821.3" stroke="#402bb8"/>
<polyline points="443.4,465.4 443.3,467.5 443.2,469.2 443,470.7 442.9,472.6 442.7,475.1 442.6,477 441.8,478.9 437.9,480.3 433,482.5 428.7,484.4 422,486.2 419.3,488.2 413.5,490.2 408.6,491.5 401.3,493.8 397.1,495.4 392.6,497.6 387.9,499.5 385.3,501.4 382.9,502.2 377.8,507.1 376.4,511.1 372.5,515.8 369.5,520.8 365.1,525.7 364.1,530.4 358.1,535.1 354.2,539.3 347.3,544.4 339.3,549 330.8,553.4 320.9,558.3 302.4,568 289.1,576.9 277.7,586.8 263.5,595.7 249.3,605 238.8,614.6 228.8,624.3 218.3,633.7 211.8,643.1 208.2,652 204.3,670.8 200.8,689.5 196.8,708.3 192.7,727.2 189.6,746.5 185.7,765 182.1,783.5 179.2,802.7 176.4,821.2 173.4,839.6" stroke="#412dbd"/>
<polyline points="444.4,465.3 444.3,467.3 444.1,469.4 444,471.4 443.9,472.7 443.7,474.5 443.5,476.9 443.4,478.7 440.9,480.4 431.9,482.6 428.4,484.6 426.4,486 420.6,487.9 417.1,489.9 410.4,491.6 405.1,493.6 399.3,495.3 394.6,497.6 389.4,499.2 385.3,501.4 384.3,502.3 378.8,506.7 375.3,511.2 372.5,515.8 368.9,520.7 366.2,525.7 364,530.2 359.5,535.1 355.6,539.3 349.6,544.5 343.8,549.3 334,553.3 325.4,558.1 306.7,568 291.4,577 281.6,586.4 263.3,596.2 247.7,605.6 238.4,615 229.4,623.9 217.4,633.5 213.3,642.5 207.5,652.2 203.2,671.2 199,689.6 195.8,708.5 191.8,727.4 188.5,745.8 184.5,764.7 181,783.5 178.2,802.7 176.1,821.3 173.5,840" stroke="#422fc2"/>
<polyline points="445,465.7 444.8,467.4 444.7,469.1 444.5,471.3 444.4,473 444.3,474.6 442.2,476.8 438.8,478.9 436.3,480.4 434.9,482.4 433.3,483.9 427.3,485.8 421.7,487.8 412.9,490.2 406.5,491.4 401,493.5 396.3,495.6 394.2,497.6 392.8,499.6 388.3,501.2 387.9,501.7 382.6,506.7 379.1,511.7 376,516 372.3,520.4 368.9,525.8 362.5,530.5 355.4,535.1 352.1,539.3 347.8,544.4 342,548.7 331.3,553.5 322.6,558 303.4,567.5 289.4,577.4 276.8,586.7 259.9,596 246.7,605.4 236.8,614.5 226,623.8 216.3,633.3 211.1,643.1 206.8,652.2 204.2,670.7 199,689.6 195.4,708.5 191.7,727.1 189.2,745.8 185.3,764.8 182,783.9 178.9,802.2 176.1,821.1 173.3,840.2" stroke="#4331c7"/>
<polyline points="456.2,465.3 452.5,467.3 448.3,469.3 444.7,471.2 443.3,473 438.6,475.1 435.7,476.9 432.5,478.2 427.8,480.8 425.4,482.6 423.3,484.3 417.2,486.3 409.3,488.2 409.2,489.5 402.6,491.8 398.9,493.3 394.6,495.3 390.1,497.6 387.2,499.3 382.4,501 382.6,501.8 378.2,506.7 375.9,511.1 371.7,516 370.7,521.1 367.6,525.4 362.6,530.2 357.6,535.2 354.5,539.5 349.7,544.1 342.6,548.9 333.8,553.6 323.1,558.7 306.4,567.4 291.4,576.9 280.5,586.7 264.1,595.5 247.6,605.2 238.5,614.8 230.3,623.7 217.3,633.3 213,642.7 209,652.2 205.9,671.1 201.6,690 196.8,708.2 193,727.1 189.2,746.3 185.5,765.1 182,783.5 179.2,802.1 176,820.9" stroke="#4433cb"/>
<polyline points="459.9,465.2 459.2,467 455.5,469.2 452.3,471.1 450.1,472.7 446.2,474.5 443.6,476.7 440.7,478.2 436.1,480.4 432.9,482.5 426.4,484.5 424.4,486.2 418.8,488 412.2,489.6 405.3,491.7 400.4,493.4 394.6,495.7 392.8,497.3 390,499.3 387,501.3 385.6,502 379.1,507.1 378.5,511.5 376.6,516 370.7,521.1 367.2,525.6 364.2,529.8 359.8,534.7 356.8,539.8 352.4,544.4 347.5,549 338.2,554 328.7,558.2 308.8,567.9 293.9,577 282.2,586.3 266.5,595.7 250.2,605 240,614.4 230.8,623.8 218.7,633.3 212,643.2 208.7,652 204.4,670.9 200.3,689.5 195.6,708.5 191.8,727 187.8,745.9 184.7,764.7 181.4,783.6 178.8,802 175.8,821.2 173.3,839.6" stroke="#4435d0"/>
<polyline points="469.3,465.7 465.5,467 459.6,469.1 456.1,470.9 453.5,472.9 448.5,474.6 445.4,476.5 440.7,478.8 437.5,480.4 432.1,482.1 426.3,483.9 423.2,486 416.8,488.2 411,489.9 407.8,492 402.7,493.8 398.2,495.8 393.7,497 388.9,499.4 387.6,500.9 382.6,501.8 376.9,506.4 374.9,511.6 374.7,515.8 372.5,520.9 370,525.3 366.6,530.4 363.4,534.8 360.7,539.3 358.3,544.6 352.8,548.8 347.8,553.6 337.9,558.1 319.4,567.5 301.7,577.1 287.9,586.2 273.9,595.5 255.9,605.4 243.3,614.6 232,624.4 219.8,633.8 214.2,642.5 209.7,652.3 204.9,670.8 199.4,689.4 193.6,708.7 189.5,727.2 185.7,745.9 182.1,764.8 179,783.4 176.5,802.5 174.1,821 171.7,840.3" stroke="#4536d5"/>
<polyline points="475.6,465.7 470.6,467.1 463.7,469.1 457.1,471.4 454.2,472.7 450.5,474.6 446,476.6 442.8,478.9 441.8,480.3 436.9,482.4 431.3,484 423.7,485.8 419.1,487.8 411,489.8 408.2,491.9 403.9,493.5 397,495.7 393.7,497.7 389.7,498.9 383.9,501.3 384.2,501.9 378.1,506.6 377,511.1 374.8,516.2 374.5,521.1 371.6,525.4 369.7,530.4 366.8,535.1 361.9,539.5 356.1,544.1 350,548.7 346,554 338.6,558.2 319.8,567.9 301.7,577.1 286.7,586.8 276.9,595.8 259.3,605.5 244.8,615 234.4,624.3 223.9,633.3 213.8,642.7 209.7,652.2 205.1,671.2 200.3,689.9 196.1,708.4 192.9,727.3 189.6,745.9 185.9,765.1 181.9,783.9 179,802.3 175.8,821.5" stroke="#4539d9"/>
<polyline points="477.9,465.8 471.7,467.3 465.5,469 459.2,470.8 452.3,473.3 448.2,475.1 444.3,476.4 439.7,478.8 437.1,480.6 432.7,482.2 428.5,484.2 422.4,486 415.6,487.9 410.8,489.9 404.4,492 398.3,493.5 395.9,495.2 392,497.7 389,499.1 386.1,500.9 382.7,502.3 380.2,506.7 378.4,511.7 374.7,516.5 371.3,520.6 367.6,525.7 365.8,530.1 360.9,534.8 356.1,539.5 352.4,544.3 347.3,549.2 340.5,553.4 331.4,558.3 312.6,567.5 297.5,576.9 286.1,586.2 271,596.2 255.2,605.2 243,614.7 231.9,623.8 219.8,633.4 212.2,642.5 208.6,652.3 204.6,670.8 199.5,689.7 194.9,708.2 190.1,727.5 187.5,745.7 184,764.5 179.9,783.9 177.5,802.5 174.9,821.1 172.4,840.1" stroke="#463bdc"/>
<polyline points="482.7,465.7 472.9,467.6 466,469 459.5,470.8 452,472.6 446.5,474.6 442.4,476.5 437.2,478.3 431.6,480.8 431,482 426.5,484.1 422.9,485.8 417.3,488.2 413.4,489.5 407.6,491.7 401.2,493.7 398.8,495.3 392.1,497.2 387.6,499.5 385.7,501.2 384.4,502.3 380.5,506.4 377.8,511.1 376.2,515.8 372.8,521.1 368.4,525.6 367.1,530.1 363,534.9 359.4,539.5 353.1,544.1 346.3,549.1 343.5,553.6 336.6,558.5 315.4,567.7 298.6,577.4 286,586.9 272.7,596.2 256.7,605.2 243.5,615 232.8,624.1 221.9,633.5 214.7,642.5 210,652.5 203.9,671.1 200,690 195.6,708.2 191.6,727 188.7,745.8 185,765 181.2,783.9 178.5,802.5 175.6,821.3 172.9,840.2" stroke="#463de0"/>
<polyline points="492,465.7 483.3,467.2 473.5,469.4 464.9,471.3 458.3,472.9 452,474.9 447.5,476.8 442.6,478.5 437.3,480.4 432.7,482.5 426.9,484.3 420.2,486.3 413.5,487.9 409.4,489.6 401.9,491.7 395.6,494 392.8,495.5 388.3,497.5 385.6,499.1 381.9,501.3 380.6,502.4 378,507 377.7,511.3 374.3,515.9 373.8,520.9 369.1,525.6 365.5,530 362,534.5 359.6,539.9 355.1,544.5 350.7,548.9 346.7,553.4 341,558.4 322.9,567.7 305.3,577.3 289.6,586.4 276.5,595.8 259.5,605.4 246.3,614.9 235,623.9 223.5,633.4 214.8,643 210.3,652.3 205.4,670.7 199.6,689.6 195.8,708.7 190.7,727 186.9,746.4 183.4,765 180,783.5 177.1,802.1 174.5,821.4 172.5,839.6" stroke="#4740e3"/>
<polyline points="499.7,465.7 490.9,467.4 481.8,469.2 475.1,470.9 466.7,473 459.5,475.2 455.6,476.9 451.2,478.3 446.7,480.2 441,482.7 437.6,484 428.8,486.4 425.7,487.8 419.9,489.6 415,492.1 406.7,493.7 400.8,495.8 395.5,497.7 392.3,498.9 390.3,500.9 387.4,501.8 381.4,506.6 378.6,511.2 375.1,515.9 373,520.7 369.9,525.2 367.1,530.1 366.2,535.1 362.7,539.7 356.4,544 354,548.8 349.2,553.6 343.1,558.7 325.5,567.7 306.2,577.1 290.6,586.3 278.8,595.6 261.2,605.3 246.2,614.6 235.4,624.3 224.7,633.6 215.7,642.8 210.8,651.9 205.8,671.3 199.3,689.6 194.9,708.5 190.9,727.3 187.5,746.1 184.3,764.9 180.7,783.9 178.2,802.2 175.2,821.5 172.9,839.9" stroke="#4742e6"/>
<polyline points="502.7,465.5 491.1,467.1 478.4,469.3 468.9,471.4 463.6,472.7 455.3,475.1 451.2,476.4 446.2,478.8 442.5,480.4 437.4,482.3 432.5,484.1 427.4,486.4 423,488 418.6,489.9 413.7,491.7 405.3,493.6 397.7,495.3 396.1,497.2 391.5,499.5 387.4,501.1 384.9,502 377.8,506.9 375.7,511.8 374.9,515.9 371.1,521.1 367.7,525.8 365.6,530 364.3,534.6 360.3,539.9 355.2,544.1 349.5,548.6 345.1,553.4 336.2,558.2 317.3,567.4 300.5,577 287.5,586.6 273.1,596.1 256.2,605.6 244.8,615 232.2,624.4 221.3,633.4 212.2,643 208.7,652.3 204.2,670.6 199.3,689.5 194.4,708.3 190.9,727.1 186.7,745.9 183.2,764.7 179.6,783.4 177.2,802.2 174.6,821 172.3,840" stroke="#4744e9"/>
<polyline points="498.7,465.8 484.4,467.7 475.7,469.2 467.2,471 461.3,472.9 454.7,475.1 450,477.1 445.4,478.3 440.2,480.7 436.2,482.6 433.6,484.1 428.3,486 423.2,487.6 417.5,489.7 413.6,491.8 406.2,493.6 398.4,495.6 395.7,497.6 393.7,499.1 389.1,500.9 387.6,501.8 378.5,506.7 377.4,511.2 374.7,516.2 375.1,520.5 371.1,525.6 369.6,529.9 364.6,535.1 359.9,539.8 354.7,544.4 348.7,549.3 344.5,553.6 337.8,558.3 317.4,567.5 300.8,577.2 287.9,586.5 274,596.3 258.1,605.4 245.4,614.3 234.9,623.8 221.2,633.6 214.3,643.1 210.1,652.3 204.7,671.3 199.6,690 195.2,708.7 191.4,727.4 187.5,746 183.6,764.5 180,783.7 177.8,802.5 174.9,821.4 172.7,840" stroke="#4747eb"/>
<polyline points="509.9,465.5 497.5,467 480.9,469.5 473,471.2 466.1,472.7 457.2,475.1 450.5,476.7 446.6,478.4 441.7,480.7 437.8,482.2 431.2,484.5 424.5,486.2 419.6,487.8 413.9,489.7 407.5,491.5 404.7,493.3 398.1,495.3 395.9,497.2 388.8,499.1 386.5,501 381.4,501.9 377.1,507 375.5,511.5 374.1,515.9 371.7,520.9 370.5,525.3 366,530.4 365.9,534.9 362.8,539.9 360.3,544 356.8,548.7 351.5,553.8 346.6,558.2 326.6,567.4 309,577.2 290.9,586.8 279.2,595.9 262.6,605.3 247.2,614.3 235.2,624.3 224,633.8 214.6,642.5 209.6,652 204.7,670.8 198.7,690 194.1,708.9 190.5,727.6 187.1,745.9 183.1,764.7 179.7,783.8 177.1,802.2 174.7,821.5 172.2,839.9" stroke="#4849ed"/>
<polyline points="505.3,465.6 489.2,467.3 477.5,469 467.2,470.9 458.4,473.2 451.1,475 448.2,476.6 443.8,478.3 439,480.2 437.1,482.2 432.6,483.9 423.8,486 417.3,487.6 411.1,490.2 406.3,492.1 401.6,493.5 395.8,495.4 393.5,497.2 390.5,498.9 384.8,501.3 382.2,501.8 378.6,507.1 377.8,511.4 375.2,516 372.7,520.8 368.3,525.7 365.3,530.3 362.9,534.7 358.4,539.9 352.2,544.3 349.3,548.7 343.3,553.9 335.2,558 315.3,567.6 300.3,577.1 284.5,586.2 271.2,595.8 254.9,605.6 243.7,614.8 233.6,623.9 222,633.1 214.5,643 209.8,652.1 204.3,670.7 199.3,690.1 193.8,708.3 190,727.6 186.7,746.2 182.9,764.5 179.3,783.5 176.6,802.6 174.2,821.3" stroke="#484cef"/>
<polyline points="504.3,465.2 487.1,467.2 472.5,469.4 463.4,471.2 454.8,473.1 449.2,475.2 446,476.5 441.6,478.6 439.3,480.1 434.1,482.6 430.1,484.5 423.4,486.3 420.8,487.7 414,490 407.6,491.7 401.9,493.6 399.8,495.4 394,497 389.2,499 385.4,500.8 383.2,502.2 379.1,507 379.5,511.2 375.9,516.4 374.1,520.6 370.1,525.2 365.7,530.1 362.5,535.1 359.2,539.3 355.5,544 351.5,549.2 346.4,553.4 338.4,558.6 317.6,568 302.9,577.2 287.2,586.4 273.5,596 257.2,605.5 244.4,614.4 233.4,623.7 222.3,633.4 213.4,642.9 209.7,652.6 204.1,671.3 200,689.9 195.8,708.8 191.8,727.2 188.4,746.4 184.4,765.1 180.9,783.5 178.3,802.5 175.2,821.1 172.8,839.8" stroke="#484ef1"/>
<polyline points="507.2,465.2 488.8,467.2 475.1,469.3 463.4,471.3 453.9,473 448.9,474.9 445.4,476.8 441.2,478.9 436.5,480.5 431.1,482 423.6,484.4 420.9,485.9 414.4,488.3 413.1,489.5 404.5,491.9 400.8,493.6 398.1,495.8 393.2,497.1 389,499.4 385.2,500.9 380,502.2 379,506.6 377.6,511.3 376,516.2 374.5,520.9 370,525.3 367.5,530.3 364.7,534.9 360.7,539.5 357.1,544 353,549.3 346.4,553.9 340.8,558.1 320.9,568.1 303.9,577.5 290,586.5 278.6,595.9 262.8,605.5 248.3,614.8 236.6,624 225.1,633.2 215.1,642.9 210.2,652.6 205.9,671.3 201.3,689.6 198.3,708.2 193.9,727.6 190.7,746.1 186.5,764.5 182.9,783.5 179.7,802.6 177,820.8 174.6,839.9" stroke="#4851f3"/>
<polyline points="507.6,465.2 482.5,467.2 469.4,468.8 456,471 448.6,472.6 438,475 433.3,476.6 425.5,478.7 422.1,480.6 415.8,482.4 412.8,483.9 406.1,485.9 403.3,488.3 401.3,489.9 398.1,491.4 397.2,493.8 391.7,495.6 387.8,497.7 388.8,499 384.6,500.8 385,502 381,506.5 379.7,511.8 377.3,516.2 373.2,521.2 368.9,525.6 365.6,530.4 364.1,535.2 358,539.9 355.7,544.6 351,548.7 347.8,553.3 338.5,558.1 318.6,567.8 301.9,577.3 287.5,586.4 274.5,595.7 258.2,605.5 244,614.9 233.8,624.1 222.1,633.8 214.4,642.6 210,652.4 207.1,670.7 201.9,689.7 197.3,708.2 193.8,727.1 190.7,746.2 186.6,765.1 182.4,783.5 179.5,802.7 176.8,821.1" stroke="#4853f5"/>
<polyline points="515.1,465.1 492.4,467.3 477.6,469.2 465.6,471.2 456.8,473.1 451.8,475.2 447.1,476.6 441.8,478.8 438.1,480.3 437.5,482.1 430.4,484.2 426.6,485.7 420,488.1 413.7,490.2 408.7,491.6 401.2,493.3 396.7,495.5 395.4,497.6 391.3,499.4 389.5,501.2 386.8,502.3 382.5,506.7 378.7,511.6 376,515.9 374,520.8 371.7,525.9 367.3,530.1 362.9,534.6 359.6,539.6 355.5,544.2 351.5,549 348.6,553.6 340.4,558.4 322.4,567.9 304.9,577.3 289.2,586.8 275.6,595.7 260.3,605.2 247.3,614.5 236.1,624.2 224.7,633.2 214.8,643 209.4,651.9 204.9,670.9 200.2,689.7 196.1,708.7 192.4,727.6 189.2,745.8 186,765 182.9,783.9 179.7,802.7 177,821 174.3,840" stroke="#4756f6"/>
<polyline points="504.2,465.8 494.2,467 478.8,469.3 470.3,470.9 460.7,472.9 453.8,475.2 449.5,476.7 441.8,478.9 437.6,480.1 430.6,482.5 425.7,484.1 418.7,486.2 415,487.9 408.8,490.1 403.8,491.5 399.8,493.9 395.7,495.5 392,497.5 387.3,499 382.1,501.2 380.2,502.1 378.7,506.5 377.7,511.5 374.5,516.3 371.7,520.9 369,525.4 364.7,530.5 361.6,534.7 358.9,539.4 353.1,544.1 348.7,549.2 343.9,553.3 334.9,558.3 315.1,567.8 299.8,577 287,586.3 273.1,595.7 254.7,605.2 242.8,614.6 233,624.3 220.8,633.3 212.3,642.8 208.4,652.6 204.6,670.9 199.1,689.9 195.3,708.8 191.3,727 187.9,745.9 184.4,765.2 180.9,783.7 178,802.1 175.4,820.9" stroke="#4758f8"/>
<polyline points="501.1,465.3 488.2,467.1 475.4,469.3 465.3,471.4 459.2,472.6 450.3,475.1 444.9,476.7 439,478.9 436.4,480.2 428.9,482.3 423.6,484.6 418.5,486.1 413.2,487.6 407.6,490.1 403.2,491.6 397,493.9 392.7,495.4 390.8,497.4 388.3,499.1 384.5,501.2 382.4,502.1 380.6,506.5 377.5,511.2 376.6,516 370.8,520.9 368.5,525.5 363.5,530.5 360.5,535.2 357.1,539.4 350.7,544 347,548.9 340.5,553.9 332.3,558.3 312.2,567.8 295.6,577.4 283.7,586.4 270,595.6 253.4,605.1 241.5,614.7 232.6,623.8 221.5,633.3 213.2,643.1 208.9,652.6 204.4,671.2 200.1,689.9 196.5,708.4 192.1,727.5 188,746.3 185.1,764.6 181.7,783.5 178.2,802.4 175.8,821.4 173.4,839.8" stroke="#475bf9"/>
<polyline points="504.6,465.5 491.8,467.1 477.3,469.2 469.6,470.9 462,472.6 454.1,474.6 448.4,476.3 442.4,478.3 436.1,480.4 430.3,482.2 423.7,484.4 419.4,485.7 411.3,487.8 406.8,489.6 403.6,491.5 400.3,493.8 396.2,495.4 390.7,497.4 388.1,499.4 383.9,500.8 380.9,501.8 376.9,506.7 373.8,511.3 374.7,515.9 371.7,521.1 365.8,525.3 362.5,530.5 358.1,535.1 356.4,539.5 351.6,543.9 346.4,548.7 340.5,553.7 332.7,558.7 312.5,567.8 296.4,577.3 283.6,586.5 269.7,596.1 254.1,605 242.2,614.8 231.5,623.9 220.2,633.7 213.4,642.5 210,652 205.9,671.3 200.5,689.5 196.5,708.6 192.6,727.6 188.8,746.2 185.2,764.8 181.9,783.6 178.5,802.7 175.9,820.8 173.6,840.3" stroke="#465dfa"/>
<polyline points="498.6,465.1 475.5,467.4 461.5,469.5 453.8,470.9 446.6,472.6 439.9,475 436.1,476.5 432.9,478.7 426.7,480.8 423.5,482.4 417.4,484.2 414.5,486.4 410,488 402.5,490.2 400,491.6 395.2,493.9 395.1,495.7 392.3,497.4 387.1,499.2 384,501.2 382.3,502.4 379.4,506.4 377.1,511.5 374.3,516.4 371.2,520.6 368.6,525.8 365.1,530.5 362.1,535 357.8,539.9 353.2,544 350.9,548.6 345.1,553.7 336.8,558.4 318.7,568 301.4,577.2 287.1,586.2 272.1,595.6 254.6,605.2 243.2,614.6 231.7,624.4 219.2,633.7 212.4,643.2 208.8,652.4 205.4,670.8 199.7,689.5 196,708.5 191,727 188.3,746.1 184.6,765.2 180.9,783.9 178.5,802.6 175.7,820.8" stroke="#4660fb"/>
<polyline points="494.4,465.3 482.3,467.2 473.5,468.9 462.6,471.4 457,473.3 450.9,474.6 445.8,476.5 440,478.9 434.3,480.2 429.5,482.4 423,484.5 422.7,485.7 415.6,487.8 407.3,489.6 401.1,491.4 396.4,493.7 394.9,495.1 391,497.2 386.4,499.5 385.7,501.3 384.7,502.1 381,506.9 378.2,511.7 374.7,515.9 372.2,520.7 370.2,525.8 366.8,530.5 363.2,535.2 357.3,539.5 354.4,544.3 350.2,549 343.8,553.9 337.5,558.3 319.6,567.8 301.8,576.8 288.3,586.2 272.9,596.1 257.8,605 243.2,615 234.5,623.8 221.7,633.5 213.8,642.7 209.7,652.3 204.9,670.7 200.3,690 197.4,708.4 193.6,727.1 189.5,746.4 186.2,764.7 182,783.3 179.1,802.2 176.4,821.4 174,840.2" stroke="#4562fc"/>
<polyline points="483.2,465.6 470.7,467.7 465,468.8 455.9,470.8 448.9,472.7 444,475.1 439.8,476.9 434.1,478.7 430,480.7 426,482.2 420.9,483.9 414.7,486.1 410.9,488.3 408.1,489.7 400.5,491.8 396.7,493.4 394.8,495.3 392.4,497 389.3,499.5 385,500.8 381.7,502.2 377.1,506.8 377.5,511.1 376.9,515.9 374.8,520.7 372.7,525.8 368.7,530.4 364.9,534.8 360.7,539.9 357.8,544.5 350.1,549.2 346.3,553.4 342.7,558.1 322.3,567.6 306.7,576.8 291.3,586.8 280.2,595.8 261.8,605.6 247.9,614.7 236.9,624.1 225.3,633.1 215.2,642.7 210.6,652.3 205.5,671.1 201,689.6 197.7,708.2 193.4,727.2 189.4,746.3 185.9,765 182,783.8 178.9,802.6 176.3,821.2" stroke="#4465fd"/>
<polyline points="480.6,465.6 471.3,467.5 461.5,469.4 454.1,471.3 447.5,473.2 444.4,474.5 437.7,476.7 432.3,478.7 430.9,480.1 425.3,482.2 420.9,484.1 413.6,486.4 408.7,487.8 403.2,489.5 400.7,491.7 395.3,493.8 392.6,495.2 391.9,497.2 387.4,499.4 383.9,501 381.6,501.9 377.9,507.1 377.4,511.3 376.1,516.1 372.5,520.5 369,525.4 367.8,530.1 363.5,535.1 360.1,539.9 357.9,543.9 350.6,549.3 346.2,553.4 336.2,558.6 315.3,568 300.9,577.3 287.4,586.7 274,595.9 257.9,605.2 244.5,614.3 232.8,624.1 220.9,633.7 213.1,642.8 208.9,651.8 205.4,671.1 200.7,689.5 196.4,708.9 192.9,727.1 189.6,746.2 186.5,765 182.7,783.9 179.2,802.6 176.2,821.5 174.1,839.6" stroke="#4367fd"/>
<polyline points="483.6,465.2 467.1,467.6 459.1,468.9 449,471.1 443.1,472.8 436.4,474.6 429.7,476.5 424.1,478.5 418.5,480.6 416.7,482.2 413.3,484.3 408.8,486.2 404.8,488.1 399.8,490 398.2,491.8 392.4,493.8 391.2,495.2 388.9,497.1 385.2,499.5 381.6,501.3 381.6,501.7 378.6,506.6 377.7,511.1 376.7,516.1 373.9,520.8 369.8,525.6 367.8,530.3 364.2,534.8 361.3,539.5 357.1,544 351.2,548.7 346.2,553.9 339.4,558 320.5,567.4 302,577.4 287.4,586.5 274.5,596.3 259.9,605.2 244.8,614.8 234.3,624.1 224.7,633.1 215.1,642.8 210.2,652.2 205.3,670.7 200.6,689.9 197.2,708.2 192.5,727.1 188.7,746.2 185.5,764.6 181.5,783.4 178.8,802.1 175.9,821.2 173.3,839.7" stroke="#426afe"/>
<polyline points="475.6,465.7 466.8,467.3 458.7,469.4 452.3,471 445.3,473.3 441.5,474.8 437.8,476.6 432.1,478.3 425.7,480.7 419.1,482.6 415.8,484.1 412.3,486.4 407.2,487.8 401.3,489.7 395.5,492 392.7,493.4 388.3,495.6 386.4,497.5 384.7,499.1 379.5,500.8 378.8,502.4 379.6,506.8 378.8,511.6 375.5,516 374.5,520.5 370.7,525.3 366.8,530 363.2,534.6 359,539.7 355.6,544.2 352.2,549.1 346.6,553.4 340.1,558.3 323.9,567.4 304.4,577.5 291.1,586.6 279.5,595.8 261.2,605.3 246.9,614.9 236.7,624.3 223.7,633.7 214.5,642.8 210.7,652.2 204.7,671 200.3,689.7 196,708.6 192.6,727.3 189.1,746.2 184.9,765.1 180.8,783.9 178,802.5 175.4,821.3 173,839.9" stroke="#406dfe"/>
<polyline points="473.5,465.3 464,467.6 456.8,469.5 451.8,470.8 446.5,472.6 442.4,474.9 437.2,476.8 434.9,478.8 430.1,480.4 423.8,482.1 418.5,484.2 415.3,486.4 409.9,487.9 406,489.8 402,491.7 397,493.6 394.3,495.7 392.3,497.4 389.3,499 382.6,501 381.7,501.7 379.7,506.6 378.6,511.8 378.3,516 375.5,520.8 372.1,525.3 366.6,530.2 363.2,535.1 361.8,540 356.6,544.3 352.2,549.3 347.1,553.5 342.2,558.6 324.1,567.4 306.9,577 290.4,586.4 279.5,595.9 261.5,605.4 246.1,615 236.4,624.3 223,633.6 213.9,642.6 209.6,652 205.4,670.9 201,689.6 196.8,708.5 192.6,727.4 189.2,745.9 185.3,764.6 181.6,783.9 178.4,802 175.7,821.2" stroke="#3e6fff"/>
<polyline points="467.4,465.5 459.6,467.1 450.8,469.5 446.3,471.4 441.8,473.1 438.2,474.8 433,476.4 429.8,478.4 426.3,480.2 422.3,482.1 418.2,484.4 416,485.8 410.7,487.7 404.6,489.9 398.8,491.7 395.5,493.6 391.3,495.5 388.8,497 384.4,499.3 381.8,500.8 378,502.1 376.6,506.5 374.6,511.7 373.5,516 372,521.1 370,525.1 366.9,530.5 363.8,534.8 360.5,540 353.8,544.6 350.5,548.8 345.9,553.4 337,558.2 316.8,567.6 299.8,577 286.5,586.9 273.6,596 256.8,605.5 245.5,614.7 234.8,624.1 223.7,633.2 214.5,642.9 210.4,652.5 205.2,670.9 201.2,690 197.8,708.5 193.6,727.4 189.5,745.7 185.3,765 182.1,783.8 179.2,802.6 176.1,821.5 173.5,839.9" stroke="#3c72ff"/>
<polyline points="472.7,465.3 463.7,467.6 459.9,468.9 454.6,470.8 447.8,473 442.5,475 440.2,476.7 434.3,478.6 430.9,480.4 426.4,482.2 419.7,484.4 414.2,486.4 410.1,487.8 405.2,490.2 400.2,491.8 397.2,493.5 393,495.7 389.9,497.7 388.2,499.3 381.8,501.5 381.3,502.4 378.4,506.7 377,511.1 375,516.1 374.8,520.9 373.3,525.2 369.2,529.9 365.6,534.6 363.6,539.3 358.3,544.6 355,549.3 349.3,553.4 343.5,558.5 323.8,567.7 303.9,576.9 288.9,586.8 276.6,596 260.8,605.5 246.4,614.5 236.5,624.1 223.5,633.7 213.7,643 210.5,652.5 206.4,671.1 201.8,689.4 196.7,708.3 193.3,727.5 190.6,746.2 186.3,765.1 182.4,783.7 179.2,802.5 176.5,821.5 174.1,839.6" stroke="#3975fe"/>
<polyline points="466,465.2 455.9,467.6 451.6,469 446,471 441.2,473.2 438.9,475 435,476.7 429.5,478.3 426,480.7 424.2,482 419.7,484.5 414.5,486.3 410,488.2 408.1,489.6 401.1,492 396.9,493.5 394.3,495.8 390,497.5 387.2,499.6 382.5,501.4 381.3,501.7 379.1,506.7 377.8,511.5 374.5,516.5 374.3,521.1 370.5,525.6 368,530.5 363.7,535.2 359.7,539.8 355.4,544 351.5,548.6 347,553.6 340.4,558.3 321,567.8 304.9,577 290.1,586.4 276.7,595.9 260.6,604.9 246.1,614.6 235.8,624 224.6,633.1 214.9,642.5 210,651.9 205.1,670.7 200.3,689.6 195.3,708.6 190.8,727.5 187.4,746.2 184.1,764.9 180.5,783.6 177.7,802.7 174.9,821.5" stroke="#3677fe"/>
<polyline points="464.5,465.7 458.9,467 450.4,469.5 445.3,471.1 442.1,472.6 437.7,474.9 433.5,476.6 427.5,478.6 426.2,480.1 422,482.6 416.9,484.5 411.2,486.3 410.5,487.7 406.5,489.5 398.7,491.9 397,493.8 390.5,495.4 388.5,497.6 386.8,499.3 383.2,501.2 379.9,502 377.2,506.7 375.9,511.8 374.4,515.8 371.2,520.6 368.7,525.6 366.7,529.9 364.1,534.7 360.3,539.8 357.9,544.2 353.6,549.2 347.7,553.9 341.8,558.4 322.5,567.7 304.3,577 287.1,586.7 276.3,595.7 260.6,605.5 246.7,614.5 237.4,623.7 225.7,633.4 216.3,642.8 209.6,652.3 204.8,670.8 200.1,689.8 195.5,708.5 191.2,727.3 187.2,746 183.3,765.1 180.8,783.4 178.4,802.1 175.3,821.2 172.4,839.6" stroke="#347afd"/>
<polyline points="464.6,465.6 459.4,467.1 453.1,469 446.9,471.4 444.2,472.7 440.5,474.9 435.9,477 435.5,478.5 430.6,480.6 425.9,482.5 422.1,484.4 415.5,486.4 411.8,488 403.5,490 398.4,491.6 394.8,493.7 391.4,495.8 388.4,497.6 385.6,499.1 383.1,501.2 383.6,501.8 379.2,506.8 378.7,511.5 376.6,516.5 373.1,520.5 369,525.7 367.1,530.2 366,534.7 361.6,539.7 355.1,544.6 352.6,549.2 350,553.4 343.5,558.7 326.2,567.7 309.8,576.9 291.2,586.6 279.2,596 261.8,605.6 248,614.5 236.6,623.8 225.1,633.1 215.8,642.8 211.2,652.2 206.2,671.1 200.3,689.9 196,708.2 191.5,727 188.2,746 184.6,764.8 181.2,783.4 178.2,802.1 175.4,821.3 173,840.1" stroke="#317dfc"/>
<polyline points="463.5,465.8 457.3,467.5 450.8,469.5 447,471.4 443.4,472.7 439.3,474.9 434.5,476.4 431.4,478.7 426.3,480.8 423.6,482.4 421.8,483.9 415.2,486.2 406.7,488.3 400.8,490.1 397.9,492.1 395.2,493.3 390.2,495.8 389.9,497.3 386.6,499 384.2,501 383.7,501.7 379.4,506.6 377.8,511.5 374.8,515.8 374.1,520.6 371.6,525.3 370.5,530.4 368.1,535.1 364.8,539.6 359.2,544.6 355.3,548.7 350.6,554 347.1,558.6 331.3,567.5 310.8,577 292.6,586.4 282,595.8 264.5,605.6 248.9,614.5 236.8,623.9 226.1,633.2 214.9,642.9 209.8,652.3 203.9,671.2 198.8,690 194,708.9 189.8,727.3 186,745.9 182.2,765 178.7,783.4 176.1,802.2 173.6,821.4" stroke="#307ffb"/>
<polyline points="463.7,465.3 458.2,467.1 452.6,469.6 450.7,470.8 446.5,472.6 442.8,474.9 440.3,476.8 437.8,478.6 433.9,480.5 430.1,482.1 425.5,484 417.3,486.2 411.7,488.2 409.3,489.5 404.5,491.6 399.3,493.5 394.1,495.3 391.3,497.5 390.3,499 385.7,501.2 381.2,502.1 379.5,506.5 377.6,511.3 375.3,516.2 373.5,520.9 371.9,525.2 370.8,530 368,534.8 365.2,539.6 359.7,544 355.6,549 351.7,553.6 347.3,558.6 329.4,568.1 310.1,577.2 292.3,586.6 281.4,595.6 265.4,605.2 249.5,614.4 239.8,623.7 227.9,633.2 215.9,642.9 210.4,652.6 205,671.3 199.5,689.7 195.2,708.6 192.2,727.4 188.3,746.3 184.6,764.7 181.1,783.3 178.2,802.4 175.4,820.9 173.3,840.3" stroke="#2f82fa"/>
<polyline points="467.6,465.3 461.4,467.3 454.5,469.5 450.5,471.2 449.3,472.6 444.1,474.7 438.8,476.9 432.9,478.7 427.6,480.3 426.3,482.4 421.3,484.3 415.4,486 409.2,488.3 403.8,490 399.7,492 395.3,493.9 393.4,495.7 392.3,497.3 387.9,499.6 384.2,501.3 382.2,502.2 381,506.8 377.1,511.2 373.8,516.1 371.6,520.5 367.5,525.8 366.1,530.1 363.1,534.5 358.6,539.4 355.1,544.1 350.6,548.7 346.4,553.4 338.8,558.1 318.4,567.8 301.3,576.9 287.2,586.7 274.4,595.6 257.7,605.6 245,614.6 234.6,623.9 222,633.5 214.7,643.1 210.2,652 205.7,670.8 200.5,689.5 196.8,708.8 192.8,727.4 189.4,746.3 185.7,765 182,783.3 178.6,802.6 175.9,821.5 173.4,839.7" stroke="#2e84f8"/>
<polyline points="473.6,465.1 464.7,467.2 457.3,469.2 453.3,470.9 443.8,473.2 439.6,475 436.5,476.8 431.7,478.7 428.6,480.3 421.6,482.5 418.2,484.3 412.5,486.1 409.1,488 406.3,489.5 398.7,491.6 398.6,493.9 393,495.8 389.6,497.1 384.1,499.5 379.3,501.3 379.3,502 377.9,507 376.2,511.6 375.7,516.1 371,520.8 368.4,525.7 365.8,530.2 362.6,534.6 359.3,539.6 354.4,544.6 349.4,548.8 344,553.5 334.9,558.6 314.5,568.1 298.8,577.5 286.9,586.2 274.1,595.6 255.7,605.6 244.1,614.8 234.3,623.7 221.1,633.7 214.2,642.9 208.9,652 204.3,670.8 200,689.7 196.1,708.4 191.7,727 188.4,745.9 185.6,765.2 182,783.5 178.8,802.1 175.9,821.5 173.4,839.6" stroke="#2e87f7"/>
<polyline points="473,465.1 465.1,467.2 458.8,469.2 454.6,471.2 449.6,473.1 445.9,474.5 440.5,476.9 435.8,478.7 432.9,480.4 428.1,482.3 425.1,484.2 420.6,486.1 413.3,488.2 410.6,489.5 403.3,492 398.7,493.6 393.4,495.8 391.6,497.2 387.9,499.1 383.8,501 383.1,502.1 378.7,507.1 376.1,511.1 375,516.3 374.6,520.8 371.3,525.3 365.7,530.3 363.2,535.1 359.6,539.5 357.5,544.2 353.2,548.7 348.8,553.7 342.8,558.1 324.2,568 305,577 288.4,586.8 276.4,595.6 260.1,604.9 245.7,614.3 235.8,623.9 225.1,633.2 216.3,642.9 211.4,652.2 206,670.9 200.2,690 195.1,708.9 190.7,727.4 186.9,746 184.1,764.9 180.8,783.7 178.3,802.4 175.4,821.3" stroke="#2d89f5"/>
<polyline points="472,465.2 465,467 458.3,468.8 452.6,471 447.2,472.6 442.2,475 440.6,476.6 436.8,478.6 431.9,480.8 431,482.5 425.7,484.4 418.3,485.9 414.6,487.9 405.8,489.7 402.6,491.6 398.1,493.8 394,495.6 390.1,497.3 386.2,499.3 386.3,501.4 382.6,502 378.6,506.4 377,511.3 374.7,516.1 374.8,521 372,525.3 368.5,530 366.2,534.6 362.7,539.3 357.2,544.5 352.4,549.1 348,553.6 341.4,558.6 322.7,567.7 304.9,577.3 290.4,586.7 277.2,596 261,605.4 246.7,614.9 236.1,624 224.8,633.1 215.8,642.6 210.6,652 206,671.2 201.6,689.6 197.2,708.8 193.1,727.6 189.8,746 186.4,764.6 182.2,783.4 179.4,802.8 176.3,821.2 173.6,840.2" stroke="#2d8bf4"/>
<polyline points="473.4,465.2 465.1,467.2 458.5,469 453,471 448.4,473.3 444,474.9 442.7,476.4 438.9,478.4 434.4,480.6 434.2,482.1 431.7,483.8 424.1,486.2 418.6,487.9 413.2,489.9 405.2,491.8 400.5,493.7 395.9,495.5 393.5,497 387.8,499.6 384.9,501.3 381,502.3 378.7,506.5 378.7,511.5 377,516.1 374.3,520.5 370.2,525.5 368.1,530.2 365,535.2 362.6,539.2 359.7,544.4 355.9,549.2 350.8,554 347,558.6 330.1,567.4 309.9,576.9 291.8,586.3 280.8,595.6 265.5,605.1 248.8,614.8 238.7,624 227.1,633.1 216.2,642.8 210.2,652.4 206.2,670.9 201.6,689.9 196.8,708.2 192.3,727.3 188.8,746 185.5,764.7 181.9,783.7 179.2,802.7 176,821.2 173.4,839.6" stroke="#2c8ef2"/>
<polyline points="478.5,465.7 470.8,467.4 462,469.6 456.4,471.1 449.3,473.3 444.4,475.1 441.4,476.5 438.3,478.8 434.9,480.3 426.8,482.2 421.4,484.3 418.9,486 415.6,487.6 407.6,489.5 402.8,491.5 399.2,493.9 394.8,495.4 391,497.2 386.8,499.6 382.5,501.2 382.6,502.1 379.7,506.8 378.1,511.3 375.5,516.2 375.2,520.7 371.8,525.8 368.7,529.9 366.3,534.6 362.7,539.3 358.6,544 356.7,549.1 351.6,553.4 346.5,558.1 330.1,567.4 310.5,577.5 294.1,586.4 282.4,596.1 264.8,605.5 249,614.4 236.5,624 226.1,633.6 216.1,642.5 211.5,652.3 206.1,670.8 201.3,689.9 198,708.8 194.1,727.5 190.4,746.3 186.8,764.8 182.9,783.6 179.6,802.6 177.1,821.4 174.9,840.2" stroke="#2c90f0"/>
<polyline points="482.7,465.5 472.9,467.1 464.3,469.2 456.9,471.3 452.5,473 446,475.1 439.6,476.6 435.1,478.9 432,480.2 427.6,482.5 424.9,484.3 417.3,486.1 410.5,487.6 406.4,489.7 401.6,491.6 395.8,493.8 393.7,495.5 389.4,497.2 384.8,499 382.8,500.8 381.4,502 378.1,506.5 376.2,511.3 375.7,516.2 374.3,520.6 371,525.2 366.7,530.4 363.7,535.2 361.4,539.6 356.6,544.5 352.4,548.9 349.5,553.7 346.7,558 327.5,567.8 307.3,577.4 290.7,586.5 279.3,595.9 263.7,605.3 246.8,614.7 235.7,624.2 224.5,633.7 215.6,642.8 210.8,652.3 206.4,671.3 203.2,690 199.6,708.2 195.1,727.6 190.7,746.2 186.9,765.1 183.2,783.9 180,802 176.8,821.4 174.1,840" stroke="#2b92ee"/>
<polyline points="488.6,465.2 474.8,467.4 466.3,469.3 460.2,470.8 453,473.1 448.9,475.1 444.7,476.5 441.2,478.4 435.6,480.8 432.5,482.2 428,484.3 422.1,486 418.5,488.1 413,489.8 405.3,491.4 399.3,493.8 396.9,495.6 394.8,497.3 389.4,499.1 385.2,501 382.6,501.7 378,506.5 377.7,511.3 375.8,516.2 373.5,521 370.3,525.8 368.9,530.2 367.1,534.7 365.2,539.6 360.6,544.3 354.7,548.8 351.3,553.4 348.2,558.1 331,567.8 313.3,576.8 293.7,586.1 282.1,595.9 266.9,605.5 251,614.7 239,624 226.8,633.6 215.9,642.9 211.7,652.3 206.5,671 200.7,690 195.6,708.8 191.5,727.7 188.2,746 184.1,764.9 180.6,783.5 178.1,802.6 175.5,821.5" stroke="#2994ed"/>
<polyline points="487.9,465.6 476.2,467.1 462.3,469.6 457,470.8 449.7,472.8 444,474.7 440.2,476.5 437.8,478.2 431.3,480.4 424,482.6 424.1,484.1 417.6,485.9 410.5,488.1 406.8,489.9 402.6,491.7 397.7,493.8 394.6,495.5 388.8,497.6 384.8,499.6 380.4,501.3 382.5,501.7 379.6,506.9 375.1,511.4 374.1,516.1 372.5,521.2 372,525.8 369.7,529.9 369.3,534.8 365.3,539.3 359.4,544.4 355.6,548.7 348.9,554 344.5,558.3 327.4,567.5 309.1,577.2 290.8,586.6 278,596.3 262.3,605.4 248,614.7 238.1,624 225.8,633.4 216.4,642.5 210.6,652 205.5,671.1 201.2,689.5 198,708.8 193.9,727.2 189.7,746.4 185.6,764.6 182.2,783.7 179.2,802.2 176.1,820.9" stroke="#2797eb"/>
<polyline points="494.5,465.1 480.6,467.5 473.8,469.1 467.9,470.7 460.4,472.7 453.4,474.8 446.9,477 443,478.4 437.4,480.5 435,482.1 429.2,484.5 422.5,486 417.1,487.9 410.7,490 407.1,491.7 403.3,493.4 398.4,495.4 394.8,497.6 392.4,498.9 387.6,501.2 386.1,501.8 382,506.6 378.4,511.3 374.4,516.4 373.3,521.2 371.2,525.7 369.5,530.3 365.6,534.8 359.8,540 355.8,544.6 353,548.8 347.1,553.7 339.8,558.3 320.7,567.4 301.5,577.3 288.2,586.8 276,595.7 260.6,605.1 245.2,615 233.5,624.3 222.4,633.1 213.1,643.1 208.9,652 204.2,671.3 199.6,689.6 196.1,708.7 191,727 187.4,745.9 184,765 181,783.7 178.1,802.7 175.4,821.4 173.1,840" stroke="#2699ea"/>
<polyline points="501.7,465.5 489.2,467.7 479.9,469.4 472.9,471.2 464.6,473.2 456.8,475 451.8,476.7 448.2,478.2 441.4,480.6 437.7,482.2 434.8,484 427.6,486.2 421,487.7 412.5,490 408.7,491.8 403.7,493.6 397.6,495.2 392.9,497.5 389.3,499.5 387.8,500.8 385.7,502.3 383.4,506.4 378.9,511.7 375.1,516 374,520.9 373.1,525.4 369.2,530.3 366.3,534.5 364.5,539.7 360.9,544.4 358.3,548.9 353.3,553.6 351.5,558.3 335.2,568 316.6,577.3 297.1,586.3 284.1,596.3 270.7,605.2 253.3,614.4 241.6,623.8 230.1,633.3 218.3,642.6 212.1,652.5 206.7,670.8 200.3,689.6 195.4,708.6 191.1,727.1 187.7,745.9 183.9,764.5 180.1,783.7 177.7,802.1 175.1,821.5" stroke="#259be8"/>
<polyline points="506.7,465.1 494,467.1 481.6,469.4 472.9,471 465,473 456.6,475.2 449.3,477 445.9,478.6 442.8,480.6 438.6,482.2 433.6,484 428.4,485.8 422.8,488 417,489.6 411.3,491.7 406.3,493.3 399.2,495.6 395.2,497.2 390.4,499.1 387.4,501.3 386.7,501.8 379.8,506.4 377.1,511.3 377.8,516 375.2,521.1 372.6,525.3 367.3,530 363.9,535 361.8,539.6 357.2,544 353.3,549 348.9,553.9 343,558.7 326.5,567.6 308,577.1 290.5,586.4 278.1,596.1 263.3,605.4 247.8,614.9 237.6,624.3 225.3,633.8 215.1,643.1 208.9,652 203.8,670.7 198.8,689.5 195.2,708.2 190.3,727.6 187.6,746.3 183.5,764.6 179.8,783.9 177.1,802.3 174.8,821.3 172.3,839.9" stroke="#259de7"/>
<polyline points="503.3,465.8 489.3,467.6 480.7,469 472.5,470.7 461.2,473 455.7,474.6 448.6,476.7 443.7,478.6 438.2,480.6 435.7,482 433.7,483.9 424.9,486.3 419.2,488.2 415.2,490.1 410.1,492 406,493.4 398.2,495.8 393.7,497.5 389.9,499.1 385.9,501 382.1,502.4 375.7,506.6 374.7,511.6 374.6,516.3 373.1,520.9 372.2,525.8 371,530 367.9,535 364.9,539.3 361.1,544.1 355.9,549 351.9,553.4 346.4,558.7 330.4,567.5 312.9,576.8 294.5,586.3 282.6,596.3 267.1,605.3 250.3,614.7 239,624.1 226.5,633.3 215.4,642.7 210.7,651.9 206,671.1 200.9,690.1 197,708.9 192.8,727.2 188.6,746.3 184.3,764.6 180.7,783.2 177.9,802.2 175.2,821.4 172.9,839.8" stroke="#249fe5"/>
<polyline points="507.8,465.7 498.3,467.1 483.3,469.5 474.2,471.3 465.9,473.1 459.4,475 454.3,477 448.7,478.8 443.8,480.7 438.6,482.4 435.6,484.3 431.4,486 423.4,487.8 416.6,489.9 410.8,491.4 401.4,493.9 396.2,495.6 392.7,497.4 391.3,499.5 389,500.9 386.6,501.8 379.9,507.1 379.3,511.6 376.5,516.1 374.6,520.5 372.5,525.7 371.5,530.5 368.5,534.5 367.1,539.8 364.4,544.5 359.4,549.3 355.1,554 349.7,558 335.1,567.8 316.8,577.1 298.9,586.3 284.5,595.8 270.7,605.1 253.3,614.9 241.2,624.1 230.1,633.3 216.6,642.9 211.1,652.1 205.7,671 202.1,689.9 196.6,708.9 192.4,727.1 188.6,745.7 185.1,764.9 181.2,783.9 178.2,802.3 175.4,821.4 173.2,840.2" stroke="#23a1e4"/>
<polyline points="511.9,465.5 498.1,467.3 486.4,468.8 474.2,471 463.4,473.3 458.6,474.5 451.4,476.6 447.4,478.4 443.4,480.3 438.6,482.2 434.1,484.2 425.9,486.2 422.1,487.6 415.3,489.6 409.4,492.1 403.2,494 395.9,495.6 392.4,497.6 388.6,498.9 384.4,501.3 384.6,502.1 382,506.7 379.6,511.3 378.2,515.8 376.6,521.1 373.7,525.3 369.1,530.2 368.3,534.9 366.5,539.3 362.8,544.1 358.8,549 355.3,553.4 350.5,558.7 337.7,567.5 318,577.3 300.3,586.3 285.9,595.9 270.4,605.6 252.5,615 239.4,624.4 227.6,633.4 215.2,643 210.4,652.4 206.2,670.7 201.2,689.9 196.8,708.6 193,727.2 189.4,746 185.2,764.7 181.6,783.6 179.4,802.7 176.7,821.1 173.9,840.2" stroke="#21a3e3"/>
<polyline points="509.6,465.7 495.6,467.4 484.1,469.3 475.2,471 466.7,472.9 460,474.7 455.1,476.7 450,478.5 443.6,480.6 440.3,482.3 434.1,484 427.9,485.8 420.9,488 416.6,489.8 408.3,492.1 402.6,493.3 396.6,495.4 391.2,497.7 388.8,498.9 385.6,501.1 386.6,502.4 379,507 376.4,511.2 375.1,516.2 371.4,520.5 370.4,525.9 369.8,530.3 368.8,535.2 365.3,539.6 360.5,544.1 355.4,549 351.9,554 346.3,558.6 328.1,568 310.9,577 292.8,586.2 280.8,596.2 264,605.1 248,614.6 237.2,624.2 226.7,633.2 215.6,643 211.1,651.9 205.9,670.9 201.5,689.8 197.2,708.2 193.8,727.6 189.9,745.7 185.7,765 182.5,783.3 179.5,802.4 176.4,821.1 174.1,839.7" stroke="#20a5e2"/>
<polyline points="507,465.7 494.8,467.2 481.5,469.3 473,471 463.2,473.2 458.6,474.5 450.2,476.9 445.8,478.4 441.6,480.8 435.3,482.7 432.5,484.3 428.5,485.7 418.7,488 411.9,489.8 405.5,492 401.1,493.8 396.3,495.6 393.5,497.6 389.7,499.3 384.7,501 383.8,502 380.1,506.6 377.7,511.1 376.2,515.8 373.3,521.2 372.8,525.3 372.2,530.2 369.4,534.8 365.3,539.4 360.9,544 356.9,549.3 352.7,553.3 348.5,558.3 333.7,567.8 315.9,577.4 297.4,586.2 284.8,596.1 271.6,605.3 255.7,614.5 240.2,624.3 230.5,633.2 217.7,642.8 212,652.4 206.5,671 201.6,689.9 196.7,708.3 192.4,727.2 188.5,746 184.5,764.9 181.3,783.9 178.3,802.6 175.4,821.5 173.3,839.8" stroke="#1ea7e1"/>
<polyline points="507.3,465.7 495,467 477.6,469.2 468,470.9 457.6,473.3 451.6,474.6 445.2,476.7 440.9,478.8 434.2,480.7 430.9,482.3 426.8,484.5 420.7,486.3 418.1,488 413.5,490.1 409.1,492 401.3,494 398.1,495.5 394.2,497.2 389.4,499.2 385.6,501.2 384.6,501.7 380.6,506.5 377.6,511.4 375,516.2 375.5,521.1 374,525.2 370.9,530.3 367.4,535.1 365.2,539.4 361.1,544.5 356.8,548.6 351.2,553.9 347.2,558.2 330.6,567.8 313.6,576.9 293.4,586.8 283.6,595.6 266.6,605.3 250.5,614.5 237.8,624 226.4,633.5 214.6,643 210.1,652.4 205.3,670.7 199.6,690 195,708.5 190,727.6 186.6,745.7 183.1,765.1 179.6,783.5 177.4,802.4 174.5,820.9 172.4,839.6" stroke="#1da9e0"/>
<polyline points="512.1,465.1 496.5,467.3 485.2,469.4 475,471.2 467.5,473.1 459.2,475 454.1,476.7 446.2,478.6 442.3,480.2 438.2,482.5 434.6,484.1 430.4,485.8 422.1,488.1 418.6,489.5 410.1,491.7 404.3,493.5 398.5,495.7 397.6,497 390.1,499.5 387.1,501.3 387.4,501.8 381.3,506.9 380.3,511.1 377.5,515.8 374.8,520.9 371.1,525.4 367.6,530.2 365.8,534.6 362.8,539.8 358.8,544.4 355.3,549.3 349.7,553.3 346.1,558.3 326.9,567.7 309.8,577.1 291,586.6 283,595.7 266.5,605 248.9,614.6 238.3,624.3 226.3,633.3 215.5,642.9 209.9,652.6 204.9,671.1 199.9,689.6 194.5,708.7 190,727.1 186.6,746.5 183,765 179.1,783.5 176.4,802.4 173.7,820.8" stroke="#1babde"/>
<polyline points="508.3,465.1 492.6,467.5 483.5,469 474.5,471.4 467,472.9 461,475 455.8,476.6 451.2,478.2 446.1,480.7 443.9,482 438.6,484.5 432.7,485.8 426.4,488.3 419.3,490.1 413.7,491.8 409.1,493.3 400,495.3 396.2,497.6 391.6,499.5 387.6,500.8 384.2,502.4 377.3,506.9 374.8,511.6 374.8,516 374.2,520.8 373.2,525.4 372.3,530.4 369.3,535.2 363.3,539.8 360,544.6 356,549.2 352.2,553.9 348.8,558.2 331.5,567.6 312.2,577.5 295.8,586.3 284.7,596.2 268.1,605 249.8,614.6 238.7,623.7 228.4,633.6 215.7,642.9 210.5,652.4 204.5,671.3 199.8,689.7 195.2,708.9 190.7,727.5 187.7,746.3 184.8,764.5 180.7,783.9 178,802.5 175,821 172.4,840" stroke="#19addc"/>
<polyline points="501.2,465.7 490.5,467.6 482.4,469 476.1,471 467,473.2 461.3,474.7 453.9,476.8 450.2,478.3 442.4,480.7 437.5,482.3 432.9,484.2 428.2,486 422.4,487.8 415.4,489.8 411.6,492 406.1,493.8 399.2,495.3 395.5,497.2 393.3,499.5 387.1,501.3 385.5,502.4 380.7,506.9 377.6,511.7 375.9,515.9 375.3,520.9 373.9,525.2 371.3,530.4 370.1,535.1 366.7,539.4 362.3,544.1 359.6,548.6 356,553.5 350.8,558.4 336.4,567.4 317.4,577.5 297.6,586.7 285.5,595.7 270.6,605.4 254.9,614.7 241.6,623.8 229.6,633.5 216.3,642.8 211.2,651.9 205.3,671 200.8,689.7 196.6,708.8 192.1,727.6 188.8,746.4 185.4,765 181.9,783.6 178.8,802.5 176.1,820.8 173.9,839.7" stroke="#17aeda"/>
<polyline points="502,465.4 488.1,467.7 479,469.2 472.1,470.8 463.2,473 455.3,475.2 451.4,477 445.2,478.7 440.6,480.6 437.6,482.4 431.3,484.3 425.9,486.2 418,488.1 412.9,489.9 407.4,492 400.1,493.8 395.9,495.2 391.9,497.2 387.9,499.4 384.8,501.4 383.4,502 377.1,506.8 376.3,511.4 377.3,516.3 376,520.9 373.3,525.7 371.2,530.3 369.7,535.2 365.9,539.9 365.1,544 360.1,549.1 357.6,554 352.2,558.7 339.1,567.6 321.3,577 301.5,586.8 287.5,596.2 274.2,605.2 257.1,614.6 242.8,623.8 231.8,633.4 218.5,642.6 212.8,652 207.3,670.8 203,690 198.5,708.7 194.7,727.2 190.9,746.3 186.8,764.8 183.6,783.5 180.7,802.1 177.7,820.9 175.5,840" stroke="#14b0d8"/>
<polyline points="497.7,465.3 487,467.1 477.4,469.1 469.3,471.1 463.9,472.8 457.5,474.5 449.6,476.8 446.1,478.5 444.6,480.1 438.1,482.5 434.3,484.4 430.3,485.8 420.7,488.1 413.5,490.1 408.7,491.5 405,493.3 397,495.5 392.1,497.1 390.7,499 386.7,501.1 384.9,502.2 378.7,506.8 377.7,511.5 376.1,516.1 376.3,521.2 374.8,525.4 373.6,529.9 372.6,534.6 369.8,539.7 366.3,544.4 363.1,548.7 358.3,553.4 354.1,558.2 344.1,567.4 325.4,577.3 305,586.5 287.4,596.2 276.3,605.1 260,614.5 244.1,624 231.7,633.6 219.1,642.9 211.5,652.2 206.3,670.8 202.1,689.6 196.6,708.4 191.6,727.6 188.1,746 184.6,764.9 180.9,783.8 177.9,802.7 175.6,821.2 173.1,840" stroke="#10b2d5"/>
<polyline points="494.8,465.5 485.2,467.2 478.1,469 468.6,471.4 465.2,472.7 456.6,475.2 453.3,476.5 449.8,478.3 442.9,480.6 440.3,482.3 436.1,484.3 430.1,485.9 425.9,488.2 420.8,489.5 414.5,491.8 407.5,493.8 398.5,495.6 393.7,497.3 389.7,499.6 385.9,501.1 383.6,501.9 377.1,506.8 378.1,511.3 377.5,516 376.4,520.8 373.7,525.2 373.7,530.5 370.8,534.9 368.3,539.4 364.4,544.3 361,548.7 357.2,553.8 353.5,558.2 342.5,567.8 324.6,577.4 304,586.4 288.1,595.8 273.5,605.5 257.5,614.5 242.3,624.3 232.5,633.1 217.5,642.7 211.5,652.2 206.2,671 201.5,689.8 197,708.4 192.2,727.5 189.1,745.9 185.4,765 181.3,783.9 178.6,802.7 175.6,821.4" stroke="#0cb3d3"/>
<polyline points="495.3,465.1 486.7,467 477.5,469.3 470,471.1 464.2,472.9 458,474.7 451.7,476.9 448.8,478.4 440.9,480.6 438.3,482 436.1,484 430.2,486.2 424.2,488 419.1,489.5 413.3,491.4 405.1,493.9 398.1,495.6 394.4,497.5 389.7,499.1 385.5,501.3 385.3,501.8 379.1,506.8 377.8,511.6 375,516.4 373.5,521 373.2,525.3 371.2,530 370.9,534.8 367,539.8 366,544.1 360.3,548.9 356.6,553.4 352.6,558 341.6,567.5 321.3,577.2 302.1,586.2 286.7,595.7 274.8,605 258.3,614.6 243.5,624.3 231.3,633.4 217.8,643.2 211.3,652.5 205.4,671.1 200.3,690 195.3,708.4 191.2,727.4 188.2,746.4 184.6,764.6 181,783.9 178,802.5 175.2,821.4" stroke="#08b5d0"/>
<polyline points="489,465.3 478.7,467.2 468.6,469.4 461.7,470.7 454.1,472.9 450.2,474.6 444.9,476.9 443.2,478.3 439.3,480.5 436.5,482.3 430.4,484.6 425.1,486.1 420.5,488 410.9,490.2 407.5,491.6 402,493.4 397.3,495.4 394.1,497.1 389,499.4 385.6,501.3 383.5,502.2 378.8,507.1 379,511.8 375.5,516.4 374.3,520.4 371.1,525.6 368.9,530.3 366,534.9 367.7,539.9 363.3,544 359,548.7 353.4,554 350.7,558.2 337.8,567.5 319.6,576.8 299.3,586.5 284.3,596.1 271.3,605.1 252.5,615 239.4,624.3 228.6,633.8 217.8,643.2 211.6,652.2 205.5,670.9 200.1,689.5 195.5,708.8 191.9,727 188.1,745.7 184.2,764.9 180.6,783.8 177.8,802.1 175.1,821.3" stroke="#05b6cd"/>
<polyline points="489.9,465.1 481,467.2 474.9,469 469.4,471.1 463.8,473.3 460.6,474.7 454.5,476.5 448.9,478.3 444.7,480.8 438,482.7 434.8,484.3 429.4,486.1 426.1,487.7 420,489.7 416.4,491.6 408.4,493.7 402.7,495.7 397.6,497.6 392.6,499.4 386.5,501.3 386.4,502 379,506.5 379,511.6 377,516.5 376.1,521.1 374.3,525.3 368.9,530.2 366.7,534.9 365.4,539.5 362.9,544 358.4,549.1 355.9,553.7 352.6,558 338.8,567.6 321.2,576.8 299.7,586.3 286,596.3 271.8,605.2 252.9,615 241.3,623.8 231.2,633.1 218.2,642.9 212.5,652 206.1,671.2 201.9,690 196.9,708.3 192.2,727 187.9,745.9 184.3,764.8 180.3,783.9 178,802.5 175.5,821.5 172.9,840.3" stroke="#02b7cb"/>
<polyline points="482.6,465.8 476,467.3 469.3,469.2 463.2,471.3 458.3,473.2 453.8,474.6 449.5,476.8 445.8,478.9 441.4,480.7 436.9,482.2 434.3,484.6 427.8,486.3 424.6,488 419.5,489.6 412.7,492 407,493.4 399.3,495.6 394.9,497.2 391.8,499.2 387.4,501.3 383.8,502.1 377.7,506.5 376.6,511.6 376.9,515.8 376.4,521 372.2,525.7 370.9,530 369.6,534.9 366.6,539.3 363.4,544.3 359.8,548.9 356.1,553.7 352.8,558.2 340.4,567.5 323.3,577.2 303.5,586.3 288.7,596.1 274,605.5 257.3,614.4 242.3,623.9 229.8,633.8 216.9,643.2 212.3,652.1 206.9,671.2 201.3,689.8 195.2,708.7 192,727.5 187.9,746 183.8,764.8 180.5,783.7 178,802.1 175.3,821.3 172.8,840.1" stroke="#01b9c8"/>
<polyline points="477.9,465.5 473,467.3 466.5,469.3 462.1,471.2 455,473.3 452.6,474.7 448.1,476.7 445.8,478.3 440.6,480.2 437.7,482.4 432.4,484.3 429.2,485.9 423.2,487.7 416.9,489.6 413.4,491.6 406,493.9 400.5,495.8 396.1,497.6 392.4,499.4 390.4,501 387.1,502 379.6,507 376.6,511.4 375.4,515.9 375.8,520.8 373.9,525.6 371.5,530.2 369.5,535.2 368,539.7 365.1,544.4 359.9,548.7 354.8,553.8 353.1,558.1 339.8,567.7 322,577.1 301.3,586.5 285.8,596 272.2,605.2 255.7,614.9 241.8,623.9 231,633.6 218,643 211.4,652.1 205.1,671.3 200.3,690 196.1,708.4 191.9,727.3 187.1,746.1 184,764.5 180.3,783.6 177.7,802.6 175.3,820.9 172.5,840" stroke="#02bac5"/>
<polyline points="474.6,465.1 471.6,467.4 467.9,469.4 465.7,470.7 460.7,472.8 455.8,474.8 451.6,476.8 448.5,478.5 443.6,480.5 439.1,482 434.1,484.3 432.7,485.8 424.7,487.8 419.5,489.9 415.8,491.5 412.5,493.2 401.9,495.7 396,497.3 394.7,499.1 387.7,500.9 385.8,502.4 378.9,506.7 377.2,511.5 377.9,516 376.2,520.8 375.5,525.1 373.1,530.4 371.5,535.2 368.1,539.3 365.5,544.5 361.7,548.7 356.4,554 353.8,558.3 341.2,568 324.7,577 303.7,586.8 289.3,596 275.5,605.6 257.8,614.8 243.7,623.9 232.5,633.2 219.2,642.5 212.1,652.3 206.6,670.8 200.7,689.5 194.8,708.6 191.4,726.9 186.8,746.1 183,764.6 179.8,784 177.5,802.1 174.7,821.2 172.4,840" stroke="#03bbc2"/>
<polyline points="470.8,465.6 466.8,467.2 463.2,469.3 458.6,471.3 456.1,472.6 452.2,474.9 449,476.9 445.6,478.6 442.5,480.6 437.2,482.6 433.2,484.2 426.5,486.2 421.5,487.7 413.2,490.1 412.3,491.7 408.8,493.4 400.3,495.7 399.1,497.2 393.5,499 390,500.7 386.4,501.9 379.2,506.6 379,511.1 378.1,516.1 376.1,520.8 373.4,525.2 370.7,530.2 368.6,534.6 365.2,539.6 360.4,544.4 356.5,549.1 355.5,553.3 352.1,558.5 339,567.5 320.6,577 300.8,586.8 287.3,596.1 272.8,605 253.8,614.7 241.6,624 230.6,633.3 217.8,642.8 211,652.6 206.7,670.7 201.8,689.5 196.4,708.3 191.9,727 188.7,746.1 185,764.8 180.6,783.5 178,802.7 175,821.1 172.6,839.9" stroke="#08bcbf"/>
<polyline points="471.3,465.5 471.2,467.1 468.8,469 464.4,471 461.2,472.8 456.2,475.1 454.5,476.4 451.3,478.3 446.2,480.2 444.6,482.2 439.4,484.3 433.9,485.8 427.3,488.3 424.1,489.7 419.2,491.5 410.9,493.5 401.1,495.8 398.1,497 392.7,499 388.9,501.5 386.3,502.4 378.1,506.9 377.7,511.4 374.6,516.2 376.1,521 372.1,525.5 369.5,529.9 366.9,534.9 363.3,539.5 361.2,544.2 356.5,548.7 353.4,553.4 350,558.6 335.8,567.5 318.2,576.8 298,586.5 285.2,595.7 270.2,605.6 254.5,614.5 241.2,624.2 229.7,633.7 218.1,642.9 212.5,652.4 207.2,671.3 202.2,689.8 197.4,708.4 193.4,727.3 189.3,746.3 185.2,765.1 182.2,783.8 179.2,802.2 176.3,821.2" stroke="#0cbdbc"/>
<polyline points="468.4,465.5 468.3,467.6 465,469.5 461.3,471.2 456.2,473.3 452.5,475 449.1,476.6 447.3,478.8 444.5,480.5 440.4,482 437.6,484.3 431.7,486.4 426.2,487.9 420.8,489.9 415.8,491.5 406.9,493.9 399.6,495.6 394.7,497.6 391.3,499 386.8,500.8 384.6,501.9 377.6,507 375.1,511.3 374,515.8 374.7,520.6 373.7,525.5 371.4,530 368,535 365.5,539.6 362.6,544.1 359.2,549.3 354.3,553.9 349.7,558.1 335.6,567.7 318.2,576.9 299.5,586.3 286.8,595.7 270.9,605.2 253,615 240.7,623.9 228.6,633.7 216.5,642.6 210.3,652.5 205.9,671 202.7,689.5 199.2,708.7 194.8,727.4 191,746.4 187.7,764.7 184,783.5 180.8,802.1 177.7,821.3" stroke="#12beb9"/>
<polyline points="465.7,465.5 463.3,467.4 460.6,468.8 456,471 451.8,472.9 448.9,474.9 445.4,476.4 443.2,478.2 438.2,480.7 435.1,482.2 429.7,484.3 425.3,485.9 419.1,488.3 415.5,489.7 409.5,491.9 404.8,493.6 398.8,495.2 395.1,497.1 389.6,499.4 386.7,501.5 386.5,502.1 381.4,506.5 380.4,511.7 377.6,516.2 375.3,520.8 373.2,525.3 373.2,530.3 370.5,535.2 368,539.8 364.2,544.1 360.5,549.1 356,554 353,558.2 338.5,567.9 320.7,577.3 300,586.2 285.6,596 271.6,605.2 253.5,614.8 239.9,624.3 230.1,633.5 217.9,642.6 212.8,651.9 206.5,670.6 202.4,689.4 197.1,708.8 193.4,727.3 189.3,746.3 186,765 182.2,783.7 179.1,802.6 176.1,821.3 173.8,839.8" stroke="#18bfb6"/>
<polyline points="468.4,465.4 466.7,467.1 462.9,469.3 458.3,470.9 455.5,472.7 452.2,475 449.5,476.6 447.2,478.3 443.9,480.2 438.4,482.6 436.8,483.9 429.7,486.4 421.7,488.2 418.9,489.5 411.1,491.6 405.9,493.3 396,495.6 393.3,497.1 391.2,499 387.4,500.8 382.8,502.2 377.2,506.6 377.7,511.6 376.5,516.1 376.4,520.5 375.9,525.8 373.4,530.3 370.8,535.1 369.7,539.9 363.6,544.6 360.7,548.7 356.7,553.7 353.2,558.5 340.6,567.9 322.6,576.9 301.1,586.6 288.5,595.6 275.2,605.1 256.7,614.4 241.4,624.1 231.5,633.1 218.7,642.5 211.8,652.6 205.8,671.3 200.4,690 195.6,708.4 191,727.7 187.3,746.3 183.4,764.9 180.5,783.5 177.4,802.3 174.8,820.8 172.4,839.8" stroke="#1dc0b3"/>
<polyline points="467.4,465.5 467.3,467.5 467.1,469.5 463.8,470.8 459.1,472.9 454.6,475.1 451.2,476.6 448.3,478.4 444.4,480.7 443.5,482.3 438.5,484.3 434.2,486.2 428.2,487.7 420.2,490.2 414.5,492 410.4,493.5 404.1,495.2 397.8,497.1 392,499.4 388.3,501.2 388.2,501.8 379.1,506.7 378.7,511.6 377.5,516 375,520.9 373,525.7 372.2,530.1 370.8,534.9 367.2,539.9 364.1,544.2 361.6,548.9 357.6,553.8 354.6,558.5 341.5,568.1 322.6,577.2 303.3,586.2 287.3,595.9 274.3,605.1 258,614.4 242.9,624.2 231.3,633.3 217.5,642.6 211.5,652.6 204.6,671.1 199.7,690.1 195.5,708.9 191.2,727.4 186.8,746.2 183.4,765 179.8,783.9 177.5,802.6 174.5,820.9 172.2,840.3" stroke="#22c1b0"/>
<polyline points="466.4,465.6 466.3,467.6 466.2,469 466,471.4 465.3,473 461.3,474.8 456.8,476.8 453.8,478.4 450.8,480.5 446.3,482.1 443.7,484.2 435,486.4 433.2,488.2 423.6,490.1 419.2,491.6 412.6,493.6 402.2,495.6 398.4,497.4 394.8,499.1 390.7,500.8 387.9,501.7 379,506.7 377.3,511.7 376.5,516.2 375.7,520.7 373.4,525.9 372.6,530.1 372.3,535.2 368.6,539.9 366.3,544.2 362.9,548.9 357.5,553.6 354.2,558.5 344.8,567.7 327,577.5 306.6,586.8 290.4,596 278.1,605.4 262.2,614.4 246.1,623.7 233.6,633.6 222.1,642.5 213.2,652.3 206,670.8 200,690 194.4,708.6 190.5,727.2 186.7,746 183,765.1 179.5,783.4 177.2,802.5 175,821.5" stroke="#26c2ad"/>
<polyline points="464.5,465.6 464.4,467.6 464.2,469.2 464.1,471.2 464,472.6 463.8,475.1 461.3,477.1 456.4,478.5 452,480.2 448.1,482.2 442.3,484.4 438.5,485.8 433.2,487.7 428,490.2 420.5,491.7 413,493.6 407.5,495.2 399.6,497.3 394.1,499.2 388.6,501.2 388.5,501.9 380,506.8 377.2,511.6 376.3,516.4 375.1,520.5 372.3,525.2 371.4,530.4 367.8,535 367.7,539.2 365.1,544.5 358.3,549.1 356.9,553.7 353.1,558.1 341.3,567.8 324,576.8 304.3,586.3 288.7,596.1 275.2,605.5 257.7,614.8 244,623.8 233.2,633.2 219,642.5 212.4,651.9 206.9,671.1 202.1,689.5 196.9,708.2 192.6,727.4 188.8,746 185.5,765.1 181.9,783.8 178.9,802.3 175.5,821.3 173.2,840.2" stroke="#29c3a9"/>
<polyline points="471.6,465.6 471.4,467.2 471.3,469.2 471.2,471 471,472.7 464.4,475.2 462.4,476.4 456.2,478.7 452.3,480.5 448.9,482.5 445,483.9 440.1,486.1 432.8,488.3 426.3,490 421.1,491.7 415.7,493.2 408,495.4 401.1,497.4 397.2,499.3 391.8,501 390,502.2 379.3,507 376,511.8 377.9,516.2 375.8,520.6 371.8,525.3 368.6,530 366.8,535 364.1,539.9 361.7,544.3 357.7,549.1 354.4,553.6 349.6,558.4 335.9,568.1 319.3,576.8 297.1,586.8 284.3,595.6 271.4,605.7 255.9,614.5 241.8,623.7 230.3,633.7 217.2,642.7 211,652.4 205,670.9 199.4,689.7 194,708.7 190.2,727.4 187.1,746.1 184.1,764.5 180.5,783.5 177.6,802.4 174.5,821.5 172.5,839.9" stroke="#2cc4a6"/>
<polyline points="475.2,465.6 472,467.4 467.4,469.5 465,470.8 461.1,472.6 455.9,474.9 451,477 446.9,478.2 441.3,480.4 438.9,482 439,483.9 433.7,486 426.9,487.6 418.4,489.8 411.6,491.5 405.4,493.9 399.1,495.7 396.3,497.3 392.3,499.1 386.8,501 384.9,502.1 379.1,507 376.5,511.1 376,516.4 374,520.5 369.5,525.5 368,530 366.6,535.2 365.9,539.2 361.6,544.1 356.4,548.9 351.2,553.5 348.2,558.4 334,567.7 315.9,576.9 297.5,586.5 283.2,596.1 269,605.1 250.5,614.9 238.4,624 227.1,633.5 217,643.2 211.5,652.3 205.3,671.2 200,689.5 194.9,708.2 190.8,727 187.1,746.2 183.1,764.9 180.6,783.7 177.9,802.5 175.2,820.8 172.3,840.2" stroke="#2fc5a3"/>
<polyline points="478.3,465.8 475,467 470.1,469.4 468.3,470.8 462.1,472.8 459.5,474.6 454.2,476.8 450.6,478.7 445.1,480.1 441.9,482.3 437.2,484.3 433.4,485.8 426.3,488.1 419.9,490 413.8,491.9 407.9,493.7 403.1,495.4 397,497.2 395.7,499.1 389,501.3 387.4,501.9 380.3,507 377.6,511.5 375.7,516 371.3,520.9 371.8,525.6 368.7,530 365.6,535.2 362.4,539.5 359.5,544.5 355.1,549.2 351.5,553.8 348.8,558.7 334.6,567.9 316.6,577.1 298.2,586.2 284.8,596.2 269,605.5 252.4,614.8 239.9,624.1 227.6,633.6 217.3,642.6 210.8,652.5 204.3,671 198.9,689.5 194.3,708.2 189.8,726.9 185.6,746.3 182,765.2 179.4,783.4 176.2,802.4 173.5,821.3 170.9,840.1" stroke="#31c69f"/>
<polyline points="481.4,465.1 476.6,467.5 472.1,469.4 469.3,471.1 465.8,472.9 462.3,474.5 455.8,476.8 452,478.9 447.9,480.4 445.2,482.1 442.2,484.2 435.8,486.3 430.5,487.7 424.1,489.6 420.3,491.5 411.3,493.4 404,495.4 397,497.6 395.3,499.2 388.8,501.4 386.6,502.2 378.5,507.1 377,511.6 374.9,516.2 373.5,521.1 370.6,525.7 369.8,530 367.7,534.9 365.9,539.7 360.6,544.3 358.5,548.7 354.5,553.4 351.7,558.3 337.6,568.1 318.7,577 299,586.5 284.9,596.1 271.1,605 253.9,614.8 240.6,624.1 229.8,633.1 217.8,642.7 210.9,652 204.9,670.8 199.1,689.6 193.6,708.4 189.4,727 186,745.7 182.1,764.8 179.2,783.7 176.5,802.5 173.9,821.3" stroke="#34c79c"/>
<polyline points="484.4,465.3 480.1,467.6 476,469.2 471.5,471.1 467.7,472.8 462.5,475.1 456.2,476.9 452.8,478.6 447.5,480.6 443.8,482 442.1,483.9 435.3,486.1 432.7,488.2 426.1,489.8 420.1,491.9 413,494 405.9,495.5 400.1,497.4 391.1,499.6 389.7,500.8 386.7,502.3 380.5,506.8 377.1,511.3 376,516.3 374.2,520.9 372.3,525.7 370.7,530 366.2,534.9 365.7,539.8 361.2,544.1 358.7,548.8 352.6,553.8 348.4,558.1 332.3,567.9 313.3,576.9 295.4,586.6 283.6,595.7 267.7,605.1 249.9,614.9 239,624 228.5,633.7 216.5,642.8 211.2,652.1 205.3,670.7 199.8,690 194.8,708.7 190.6,727.4 187.1,746.4 184.2,765 179.9,783.6 177.1,802.7 174.7,821.1 172.5,840.3" stroke="#36c898"/>
<polyline points="490.4,465.2 484,467.2 477.3,469.5 473.6,471.2 470.1,472.6 465.1,474.8 460.5,477 457,478.6 455.2,480.1 450.3,482.3 444.2,484.4 438.1,486.2 433.5,488.1 427.7,490.1 422.8,491.4 413,493.6 404.9,495.7 397.3,497.5 395.8,499.5 392.9,501 388.8,501.8 379.9,506.9 378.2,511.4 376.8,516 374.6,520.7 369.1,525.7 369.1,530.4 366,534.6 364.8,539.6 361.3,544.3 356.1,549 351.3,553.9 347.6,558.1 330.7,567.4 311.9,576.8 292.9,586.9 283.2,596.3 268.2,605.1 249.9,614.5 237.5,624.3 227.1,633.4 216.4,642.9 211.1,652.2 204.9,670.9 201.5,689.5 196.3,708.8 192.6,727.3 188.8,746.3 185.2,764.5 181.4,783.4 178.4,802.8 176.1,821.1 174,840.1" stroke="#3ac994"/>
<polyline points="495.6,465.1 488.9,467.1 480.2,469.4 474.8,471.2 469.5,473.2 463.9,474.9 461.6,476.4 456.2,478.6 451.8,480.1 446.6,482.2 442.3,484.3 439.6,485.9 435.8,487.8 427.3,489.9 419.1,491.6 411.5,493.3 401.9,495.8 397.2,497.6 392.7,499.4 390.4,501 386.7,502.2 380.6,506.4 377,511.4 375.4,515.9 372.1,520.6 369.4,525.7 369.6,530.2 367.9,534.8 363.5,539.9 360.9,544.4 358.8,548.8 355.2,553.8 350.4,558.3 334.1,567.7 314.5,577 294.3,586.8 284.1,596.1 268.7,605.2 251.4,614.5 239.6,623.8 226.5,633.7 215.9,642.6 210.9,652.4 205.9,670.8 200.1,689.7 195.6,708.7 192.2,727.2 188.2,746.1 184.5,764.6 181,783.3 177.6,802.7 174.7,821.1 172.4,840" stroke="#3dc990"/>
<polyline points="499.7,465.1 490.9,467.6 485.5,469.3 480.2,470.8 474.7,472.9 468.7,474.7 463,476.7 458.2,478.4 452.2,480.7 447.9,482.3 444.5,483.9 439.5,486 432.1,487.9 429,489.8 420.9,491.6 414.5,493.5 405.6,495.4 399.4,497.1 393.7,499.4 390.5,501.2 387,502.3 379.5,507 376.5,511.6 377.9,516.4 375.1,520.6 371.7,525.3 369.9,530.5 366.6,534.6 363.1,539.2 358.5,544.4 354.1,549.1 348.7,553.7 345.1,558.7 327.2,568 309.5,576.9 293.8,586.2 281.7,595.6 264.7,605.6 248.2,614.7 235.4,624.2 226,633.8 216.2,642.7 210.5,652.6 205,671 199.8,690 195.1,708.8 191.5,727.3 188.1,745.9 184.6,764.8 180.8,783.8 177.7,802.5 175.1,821" stroke="#41ca8c"/>
<polyline points="500.8,465.7 493.4,467.3 483.6,469.2 475.5,471.2 467.6,473.2 465,474.5 458.6,476.6 452.6,478.4 447.1,480.3 442.8,482.1 435.7,484.5 432.4,485.9 427.3,487.8 418.5,489.9 413.9,492 411.2,493.2 403.2,495.3 397.5,497.6 393.8,499.1 387.8,501.4 388,501.8 380.9,506.5 377.7,511.7 374.4,516 372.6,520.5 371.5,525.3 369.2,530.4 365.6,535.2 364.1,539.6 359,544.1 353.9,549.2 349.4,553.8 343.3,558.5 325.1,568 307.9,577.5 291.6,586.3 281.4,596.2 263.4,605.4 247.5,615 237.1,623.9 226.2,633.1 215.7,642.6 210.4,652.6 204.1,671 198.4,689.9 193.4,708.2 188.7,727 184.4,746 180.6,764.5 177.4,783.5 175.3,802.1 172.7,821.1 170.6,839.9" stroke="#46cb88"/>
<polyline points="505.8,465.3 495.8,467.4 486,469.4 481.1,470.8 473.4,473.2 466.8,475.1 459.5,476.8 456.1,478.3 451.4,480.3 447.5,482.3 440.7,484.2 434.4,486.2 428.7,488.2 421.7,490 417.1,491.6 408.7,494 404.8,495.1 398.2,497.3 395.1,499.5 392.4,501.2 387.9,502.4 379.7,507 379.4,511.3 376.8,516.2 375.4,520.7 373.2,525.6 370,530 366.2,535.1 362.6,540 360.4,544.1 355.9,549.2 350.8,553.8 347.4,558.6 329.8,567.9 310.6,577.2 293.2,586.8 282.6,595.9 265.1,605.5 248.5,614.8 239.7,623.7 226.7,633.5 215.8,642.5 209.7,652.4 203.8,671 198.1,689.7 192.1,708.6 187.7,727.5 185.3,745.9 181.9,765 177.6,783.7 175.7,802.1 172.8,821.5 170.3,840.3" stroke="#4bcb84"/>
<polyline points="509.5,465.5 500.4,467.2 490.5,468.9 483,470.8 475.1,472.8 468.6,474.5 462,476.8 457.7,478.4 455,480.2 450.9,482.4 445.8,484.4 442.3,486.3 435.9,488.1 425.9,490 419.8,491.4 412.6,493.7 406.9,495.3 399.9,497.1 394,499.6 387.3,501.5 387.3,502.2 380.2,506.9 378.3,511.4 375.7,516.5 373.4,521.1 371.6,525.6 366.8,530.1 364.4,535.2 362.1,539.3 359.4,544.3 356.5,548.7 352.8,553.4 347.4,558 328,567.6 309.1,577.3 292.4,586.8 281.6,595.7 262.6,605.2 247.4,614.6 236.5,624.2 225,633.1 214.3,642.6 209.2,652.5 203.3,670.7 197.4,689.4 191.9,708.8 187.1,727.4 184,746.1 180.4,765 176.9,783.3 174.5,802.1 172.1,821.4 170.3,840" stroke="#50cc7f"/>
<polyline points="510.4,465.3 495.7,467.6 487.3,469.5 479.5,471.3 473.1,473.1 467.4,474.8 461.2,476.6 455.4,478.4 452,480.2 448.1,482 441.3,484.6 435.6,486.3 433,487.7 426.1,489.7 420.4,492 411.7,493.4 406.6,495.1 399.4,497.7 395.6,499.2 390.4,501.2 388.1,501.9 379.5,506.6 375.9,511.1 374.2,516.2 372.7,520.7 370.8,525.2 369.1,529.9 366.7,535 362.3,539.3 359.8,544.3 356.4,549 349.9,553.9 346.3,558.4 327.9,567.8 310.8,576.9 293.2,586.5 281.3,596.2 264.6,605 248.6,614.9 237.9,624.4 225.2,633.2 214.9,642.9 210.6,652 204.8,671.2 198.3,689.9 193.8,708.8 189.4,727 185.3,746.3 181.4,764.6 178.5,783.3 175.4,802.5 173,821.1 170.5,839.9" stroke="#56cc7b"/>
<polyline points="511.5,465.5 499.8,467.6 491.4,469 481.4,471.1 473,473.2 469.1,474.5 462.2,476.8 454.9,478.9 451.5,480.8 446.9,482.6 443,484 437.1,486 430.7,488.1 422,489.8 414.5,491.9 408.8,493.5 403.1,495.4 397.5,497.7 393.7,499.1 394,501.1 387.3,501.8 378.7,507.1 379.1,511.5 377.5,516.4 373.4,520.5 371.7,525.6 369.3,530.5 367.7,535 365.3,539.8 360.5,544 354.9,548.8 350,553.6 345.4,558.4 326.9,567.4 308.5,577.2 291.4,586.6 279.9,596.2 262.8,604.9 247.5,614.4 236.6,623.8 224.7,633.6 215.5,642.8 209.7,652.6 204.9,670.7 199.3,689.4 193.2,708.5 189.1,727.2 185.5,746.1 182.2,764.7 178.9,784 176.5,802.6 174.1,821.2 171.7,840.3" stroke="#5ccc76"/>
<polyline points="513.6,465.2 495.3,467.6 484.6,469.4 475.8,471.2 469.9,472.7 458.8,475.2 455.6,476.4 451.8,478.4 447.5,480.4 443.2,482.1 440,484.1 435.4,486 427.7,488.1 420.9,490.2 415.8,492 409.4,493.8 402.8,495.3 393,497.4 393.3,499.1 388.9,500.9 383.7,502.1 376.7,506.9 376,511.4 372.4,516.4 372.4,520.9 370.1,525.5 368.9,530.5 365.1,535.1 362.5,539.5 359.2,544.6 355.5,548.7 349.8,553.7 345.1,558.3 325.5,568.1 306.9,576.9 290.7,586.5 280.1,595.9 263.2,605.1 247,614.6 236.8,623.8 225.5,633.7 215.4,642.5 210.2,651.9 204.6,670.8 199.5,689.7 194.9,708.8 190.2,727.6 186.1,746.3 182.9,764.8 180.2,783.5 177.2,802.1 174.7,821.3" stroke="#61cd71"/>
<polyline points="516.9,465.2 503.4,467.4 495.9,468.9 485.8,471.1 478.4,473.1 471.7,474.8 463.5,476.9 458,478.5 449.1,480.4 450.1,482 442,484.4 437.2,486.3 434.6,488.2 430.2,489.5 423.3,491.8 417.6,493.4 408,495.3 398,497.1 395.6,498.9 389.8,501.2 387.2,502 378.5,506.6 376.4,511.1 376.1,516 370.9,520.8 368.1,525.3 367,529.8 363.6,534.9 358.8,539.5 354.8,544.6 351.3,548.8 344.9,553.7 337.5,558.5 318.6,567.7 301.6,577.2 288.9,586.4 274.3,595.7 255.9,605.6 243.9,614.8 233.7,623.7 220,633.5 213.1,642.7 209.1,652.5 203.9,671.1 198.4,690 192.6,708.7 188.6,727.4 184.9,746.4 181.4,764.5 178.3,783.4 176,802.1 173.5,820.9 171.1,840" stroke="#67cd6c"/>
<polyline points="518.9,465.2 508.3,467.1 494.5,469.4 487.6,471.1 479.5,473.2 475.1,475 469.1,476.5 462,478.5 454.8,480.8 451.2,482 443.5,484.6 442.8,485.8 436.5,488.1 431.4,489.7 424.7,491.8 416.2,493.3 410,495.4 401.9,497.2 396.6,499.2 391.2,501.1 387.7,502.4 380.4,506.4 377.4,511.3 374.9,516.2 372.3,520.6 369.7,525.5 365.4,530 360,534.5 354.9,539.6 350.6,544.1 346.9,549.1 339.8,553.7 331.7,558.3 312.5,567.4 294.7,577.4 282.9,586.7 265.9,596.3 250.7,605.4 240.2,614.6 230.3,624.3 218.7,633.6 212.4,642.5 209.6,652.2 204.1,671.2 198.2,689.5 194.2,708.3 189.4,727.2 186.6,746.3 183.2,764.5 179.2,783.4 176.5,802.6 174.2,821.3 171.9,840.2" stroke="#6dcd67"/>
<polyline points="518.2,465.5 510.4,467 500.9,468.9 489.7,471.3 482,473 475.4,474.5 469.5,476.4 463.1,478.9 458.6,480.2 453.2,482.1 446,483.9 438.4,486.4 435.4,487.9 428.1,489.9 423.4,491.7 417,493.3 411.6,495.1 402,497.1 395.4,499.5 389.5,501.4 388.4,502.4 379.7,506.7 377.6,511.4 374.8,516.2 372.9,520.9 369.1,525.7 365.2,530 360.6,534.7 357.1,539.5 349.8,544.4 346.3,549.2 336.5,553.6 328.3,558.3 309.2,567.7 294.9,577.2 282.7,586.8 266.6,596.2 251.6,605.1 241.5,614.6 231.6,624 219.2,633.2 213.2,642.5 208.1,652 202.1,671.2 196.9,689.8 192.2,708.5 187.5,727.6 184.1,746 180.6,764.9 177.1,784 175.1,802.2 172.8,820.8 170.4,839.6" stroke="#74cd62"/>
<polyline points="515,465.3 504.4,467 494.6,468.9 486.2,470.9 478.4,472.7 471.4,474.8 467.4,476.4 461.2,478.7 455.4,480.4 449.4,482.1 445.9,484.1 442.1,485.7 433.5,488.2 430.2,489.6 423.2,492 416.7,493.6 408.7,495.8 400.5,497 394.3,499.2 392.6,501 389.5,502.2 380.6,506.8 376.1,511.7 374.5,516.2 370,521.1 367,525.5 363.3,530.3 357.3,534.7 352.4,539.9 347.5,544 342,549 332.7,553.4 323.9,558.2 304.2,567.9 289.9,576.9 278.7,586.7 263,596.2 247.5,605 238.1,614.7 229.5,623.8 216.9,633.5 212.3,642.9 208.7,652.1 204.5,671.3 199.5,690.1 195.4,708.5 190.9,727.7 187.4,746.1 183.7,765 180.8,783.5 177.6,802.6 174.9,821.1" stroke="#7acc5e"/>
<polyline points="515.5,465.3 506.8,467 497.9,469.3 490.2,471.2 484.9,473.1 476.3,475 472.5,476.4 467.8,478.6 460.2,480.8 458,482 452.6,484 445.9,486.4 440.6,488.1 435.2,489.7 428.4,491.5 421.8,493.3 412.5,495.8 404.2,497.6 399.5,499.2 395.2,501.1 392.3,502.2 381.6,507 377.7,511.7 373.8,515.9 371.5,520.6 365.9,525.8 360.8,530.2 353.3,535 348.5,539.4 343,544 332.7,548.7 323.1,553.3 311.5,558.2 294,567.9 283.8,576.9 268.3,586.2 251.8,595.9 243,605.2 233.4,614.5 222,623.9 214.9,633.7 210.7,642.5 207,652.3 203,670.9 197.9,689.5 193.8,708.6 190.1,727 186.7,746.2 183,764.8 179.8,783.4 177.6,802.2 175.2,821.1 172.6,840.2" stroke="#81cc59"/>
<polyline points="511.4,465.2 506.9,467.3 503,469.2 498.2,471.3 493.7,473 489.7,474.5 484.5,476.8 478.3,478.3 471.9,480.4 463,482.5 458.3,484.1 450.7,486.4 444.9,488.2 440.3,490 436.8,491.4 429.5,493.7 424.2,495.5 414.7,497.2 403.9,499.1 399.2,500.9 394.2,502.2 382.5,506.8 378.8,511.7 374.8,516 369.2,520.5 362.9,525.3 358.7,530.2 353.4,534.7 347.9,539.3 341.6,544.4 330.2,549.2 320.6,553.9 312.2,558.1 294.6,567.6 283.1,577.3 269.8,586.7 254.3,596.1 244.1,605.4 235,614.9 223.8,624.3 215.8,633.8 211.6,643.2 207.5,652.5 203.1,670.7 197.2,689.9 193.4,708.6 189,727.2 186.2,746.3 182.5,764.7 179.3,783.5 176.9,802.1 174.3,820.9 171.9,839.6" stroke="#87cb54"/>
<polyline points="513.1,465.1 509,467 504.4,469.4 501.6,471.3 499.1,473.2 496.5,474.8 491.4,476.5 485.1,478.6 479,480.2 473.2,482 465.6,484.3 458.6,486 453.5,488 445.9,489.7 442.2,491.7 434.2,493.9 428.8,495.2 416.5,497.6 409.9,499.3 398.4,501.4 394.3,502.3 383,507 374.1,511.3 368.8,516.3 367,520.8 363,525.8 358.9,530.1 351.3,535.2 343.2,539.6 333.8,544.4 324.9,548.7 317.8,553.8 306.9,558.3 291,567.6 281.3,576.8 266.7,586.4 250.8,595.7 240.8,605.2 232.3,614.6 220.6,623.9 213.9,633.6 209.9,643.1 206,652.6 201.7,671.1 196.5,689.5 192.7,708.5 188.9,727.3 185.4,746.1 181.9,765.2 178.8,783.5 176.1,802.7 174,821.4 171.7,840.1" stroke="#8dcb4f"/>
<polyline points="511.8,465.1 510.7,467 508.5,468.8 504.3,471.3 501.6,472.7 498.3,475.1 495.3,476.4 490.5,478.5 482.7,480.4 474.8,482 469.6,483.9 460.6,486.4 454.4,487.8 446.1,489.9 441.6,491.7 436.4,493.4 430.8,495.2 421,497.2 409.4,499.3 399.2,501.4 398.3,501.8 383.7,506.6 375.7,511.7 371.1,516.3 366.7,520.8 365.7,525.4 356.7,530.2 351.4,535.1 345,539.4 337,544.5 325.4,549.3 314.9,553.8 306.5,558.3 291.1,567.9 279.9,577.3 265,586.5 248.8,596 240.6,605 230.7,614.4 218.6,624.1 212.6,633.3 208.2,643.2 205,652.4 201,671 195.8,689.8 192.8,708.5 189.5,727.6 185.6,745.9 182.2,764.5 178.9,783.5 176.6,802.8 174.4,821.2" stroke="#94ca4a"/>
<polyline points="506.7,465.1 505.5,467.2 504.1,469.5 503.2,471 502,473.1 501,474.8 496.8,476.8 492.1,478.9 489.8,480.8 481.5,482.4 473.4,484.6 468.3,486.1 463.1,487.9 455.2,489.6 447.6,491.6 439.6,493.4 432.2,495.4 425.5,497.2 415.8,499.4 405.6,500.8 398.9,501.8 382.1,507 376.3,511.4 370.2,516.1 366.4,520.9 359.9,525.7 353.1,530.3 347.9,534.7 337.7,539.7 326.7,544.4 314.4,548.7 304.5,553.8 296.1,558.6 287.1,567.8 271.9,576.9 255,586.6 244.3,596 235.8,605 224.9,614.9 217.2,623.8 210.5,633.6 207.3,643.1 204.8,652.5 201,670.9 195.4,689.6 192.6,708.7 188.7,727 185.6,746.3 182.1,764.9 179.2,784 176.8,802.5 174,821 171.4,839.7" stroke="#9ac945"/>
<polyline points="502,465.5 500.9,467.5 499.8,469.4 498.8,470.9 497.7,472.7 496.4,474.9 495.2,477 494.4,478.2 490,480.7 480,482.6 475.5,484.1 469.2,486.5 459.9,488.3 450.4,490.1 445.1,491.5 440.4,493.3 433.4,495.5 424.1,497.1 414.6,498.9 402.3,501 398.3,502.1 382.3,506.7 374.8,511.2 368.7,516.2 364.5,520.9 360.6,525.3 353.6,530.5 347.9,535.1 340.1,539.4 328.7,544 316.4,548.9 305.6,553.3 297.2,558.5 286.2,567.8 273.3,577.5 256,586.2 242.6,596.3 234.5,605.5 226.4,614.5 216.2,623.9 211.2,633.6 208.1,642.9 205.2,652.4 200.7,671.2 195.4,689.7 190.9,708.7 187.9,727.5 184.6,746 180.8,765.2 178.3,783.6 175.6,802.7 173.5,821 171,839.8" stroke="#a0c841"/>
<polyline points="500.9,465.1 499.5,467.5 498.3,469.5 497.4,470.9 496.3,472.8 495.3,474.6 493.9,476.8 492.9,478.5 491.6,480.7 484.4,482.4 476.3,484.5 468.9,486.3 462.7,487.7 453,490.2 449,491.7 443.8,493.3 435.9,495.2 424.6,497.6 412,499.5 401.5,501.3 395.8,502.1 381.5,507.1 376.4,511.4 372.7,515.8 366.2,520.5 359.9,525.8 354.2,529.9 348.3,535.1 335.9,539.5 322.7,544.5 313.3,548.6 303.2,553.5 293.2,558.2 281.6,568.1 268.5,577.5 253.1,586.5 241.7,595.9 233.6,605.2 222,614.8 214.9,623.8 210.1,633.8 207.5,642.6 205.2,652.2 201.2,671.3 196,690.1 192.6,708.7 189,727.6 185.2,745.9 182.1,765.1 179.2,783.6 176,802.7 173.9,821.3 171.7,839.8" stroke="#a6c83c"/>
<polyline points="495.3,465.3 494.3,467.1 492.9,469.4 491.9,471.1 490.8,472.9 489.5,475 488.3,477.1 487.5,478.4 486.5,480.2 485.2,482.3 478.3,484.6 470.8,486 464.9,487.9 455.9,489.7 448.7,491.5 440.4,493.3 433.9,495.7 426.9,497.6 419.5,499.1 407.6,501.3 404,501.7 388.3,506.6 376.7,511.8 370.7,516.4 366.1,520.8 358.9,525.5 351.3,530.2 347.4,535 335.5,539.9 323.5,544.4 312.4,549.2 302.8,553.6 292.1,558.6 280.2,567.4 266.7,576.8 252.6,586.4 240.7,595.9 232.5,605.1 221.1,614.8 215.2,624 210.6,633.6 208,642.7 205.3,652 200.6,671.2 196.1,689.5 193.2,708.2 189.2,727.4 185.5,746.1 182.7,764.9 179.6,783.8 177,802 174.2,821.5 172,840.1" stroke="#acc738"/>
<polyline points="496.1,465.3 494.7,467.5 493.9,468.9 492.4,471.3 491.3,473.1 490.2,475.1 489,477 487.9,478.8 486.9,480.5 485.9,482.3 479.2,484.5 471.5,486 466.1,487.7 456.2,489.9 449.5,491.9 443,493.5 434,495.6 425.5,497.4 415.6,499.2 408.3,500.8 401.2,502.2 385.9,506.9 376.3,511.3 369.9,516.2 363.7,520.5 357.7,525.4 350.4,529.9 343.2,534.6 331,539.6 320.7,544.1 309.3,549.3 301.2,553.5 291.8,558.7 280.2,567.9 264.5,577.1 248.9,586.3 238.1,596.1 230.3,604.9 219,614.8 213.9,624.1 209.8,633.3 206.4,642.8 205,652 200.8,671 196.1,689.7 192.3,708.8 188.6,727.1 185.9,746.4 183.1,764.9 180.2,783.3 176.9,802.4 174.2,821.2 172.1,839.9" stroke="#b2c635"/>
<polyline points="494.3,465.5 493.2,467.3 491.9,469.5 490.8,471.4 490,472.6 488.8,474.7 487.5,476.9 486.3,478.8 485.2,480.8 484.3,482.2 482.9,484.2 474.7,486.3 468.1,487.9 459.1,489.6 449.1,491.8 443.5,493.7 435.8,495.7 430.2,497 418.4,499.4 408.2,501.5 404.7,502 386.7,507.1 379.9,511.3 372.3,516.1 366.1,520.9 361.3,525.4 354.4,530.2 345.8,534.6 332.7,539.6 319.5,544.4 309.9,549.3 300.9,553.7 292.4,558.6 282,567.6 265.4,577.2 248.9,586.4 239.8,595.8 231.1,605 221.6,614.5 214.5,624.2 209.7,633.6 205.6,642.9 204.3,652.6 200.3,671.1 195.3,690.1 191.5,708.2 187.8,727.6 184.8,745.9 181.8,765 178.6,783.8 176,802 173.9,821" stroke="#b8c431"/>
<polyline points="489.1,465.3 487.7,467.6 486.6,469.4 485.7,470.9 484.4,473.1 483.4,474.8 482.1,476.9 481.1,478.6 479.9,480.6 479,482.2 477.6,484.5 473.3,486 467.2,487.6 458.6,489.5 448.3,491.9 441.6,493.3 437.5,495.2 429.5,497.5 423.7,499 410.1,501.3 405.8,502.2 390.4,506.6 376.7,511.2 371,516.1 365.3,520.6 358.1,525.8 351.2,530.5 344,535.1 332.6,539.3 319.9,544.4 308.3,549.2 299.7,553.5 291.3,558.2 280.6,567.4 263.1,577.2 248.5,586.4 239.8,595.5 232.8,604.9 220,615 215,624.1 210.1,633.5 207.1,643 203.9,652.4 200.9,671 195.6,689.9 192.8,708.7 188.9,727.6 185.9,746.3 182.6,764.7 179.6,783.8 176.5,802.2 173.8,820.9 171.7,839.8" stroke="#bdc32e"/>
<polyline points="488.6,465.6 487.8,467 486.4,469.3 485.4,471 484.3,472.8 483,474.9 482,476.7 481,478.4 479.9,480.2 478.7,482.2 477.6,484.1 471.2,485.9 464.1,488 454.1,490 448.9,491.4 442.1,493.6 437.3,495.3 428,497.2 416.4,499 406.3,501.1 400.2,502.3 387.1,506.6 377.3,511.3 372.3,516.1 366,520.7 357.7,525.7 351.8,530.4 345.1,534.9 333.2,539.5 321.4,544.6 310.5,549.3 300.9,554 293.3,558.1 283.1,567.7 265.5,577.4 248.9,586.3 240.2,595.7 231,605.5 220.6,614.9 212.5,624.1 208.1,633.1 204.9,643.2 203.4,652.5 199,671.1 194.1,689.6 190.4,708.3 186.5,727.4 183.2,746.2 179.8,764.5 177.3,783.3 175.1,802.1 172.7,821.4" stroke="#c3c22b"/>
<polyline points="490.5,465.1 489.3,467.3 488,469.4 487.2,470.7 485.9,472.9 484.8,474.6 483.7,476.5 482.4,478.7 481.3,480.6 480.5,482 478.9,484.6 475.8,486.2 468.6,487.8 458.3,490 451.6,491.9 443.7,493.9 437.5,495.5 431.1,497.3 421.2,499.3 407.1,501.4 401.7,502.4 385.2,506.8 376.2,511.5 370.1,516.2 363.9,520.9 358.6,525.3 351.6,530.4 347,535 335.2,539.7 324.7,544.6 313,549.3 301.7,553.6 293.9,558 282.6,567.8 267.5,577.1 253.1,586.3 241.6,596 232.4,605.3 221.9,614.3 214.8,624.2 210,633.2 206.7,642.5 204.5,652.1 201.3,671.1 197.2,689.5 195.5,708.7 191.6,727.1 187.8,746.4 184.6,765.1 181.9,783.5 178.4,802.7 175.7,821.5 173.5,840.3" stroke="#c8c129"/>
<polyline points="489.9,465.7 489.1,467.1 487.9,469.1 486.8,470.9 485.5,473.1 484.4,474.9 483.4,476.6 482.1,478.8 481.3,480.2 480.2,482 478.8,484.3 477.9,485.9 470.9,488.2 462.6,489.8 454.4,491.8 444.2,493.9 439.7,495.7 434.3,497.2 424.8,499.2 413.6,501 407.5,502.2 384,507.1 375,511.5 370.2,516.1 365,520.7 358,525.8 354,530.5 348.4,534.8 339.3,539.3 325.7,544.6 318.1,548.8 306.5,554 297,558.2 285.5,567.7 271.9,577 253.4,586.9 244.3,595.5 234.5,605.4 225.6,614.4 216,624 211.9,633.3 207.6,642.8 204.7,652.1 200.7,671 195.8,690 192.1,708.4 188.3,727.7 185,745.9 181.5,764.9 178.7,783.7 176.2,802.2 174.1,821.2 171.7,839.9" stroke="#cdc028"/>
<polyline points="489.4,465.5 488.1,467.6 487.3,469 485.9,471.4 484.7,473.3 483.9,474.8 482.8,476.5 481.5,478.8 480.4,480.5 479.2,482.7 478.2,484.3 475.6,486.4 469.6,487.8 460.5,489.6 451.6,492.1 447.3,493.3 438.7,495.6 429.7,497.7 423.6,498.9 408.7,501.2 406,501.9 389.3,506.6 376.8,511.3 372.6,516 364.3,520.8 360.6,525.4 354.4,530.1 349.6,534.8 340.9,539.8 330,544.6 319.7,549.1 310.9,553.3 302.1,558.7 287.6,567.9 275.8,577.2 259.5,586.7 247.3,595.6 237.2,605.5 228.1,615 217.7,623.8 212,633.8 208.2,643.2 205.7,652.3 200.8,670.8 195.4,689.5 191.6,708.2 187.5,727.4 184.7,745.7 181,764.9 178.3,783.3 176.1,802.6 173.5,821.1 171,840.3" stroke="#d3bf27"/>
<polyline points="486.2,465.3 485,467.2 483.8,469.3 482.8,471 481.6,473 480.6,474.6 479.5,476.4 478.4,478.4 477.2,480.3 475.8,482.6 474.8,484.3 473.6,486.4 467.3,488.3 459.7,490.2 455.3,491.5 447.3,493.8 440.1,495.2 434.5,497 424,498.9 413,501 407,501.8 384.7,506.9 376.5,511.4 371.4,515.9 367.4,521 362.7,525.3 356.4,530.3 351.8,535.1 346.2,539.5 333.8,544.6 322.6,549.1 311.6,553.9 302.1,558.1 287.7,567.6 276.5,577.1 260.5,586.8 247.1,595.9 237.7,605.6 228.2,614.6 218.1,623.8 212.7,633.7 208.9,642.9 206.3,652.2 202,671.3 196.9,689.5 192.2,708.8 188.5,727.2 185.3,746.2 181.3,764.6 178.3,783.7 176.1,802.2 173.3,821.5" stroke="#d7be28"/>
<polyline points="484.7,465.7 483.9,466.9 482.7,469 481.7,470.7 480.2,473.2 479.1,475 478.1,476.8 477,478.6 476.1,480.1 474.8,482.2 473.8,483.9 472.6,486 467.2,488.1 460,489.8 456,491.6 448.6,493.8 438.1,495.6 430.7,497.7 423.6,498.9 411.9,500.9 405.4,502 387.9,506.6 375.7,511.7 372.4,516.4 367.4,521 364.3,525.3 357.5,530.2 352.2,534.8 341.7,539.5 331.4,544.4 321.2,549.1 310.2,553.6 303.3,558.1 290.3,567.6 276.2,577.2 259.1,586.7 246.3,595.9 236.8,605.5 229.1,614.5 218.1,624.1 213.2,633.6 208.5,642.8 206,652.1 201.6,671.3 196.9,690.1 193.7,708.4 189.2,727.4 185.4,746.1 181.6,764.8 179.1,784 176.3,802.6 174.1,821.4" stroke="#dcbd29"/>
<polyline points="484.8,465.6 483.9,467.2 482.7,469.1 481.4,471.3 480.6,472.7 479.2,475 478.3,476.5 476.8,478.9 475.8,480.6 475,482.1 473.6,484.5 472.7,485.8 470.1,488.2 463.3,489.8 455.6,491.4 446.6,493.5 441.2,495.4 432.6,497.1 420.5,499.5 414.9,500.9 407,501.9 387.3,506.4 374.9,511.8 371.8,516.3 365.5,521.1 363.8,525.7 358.6,530.1 354.2,534.8 347,540 336.7,544.6 325.5,549 316.4,553.4 306,558.7 290.9,568.1 278.9,577.3 262.8,586.7 248.3,595.6 239.4,605 230.1,614.5 219.5,623.9 212.4,633.2 208.8,643 205.6,651.9 201.6,671.2 195.8,689.4 191.6,708.5 187,727.1 183.5,746.1 179.9,764.8 176.9,783.5 174.3,802.1 172.1,821.1 170.2,840.2" stroke="#e1bc2b"/>
<polyline points="488.5,465.3 487.1,467.7 486.3,469.1 485.2,470.8 483.8,473.3 483,474.6 481.8,476.5 480.7,478.4 479.3,480.7 478.1,482.7 477.3,484.1 476.2,486 470.7,488.2 465,489.6 453.2,492 449.3,493.2 440.3,495.1 430.2,497.4 422,499 408.6,501.4 406.6,502 387.5,506.6 376.8,511.5 373.8,515.8 368.3,520.9 363.5,525.2 359.3,530 355.2,535 350.4,539.4 342.5,544.3 333.3,548.9 322.1,553.9 311.6,558.7 295,568.1 283.9,577.3 271.2,586.4 255.2,595.8 243.9,605.2 233.4,614.5 223.8,624 214.7,633.2 210.5,642.5 204.8,652.1 200.1,671 194.1,689.7 189,708.2 184,727.4 180.2,746.2 177.2,765.2 175,783.8 173.1,802.2 170.7,821.4 168.8,840.3" stroke="#e5bb2d"/>
<polyline points="495.6,465.2 494.3,467.3 493.3,468.9 491.9,471.3 491.1,472.7 489.8,474.8 488.5,477 487.4,478.9 486.5,480.3 485.2,482.5 484,484.6 477,486.2 470.2,488.2 460.4,490.1 455.6,491.6 449.8,493.3 439.4,495.2 432.2,497.2 424.4,499 410.5,501.4 408,501.9 386.5,506.6 377.4,511.2 374.1,516.2 371.6,520.8 366.2,525.2 362,530.1 357.3,535 352.3,539.4 346.8,544.5 340.1,548.9 330.5,553.4 318.3,558.7 301.8,567.6 288,576.9 275.9,586.2 259.7,596.1 245.5,605.6 235.6,615 224.6,624.4 215.2,633.7 211.1,642.5 207.2,652.2 201.2,671.4 193.3,689.5 187.8,708.8 182.7,727.2 179.8,745.9 176.7,764.8 173.8,783.8 171.4,802.2 169.6,821.5 167.6,840" stroke="#e9bb30"/>
<polyline points="496.5,465.3 495.5,467 494.2,469.1 492.9,471.2 491.7,473.2 491,474.5 489.6,476.9 488.7,478.3 487.4,480.4 486.5,482 485.2,484.2 484.2,485.9 473.9,488.2 466.1,489.9 457.8,491.8 449.9,493.6 442.1,495.6 436.6,497.1 426.8,499.1 415.4,501 411,501.7 388.5,506.7 376.4,511.3 373,516 370.3,520.7 368,525.6 362.7,530.2 355.9,535 351.1,539.6 348,544.1 339.7,548.8 331.8,553.3 320.1,558 300.4,567.9 287.1,577.4 276.3,586.5 260.9,596.1 245.8,605.1 236.3,615 226.9,624.1 217.2,633.2 211.3,642.9 207.3,652.4 200.9,670.6 193.6,689.8 187.8,708.7 182.7,727.3 179.6,745.8 176,765.1 173,783.9 171.4,802.1 169.6,821 167.4,839.7" stroke="#edba33"/>
<polyline points="498.7,465.7 497.5,467.6 496.5,469.3 495.4,471.2 494.2,473.2 493,475.2 492,476.8 491.1,478.4 490,480.1 488.8,482.2 487.6,484.2 482.8,486.3 478.9,487.6 467.4,489.6 458.9,491.6 448.6,493.8 440.8,495.5 430.7,497.4 422.3,499.5 411.6,501.2 410.4,502 388.7,506.9 378.6,511.1 375.2,516.3 371.4,520.9 365.7,525.8 358.4,530.3 353.8,534.8 350.2,539.8 341.8,544.2 331.2,549 321.8,554 311.5,558.6 294.6,567.9 282.5,577.3 267.7,586.8 252.3,595.9 241.9,605.3 232.4,614.7 222.1,624.3 214.2,633.1 209.3,642.5 206.5,652.3 199.8,670.7 192.4,689.9 186.3,708.8 181.8,727.5 178.4,746 175.1,765.1 173,783.9 170.7,802.6 169.1,821.3" stroke="#f1ba37"/>
<polyline points="500.9,465.2 499.6,467.3 498.6,468.9 497.4,471 496.2,473 494.9,475.2 494.1,476.5 493,478.4 491.6,480.7 490.8,482 489.4,484.4 487.1,485.9 475.8,487.7 468.7,489.7 459.1,491.5 451.4,493.7 441.9,495.4 435.5,497.6 426.3,499.4 416.2,501.1 412.1,502.2 388.5,506.6 377.3,511.2 374.9,515.8 371.1,521.1 363.1,525.7 359.5,530.3 354.8,535 347.8,539.9 341.4,544.6 333,548.7 322.5,553.4 312.2,558.6 296.6,568 285.9,576.8 271.6,586.5 255,596 241.9,605.1 231.4,614.4 220.5,624.1 213.6,633.8 209.4,642.7 205.5,652 200.8,671.3 194.1,690.1 188.9,708.3 184,727.5 179.9,746.2 176.6,765.2 174.1,784 171.8,802.3 169.4,820.9 167.4,840.1" stroke="#f5ba3a"/>
<polyline points="495.1,465.6 494.1,467.4 493.1,469.1 491.8,471.3 490.9,472.8 489.6,474.9 488.6,476.6 487.3,478.7 486.4,480.3 485.1,482.4 484.1,484.1 482.9,486.1 478.6,488.3 472.4,490 463.4,491.9 456.7,493.5 445.4,495.8 437.2,497.7 432.2,499 418.8,501.2 412.1,502.2 389,506.6 378.3,511.5 374.7,516 371.4,520.6 367.4,525.6 362.8,530.3 357,534.6 351.7,539.3 345.4,544.5 337.5,549.1 327.3,553.8 317.7,558.7 301.4,567.5 289,577 275.3,586.4 259.1,595.7 246,605.1 235.6,614.9 226.2,623.8 216.6,633.5 211,642.8 207.1,652.5 201.9,671.3 195.5,689.5 189.4,708.8 184.2,727.5 181.1,746.3 177.5,765.2 175.2,783.4 172.9,802.6 170.6,821.1 168.3,839.7" stroke="#f8ba3d"/>
<polyline points="499.6,465.1 498.1,467.4 497.3,468.8 496.2,470.7 494.9,472.8 493.8,474.7 492.8,476.5 491.5,478.5 490.5,480.3 489.1,482.6 488.2,484.1 485.6,485.8 477.3,487.6 469.1,489.5 459.6,491.5 448.1,493.9 443.9,495.5 436.9,497.5 428.9,498.9 416,501.3 410.7,502.3 386.6,507.1 376.3,511.1 373.2,515.9 371,520.5 364.3,525.5 361.5,530.3 356.9,534.7 352.4,539.5 348.4,544.6 337.3,548.9 327.2,553.3 317.4,558.3 300.5,567.4 287.4,577 274.4,586.8 258.2,595.5 244.3,605.3 234.6,614.9 223.6,624.2 215.5,633.3 211.3,642.7 207.7,652.2 202.6,671 196.6,689.7 191.3,708.8 186.1,727.6 182.6,746.1 179.2,764.9 176.1,783.5 174,802.3 171.6,821.2 169.6,840" stroke="#fbbc3d"/>
<polyline points="501.9,465.5 500.6,467.6 499.7,469.1 498.4,471.3 497.4,472.9 496.2,474.9 495.1,476.9 494,478.8 492.9,480.6 491.9,482.1 490.9,483.8 485.4,486.2 479.1,487.7 468.3,490.1 458.2,492 452.6,493.4 444.1,495.4 437.2,497.4 428.6,499.1 416.4,501.2 410.3,502.2 388.6,506.9 375,511.7 372.7,515.8 366.5,520.7 363.2,525.4 358.7,530.4 354,535 348.9,539.4 343.4,544 331.4,549.2 323.2,553.7 315.6,558.2 298.2,567.5 284,576.9 268.7,586.4 253.2,596.2 242.2,605.6 234.4,614.4 223.8,623.8 214.9,633.7 211.7,642.5 208.2,652.3 202.3,670.7 195.1,690 189.8,708.6 184.4,727.1 180.9,746.3 178.2,764.5 175.1,783.4 173.4,802.4 171.3,821.1 168.9,840.2" stroke="#febd3c"/>
<polyline points="509,465.6 507.9,467.3 506.8,469.3 505.9,470.8 504.8,472.6 503.5,474.7 502.4,476.5 501.4,478.3 500,480.6 498.7,482.7 497.2,483.9 488.6,486.4 480.4,487.8 473.6,489.7 462.4,491.9 455.4,493.5 446.7,495.8 440.1,497.7 433.4,498.9 420.8,501.1 415.2,502 388.9,507 378.1,511.1 375.3,516.1 369.7,520.7 363.7,525.8 358.1,530.1 353.8,534.9 348.9,539.6 343.7,544 332.5,548.7 320.9,553.5 311.3,558 294.1,567.8 284.4,577.1 270.2,586.3 254.8,595.5 243.1,605.1 233.7,614.4 222.7,624 213.7,633.6 209.8,642.8 207,652.5 201.8,670.9 194.6,689.4 189.3,708.6 184.4,727.6 181.4,746.3 177.9,765.1 175.4,783.9 173.7,802.1 171.2,821.5" stroke="#fec03b"/>
<polyline points="514,465.6 513.1,467 511.8,469.2 510.5,471.4 509.7,472.9 508.6,474.6 507.2,477.1 506.3,478.5 505.3,480.1 502.2,482.1 495.3,484.1 489.7,486.1 483.6,487.8 473.7,489.7 463.4,492 456.1,493.3 447.1,495.1 442.2,497.1 432.9,499.3 420.9,501.3 417.9,502 389.9,506.8 376.9,511.4 372.3,516 368.2,520.8 364.4,525.6 357.6,529.8 352.3,535.1 348.4,539.7 339.1,544.6 329.8,548.8 317.1,553.9 308.4,558.5 292.9,567.8 283.6,577.3 267.5,586.2 250.2,596.2 240.4,605.6 231.8,614.8 221.8,623.9 215.1,633.6 210.3,642.8 207.1,652.5 201.3,671.2 195.6,689.6 191.8,708.4 186.9,727.4 183,745.8 179.7,764.7 176.3,783.7 174.8,802.3 172.3,821" stroke="#fec239"/>
<polyline points="510.9,465.4 509.6,467.6 508.6,469.4 507.8,470.7 506.4,473 505.4,474.7 504.3,476.6 503,478.6 501.7,480.8 500.7,482.6 495,484.4 490.3,486.3 483.4,487.9 473.3,490.2 466.7,491.8 457.2,493.7 453,495.1 442.1,497.5 435.5,499.2 425.7,501 416.1,502.2 388.9,507.1 374.9,511.6 370.9,516.5 368.2,520.8 364.7,525.8 360.7,529.9 354.9,535.2 347.3,539.4 340.9,544.2 330.2,549.2 320.9,553.8 310.7,558 294.2,567.7 284.1,576.8 269.4,586.2 253.3,596 241.7,604.9 232.1,615 222.3,623.7 215.2,633.8 209.7,642.6 206.4,652.2 201.8,670.8 196,689.4 191.7,708.3 187.2,727.3 184.3,746 181.1,765 178.5,783.8 175.7,802.7 172.9,821.1 170.5,839.8" stroke="#fec537"/>
<polyline points="513.1,465.5 512.3,467 510.8,469.5 510,470.8 508.6,473.2 507.7,474.6 506.4,476.9 505.3,478.8 504.4,480.2 503,482.5 499.1,483.9 491,486.1 485.7,487.6 476.7,489.5 462.3,492.1 454.2,493.9 446.3,495.6 438.9,497.7 436.7,498.9 422.6,501 418.1,502.1 391.7,506.5 376.3,511.4 374.8,516.2 370.1,520.9 366,525.3 359.1,530.6 356,534.6 349.6,539.5 343.5,543.9 333.8,548.7 324.6,553.5 314.6,558.2 297.8,567.4 285.4,577 269.8,586.6 255.3,595.6 243.8,605.5 234.5,614.9 224.2,623.9 215.3,633.5 210.4,643.1 206.2,652.3 202.1,671 196.8,690 190.9,708.9 186.1,727 183,745.9 179.9,764.5 176.5,784 174.4,802.4 172.1,821.1" stroke="#fec735"/>
<polyline points="516.7,465.4 516.2,467.4 516,469.3 516,471.4 515.7,472.6 514.5,474.5 508.5,477 505.6,478.5 500.9,480.4 500.7,482 494.6,484.1 487.2,486.4 480.6,487.9 470.7,489.8 463.1,491.4 454.4,493.4 446.9,495.2 438.1,497.3 429.6,499.1 415.5,501.4 413.5,501.8 388,506.5 376.5,511.3 372.3,516.5 369.8,521.1 365.5,525.7 362.9,530.3 357.5,535 349.8,539.6 344.5,544.4 335.2,548.6 324.9,553.9 315.4,558.5 298.8,567.6 286.9,576.8 272.7,586.6 256.6,595.5 242,605.6 233.4,615 224.2,623.8 215.4,633.2 209.8,642.6 205.6,652.3 200.6,670.8 195,689.8 190.3,708.8 184.9,727.2 181.2,745.7 178.4,764.7 175.6,783.5 173.4,802.5 171,820.9" stroke="#feca33"/>
<polyline points="515.8,465.6 515,467.2 514.9,469.5 514.8,470.7 513.1,473 514.5,475.1 514.7,476.6 512.1,478.8 506.3,480.4 502.6,482.4 499,484.1 495.1,486.1 490,487.7 478.7,490.2 469.5,491.5 462.2,493.4 453.8,495.4 443,497.5 433.7,499.5 422.8,501.3 417.7,502.1 389.6,506.8 377.4,511.6 373,516.4 367.3,521 364.7,525.2 358.9,530.4 354.7,534.7 350,539.7 341.4,544.5 330,549.3 321.6,553.7 312.5,558.1 295.5,568.1 283.7,577.1 270.6,586.6 255.3,595.6 241.7,605.4 234.8,614.6 223.2,624.3 215.4,633.2 210.8,643.1 207,652.2 201.4,670.7 195.3,689.7 190.2,708.4 185.8,727.2 182.7,746.1 179.2,764.8 176.6,783.6 174.5,802.3 172.2,821 170.2,839.6" stroke="#fdcd32"/>
<polyline points="520.3,465.4 518.5,467.1 518.3,469.4 517.9,471.1 517.2,472.8 518.5,475 519,477 515.1,478.7 511.5,480.2 505,482 498.6,484.2 492,486.1 485.5,488.2 475.2,489.7 467.5,491.4 456.6,493.3 447.4,495.4 437.6,497.4 429.1,499.5 424.2,500.8 416.9,502.1 390.6,506.8 377.5,511.6 372.7,516.1 368.5,521.1 365.1,525.7 357.8,530.6 353.7,535.1 348.5,539.5 341.8,544.3 331.2,549 320.2,553.9 310.8,558.2 292.9,567.8 283,577.2 266.9,586.7 251.8,595.9 242.3,605 232.4,614.9 222.1,624.4 214.5,633.5 209.9,643 205.7,652.5 201.5,670.7 196.2,689.6 193,708.2 187.7,727.3 184.7,746.1 181,764.5 178.2,783.4 176.1,802.7 173.3,821.2" stroke="#fccf30"/>
<polyline points="521.5,465.4 520.7,467.4 520,469.5 519.9,470.8 518.7,472.6 517.5,474.8 518.2,476.9 511.7,478.8 508.5,480.4 501.3,482.3 496.6,484.4 489.5,486.4 486.4,487.7 475.5,490.2 468.8,491.9 461.4,493.4 453.4,495.4 445.2,497.3 437.6,498.9 426,501 416.5,502.1 387.6,507.1 379.7,511.1 372.8,516.1 368.4,520.9 363.9,525.2 357.1,530.4 351.6,535 345.5,539.9 336.1,544.4 327.4,549 316.4,553.5 306.5,558.1 290.4,567.6 278.5,577.5 263.2,586.7 247.3,596.3 238.3,605 230.6,614.7 218.4,624.3 212.9,633.6 208.1,642.7 205.9,651.9 201,670.9 195.2,690 191.1,708.8 186.8,727.5 183.2,746 180.1,764.9 176.9,783.7 174.6,802.6 172.1,821.1 170,840" stroke="#fbd22f"/>
<polyline points="519.4,465.1 517.8,467.6 517.5,469 517.6,471.1 515.3,472.8 510.2,475 506.5,476.5 500.4,478.8 498.9,480.3 495.7,482.5 488.6,484.3 478.7,486.3 472,487.8 461.7,489.7 451.1,492.1 446.6,493.6 440.6,495.3 432.8,497.5 420.4,499.5 414.4,501 406.5,502.2 388.2,506.5 376.1,511.7 373.4,516.1 369.2,520.6 363.7,525.9 357.8,530.2 351.4,535.3 347,539.3 341.4,544.3 330.1,548.7 320,553.9 308.3,558.7 295.1,567.7 283.1,577 267.9,586.9 251.2,596 240.5,605.7 231.6,614.8 220.4,624.1 212.9,633.2 208.5,643 206.2,651.8 201.5,671 197,689.5 192.8,708.9 187.9,727.4 185.5,746.2 182.1,764.6 179,783.4 175.7,802.4 173.3,820.8 170.9,839.9" stroke="#fad52d"/>
<polyline points="518.6,465.7 517.7,467.6 516.9,468.8 515.6,471.1 515.9,473.2 516.3,475 512.5,476.5 508.2,478.8 507.3,480.1 501.2,482.5 496.3,484.1 487.1,486.2 476.7,488.2 471.8,489.5 462.7,491.6 455.1,493.5 446.1,495.3 439.1,497 426,499.6 420,500.9 413.6,501.9 390.6,506.4 377.2,511.3 369.4,515.9 362.4,521.1 356.8,525.4 350.4,529.9 341.5,535.1 329.1,539.9 318.9,544 305.3,548.9 295.6,553.6 290.2,558.4 275,567.9 258.2,577.2 245.8,586.1 235.8,596 226.8,605.5 216.7,614.6 211.8,624.4 207.5,633.3 205.1,642.7 203.6,652.1 199.4,671.1 195.4,689.9 192.3,708.3 189.4,727.6 186.7,745.9 182.8,765.2 179.6,784 177.1,802.7 175,821.1 172.4,839.7" stroke="#f9d82c"/>
<polyline points="518.6,465.3 517.4,467.7 517,469.5 517.3,470.8 517.8,472.6 515.9,474.9 511,476.7 506.8,478.4 505.3,480.1 500.2,482.2 495.2,484.2 487.8,486.1 480,488.3 468.4,490 458.3,492.1 450.1,493.9 445,495.6 437.1,497.4 428.8,499.3 414,501.3 411,501.9 389.7,506.5 378.1,511.5 372.9,515.9 367.3,520.5 362,525.6 356.8,530.2 352.9,535.1 346.6,539.4 336.6,544.6 328,548.9 316.6,553.6 306.4,558.1 290.4,567.5 280.6,576.8 264.3,586.6 248.3,595.9 240.2,605.1 229.7,614.7 219,623.8 212.9,633.2 208.8,643.1 205.5,652.1 201.4,670.7 195.9,689.7 191.7,708.6 187.8,727.1 184.6,746.4 181.3,765.1 178.1,783.9 175.7,802.7 173.8,821.1 171.4,840" stroke="#f7db2b"/>
<polyline points="516,465.6 516,467.2 515.6,469.3 516.3,470.8 515.4,472.6 513.5,475.1 515.8,476.8 513.3,478.6 510.4,480.3 504.2,482.3 500,484.3 492.1,486.1 488.7,488.1 480.4,489.7 468.3,492.1 462.7,493.5 452.8,495.2 443.6,497.3 434.2,499.4 422.6,501.3 418.3,502 387.6,506.9 376.1,511.3 369.9,515.9 365.2,520.8 359.6,525.4 353,530.5 347.4,534.7 339.6,539.7 327.5,544.5 313.8,549.2 306.2,553.8 297,558.4 284.6,567.8 272,576.9 256.6,586.2 243.7,595.8 234.5,605 224.4,614.4 215,624.2 209.4,633.7 206.8,643.2 204.9,652.2 199.4,670.9 192.9,689.9 188.6,708.8 183.9,727.5 180.7,746 177,764.9 175.1,783.5 173,802.6 170.5,821.2 168.5,839.6" stroke="#f6dd29"/>
<polyline points="515.5,465.2 516.8,467 515.4,469.1 515.7,471 515.2,473 514.5,474.6 510.6,476.8 505.7,478.9 502.5,480.2 499.6,482.4 496.3,483.9 488.1,486.1 481,487.6 470.6,489.5 459.3,492 452.2,493.9 444.1,495.5 435.3,497.6 429.3,499 416.7,501.3 415.6,502 391.8,506.5 379.2,511.1 371.9,516.5 367.2,520.7 362.1,525.6 355.3,530.5 350.7,534.6 344.5,539.6 331,544.5 321.9,549 310.5,553.9 302.9,558.4 287,568 276.4,577 260.9,586.5 245.3,596.1 237,605.3 227.5,614.4 216.8,623.8 211.2,633.1 207.4,642.7 205,652.2 199.5,670.7 193.3,689.6 188.5,708.5 183.9,727.6 180.6,746 177.8,765.1 175.1,783.5 173.7,802.4 171.7,821.3 169,839.7" stroke="#f6e028"/>
<polyline points="516,465.6 516.2,467 516.2,469.4 515.4,470.8 516.3,472.9 514.9,475.1 512.5,477 508.8,478.5 503.6,480.3 501.8,482.6 494,484.6 490.6,486.1 481.7,488 472.8,490 465.2,492 456.3,493.7 446.5,495.2 440.1,497 432.5,499.2 418.9,501.4 413.6,502 388.8,506.9 378,511.1 372.1,516.1 366.6,520.5 360.8,525.8 356,530.2 350.7,534.6 343.2,539.9 334.8,544 321.8,549.2 311.6,553.3 301.8,558.5 287.3,567.8 274.5,577.5 260.4,586.2 245.4,595.8 236.8,605 225.6,614.8 217.2,624.2 212.3,633.7 208.5,643 205.3,652.6 200.1,670.7 194.2,689.5 189.5,708.7 184.5,727.4 182,746.3 178.5,765.1 175.8,783.5 173.7,802.2 171.5,820.8 169,839.7" stroke="#f5e327"/>
<polyline points="507.9,465.5 506.6,467.6 505.5,469.4 504.3,471.4 503.6,472.6 502.1,475.2 501.3,476.6 500.2,478.3 495,480.6 486.7,482.6 480.1,484.4 474.8,486 467.8,487.8 456.9,490.2 452.3,491.6 445.1,493.3 438.7,495.1 432.4,497 421.3,498.9 406,501.4 403.7,501.7 385.5,507 375.2,511.3 367.6,516.5 361.2,520.8 353.1,525.2 347.6,529.9 336,534.9 323.4,539.4 310.2,544.2 300.3,549.1 292.1,554 285.1,558.3 268.6,568.1 253.9,576.8 242.4,586.3 233.8,595.8 223.8,604.9 215.4,614.9 212.1,624.1 208,633.6 205.8,643.1 204.1,652.2 199.5,670.7 193.3,690.1 188.6,708.2 185,727.3 181.2,745.8 178.1,764.5 175.6,783.7 173.3,802.3 171.6,820.9 169.7,840.2" stroke="#f5e626"/>
<polyline points="503.5,465.2 502.3,467.3 501,469.3 500.2,470.7 499,472.8 497.6,475 496.5,477 495.3,478.9 494.4,480.4 493.2,482.5 492.2,484.1 488.4,486.3 479.6,488.3 474.8,489.5 467.1,491.4 454.8,493.6 446.9,495.3 439.8,497 428.4,499.4 418.8,501.1 410.3,502.3 386.8,507.1 376.4,511.2 369.8,515.9 366.7,520.8 360,525.6 353.3,530.4 346.7,535.1 337.3,539.8 326.3,544.5 315.6,549.3 308.1,553.7 299.6,558.2 286.5,567.9 271.6,577 254.8,586.6 242.6,596.2 233.1,605.6 225.4,614.3 216.5,624.4 212.1,633.1 207.4,642.8 204.7,652.2 197.6,670.9 191.3,689.8 187,708.6 183.1,727.3 179.5,746.1 176.4,764.7 174.2,783.7 171.9,802.3 169.9,821.5" stroke="#f5e924"/>
<polyline points="503.3,465.5 502,467.6 501,469.3 500.2,470.7 498.9,472.9 497.9,474.5 496.6,476.8 495.6,478.5 494.5,480.3 492.5,482.5 486.9,484.3 476,486.2 471.2,487.8 459.7,490.2 452.4,491.9 446,493.6 437,495.8 432.4,497.4 422.3,499 408.3,501.2 404.1,502.3 385.5,507.1 375.9,511.5 373.3,516 366.4,521 360.6,525.2 352.2,530.5 347.7,534.6 338.7,539.9 328.4,544.3 320,548.6 307.2,553.8 298.9,558.3 285.1,568.1 271.4,576.9 255.3,586.3 243,596.2 233.8,605.4 224.5,614.5 215.5,624.3 211.4,633.2 207.5,642.7 205.3,652.2 200.9,671.3 195.2,689.7 192,708.8 187.6,727.7 184.3,746 180.9,764.7 177.6,783.4 175.7,802.7 172.9,820.9" stroke="#f5eb23"/>
<polyline points="497.4,465.7 496.4,467.2 495.4,468.9 494.2,471 492.8,473.3 491.8,475.1 490.7,476.9 489.5,478.8 488.3,480.8 487.5,482.1 486.4,484.1 483.9,486.1 477.8,487.6 466.7,490.1 460.5,491.9 451.4,494 443.8,495.8 435.2,497.4 429.1,499.1 419.9,500.8 411.7,502.2 389.4,506.7 376.4,511.7 371.4,516.1 367,521 360.6,525.7 356.2,530.2 349.2,534.8 345,539.3 332.6,544.4 319.7,549.1 311.1,553.7 302.8,558.1 287.4,567.9 275.1,577.4 259.1,586.6 245.7,595.8 237.8,605.2 228.7,614.6 217.2,624 213.7,633.3 209.7,642.9 206.5,652.5 201.9,670.8 197.9,690.1 193.8,708.8 190.2,727.6 186.5,746.4 182.7,764.9 179.3,783.8 177,802.6 174.8,821.2 172.6,839.7" stroke="#f5ee21"/>
<polyline points="494.5,465.7 493.7,467.1 492.5,469.1 491.2,471.3 490.3,472.8 489,474.9 487.9,476.7 486.8,478.6 485.7,480.5 484.5,482.5 483.7,483.9 482.1,486.4 481.4,487.7 470.4,490 462.1,491.4 456.3,493.3 447.5,495.8 439.3,497.5 433.4,499.2 420.9,501 413.2,502.4 388.6,506.9 375.4,511.2 371,515.8 364.6,520.9 359.2,525.8 352.9,530 348.2,534.6 343.1,539.2 332.9,544.1 321.9,548.9 310.2,553.9 303.6,558.1 289.8,567.5 277,576.8 261.2,586.3 246.1,595.8 236.9,605 228.3,614.6 217,623.8 212.2,633.1 208.7,643.1 205.9,652.6 201.4,671.3 195.8,689.7 191.6,708.4 187,727.4 183.4,746 179.9,765.2 177.3,783.8 174.8,802 172.4,821.3 170.2,840.3" stroke="#f6f01f"/>
<polyline points="493.6,465.6 492.4,467.5 491.3,469.5 490.2,471.3 489,473.3 488.1,474.8 487,476.6 485.6,478.9 484.7,480.4 483.4,482.6 482.5,484.2 480.4,486.2 469.5,488.2 465.7,489.5 455.3,491.8 448.4,493.6 440.3,495.6 432.1,497.4 423.7,499 411.8,501.3 405.7,501.9 387.1,506.8 376.5,511.5 372.1,515.8 368.3,521 363.3,525.7 357.6,530 351.8,535.3 347.4,539.5 335.9,544.6 326.3,549.2 316.2,553.5 307.3,558 289.6,568 281.5,576.9 265.4,586.7 251.3,595.6 240.9,605.1 231,614.3 219.8,624.2 212.8,633.4 208.3,643.1 205.8,652.4 201,670.7 193.3,689.5 188.2,708.5 183.2,727.4 180.9,746.4 177.6,764.5 174.5,783.7 173.4,802.1 171.3,821.3 168.6,839.7" stroke="#f7f31d"/>
<polyline points="492.4,465.5 491.5,467.1 490.3,469 489,471.3 488.2,472.6 486.8,474.9 485.6,476.9 484.4,478.9 483.5,480.5 482.4,482.3 481.4,483.9 480,486.3 479,488 474.9,489.7 464.3,491.5 451.8,493.9 445.3,495.6 438,497.6 432.1,498.9 421.4,500.8 418.2,501.7 389,507.1 378.3,511.7 372.8,516.2 367.6,520.5 361.9,525.3 357.3,529.9 351,534.9 345.4,539.3 333.3,544.6 323.9,548.9 312.9,553.8 305.8,558.5 288.6,567.9 277.2,576.8 260.2,586.8 246,596.1 237.2,605.5 228.3,614.8 218.2,624.1 213,633.7 208.7,642.7 206.4,652.1 201.2,670.7 193.8,689.8 189,708.7 185,727.4 181.3,746.1 177.9,765.2 175.7,783.9 173.1,802.7 170.9,821.2" stroke="#f7f61a"/>
<polyline points="487,465.4 485.8,467.4 484.7,469.3 483.6,471 482.5,472.8 481.3,474.8 480.2,476.8 479.3,478.2 477.8,480.7 476.8,482.4 475.9,484 473.2,486.2 463.9,488 457,489.7 446.9,491.9 440.9,493.7 431.9,495.4 420.6,497.6 412.6,499.4 404.8,501.4 399.2,502.2 384,506.7 376.9,511.3 373.2,516.3 368.1,521.1 362,525.3 356.1,530.2 349.2,534.8 338.8,539.9 328.3,544.5 320.1,548.7 308.5,553.6 299.2,558.2 284.9,567.6 274.7,576.8 259.4,586.6 246.7,596 236.6,605.5 226.5,614.9 217.3,624 211.8,633.1 208,643 205.5,652.3 200.4,671.1 195.7,689.7 190.2,708.8 185.6,727.4 181.3,746.3 178.6,765.2 175.7,783.8 173.7,802.4 171.2,821.3" stroke="#f8f817"/>
<polyline points="487.2,464.5 487.2,470.1 487.3,475.2 497.7,476.9 495.3,479 478.1,481.4 470.5,482.7 460.7,486.1 441.1,492.3 432.7,494.5 420.1,496.8 399.1,501.7 379.9,508.4 375,513.3 369.7,518.6 364.1,524.2 359.4,527.9 354.3,532.1 345.2,539.4 332,545.2 319.6,550.7 311.1,554.4 302.4,559.3 294.4,563.8 292.4,564.9 287.2,569.6 281,575.3 265,584.6 248.9,594 239.9,603.4 236.2,607.2 230,613.5 224.3,618.4 217.6,624.2 214.6,629.7 211.4,635.5 209.4,641 206.6,648.7 205.6,652.6 203.8,659.7 201.7,667.6 200.5,671.6 197.6,680.4 194.3,690.3 190.3,706.7 187.9,716.8 186.1,724.3 182.1,746.1 177.2,773.3 174.2,798.6 171.6,820.4" stroke="#000" stroke-width="2.4"/>
</g>
<line x1="264.6" y1="805.4" x2="327.4" y2="805.4" stroke="#000" stroke-width="2.4"/>
<text x="333.6" y="809.8" font-size="12.6" text-anchor="start" fill="#000" textLength="159.2" lengthAdjust="spacingAndGlyphs">Último perfil: 04-Feb-2015</text>
<rect x="162.5" y="464.5" width="350.0" height="367.0" fill="none" stroke="#7a7a7a" stroke-width="1"/>
<text x="190.4" y="850.6" font-size="14" text-anchor="middle" fill="#808080">5</text>
<text x="260.4" y="850.6" font-size="14" text-anchor="middle" fill="#808080">10</text>
<text x="330.5" y="850.6" font-size="14" text-anchor="middle" fill="#808080">15</text>
<text x="400.5" y="850.6" font-size="14" text-anchor="middle" fill="#808080">20</text>
<text x="470.5" y="850.6" font-size="14" text-anchor="middle" fill="#808080">25</text>
<text x="157.8" y="469.6" font-size="14" text-anchor="end" fill="#808080">0</text>
<text x="157.8" y="507.1" font-size="14" text-anchor="end" fill="#808080" textLength="29.5" lengthAdjust="spacingAndGlyphs">-200</text>
<text x="157.8" y="544.7" font-size="14" text-anchor="end" fill="#808080" textLength="29.5" lengthAdjust="spacingAndGlyphs">-400</text>
<text x="157.8" y="582.2" font-size="14" text-anchor="end" fill="#808080" textLength="29.5" lengthAdjust="spacingAndGlyphs">-600</text>
<text x="157.8" y="619.8" font-size="14" text-anchor="end" fill="#808080" textLength="29.5" lengthAdjust="spacingAndGlyphs">-800</text>
<text x="157.8" y="657.3" font-size="14" text-anchor="end" fill="#808080" textLength="37.3" lengthAdjust="spacingAndGlyphs">-1000</text>
<text x="157.8" y="694.9" font-size="14" text-anchor="end" fill="#808080" textLength="37.3" lengthAdjust="spacingAndGlyphs">-1200</text>
<text x="157.8" y="732.4" font-size="14" text-anchor="end" fill="#808080" textLength="37.3" lengthAdjust="spacingAndGlyphs">-1400</text>
<text x="157.8" y="770" font-size="14" text-anchor="end" fill="#808080" textLength="37.3" lengthAdjust="spacingAndGlyphs">-1600</text>
<text x="157.8" y="807.5" font-size="14" text-anchor="end" fill="#808080" textLength="37.3" lengthAdjust="spacingAndGlyphs">-1800</text>
<path d="M190.5 831.5v-4M190.5 464.5v4M260.5 831.5v-4M260.5 464.5v4M330.5 831.5v-4M330.5 464.5v4M400.5 831.5v-4M400.5 464.5v4M470.5 831.5v-4M470.5 464.5v4M162.5 502.5h4M512.5 502.5h-4M162.5 539.5h4M512.5 539.5h-4M162.5 577.5h4M512.5 577.5h-4M162.5 614.5h4M512.5 614.5h-4M162.5 652.5h4M512.5 652.5h-4M162.5 689.5h4M512.5 689.5h-4M162.5 727.5h4M512.5 727.5h-4M162.5 764.5h4M512.5 764.5h-4M162.5 802.5h4M512.5 802.5h-4" stroke="#7a7a7a" stroke-width="1" fill="none"/>
<text x="337.2" y="459.6" font-size="16" text-anchor="middle" fill="#000" textLength="236.3" lengthAdjust="spacingAndGlyphs">Potential temperature [ITS-90]</text>
<path d="M699.5 464.5V831.5M761.5 464.5V831.5M823.5 464.5V831.5M885.5 464.5V831.5M947.5 464.5V831.5M654.5 502.5H1004.5M654.5 539.5H1004.5M654.5 577.5H1004.5M654.5 614.5H1004.5M654.5 652.5H1004.5M654.5 689.5H1004.5M654.5 727.5H1004.5M654.5 764.5H1004.5M654.5 802.5H1004.5" stroke="#e9e9e9" stroke-width="1" fill="none"/>
<g clip-path="url(#c2)" fill="none" stroke-width="2.6" stroke-linejoin="round">
<polyline points="936.6,465.8 936.9,467.5 938.4,469.6 938.5,471.3 937.1,473.3 936.1,474.8 940,476.5 934.9,478.6 937.6,480.7 929.3,482.6 931.2,484.3 927.8,486 922.8,487.8 918.5,489.5 910.2,491.7 906.2,493.6 906.5,495.8 905.1,497.4 901.8,499.3 897.4,501.1 900.3,501.7 897.6,506.6 890.9,511.5 886.5,516.3 883.3,521.2 879.2,525.5 873.9,530.3 864.7,535.1 862.1,539.8 856.9,544 847.3,549.3 833.2,553.9 820.5,558.5 796.8,567.5 776.5,577.5 763.9,586.7 746.9,595.7 730.2,605.4 720.5,614.4 716.2,623.7 711.6,633.6 709.8,643 709.7,652.2 710.7,670.7 712.5,689.6 712.6,708.2 709.9,727.1 708,745.8 706.6,765 706.9,783.8 705.2,802.4 704.6,821.3 703.9,839.7" stroke="#3e26a8"/>
<polyline points="946,465.3 947.2,467.7 946.7,469.6 945.9,470.9 948.2,473.3 948,475.1 946.1,476.5 944.4,478.5 942.4,480.2 941.1,482.1 931.9,484.2 925.3,486.1 920.1,487.9 913.7,489.6 911.6,491.7 904.4,493.9 901.8,495.4 895.7,497.5 896.2,499 896.6,501.3 897.5,502.1 890.2,507.1 891.2,511.1 886.8,516.2 883.4,520.8 878.7,525.4 873.9,530.1 867.8,535.2 861.9,539.4 855.5,544.4 848.4,548.6 835.1,554 818.3,558.6 795.9,567.9 779.1,577.1 767.6,586.4 746.8,595.9 729.4,605.4 723.5,614.7 716.5,624.4 712.2,633.3 709.8,643.1 709.6,652.1 710.9,670.7 710.9,689.5 711.3,708.4 709.2,727.6 708.2,746.3 707.2,765 706,783.5 705.2,802.2 704.8,821.1 703.1,840.1" stroke="#3f28ae"/>
<polyline points="922.2,465.4 920.4,466.9 918.4,469 923,471.3 922,472.9 924.5,475.1 925,476.9 923.6,478.5 924.6,480.2 931.5,482.6 928.7,484.5 923.4,485.9 917.1,487.6 910.7,490.1 909.1,491.8 903.9,493.4 903.9,495.2 899.1,497.3 900.4,499.5 895,500.9 895.5,502.2 891.7,506.6 890.7,511.5 884.5,516.1 879.8,520.9 873.8,525.2 870.6,530.5 864.8,535.3 858.5,539.6 852.4,544.2 845.7,549.2 832.5,553.4 819.6,558 795.1,567.9 774.9,577.2 764.3,586.6 745.1,595.6 729.2,605.6 722.1,614.8 716.7,623.8 712.3,633.6 709.9,643.2 709.7,652 708.4,671.3 707.2,690.1 707,708.8 706,727.3 704.5,746 703.9,764.7 702.8,783.8 702.5,802.1 702,821.2 700.4,840" stroke="#402ab3"/>
<polyline points="937,465.2 938.8,467.3 936.5,469.5 938.1,471.2 940.2,472.9 936.2,474.5 935,477 928.5,478.9 923.5,480.7 923.1,482.1 914.7,484.3 915.1,486.3 912.3,488 901.9,490.2 900.9,491.8 900.9,493.2 901.9,495.3 897.4,497.7 895.3,499.6 895.4,501.4 893.8,501.8 891.3,506.6 887.6,511.5 884.6,515.8 882.9,521.1 877.1,525.5 869.2,530.4 861.9,535 859.7,539.5 852.3,544.6 846.8,548.8 830.9,553.7 819.5,558.3 795.2,567.9 778,577.3 766.2,586.5 744.8,595.8 728.9,605.1 721.8,614.3 716.2,624 711.9,633.1 709.7,642.7 709.1,652.6 707.8,671.1 709.5,689.7 710.5,708.9 709.2,727.7 707.4,746.3 705.7,764.7 705.7,783.9 704.3,802.6 703.5,821.3" stroke="#402bb8"/>
<polyline points="942.1,465.4 944.8,467.5 943.8,469.2 943.9,470.7 943.9,472.6 939.4,475.1 939.6,477 938,478.9 936.6,480.3 935.9,482.5 927.6,484.4 919.6,486.2 911.7,488.2 908.8,490.2 906.5,491.5 903,493.8 902.6,495.4 902.3,497.6 897.7,499.5 896.4,501.4 891.6,502.2 890,507.1 888.4,511.1 881.2,515.8 879.4,520.8 873.5,525.7 874.1,530.4 866.7,535.1 860.8,539.3 852.5,544.4 839.6,549 826.7,553.4 811.9,558.3 790.2,568 773.8,576.9 760.9,586.8 743.2,595.7 729.2,605 719.4,614.6 715.7,624.3 712.7,633.7 711,643.1 710.1,652 710.8,670.8 711.5,689.5 712.1,708.3 710,727.2 708.4,746.5 707.4,765 706.2,783.5 705.6,802.7 705.4,821.2 704.1,839.6" stroke="#412dbd"/>
<polyline points="927.7,465.3 926.5,467.3 926.4,469.4 922.4,471.4 919.7,472.7 924.8,474.5 921.7,476.9 924.6,478.7 925.4,480.4 918.6,482.6 921.4,484.6 922.1,486 922.6,487.9 917,489.9 912.1,491.6 908.6,493.6 904.1,495.3 904.5,497.6 901.2,499.2 899.8,501.4 897.5,502.3 894.2,506.7 886.9,511.2 882.9,515.8 880.4,520.7 876.3,525.7 873.1,530.2 868.1,535.1 860.9,539.3 853.6,544.5 846,549.3 831.5,553.3 817.9,558.1 796.6,568 778.1,577 765.3,586.4 742,596.2 726.7,605.6 718.7,615 713.6,623.9 710.1,633.5 710.2,642.5 709.3,652.2 708.9,671.2 710.3,689.6 710.4,708.5 708.2,727.4 707,745.8 706.3,764.7 705.5,783.5 704.9,802.7 703.4,821.3 702.2,840" stroke="#422fc2"/>
<polyline points="915.6,465.7 914.6,467.4 913.4,469.1 915.1,471.3 917.3,473 917.2,474.6 914.6,476.8 915.1,478.9 910.6,480.4 912.4,482.4 913.6,483.9 911.4,485.8 910.6,487.8 908.9,490.2 904.8,491.4 902.9,493.5 902.9,495.6 897.1,497.6 900.9,499.6 898.8,501.2 898.2,501.7 893.2,506.7 891.1,511.7 887.2,516 884.3,520.4 880.7,525.8 873.7,530.5 863.4,535.1 855.8,539.3 849.9,544.4 842.3,548.7 827.9,553.5 813.2,558 790.9,567.5 775,577.4 759.4,586.7 738.4,596 729,605.4 720.4,614.5 715.8,623.8 712.2,633.3 709.8,643.1 709.2,652.2 709.1,670.7 709.9,689.6 708.8,708.5 708.7,727.1 707.8,745.8 707.4,764.8 706.1,783.9 704.9,802.2 703.7,821.1 703.1,840.2" stroke="#4331c7"/>
<polyline points="925.1,465.3 929,467.3 930.7,469.3 928.2,471.2 927.9,473 928.8,475.1 926.6,476.9 925.6,478.2 920.1,480.8 916,482.6 919.6,484.3 916.9,486.3 909.6,488.2 905.9,489.5 902.6,491.8 900.7,493.3 898,495.3 895.4,497.6 896.2,499.3 894.7,501 895.4,501.8 889.8,506.7 888.2,511.1 885.7,516 883.2,521.1 878.1,525.4 875.3,530.2 867.4,535.2 861.3,539.5 855.4,544.1 843.8,548.9 831,553.6 816.2,558.7 795,567.4 776.2,576.9 764.7,586.7 744.5,595.5 727.5,605.2 720.2,614.8 717,623.7 712.1,633.3 711.3,642.7 709.7,652.2 709.5,671.1 710.4,690 710.3,708.2 709.4,727.1 707,746.3 705.8,765.1 705.6,783.5 705.3,802.1 704,820.9" stroke="#4433cb"/>
<polyline points="923.4,465.2 926.1,467 934,469.2 931.2,471.1 938.7,472.7 938.9,474.5 941.9,476.7 940.9,478.2 940,480.4 939.6,482.5 930.2,484.5 932.3,486.2 923.4,488 917.2,489.6 908.8,491.7 904.8,493.4 900.8,495.7 901.4,497.3 902.5,499.3 898.6,501.3 894.7,502 890.7,507.1 889.1,511.5 888.9,516 881.7,521.1 876.2,525.6 873,529.8 869.3,534.7 865.3,539.8 857.9,544.4 851.8,549 838.4,554 823.9,558.2 798,567.9 782,577 766.3,586.3 747.6,595.7 730.6,605 722.2,614.4 717.1,623.8 712.4,633.3 710.2,643.2 709.3,652 709.6,670.9 710.4,689.5 709,708.5 708.5,727 707.9,745.9 707,764.7 705.6,783.6 703.9,802 703.5,821.2 703,839.6" stroke="#4435d0"/>
<polyline points="927.3,465.7 933.1,467 941.2,469.1 944.7,470.9 944.9,472.9 947.1,474.6 942.1,476.5 940.7,478.8 939.7,480.4 928.9,482.1 925.5,483.9 922.1,486 917.7,488.2 909.2,489.9 906.8,492 901.8,493.8 902.2,495.8 900.7,497 898.8,499.4 901.6,500.9 894.3,501.8 888,506.4 886.4,511.6 889,515.8 883.3,520.9 881.5,525.3 877,530.4 873.6,534.8 867.4,539.3 866.7,544.6 858.5,548.8 851.4,553.6 838.2,558.1 810.5,567.5 788.5,577.1 772.5,586.2 756.8,595.5 735.6,605.4 723.8,614.6 719.4,624.4 712,633.8 711,642.5 709.5,652.3 709.4,670.8 708.2,689.4 707.5,708.7 706,727.2 705,745.9 704.5,764.8 703.5,783.4 702.4,802.5 701.1,821 700.5,840.3" stroke="#4536d5"/>
<polyline points="936.1,465.7 941.5,467.1 949,469.1 947,471.4 947,472.7 945,474.6 940.1,476.6 935.3,478.9 935.9,480.3 935.1,482.4 935.6,484 926,485.8 919.7,487.8 912.3,489.8 909.7,491.9 908.3,493.5 904.1,495.7 902.4,497.7 898.1,498.9 894.8,501.3 894.2,501.9 890,506.6 891.1,511.1 886.6,516.2 889,521.1 886.4,525.4 882.7,530.4 878.4,535.1 872.5,539.5 865,544.1 853.8,548.7 847.8,554 836.6,558.2 810.4,567.9 789.8,577.1 772.2,586.8 761.1,595.8 739.3,605.5 726.1,615 718.2,624.3 713,633.3 712.1,642.7 710.4,652.2 709.5,671.2 710.3,689.9 709.1,708.4 708.7,727.3 707.6,745.9 706.6,765.1 705.5,783.9 703.3,802.3 702.7,821.5" stroke="#4539d9"/>
<polyline points="930.4,465.8 937.2,467.3 947,469 945.6,470.8 944.8,473.3 941,475.1 941.7,476.4 935.4,478.8 931.9,480.6 927.6,482.2 926.1,484.2 916.7,486 908.7,487.9 907.8,489.9 904.5,492 903.5,493.5 901,495.2 897.8,497.7 897.6,499.1 896.9,500.9 896.4,502.3 893.8,506.7 888.8,511.7 885.5,516.5 882,520.6 877.6,525.7 876.2,530.1 869.6,534.8 864.6,539.5 858.1,544.3 852.2,549.2 840.4,553.4 825.4,558.3 800.5,567.5 786.2,576.9 771.6,586.2 752.6,596.2 734.9,605.2 723.9,614.7 717.2,623.8 712.3,633.4 711.6,642.5 710.6,652.3 709.4,670.8 708.9,689.7 708.1,708.2 705.6,727.5 705.6,745.7 703.9,764.5 703.1,783.9 702.2,802.5 701.7,821.1 701.1,840.1" stroke="#463bdc"/>
<polyline points="931.7,465.7 945.9,467.6 952,469 955.7,470.8 950.6,472.6 946.4,474.6 937.4,476.5 930.1,478.3 924.8,480.8 925.6,482 924.8,484.1 913.2,485.8 910.8,488.2 908.7,489.5 907.1,491.7 902.1,493.7 902.4,495.3 898.4,497.2 895.7,499.5 894.8,501.2 896,502.3 893.5,506.4 891.8,511.1 886.9,515.8 883.6,521.1 877.1,525.6 875.6,530.1 870.6,534.9 868.9,539.5 859.6,544.1 849.3,549.1 844.9,553.6 835.6,558.5 806.7,567.7 786.5,577.4 771.5,586.9 755,596.2 734.7,605.2 722.9,615 716.8,624.1 712.1,633.5 710.9,642.5 710.3,652.5 709.1,671.1 710.8,690 710.4,708.2 709.2,727 707.7,745.8 707,765 706.5,783.9 704.7,802.5 704,821.3 703.4,840.2" stroke="#463de0"/>
<polyline points="935.3,465.7 935.2,467.2 941.7,469.4 942.7,471.3 942.2,472.9 942.6,474.9 941.1,476.8 939.2,478.5 934.8,480.4 930.6,482.5 921.3,484.3 911.7,486.3 907.9,487.9 910.7,489.6 902,491.7 902.4,494 897,495.5 893.6,497.5 894.7,499.1 892,501.3 892.1,502.4 888.4,507 889.6,511.3 887,515.9 884,520.9 879.9,525.6 875.8,530 872.3,534.5 866.1,539.9 862.1,544.5 854.6,548.9 849.2,553.4 841.1,558.4 813.8,567.7 792.6,577.3 774.2,586.4 759.1,595.8 738.8,605.4 727,614.9 719.4,623.9 713.5,633.4 711.8,643 709.1,652.3 709.1,670.7 709.1,689.6 709,708.7 707.6,727 706.7,746.4 705.4,765 704.4,783.5 703.2,802.1 702.3,821.4 701.5,839.6" stroke="#4740e3"/>
<polyline points="941.2,465.7 932,467.4 930.4,469.2 933.3,470.9 942.3,473 946.6,475.2 946.1,476.9 940.1,478.3 939.5,480.2 932.8,482.7 931.2,484 920.7,486.4 921.5,487.8 915.7,489.6 914.1,492.1 907.2,493.7 901.4,495.8 901.3,497.7 898,498.9 896.7,500.9 900,501.8 895.9,506.6 893.6,511.2 887.5,515.9 883.2,520.7 880,525.2 879.4,530.1 877.1,535.1 872.9,539.7 865.9,544 859.1,548.8 854.3,553.6 845.6,558.7 819.6,567.7 795.3,577.1 776.5,586.3 763.4,595.6 738.8,605.3 726,614.6 718.3,624.3 712.8,633.6 711.5,642.8 709.4,651.9 708.6,671.3 710.5,689.6 709.3,708.5 708.1,727.3 707.3,746.1 705.5,764.9 705.8,783.9 704.7,802.2 703.7,821.5 703.3,839.9" stroke="#4742e6"/>
<polyline points="952.3,465.5 936.8,467.1 936.1,469.3 942.5,471.4 941.7,472.7 946.5,475.1 939.2,476.4 935.3,478.8 930.4,480.4 930.4,482.3 918,484.1 918.2,486.4 911.8,488 915.3,489.9 915.9,491.7 910.1,493.6 902.4,495.3 904,497.2 904.3,499.5 899.4,501.1 895.9,502 892.9,506.9 886.9,511.8 886.1,515.9 881.9,521.1 878.1,525.8 876.9,530 874.4,534.6 868,539.9 860.3,544.1 853.1,548.6 847.8,553.4 836,558.2 809,567.4 787.4,577 773.1,586.6 754.7,596.1 736.4,605.6 725.9,615 717.2,624.4 712.2,633.4 710.8,643 709.4,652.3 710.7,670.6 710.5,689.5 708.3,708.3 707.3,727.1 706.6,745.9 705.6,764.7 704.4,783.4 703.4,802.2 701.9,821 700.9,840" stroke="#4744e9"/>
<polyline points="958,465.8 942.7,467.7 935.9,469.2 943.5,471 946.2,472.9 945.6,475.1 947.5,477.1 937.9,478.3 937.6,480.7 936.3,482.6 930.8,484.1 925.4,486 922.7,487.6 917.9,489.7 914.4,491.8 909.9,493.6 904.7,495.6 904.4,497.6 906.2,499.1 901.5,500.9 901.2,501.8 893,506.7 890.9,511.2 889.5,516.2 888.6,520.5 882.6,525.6 881.7,529.9 876,535.1 868.8,539.8 861.5,544.4 852,549.3 846.5,553.6 837,558.3 809,567.5 788.5,577.2 772.4,586.5 756.5,596.3 737.3,605.4 725.9,614.3 719.3,623.8 712.6,633.6 710.8,643.1 710.2,652.3 708.9,671.3 709.9,690 710.2,708.7 708.3,727.4 706.1,746 705.6,764.5 704.9,783.7 705.5,802.5 703,821.4 701.8,840" stroke="#4747eb"/>
<polyline points="947.6,465.5 938.1,467 931.2,469.5 938.8,471.2 945.9,472.7 949.3,475.1 948.5,476.7 946.4,478.4 944.3,480.7 939.9,482.2 928.5,484.5 924.4,486.2 915.9,487.8 910.8,489.7 908,491.5 905,493.3 901.8,495.3 903.5,497.2 897.2,499.1 894.7,501 890.7,501.9 893,507 888.2,511.5 886.1,515.9 883.1,520.9 883,525.3 875.9,530.4 874.8,534.9 871.2,539.9 867.9,544 862.5,548.7 854.2,553.8 848.8,558.2 820.4,567.4 799.1,577.2 776.8,586.8 762.5,595.9 742.7,605.3 726.9,614.3 719.1,624.3 712.8,633.8 709.9,642.5 709.4,652 709.2,670.8 708.7,690 708.8,708.9 708.6,727.6 707.4,745.9 705.8,764.7 704.3,783.8 703.5,802.2 703,821.5 702.1,839.9" stroke="#4849ed"/>
<polyline points="936.3,465.6 920.1,467.3 929.5,469 941.9,470.9 942.2,473.2 940.8,475 936.8,476.6 935.9,478.3 926.7,480.2 925.5,482.2 924.9,483.9 916.4,486 909.8,487.6 911.1,490.2 904,492.1 901.4,493.5 902.7,495.4 904.1,497.2 900,498.9 893.8,501.3 891.1,501.8 889,507.1 889.5,511.4 888.6,516 885.9,520.8 880.7,525.7 875.3,530.3 873.2,534.7 868,539.9 859.3,544.3 854.2,548.7 845,553.9 834.5,558 807.4,567.6 788.4,577.1 769.8,586.2 753.8,595.8 736,605.6 726.8,614.8 718.9,623.9 714.1,633.1 710.5,643 708,652.1 708.4,670.7 710,690.1 708.7,708.3 708,727.6 707.3,746.2 706.2,764.5 705.2,783.5 704.8,802.6 703.6,821.3" stroke="#484cef"/>
<polyline points="951.7,465.2 928,467.2 934.2,469.4 939.2,471.2 944.3,473.1 940.3,475.2 939,476.5 938.3,478.6 932.1,480.1 928.3,482.6 927.2,484.5 923.2,486.3 916.3,487.7 910.5,490 905.8,491.7 905.8,493.6 905.6,495.4 906.9,497 898.8,499 894.6,500.8 895.9,502.2 892.4,507 892.1,511.2 887.7,516.4 887.1,520.6 881.8,525.2 875.1,530.1 871.2,535.1 870.3,539.3 865.2,544 858.8,549.2 851.1,553.4 838.1,558.6 808.6,568 790.5,577.2 771.2,586.4 755.4,596 736.5,605.5 724.6,614.4 717.6,623.7 712.1,633.4 710.3,642.9 710,652.6 708.5,671.3 708.7,689.9 708.5,708.8 707.6,727.2 706.7,746.4 704.9,765.1 704.2,783.5 703.8,802.5 701.9,821.1 702.5,839.8" stroke="#484ef1"/>
<polyline points="944.5,465.2 928.9,467.2 929.7,469.3 938.7,471.3 940.9,473 936.7,474.9 936.5,476.8 929.1,478.9 928.5,480.5 923.1,482 920.4,484.4 916.8,485.9 918,488.3 914.3,489.5 908.4,491.9 900.5,493.6 898.9,495.8 900.7,497.1 896.8,499.4 897.5,500.9 892.4,502.2 892.7,506.6 889.4,511.3 888.5,516.2 887.4,520.9 882.4,525.3 877.5,530.3 872.9,534.9 869.6,539.5 865.1,544 859.8,549.3 848.7,553.9 841.8,558.1 812.2,568.1 791.3,577.5 775,586.5 762.6,595.9 742.4,605.5 729,614.8 719.9,624 713.4,633.2 711.8,642.9 710,652.6 708.1,671.3 707.2,689.6 707.1,708.2 706,727.6 705.7,746.1 703.1,764.5 703,783.5 702.6,802.6 701.3,820.8 701,839.9" stroke="#4851f3"/>
<polyline points="937,465.2 929,467.2 942,468.8 943.4,471 938.1,472.6 931.2,475 923.7,476.6 918.5,478.7 915.4,480.6 905.7,482.4 909.4,483.9 906.6,485.9 902,488.3 898.7,489.9 902.9,491.4 906.1,493.8 901,495.6 897.4,497.7 899.3,499 894.9,500.8 894.6,502 894.8,506.5 891.7,511.8 890.9,516.2 885.7,521.2 881.7,525.6 874.1,530.4 874.8,535.2 866.6,539.9 863.8,544.6 855.7,548.7 850.3,553.3 839,558.1 810.3,567.8 790.6,577.3 773.8,586.4 757.9,595.7 736.4,605.5 724.5,614.9 717.8,624.1 714.2,633.8 712.3,642.6 709.7,652.4 708.5,670.7 709.3,689.7 708.9,708.2 708.3,727.1 706.2,746.2 705.9,765.1 704.2,783.5 703.7,802.7 702.5,821.1" stroke="#4853f5"/>
<polyline points="917.6,465.1 911.8,467.3 932.8,469.2 943.4,471.2 940.3,473.1 939.8,475.2 937.8,476.6 930.6,478.8 926,480.3 924.4,482.1 917.3,484.2 913.4,485.7 910.9,488.1 905.7,490.2 903.6,491.6 902,493.3 902.1,495.5 902.9,497.6 901.7,499.4 900.8,501.2 899,502.3 898.8,506.7 893.9,511.6 889.9,515.9 886.4,520.8 882.1,525.9 876.4,530.1 871.5,534.6 868.1,539.6 863.2,544.2 856.6,549 853.1,553.6 840.8,558.4 813.7,567.9 794.5,577.3 773.9,586.8 757.3,595.7 736.9,605.2 727,614.5 719.8,624.2 713.5,633.2 711.2,643 709.5,651.9 709.2,670.9 709.4,689.7 709.7,708.7 707,727.6 705.3,745.8 704.6,765 703.6,783.9 702.7,802.7 702.2,821 701.5,840" stroke="#4756f6"/>
<polyline points="921.3,465.8 924.4,467 931.2,469.3 935.9,470.9 940.6,472.9 935.7,475.2 934.2,476.7 928.3,478.9 926.2,480.1 920.9,482.5 915,484.1 908.6,486.2 909.9,487.9 909.1,490.1 902,491.5 904.6,493.9 903.4,495.5 897,497.5 896.5,499 894.3,501.2 893.5,502.1 890.6,506.5 892.1,511.5 888.3,516.3 886.4,520.9 880.4,525.4 874.1,530.5 870.9,534.7 867,539.4 859.8,544.1 851.6,549.2 844.7,553.3 832.4,558.3 805.1,567.8 787.7,577 774.7,586.3 756.1,595.7 734.1,605.2 723.1,614.6 716.8,624.3 711.4,633.3 711.5,642.8 709.6,652.6 707.9,670.9 707.7,689.9 707.5,708.8 705.7,727 704,745.9 703.9,765.2 702.4,783.7 701.6,802.1 701.3,820.9" stroke="#4758f8"/>
<polyline points="908.3,465.3 916,467.1 930.9,469.3 937.3,471.4 939.8,472.6 937.2,475.1 934.4,476.7 930.5,478.9 931.2,480.2 920.5,482.3 912.7,484.6 907.1,486.1 902.3,487.6 905.2,490.1 900.2,491.6 896.6,493.9 898.1,495.4 897.4,497.4 897,499.1 890.2,501.2 889.9,502.1 889.2,506.5 888.5,511.2 888.3,516 882,520.9 880.7,525.5 877.6,530.5 870.5,535.2 866.1,539.4 857.2,544 850.7,548.9 840.2,553.9 829.7,558.3 802.9,567.8 783.1,577.4 768.1,586.4 749.4,595.6 731.6,605.1 723.3,614.7 718.5,623.8 712.3,633.3 710.5,643.1 710.2,652.6 709.7,671.2 708,689.9 707.4,708.4 706.1,727.5 704.3,746.3 704.6,764.6 702.4,783.5 701.8,802.4 701.5,821.4 700.7,839.8" stroke="#475bf9"/>
<polyline points="901.9,465.5 916.2,467.1 934.1,469.2 940.4,470.9 941.5,472.6 941.4,474.6 934.7,476.3 927.7,478.3 922.9,480.4 925.8,482.2 915.7,484.4 915.2,485.7 911.9,487.8 905,489.6 905.5,491.5 902,493.8 897.1,495.4 897.6,497.4 896.9,499.4 895.8,500.8 892.5,501.8 891.1,506.7 885.7,511.3 887.4,515.9 881.5,521.1 876,525.3 871.8,530.5 868.8,535.1 864.2,539.5 856.8,543.9 850.6,548.7 840.9,553.7 830.4,558.7 803.5,567.8 783.4,577.3 768.2,586.5 750.5,596.1 733.8,605 723.8,614.8 716.7,623.9 712.1,633.7 711.4,642.5 710.3,652 708.7,671.3 707.3,689.5 706.9,708.6 705.5,727.6 704.5,746.2 703,764.8 703,783.6 701.6,802.7 699.9,820.8 700.2,840.3" stroke="#465dfa"/>
<polyline points="888.8,465.1 929.8,467.4 946,469.5 948.3,470.9 942.5,472.6 938.7,475 935.7,476.5 929,478.7 924.2,480.8 917.1,482.4 914.9,484.2 911.3,486.4 907,488 904.8,490.2 904,491.6 901.8,493.9 899,495.7 903.3,497.4 898.6,499.2 899.1,501.2 897.7,502.4 893.9,506.4 889.2,511.5 886.9,516.4 882.9,520.6 881.1,525.8 875.6,530.5 870.8,535 865.1,539.9 859.1,544 854.9,548.6 848.4,553.7 834.8,558.4 809.6,568 789.5,577.2 772.9,586.2 753.5,595.6 733.4,605.2 724.8,614.6 716.7,624.4 711.8,633.7 710.4,643.2 709.9,652.4 708.5,670.8 709.7,689.5 707.8,708.5 705.1,727 705.4,746.1 704.1,765.2 704.1,783.9 702.6,802.6 701.7,820.8" stroke="#4660fb"/>
<polyline points="886.7,465.3 915.3,467.2 938.6,468.9 950.9,471.4 950.3,473.3 949.2,474.6 944.6,476.5 938.1,478.9 929.5,480.2 929,482.4 921,484.5 921.2,485.7 914,487.8 909,489.6 904.2,491.4 907.6,493.7 907.2,495.1 902.7,497.2 898.4,499.5 898.1,501.3 894.8,502.1 894.3,506.9 891,511.7 886.2,515.9 882.6,520.7 880,525.8 877.1,530.5 872.7,535.2 864.3,539.5 861.1,544.3 855.3,549 845.8,553.9 838.2,558.3 810.9,567.8 788.7,576.8 773.5,586.2 754.1,596.1 737.2,605 725,615 718.6,623.8 713.1,633.5 710.5,642.7 709.2,652.3 707.7,670.7 707.2,690 707.9,708.4 708.2,727.1 705.9,746.4 705.1,764.7 703.6,783.3 703.2,802.2 702,821.4 701.4,840.2" stroke="#4562fc"/>
<polyline points="889.1,465.6 922.7,467.7 936.7,468.8 945.3,470.8 940.3,472.7 942,475.1 936.9,476.9 935.4,478.7 931.8,480.7 927.5,482.2 921.9,483.9 916.3,486.1 913.1,488.3 910.6,489.7 905.3,491.8 903.7,493.4 903.3,495.3 900,497 898.8,499.5 893.7,500.8 891.9,502.2 886.2,506.8 888.7,511.1 889.4,515.9 887.7,520.7 883,525.8 879.9,530.4 873.8,534.8 868.9,539.9 865.1,544.5 856.1,549.2 850.1,553.4 846.5,558.1 815.7,567.6 796,576.8 777.8,586.8 765.4,595.8 740.8,605.6 728.1,614.7 719.7,624.1 713.4,633.1 710.8,642.7 710.8,652.3 709.7,671.1 709.5,689.6 709.2,708.2 707.4,727.2 707,746.3 705.6,765 706,783.8 704.3,802.6 702.9,821.2" stroke="#4465fd"/>
<polyline points="875.3,465.6 906.6,467.5 939.7,469.4 935.6,471.3 928.6,473.2 925.7,474.5 925.9,476.7 922.1,478.7 923.1,480.1 919.9,482.2 912.7,484.1 912.8,486.4 909.2,487.8 907.2,489.5 902,491.7 902.6,493.8 898.7,495.2 894.6,497.2 895.5,499.4 896.1,501 891.1,501.9 887.1,507.1 887.8,511.3 889,516.1 884,520.5 880.8,525.4 877.6,530.1 872.7,535.1 870,539.9 866.2,543.9 854.4,549.3 850.1,553.4 834.9,558.6 804.7,568 789,577.3 771.1,586.7 755.4,595.9 736.4,605.2 724.5,614.3 716.7,624.1 713.1,633.7 711.4,642.8 709.4,651.8 710.1,671.1 711.9,689.5 712.9,708.9 711.2,727.1 709.4,746.2 709,765 707.4,783.9 706.8,802.6 705.7,821.5 705.8,839.6" stroke="#4367fd"/>
<polyline points="871.1,465.2 928.9,467.6 941.9,468.9 934.8,471.1 931,472.8 929.4,474.6 925,476.5 921.3,478.5 917.8,480.6 914.7,482.2 912.4,484.3 904.4,486.2 906.5,488.1 905.4,490 904.1,491.8 900.6,493.8 897.1,495.2 896.1,497.1 892.2,499.5 891.6,501.3 892.6,501.7 890,506.6 891.3,511.1 888.4,516.1 885.8,520.8 881,525.6 878.2,530.3 874.5,534.8 871,539.5 864.8,544 857.8,548.7 849.7,553.9 840.2,558 811.1,567.4 789,577.4 772.5,586.5 758.7,596.3 738.5,605.2 724.8,614.8 717.6,624.1 712.9,633.1 710.8,642.8 710.3,652.2 709.9,670.7 711.5,689.9 711.7,708.2 709.9,727.1 708.6,746.2 708.1,764.6 706.9,783.4 706.5,802.1 705.3,821.2 704.3,839.7" stroke="#426afe"/>
<polyline points="874.5,465.7 901.2,467.3 917.8,469.4 933.4,471 935.5,473.3 930.9,474.8 926,476.6 923.2,478.3 924.2,480.7 915.6,482.6 912.3,484.1 907,486.4 905.8,487.8 905,489.7 897.7,492 900.6,493.4 895.1,495.6 896.2,497.5 890.7,499.1 888.9,500.8 890.6,502.4 891.1,506.8 892.8,511.6 887.5,516 885.4,520.5 881.5,525.3 876.6,530 872.7,534.6 868.6,539.7 864,544.2 857.9,549.1 849.5,553.4 840.2,558.3 817.6,567.4 793.2,577.5 778,586.6 763.1,595.8 739.3,605.3 727,614.9 718.4,624.3 711.9,633.7 711.1,642.8 709.4,652.2 709.9,671 711,689.7 710.2,708.6 709.1,727.3 708.9,746.2 706.9,765.1 705.2,783.9 704.9,802.5 703.8,821.3 703.4,839.9" stroke="#406dfe"/>
<polyline points="864.8,465.3 892.9,467.6 910.1,469.5 920.7,470.8 928.4,472.6 929,474.9 925.6,476.8 926.6,478.8 922.1,480.4 914.1,482.1 910.7,484.2 908.3,486.4 903,487.9 906.1,489.8 904.7,491.7 904.5,493.6 901.8,495.7 897.3,497.4 896.2,499 891.1,501 894.3,501.7 894.3,506.6 893.2,511.8 890.9,516 887,520.8 885.3,525.3 876.3,530.2 870.3,535.1 870.3,540 865.2,544.3 858.3,549.3 852.3,553.5 846,558.6 817.2,567.4 795,577 775.1,586.4 763.7,595.9 741.1,605.4 727.5,615 720,624.3 715.1,633.6 711.7,642.6 710.7,652 710.7,670.9 711.6,689.6 711,708.5 710.5,727.4 708.8,745.9 707.2,764.6 707.5,783.9 705.7,802 704.7,821.2" stroke="#3e6fff"/>
<polyline points="858,465.5 885.7,467.1 914.6,469.5 928.4,471.4 930.9,473.1 927.3,474.8 920,476.4 925.6,478.4 924.2,480.2 920.4,482.1 916.8,484.4 913.8,485.8 914.4,487.7 905.2,489.9 904.9,491.7 903.8,493.6 905.2,495.5 900,497 899.3,499.3 896.4,500.8 889.8,502.1 886.9,506.5 887.5,511.7 884,516 882.6,521.1 882.7,525.1 876.8,530.5 873.9,534.8 871.8,540 862.8,544.6 857.3,548.8 848.8,553.4 837.9,558.2 808.6,567.6 787.8,577 771.1,586.9 753.9,596 735.7,605.5 726,614.7 717.3,624.1 713.4,633.2 711.1,642.9 709.5,652.5 709.1,670.9 710.6,690 711,708.5 708.9,727.4 708.4,745.7 706.7,765 705.3,783.8 704.6,802.6 703.8,821.5 703.4,839.9" stroke="#3c72ff"/>
<polyline points="856.7,465.3 882.6,467.6 893.5,468.9 905.8,470.8 921.2,473 924.7,475 920.6,476.7 919.9,478.6 919,480.4 912.6,482.2 912.8,484.4 911.2,486.4 908.6,487.8 907.6,490.2 905.7,491.8 898.3,493.5 895.9,495.7 897,497.7 894,499.3 893.1,501.5 894.1,502.4 893.1,506.7 891.9,511.1 890.1,516.1 886.8,520.9 885.7,525.2 880.9,529.9 876.7,534.6 872.7,539.3 866,544.6 861,549.3 853.6,553.4 845.5,558.5 816.1,567.7 792,576.9 773.9,586.8 759.3,596 739.6,605.5 727.1,614.5 719.8,624.1 713.1,633.7 710.2,643 709.4,652.5 709.2,671.1 709.2,689.4 708.2,708.3 708,727.5 707,746.2 705.5,765.1 704.8,783.7 703.4,802.5 702.9,821.5 702.5,839.6" stroke="#3975fe"/>
<polyline points="850,465.2 899.4,467.6 918.2,469 932.4,471 930.3,473.2 924.9,475 924.9,476.7 920.4,478.3 918.9,480.7 918.2,482 914.6,484.5 910.5,486.3 907.4,488.2 902.7,489.6 903.5,492 899.7,493.5 900.6,495.8 897.7,497.5 895,499.6 893.8,501.4 893.4,501.7 887.7,506.7 888.3,511.5 886.2,516.5 886.3,521.1 879.9,525.6 878.2,530.5 872,535.2 867.7,539.8 862.4,544 857.2,548.6 849.1,553.6 840.1,558.3 810.7,567.8 792.2,577 774.7,586.4 759.3,595.9 740.1,604.9 728.8,614.6 721.1,624 713.9,633.1 710.8,642.5 710.5,651.9 710.7,670.7 710.6,689.6 709.8,708.6 709,727.5 707.3,746.2 706.2,764.9 705.2,783.6 704.4,802.7 703.3,821.5" stroke="#3677fe"/>
<polyline points="863.3,465.7 878.4,467 897.9,469.5 908.4,471.1 913.9,472.6 920.7,474.9 916.6,476.6 915.4,478.6 921.1,480.1 920.9,482.6 917.2,484.5 909.7,486.3 910,487.7 905.7,489.5 901.7,491.9 901.9,493.8 900.6,495.4 897.3,497.6 895.2,499.3 894.1,501.2 890,502 890,506.7 889.6,511.8 888.4,515.8 884.3,520.6 879.3,525.6 876.6,529.9 872.6,534.7 869,539.8 868.5,544.2 859.7,549.2 852.1,553.9 844.6,558.4 814,567.7 794.2,577 772.5,586.7 759.2,595.7 739.7,605.5 728.2,614.5 721,623.7 714.1,633.4 710.9,642.8 707.8,652.3 708.6,670.8 711.3,689.8 710.7,708.5 709.9,727.3 708.9,746 707.5,765.1 706.3,783.4 705.4,802.1 704.6,821.2 703.2,839.6" stroke="#347afd"/>
<polyline points="856.4,465.6 873.2,467.1 890.5,469 907.6,471.4 913,472.7 917.8,474.9 918.4,477 917.8,478.5 917,480.6 915.5,482.5 916.4,484.4 912.7,486.4 909.3,488 907.6,490 901.9,491.6 903.8,493.7 903.4,495.8 896.7,497.6 896.1,499.1 894.5,501.2 894.2,501.8 890,506.8 892,511.5 890.3,516.5 886.1,520.5 881.7,525.7 877.7,530.2 875.3,534.7 868.1,539.7 860.3,544.6 857.7,549.2 853.2,553.4 846.4,558.7 821.2,567.7 799.4,576.9 778.3,586.6 763.2,596 741.3,605.6 729,614.5 720.1,623.8 713.9,633.1 710.5,642.8 710.1,652.2 708.7,671.1 706.8,689.9 707.2,708.2 705.2,727 703.9,746 703.4,764.8 701.5,783.4 701.1,802.1 700.2,821.3 699,840.1" stroke="#317dfc"/>
<polyline points="867.7,465.8 889.6,467.5 907.1,469.5 917.9,471.4 922.7,472.7 925.9,474.9 923.6,476.4 923,478.7 915.8,480.8 920.4,482.4 915.7,483.9 912.6,486.2 909.4,488.3 901.1,490.1 904,492.1 904.7,493.3 897.5,495.8 899.5,497.3 896.9,499 897.4,501 893.7,501.7 892.7,506.6 889.6,511.5 886.6,515.8 887.4,520.6 883.4,525.3 881.9,530.4 877.9,535.1 874.9,539.6 867.4,544.6 861.8,548.7 855.6,554 850.3,558.6 828.4,567.5 799.5,577 778.3,586.4 765.3,595.8 744.2,605.6 728.9,614.5 719.5,623.9 715.4,633.2 712,642.9 709.6,652.3 708.5,671.2 708.7,690 708.1,708.9 705.7,727.3 704.6,745.9 703.6,765 701.8,783.4 701.3,802.2 701.4,821.4" stroke="#307ffb"/>
<polyline points="875.7,465.3 896.5,467.1 912.8,469.6 921,470.8 929.7,472.6 928.3,474.9 924.7,476.8 924,478.6 919,480.5 917.1,482.1 918,484 912,486.2 907.9,488.2 906.8,489.5 906.1,491.6 906.4,493.5 898.3,495.3 897.9,497.5 897.6,499 895.1,501.2 893.1,502.1 892.9,506.5 891.8,511.3 885.6,516.2 882.9,520.9 882.3,525.2 879.8,530 878.1,534.8 873.9,539.6 867.7,544 861.2,549 855.6,553.6 852.8,558.6 825.4,568.1 800.7,577.2 778.9,586.6 766.2,595.6 745,605.2 729.9,614.4 721.1,623.7 712.8,633.2 708.4,642.9 708.5,652.6 708.8,671.3 707.9,689.7 706.9,708.6 706.2,727.4 706.2,746.3 703.8,764.7 703.4,783.3 703,802.4 701.3,820.9 700.5,840.3" stroke="#2f82fa"/>
<polyline points="861.8,465.3 881.1,467.3 900.6,469.5 911.3,471.2 910.5,472.6 924.6,474.7 932.9,476.9 926.5,478.7 918.2,480.3 921.5,482.4 916,484.3 915.6,486 908.3,488.3 906.7,490 906.8,492 903.8,493.9 903.3,495.7 896.4,497.3 895.5,499.6 895.9,501.3 894.2,502.2 894.6,506.8 889.1,511.2 886.4,516.1 881.6,520.5 877.6,525.8 875.6,530.1 873.1,534.5 868.1,539.4 863.6,544.1 856.6,548.7 848.9,553.4 838.5,558.1 807.9,567.8 788.9,576.9 772.5,586.7 757.4,595.6 737.4,605.6 727,614.6 719.8,623.9 714.2,633.5 711.1,643.1 710.6,652 709.6,670.8 708.4,689.5 708.3,708.8 707.1,727.4 705.5,746.3 703.9,765 703.1,783.3 701.7,802.6 700.9,821.5 700.3,839.7" stroke="#2e84f8"/>
<polyline points="864.7,465.1 891,467.2 916,469.2 929.5,470.9 927.6,473.2 928.2,475 924.5,476.8 921.7,478.7 918.8,480.3 913,482.5 910.7,484.3 904.2,486.1 906.2,488 906.1,489.5 904.7,491.6 903.6,493.9 901,495.8 903.2,497.1 899.1,499.5 893.5,501.3 893.3,502 890.9,507 890.3,511.6 887.9,516.1 883.6,520.8 880.1,525.7 873.1,530.2 871.4,534.6 867.1,539.6 859.8,544.6 853.4,548.8 846.3,553.5 835.4,558.6 805.7,568.1 785.9,577.5 771.9,586.2 756.8,595.6 734.5,605.6 724.8,614.8 717.1,623.7 711.2,633.7 709.9,642.9 709.6,652 708.7,670.8 709.5,689.7 709.9,708.4 708.2,727 707.3,745.9 706.3,765.2 706.4,783.5 704.9,802.1 704.5,821.5 703.5,839.6" stroke="#2e87f7"/>
<polyline points="861.8,465.1 888.8,467.2 911.8,469.2 925.1,471.2 924.2,473.1 925.2,474.5 918.6,476.9 920,478.7 917,480.4 915.3,482.3 913.9,484.2 912.1,486.1 910,488.2 911.4,489.5 909.4,492 904.9,493.6 901,495.8 897.4,497.2 899.8,499.1 897.8,501 894.6,502.1 891.9,507.1 890.6,511.1 887,516.3 887,520.8 882.7,525.3 875.5,530.3 872.8,535.1 866,539.5 865.8,544.2 859,548.7 853.1,553.7 843.1,558.1 818.8,568 794.6,577 772.9,586.8 758.5,595.6 738.4,604.9 725.6,614.3 717.9,623.9 712.2,633.2 710.2,642.9 709.7,652.2 709.5,670.9 710.2,690 709,708.9 706.2,727.4 705.7,746 705.7,764.9 703.9,783.7 703.5,802.4 702.8,821.3" stroke="#2d89f5"/>
<polyline points="854.2,465.2 874.4,467 892.3,468.8 904.4,471 916.9,472.6 920.7,475 920.5,476.6 920,478.6 917.1,480.8 916.8,482.5 914.3,484.4 910.3,485.9 909.1,487.9 904.1,489.7 902.5,491.6 898,493.8 903,495.6 900.9,497.3 899.2,499.3 898,501.4 894.7,502 889.5,506.4 889.9,511.3 886.8,516.1 888.5,521 881.4,525.3 877.9,530 877,534.6 873.3,539.3 864.5,544.5 856.6,549.1 850.6,553.6 841.5,558.6 814.2,567.7 792.8,577.3 777.5,586.7 760.2,596 739.8,605.4 728.2,614.9 720.4,624 714.4,633.1 712.2,642.6 709.9,652 710.1,671.2 710.7,689.6 710.2,708.8 709.7,727.6 707.8,746 707,764.6 705.7,783.4 704.7,802.8 704.1,821.2 703.3,840.2" stroke="#2d8bf4"/>
<polyline points="856.8,465.2 888.5,467.2 909,469 924,471 920.4,473.3 922.6,474.9 921.5,476.4 922.1,478.4 921.4,480.6 919.7,482.1 919.5,483.8 910.8,486.2 908.7,487.9 903.3,489.9 905.5,491.8 904.8,493.7 904.8,495.5 904.1,497 901.5,499.6 896.9,501.3 891.5,502.3 890.2,506.5 893.9,511.5 891,516.1 888.3,520.5 883,525.5 879.9,530.2 875,535.2 870.8,539.2 868.9,544.4 862.6,549.2 857.3,554 851.5,558.6 827.1,567.4 799.7,576.9 776.8,586.3 763.9,595.6 745.9,605.1 728.5,614.8 719.7,624 715.3,633.1 710.1,642.8 709.2,652.4 709.5,670.9 711,689.9 710.4,708.2 708.5,727.3 706.2,746 705.4,764.7 703.8,783.7 703.6,802.7 702.3,821.2 702.2,839.6" stroke="#2c8ef2"/>
<polyline points="859.2,465.7 883.7,467.4 908.8,469.6 921.5,471.1 918.1,473.3 920,475.1 914.2,476.5 917.3,478.8 916.7,480.3 915.4,482.2 909.8,484.3 903.4,486 908.1,487.6 903.1,489.5 905.5,491.5 904.4,493.9 899.8,495.4 895.3,497.2 891.7,499.6 889.9,501.2 889.9,502.1 889.9,506.8 889,511.3 888.5,516.2 889,520.7 883,525.8 879.5,529.9 877.5,534.6 872.6,539.3 867.9,544 864.3,549.1 858.4,553.4 849.7,558.1 827.1,567.4 801,577.5 781.7,586.4 768.5,596.1 745,605.5 729,614.4 719.3,624 714,633.6 712.8,642.5 710,652.3 709.4,670.8 710.3,689.9 710,708.8 708.1,727.5 707.3,746.3 705.4,764.8 704.8,783.6 703.7,802.6 702.6,821.4 701.9,840.2" stroke="#2c90f0"/>
<polyline points="869.1,465.5 889,467.1 902.9,469.2 914.2,471.3 915,473 918.9,475.1 914.8,476.6 915.1,478.9 916,480.2 913.1,482.5 912.6,484.3 912.3,486.1 906.5,487.6 898.5,489.7 900.5,491.6 900.7,493.8 901.1,495.5 899.4,497.2 898.4,499 895.8,500.8 893.3,502 888.9,506.5 886.1,511.3 888.2,516.2 885.5,520.6 881,525.2 878.3,530.4 872.3,535.2 871.1,539.6 863.5,544.5 857.3,548.9 853.3,553.7 850,558 822.1,567.8 796.8,577.4 776.5,586.5 764.4,595.9 743.5,605.3 726.2,614.7 718.1,624.2 712.4,633.7 710.9,642.8 708.8,652.3 710.1,671.3 710.4,690 710.4,708.2 710,727.6 707.2,746.2 707.7,765.1 705.7,783.9 704,802 704.1,821.4 703.1,840" stroke="#2b92ee"/>
<polyline points="877.8,465.2 897.4,467.4 906.8,469.3 908.9,470.8 912.2,473.1 913.3,475.1 911.1,476.5 919.9,478.4 913.5,480.8 911.3,482.2 912.3,484.3 911.7,486 910.8,488.1 907.6,489.8 908.7,491.4 902.5,493.8 897.5,495.6 896.9,497.3 896.1,499.1 895.2,501 898,501.7 891.8,506.5 890.1,511.3 887.1,516.2 883.8,521 881.6,525.8 878.3,530.2 878.6,534.7 874.4,539.6 868.5,544.3 861.2,548.8 854.9,553.4 851.5,558.1 827.3,567.8 804.3,576.8 781.2,586.1 764.9,595.9 747,605.5 730.2,614.7 719.9,624 713.5,633.6 712.3,642.9 710.2,652.3 709.5,671 709.8,690 709.8,708.8 707.4,727.7 706.3,746 705.1,764.9 703.9,783.5 703,802.6 701.7,821.5" stroke="#2994ed"/>
<polyline points="864.2,465.6 891.6,467.1 909.1,469.6 914.3,470.8 913.1,472.8 916,474.7 915.2,476.5 914.6,478.2 915,480.4 910.3,482.6 911.2,484.1 908.4,485.9 907.9,488.1 908.2,489.9 903.2,491.7 900.8,493.8 898.3,495.5 900.5,497.6 895,499.6 892.9,501.3 893.8,501.7 890.9,506.9 887.4,511.4 885.6,516.1 885.2,521.2 882.7,525.8 880.7,529.9 882.8,534.8 877.3,539.3 868.9,544.4 864.1,548.7 852.5,554 847.1,558.3 822.7,567.5 798.9,577.2 777.5,586.6 762.3,596.3 741.4,605.4 728.1,614.7 719.6,624 714,633.4 710.1,642.5 709.3,652 708.4,671.1 709.2,689.5 710.5,708.8 708.1,727.2 707.3,746.4 706.3,764.6 704.2,783.7 703.3,802.2 702.5,820.9" stroke="#2797eb"/>
<polyline points="862.1,465.1 891.1,467.5 903.2,469.1 912.7,470.7 916,472.7 918.1,474.8 916,477 917,478.4 917.4,480.5 916.8,482.1 911.2,484.5 914,486 906.2,487.9 905.3,490 906,491.7 902.9,493.4 903.1,495.4 902.9,497.6 899,498.9 895.9,501.2 898,501.8 896.6,506.6 893.7,511.3 886.8,516.4 884.6,521.2 882.3,525.7 878.4,530.3 873.5,534.8 867.1,540 860.3,544.6 855.2,548.8 849.7,553.7 839.5,558.3 810.7,567.4 790.2,577.3 772.8,586.8 758.1,595.7 739,605.1 725.4,615 717.8,624.3 712.7,633.1 709.7,643.1 708.5,652 708.7,671.3 708.8,689.6 708.2,708.7 705.8,727 705,745.9 704,765 703.5,783.7 701.5,802.7 701.3,821.4 700.7,840" stroke="#2699ea"/>
<polyline points="869.3,465.5 895.3,467.7 911,469.4 917.2,471.2 918.8,473.2 923.6,475 917,476.7 913.9,478.2 916.3,480.6 913.2,482.2 914.9,484 915.4,486.2 911.2,487.7 907.9,490 910.8,491.8 906.2,493.6 903.8,495.2 901.4,497.5 900.4,499.5 898.3,500.8 898.3,502.3 896.6,506.4 891.9,511.7 885.8,516 883.8,520.9 885.8,525.4 880.5,530.3 875,534.5 874.2,539.7 870.5,544.4 866.6,548.9 858.2,553.6 855.3,558.3 832.6,568 807.1,577.3 783.6,586.3 767.4,596.3 751.8,605.2 732.5,614.4 723.1,623.8 716.6,633.3 712.2,642.6 710.9,652.5 709.5,670.8 708.3,689.6 707,708.6 705.5,727.1 705.6,745.9 703.9,764.5 702.7,783.7 701.3,802.1 701.3,821.5" stroke="#259be8"/>
<polyline points="879.3,465.1 895.4,467.1 902.9,469.4 913.3,471 915.1,473 917.8,475.2 916.4,477 916.6,478.6 915.7,480.6 916.1,482.2 911.6,484 905.1,485.8 906.6,488 911.2,489.6 906.5,491.7 901,493.3 904.5,495.6 903.6,497.2 898.3,499.1 898.2,501.3 898,501.8 891.3,506.4 890.7,511.3 891.7,516 888.4,521.1 885.9,525.3 876,530 872.8,535 872.5,539.6 867.1,544 858.8,549 853.6,553.9 844.2,558.7 821.2,567.6 796.5,577.1 777.3,586.4 763.6,596.1 744.5,605.4 729.9,614.9 721,624.3 714,633.8 712.2,643.1 710.5,652 709.5,670.7 708.9,689.5 708.2,708.2 707.6,727.6 707,746.3 705.4,764.6 704.2,783.9 702.7,802.3 702,821.3 701.2,839.9" stroke="#259de7"/>
<polyline points="853.1,465.8 886.6,467.6 904.3,469 908.5,470.7 915.7,473 912.5,474.6 911.5,476.7 907.7,478.6 910.2,480.6 916.5,482 917.6,483.9 914.7,486.3 909.4,488.2 907.4,490.1 905.2,492 904.8,493.4 905.4,495.8 903.9,497.5 898.8,499.1 900.1,501 894.6,502.4 888.4,506.6 885.1,511.6 886.9,516.3 883.9,520.9 884.6,525.8 880.7,530 877,535 874.5,539.3 871.9,544.1 864,549 857.3,553.4 849.3,558.7 825.3,567.5 802.4,576.8 780.4,586.3 766.6,596.3 748.9,605.3 732.3,614.7 721.2,624.1 715.3,633.3 711,642.7 709.6,651.9 710.3,671.1 711.1,690.1 710.9,708.9 709.1,727.2 707.7,746.3 705.7,764.6 704.5,783.2 704,802.2 703.2,821.4 702.8,839.8" stroke="#249fe5"/>
<polyline points="870.5,465.7 880.4,467.1 901,469.5 908.4,471.3 911.5,473.1 914.3,475 913.2,477 912,478.8 909.9,480.7 912.7,482.4 912.9,484.3 908.3,486 909.2,487.8 909.2,489.9 907.5,491.4 903.3,493.9 902.8,495.6 899,497.4 895.8,499.5 899.4,500.9 894.5,501.8 892.8,507.1 894.6,511.6 889.2,516.1 888.3,520.5 884.4,525.7 882.6,530.5 877.1,534.5 877.4,539.8 873.5,544.5 868.6,549.3 861.5,554 854.2,558 833.5,567.8 808.6,577.1 787.5,586.3 768.9,595.8 752.8,605.1 733.3,614.9 722.4,624.1 715.8,633.3 712,642.9 709.1,652.1 708.4,671 708.2,689.9 707.8,708.9 706.6,727.1 705,745.7 704.2,764.9 703.2,783.9 702.2,802.3 701.5,821.4 701.3,840.2" stroke="#23a1e4"/>
<polyline points="868.1,465.5 888.9,467.3 902.4,468.8 905.2,471 906.5,473.3 910.7,474.5 913.3,476.6 917.1,478.4 917.4,480.3 911.6,482.2 912.5,484.2 911.2,486.2 912.4,487.6 907.7,489.6 905.3,492.1 905,494 898.4,495.6 901.8,497.6 893.8,498.9 891.7,501.3 894.4,502.1 892.4,506.7 891.3,511.3 891.3,515.8 889.1,521.1 885.8,525.3 880.6,530.2 881.5,534.9 876.9,539.3 872.5,544.1 868.7,549 861.4,553.4 855.1,558.7 837.1,567.5 809.9,577.3 787.7,586.3 770.1,595.9 749.4,605.6 731.5,615 720.8,624.4 714.5,633.4 709.5,643 709,652.4 708.1,670.7 706.7,689.9 706.5,708.6 705.9,727.2 704.8,746 704.1,764.7 702.3,783.6 701.5,802.7 700.4,821.1 700.4,840.2" stroke="#21a3e3"/>
<polyline points="881.7,465.7 895.3,467.4 902.9,469.3 906.6,471 907.2,472.9 907.2,474.7 909.7,476.7 913.1,478.5 909.1,480.6 909.8,482.3 904.4,484 907.9,485.8 905.6,488 905.7,489.8 904.7,492.1 901.9,493.3 902.3,495.4 901.3,497.7 900.8,498.9 896.9,501.1 895.9,502.4 892.8,507 890.4,511.2 887,516.2 882.5,520.5 881,525.9 881.5,530.3 879.1,535.2 872.5,539.6 868.9,544.1 863.3,549 858,554 850.4,558.6 823.6,568 799.5,577 779,586.2 764.6,596.2 742.5,605.1 728.9,614.6 720.1,624.2 712.4,633.2 710.7,643 709.8,651.9 709.6,670.9 711,689.8 711.8,708.2 711,727.6 709.9,745.7 708.8,765 707.1,783.3 706.8,802.4 706.4,821.1 705,839.7" stroke="#20a5e2"/>
<polyline points="872.5,465.7 889.7,467.2 904.5,469.3 912.5,471 915.4,473.2 913,474.5 915.5,476.9 915,478.4 913.7,480.8 910.7,482.7 907.8,484.3 910.2,485.7 911.4,488 904.3,489.8 909.6,492 907,493.8 905.4,495.6 899.5,497.6 896.3,499.3 893.6,501 895.6,502 894.5,506.6 889.9,511.1 888.8,515.8 884.7,521.2 884.3,525.3 884.7,530.2 881.2,534.8 877,539.4 871.4,544 863.5,549.3 858.7,553.3 852.8,558.3 830.3,567.8 805.5,577.4 783,586.2 768.3,596.1 753.9,605.3 735.1,614.5 722.8,624.3 716.9,633.2 711.7,642.8 708.8,652.4 709.7,671 710.3,689.9 709.9,708.3 709.2,727.2 707,746 706.1,764.9 704.7,783.9 703.3,802.6 702.8,821.5 702.1,839.8" stroke="#1ea7e1"/>
<polyline points="863.4,465.7 887.7,467 907.7,469.2 911.7,470.9 913.8,473.3 912.5,474.6 914.6,476.7 909,478.8 909.1,480.7 911,482.3 912,484.5 908.3,486.3 905.5,488 910.3,490.1 908.7,492 905.9,494 903.6,495.5 903.3,497.2 899.7,499.2 894.3,501.2 894.8,501.7 894.8,506.5 888.5,511.4 885.7,516.2 887.3,521.1 885.7,525.2 881.4,530.3 877.7,535.1 875.5,539.4 872.3,544.5 864.5,548.6 856.5,553.9 849.7,558.2 827.5,567.8 804.2,576.9 780.5,586.8 769,595.6 748.6,605.3 731.1,614.5 720.8,624 714.9,633.5 710.4,643 708.5,652.4 709,670.7 708.6,690 708.2,708.5 706.3,727.6 705.1,745.7 703.9,765.1 703,783.5 702.1,802.4 701.2,820.9 701.1,839.6" stroke="#1da9e0"/>
<polyline points="865.7,465.1 897.1,467.3 903.4,469.4 907.2,471.2 910.9,473.1 911,475 906,476.7 903.3,478.6 909.5,480.2 912.8,482.5 909.3,484.1 911.7,485.8 911.4,488.1 909.9,489.5 903.8,491.7 906.1,493.5 901,495.7 902.4,497 895.6,499.5 894,501.3 897.2,501.8 892.2,506.9 890.5,511.1 888.9,515.8 886,520.9 880.5,525.4 877.8,530.2 876.4,534.6 872.7,539.8 869.3,544.4 862.5,549.3 855.7,553.3 849.5,558.3 820.4,567.7 797.7,577.1 775.1,586.6 765.3,595.7 746.1,605 727.8,614.6 719.7,624.3 713.9,633.3 710.8,642.9 710,652.6 708.5,671.1 708.5,689.6 708.9,708.7 707.9,727.1 706.4,746.5 704.6,765 703.4,783.5 703.1,802.4 702.9,820.8" stroke="#1babde"/>
<polyline points="877.1,465.1 888,467.5 897.8,469 905.1,471.4 905.3,472.9 907.7,475 908.8,476.6 913,478.2 911.1,480.7 910,482 907.5,484.5 902.7,485.8 904.5,488.3 908,490.1 906.4,491.8 906.5,493.3 903.2,495.3 898.9,497.6 898.2,499.5 893.7,500.8 893.1,502.4 886.4,506.9 885.1,511.6 886.8,516 885.7,520.8 883,525.4 886.5,530.4 883.5,535.2 873,539.8 870.7,544.6 863.8,549.2 857.7,553.9 851.8,558.2 827,567.6 802.5,577.5 783.6,586.3 770.5,596.2 748.8,605 730.2,614.6 722,623.7 716.3,633.6 712.6,642.9 709.3,652.4 707.9,671.3 707.5,689.7 707.5,708.9 706,727.5 705.1,746.3 704.2,764.5 702.6,783.9 702.8,802.5 701.1,821 700.6,840" stroke="#19addc"/>
<polyline points="873.8,465.7 886.4,467.6 898.5,469 905.5,471 916.1,473.2 919.3,474.7 917,476.8 916.7,478.3 917.3,480.7 913.5,482.3 911.3,484.2 914.6,486 914,487.8 908.9,489.8 906,492 902.3,493.8 898.7,495.3 901.2,497.2 900.7,499.5 896.8,501.3 893.4,502.4 891.2,506.9 889.6,511.7 886.2,515.9 886.7,520.9 884.7,525.2 879.1,530.4 880.3,535.1 875.8,539.4 868.8,544.1 866.9,548.6 861.4,553.5 856,558.4 834.7,567.4 807.9,577.5 785.4,586.7 769.3,595.7 751.7,605.4 735,614.7 723.6,623.8 715.5,633.5 711.4,642.8 711.1,651.9 708.8,671 708.4,689.7 708.4,708.8 706.9,727.6 705.7,746.4 705.5,765 703.6,783.6 703,802.5 701.5,820.8 700,839.7" stroke="#17aeda"/>
<polyline points="850.5,465.4 876.4,467.7 895.7,469.2 909.3,470.8 908.1,473 915.4,475.2 916.3,477 915.6,478.7 918.5,480.6 918.2,482.4 910.3,484.3 908.1,486.2 907,488.1 907.2,489.9 904.3,492 900.8,493.8 897,495.2 897,497.2 899.1,499.4 898.2,501.4 895.8,502 891.8,506.8 888.7,511.4 888.1,516.3 889.6,520.9 884.7,525.7 881.9,530.3 878.9,535.2 876.3,539.9 876.4,544 871.1,549.1 865.3,554 858.9,558.7 839.2,567.6 813.5,577 788.7,586.8 771.1,596.2 756,605.2 736.8,614.6 724.9,623.8 718.5,633.4 713.2,642.6 710,652 710.8,670.8 711.6,690 709.9,708.7 708.3,727.2 707.4,746.3 706.4,764.8 705.4,783.5 704.3,802.1 703.9,820.9 703.2,840" stroke="#14b0d8"/>
<polyline points="863.7,465.3 886,467.1 904.6,469.1 909.2,471.1 910.5,472.8 913.3,474.5 915.1,476.8 915.3,478.5 912.6,480.1 913.4,482.5 910.6,484.4 910.4,485.8 906.4,488.1 905.8,490.1 906.2,491.5 909.7,493.3 902,495.5 900.5,497.1 899.5,499 896.3,501.1 894.3,502.2 889.3,506.8 889.7,511.5 887.2,516.1 888.1,521.2 887.7,525.4 883.8,529.9 885.2,534.6 880.4,539.7 877,544.4 873.1,548.7 866.7,553.4 861.1,558.2 847.6,567.4 819.7,577.3 794.5,586.5 774.6,596.2 760.1,605.1 738.6,614.5 724.8,624 717.2,633.6 712.8,642.9 709.1,652.2 709.4,670.8 710.4,689.6 711.5,708.4 708.9,727.6 708.3,746 707.1,764.9 706.3,783.8 705.8,802.7 704.4,821.2 703.1,840" stroke="#10b2d5"/>
<polyline points="851.1,465.5 873,467.2 891.5,469 913,471.4 916.2,472.7 916,475.2 913.2,476.5 913.7,478.3 915.2,480.6 911.1,482.3 913.9,484.3 911.9,485.9 907.9,488.2 909.7,489.5 911.4,491.8 903.8,493.8 907,495.6 901.9,497.3 897.1,499.6 896.2,501.1 891.5,501.9 888.6,506.8 890.4,511.3 886.6,516 884.7,520.8 882.3,525.2 883.6,530.5 881.4,534.9 878.2,539.4 872.7,544.3 869.9,548.7 865.4,553.8 859.8,558.2 843.3,567.8 816.5,577.4 791.6,586.4 774.4,595.8 756.3,605.5 737.7,614.5 722.9,624.3 717.3,633.1 710.6,642.7 709.9,652.2 709.7,671 710.2,689.8 710.5,708.4 708.3,727.5 707.9,745.9 706.4,765 704.6,783.9 703.8,802.7 703.3,821.4" stroke="#0cb3d3"/>
<polyline points="849.2,465.1 875.3,467 901.4,469.3 911.6,471.1 911.6,472.9 912.7,474.7 913.7,476.9 909.8,478.4 911.2,480.6 912.2,482 907.4,484 906,486.2 908.2,488 907.7,489.5 911.1,491.4 910.5,493.9 898,495.6 897.2,497.5 898.9,499.1 896.7,501.3 898.6,501.8 894.9,506.8 891.1,511.6 888.7,516.4 885.6,521 883.4,525.3 881.9,530 883.2,534.8 878.6,539.8 876.1,544.1 870.6,548.9 866.1,553.4 860.5,558 841.6,567.5 811.6,577.2 789.1,586.2 771,595.7 755.4,605 736.1,614.6 725,624.3 716.2,633.4 713,643.2 709.8,652.5 709.9,671.1 710.7,690 709.9,708.4 709.2,727.4 708.4,746.4 707.3,764.6 706.7,783.9 705.8,802.5 704,821.4" stroke="#08b5d0"/>
<polyline points="846.4,465.3 880.4,467.2 910.5,469.4 910.3,470.7 912.5,472.9 911.6,474.6 911,476.9 912.9,478.3 913.5,480.5 915.9,482.3 911.6,484.6 912.3,486.1 907.5,488 905.8,490.2 901.1,491.6 901.7,493.4 900.5,495.4 898,497.1 895.2,499.4 894.4,501.3 896.1,502.2 891.7,507.1 891.8,511.8 888,516.4 887.9,520.4 884.1,525.6 880.8,530.3 874.5,534.9 878.1,539.9 872,544 867.6,548.7 858.8,554 856,558.2 836.9,567.5 810.1,576.8 786.7,586.5 767.8,596.1 753.3,605.1 732.4,615 721.1,624.3 714.7,633.8 711.9,643.2 709.4,652.2 709.8,670.9 709.4,689.5 709.4,708.8 707.9,727 707,745.7 706.3,764.9 704.7,783.8 703.4,802.1 702.9,821.3" stroke="#05b6cd"/>
<polyline points="838.7,465.1 874.4,467.2 899.8,469 910,471.1 912.5,473.3 914.8,474.7 913.1,476.5 913.5,478.3 913.1,480.8 913.4,482.7 919.1,484.3 911.5,486.1 907.9,487.7 907.8,489.7 907.8,491.6 905.3,493.7 904.2,495.7 902.3,497.6 898,499.4 896.8,501.3 897,502 891.5,506.5 890.9,511.6 889.5,516.5 889.5,521.1 884.4,525.3 876.4,530.2 873.8,534.9 875,539.5 871.3,544 864.5,549.1 863.1,553.7 858.3,558 838.4,567.6 812.9,576.8 787.1,586.3 771.1,596.3 752.4,605.2 733,615 724.7,623.8 716.8,633.1 710.9,642.9 709.8,652 709.3,671.2 709.3,690 709.5,708.3 709.2,727 706.8,745.9 706,764.8 704.2,783.9 703.7,802.5 703,821.5 702,840.3" stroke="#02b7cb"/>
<polyline points="839.3,465.8 858.8,467.3 877.6,469.2 895.7,471.3 910.7,473.2 915.7,474.6 914.4,476.8 914.2,478.9 914.6,480.7 912.8,482.2 915.2,484.6 908.2,486.3 911.3,488 908.6,489.6 907.7,492 908.8,493.4 906.8,495.6 906.2,497.2 895.9,499.2 897.4,501.3 894.9,502.1 892.4,506.5 888.9,511.6 890,515.8 888.2,521 883,525.7 880.1,530 879.9,534.9 876,539.3 872.2,544.3 870.2,548.9 863.3,553.7 859.9,558.2 841.2,567.5 815.6,577.2 791.9,586.3 774.1,596.1 758.4,605.5 736.7,614.4 723.5,623.9 716.1,633.8 712.3,643.2 711.1,652.1 710.3,671.2 709.7,689.8 708.8,708.7 708.4,727.5 707.4,746 705,764.8 703,783.7 703.4,802.1 702.6,821.3 701.9,840.1" stroke="#01b9c8"/>
<polyline points="842.1,465.5 854.1,467.3 875.8,469.3 889.1,471.2 907.9,473.3 914.6,474.7 915.9,476.7 915.5,478.3 913.7,480.2 910.4,482.4 906.9,484.3 909.8,485.9 910.7,487.7 908,489.6 906.4,491.6 905.9,493.9 900.2,495.8 900.3,497.6 896.8,499.4 899.5,501 896.3,502 894.4,507 888.1,511.4 885.3,515.9 888.4,520.8 884.2,525.6 882.7,530.2 879.4,535.2 876.9,539.7 873.6,544.4 868.1,548.7 860.8,553.8 859.9,558.1 842,567.7 815,577.1 789,586.5 771.3,596 753.7,605.2 733.8,614.9 723.2,623.9 717.3,633.6 711.5,643 709.5,652.1 708.7,671.3 709.4,690 708.3,708.4 707.2,727.3 705.4,746.1 704.2,764.5 702.8,783.6 702.1,802.6 701.7,820.9 700.9,840" stroke="#02bac5"/>
<polyline points="847,465.1 855.7,467.4 869.8,469.4 878.4,470.7 892.7,472.8 905.7,474.8 913.7,476.8 913.2,478.5 911.2,480.5 906.3,482 912.2,484.3 911.7,485.8 912,487.8 912,489.9 909.7,491.5 905.9,493.2 902.3,495.7 898.8,497.3 897.7,499.1 893.8,500.9 894.1,502.4 886.8,506.7 887.6,511.5 889.3,516 890,520.8 890.2,525.1 885.9,530.4 883.6,535.2 879.9,539.3 877.7,544.5 872.4,548.7 863.5,554 860.2,558.3 842.7,568 817,577 791.2,586.8 775.3,596 758.9,605.6 737.6,614.8 722.5,623.9 714.8,633.2 709.9,642.5 710.9,652.3 709.5,670.8 710.4,689.5 708.3,708.6 706.8,726.9 706.4,746.1 705.2,764.6 703.8,784 703.2,802.1 702.5,821.2 702.3,840" stroke="#03bbc2"/>
<polyline points="855,465.6 863.7,467.2 873.7,469.3 887.8,471.3 891.6,472.6 897.9,474.9 911.8,476.9 912.2,478.6 914.5,480.6 914.8,482.6 909.3,484.2 910.8,486.2 908.5,487.7 906.3,490.1 905.5,491.7 905.4,493.4 903.6,495.7 901.2,497.2 900.6,499 902,500.7 897.5,501.9 894.9,506.6 892.7,511.1 890.5,516.1 887.1,520.8 886.2,525.2 882,530.2 878.4,534.6 876,539.6 869.3,544.4 864.3,549.1 861,553.3 856.2,558.5 838.1,567.5 812,577 789,586.8 772.9,596.1 754.5,605 734.4,614.7 723.2,624 716.4,633.3 710.7,642.8 710.1,652.6 710.3,670.7 711,689.5 709.4,708.3 708.8,727 707.6,746.1 705.2,764.8 704.4,783.5 703.5,802.7 703,821.1 701.8,839.9" stroke="#08bcbf"/>
<polyline points="857.3,465.5 856.1,467.1 860.9,469 877.9,471 888.8,472.8 907.3,475.1 913.2,476.4 910.8,478.3 917.8,480.2 921.1,482.2 911.2,484.3 910.5,485.8 911.4,488.3 908.6,489.7 905.8,491.5 910.1,493.5 905.1,495.8 902.2,497 900.1,499 893.9,501.5 893.5,502.4 887.7,506.9 889.2,511.4 886.7,516.2 888.1,521 884.3,525.5 877.7,529.9 875.7,534.9 873.7,539.5 871.6,544.2 863.8,548.7 859.7,553.4 855.3,558.6 834.7,567.5 808.2,576.8 785.3,586.5 768.8,595.7 750.9,605.6 735.4,614.5 723.1,624.2 716,633.7 712.1,642.9 710.6,652.4 710.5,671.3 709.3,689.8 708.3,708.4 706.9,727.3 705.4,746.3 704.2,765.1 703,783.8 702.4,802.2 702,821.2" stroke="#0cbdbc"/>
<polyline points="848.4,465.5 850.2,467.6 857.7,469.5 867.9,471.2 881,473.3 888.6,475 896.5,476.6 896.1,478.8 902.9,480.5 912,482 910.9,484.3 908.8,486.4 909.4,487.9 906.4,489.9 909.2,491.5 906.8,493.9 903,495.6 901.5,497.6 898.4,499 898.6,500.8 894.8,501.9 891.8,507 887.6,511.3 886.2,515.8 885.9,520.6 884.7,525.5 883,530 878.5,535 875.1,539.6 873.8,544.1 867.5,549.3 860.3,553.9 853,558.1 831.9,567.7 808.4,576.9 787,586.3 771.4,595.7 751.3,605.2 732.7,615 721.7,623.9 716.4,633.7 712.7,642.6 710.5,652.5 709.4,671 710.1,689.5 708.8,708.7 708.3,727.4 707.8,746.4 705.6,764.7 704.6,783.5 704.1,802.1 703,821.3" stroke="#12beb9"/>
<polyline points="854.7,465.5 860.5,467.4 868.3,468.8 882.1,471 894.2,472.9 900.3,474.9 908.9,476.4 910.1,478.2 913.7,480.7 916.5,482.2 917,484.3 914.4,485.9 911.5,488.3 908.1,489.7 907.8,491.9 905,493.6 901.8,495.2 899.3,497.1 895.4,499.4 896.3,501.5 896.5,502.1 896.1,506.5 894,511.7 894.1,516.2 889.5,520.8 885.3,525.3 886.1,530.3 881.9,535.2 880.1,539.8 873.8,544.1 868.2,549.1 865.5,554 860.6,558.2 839.3,567.9 812.1,577.3 787.3,586.2 770.4,596 753.5,605.2 733.7,614.8 720.7,624.3 716.8,633.5 712.5,642.6 711.5,651.9 709,670.6 709,689.4 708,708.8 707.1,727.3 705,746.3 705,765 703.6,783.7 701.6,802.6 701.7,821.3 700.7,839.8" stroke="#18bfb6"/>
<polyline points="868.7,465.4 870.3,467.1 877.3,469.3 886.7,470.9 888.6,472.7 897.1,475 907.9,476.6 907.4,478.3 908.8,480.2 910.4,482.6 909.1,483.9 907,486.4 907.5,488.2 906.5,489.5 904.3,491.6 905.6,493.3 901.8,495.6 901,497.1 901.6,499 898.8,500.8 896.6,502.2 890.4,506.6 891.6,511.6 891.3,516.1 889.1,520.5 888.6,525.8 884,530.3 881.3,535.1 880.3,539.9 873.6,544.6 869.5,548.7 865.8,553.7 861.3,558.5 842.7,567.9 816.8,576.9 789.2,586.6 772.8,595.6 757.1,605.1 735.1,614.4 721.9,624.1 716.3,633.1 712.1,642.5 711,652.6 709.2,671.3 709,690 707.7,708.4 706.2,727.7 705.7,746.3 704,764.9 703.1,783.5 702,802.3 700.8,820.8 700.5,839.8" stroke="#1dc0b3"/>
<polyline points="877,465.5 879.3,467.5 879.6,469.5 882.1,470.8 890.8,472.9 895.6,475.1 902.1,476.6 905.3,478.4 910.8,480.7 909.5,482.3 912,484.3 911.6,486.2 912,487.7 905.2,490.2 910,492 907.8,493.5 905.3,495.2 899.7,497.1 896.1,499.4 894.2,501.2 897.3,501.8 890.9,506.7 890.1,511.6 890.5,516 886.3,520.9 882.1,525.7 879.6,530.1 880.4,534.9 878.8,539.9 875,544.2 871.7,548.9 865,553.8 862.7,558.5 842.6,568.1 815.4,577.2 793.7,586.2 774.1,595.9 756.3,605.1 737.1,614.4 723.7,624.2 716.7,633.3 712.3,642.6 711.5,652.6 710,671.1 708.9,690.1 708.2,708.9 706.3,727.4 705.2,746.2 704,765 703.3,783.9 702.7,802.6 701.6,820.9 700.7,840.3" stroke="#22c1b0"/>
<polyline points="874.6,465.6 876.5,467.6 875.3,469 872.7,471.4 875.1,473 887.5,474.8 895.2,476.8 901.5,478.4 905.4,480.5 910,482.1 906.8,484.2 909.5,486.4 910.4,488.2 909.9,490.1 907.2,491.6 904.3,493.6 901.7,495.6 902.4,497.4 896.6,499.1 899.1,500.8 895.5,501.7 891.4,506.7 889.3,511.7 889.8,516.2 887.7,520.7 884.6,525.9 884.7,530.1 884.4,535.2 879.4,539.9 876,544.2 871.6,548.9 865.9,553.6 858.9,558.5 846.2,567.7 821.4,577.5 793.9,586.8 775.8,596 762.2,605.4 741.8,614.4 726,623.7 717.4,633.6 712.7,642.5 709.9,652.3 708.3,670.8 709.5,690 709.2,708.6 708.2,727.2 707.4,746 706.3,765.1 704.1,783.4 703.3,802.5 702.5,821.5" stroke="#26c2ad"/>
<polyline points="877.6,465.6 879.2,467.6 879.9,469.2 881.1,471.2 877.7,472.6 876.8,475.1 882.7,477.1 890.8,478.5 896.1,480.2 902.7,482.2 913,484.4 910.2,485.8 913,487.7 912.9,490.2 909.4,491.7 909.9,493.6 906.6,495.2 904.1,497.3 903.3,499.2 897.6,501.2 896.7,501.9 890.4,506.8 888.3,511.6 890.7,516.4 888.3,520.5 881.9,525.2 883,530.4 880.3,535 880.7,539.2 875.7,544.5 866.3,549.1 865.5,553.7 859.6,558.1 841.7,567.8 817.2,576.8 793.7,586.3 776,596.1 758.3,605.5 737.1,614.8 724.3,623.8 716.8,633.2 711,642.5 709.4,651.9 708.9,671.1 711,689.5 710.8,708.2 708.2,727.4 708.2,746 707,765.1 705.5,783.8 705,802.3 703.7,821.3 702.6,840.2" stroke="#29c3a9"/>
<polyline points="881.8,465.6 884.3,467.2 881.7,469.2 882.1,471 880,472.7 894.2,475.2 896.5,476.4 905.3,478.7 910.5,480.5 908.4,482.5 904.7,483.9 908.7,486.1 913.7,488.3 911.8,490 910.7,491.7 909.1,493.2 906.5,495.4 905.8,497.4 903.6,499.3 900.1,501 899.7,502.2 891.7,507 885.7,511.8 887.9,516.2 887.9,520.6 883.6,525.3 879,530 876.7,535 874.4,539.9 873.2,544.3 868.4,549.1 860.8,553.6 854.8,558.4 834.6,568.1 809.4,576.8 783.9,586.8 768,595.6 752.4,605.7 734.8,614.5 723.5,623.7 715,633.7 711.2,642.7 709.5,652.4 710.6,670.9 710.2,689.7 708.4,708.7 708.8,727.4 707.9,746.1 707.1,764.5 706.2,783.5 705.6,802.4 704.4,821.5 703.5,839.9" stroke="#2cc4a6"/>
<polyline points="888.5,465.6 893.4,467.4 899.2,469.5 897.4,470.8 901.9,472.6 907.4,474.9 907.4,477 910.3,478.2 913.1,480.4 915.4,482 915.5,483.9 918.1,486 919.3,487.6 909.9,489.8 907.9,491.5 901.8,493.9 900.2,495.7 898.5,497.3 899,499.1 901,501 894.6,502.1 892.5,507 888.2,511.1 889.2,516.4 887,520.5 879.7,525.5 877.2,530 874.2,535.2 873.5,539.2 870.3,544.1 864.8,548.9 857.2,553.5 851.6,558.4 831.7,567.7 805,576.9 783.2,586.5 767.7,596.1 750.4,605.1 730.8,614.9 720.7,624 714.1,633.5 712.3,643.2 711.1,652.3 709.7,671.2 711.8,689.5 709.9,708.2 709.9,727 709.5,746.2 707.8,764.9 707,783.7 705.6,802.5 704.8,820.8 704.8,840.2" stroke="#2fc5a3"/>
<polyline points="895.7,465.8 897.1,467 901.6,469.4 897.9,470.8 901.2,472.8 907.1,474.6 911.8,476.8 904.8,478.7 905.2,480.1 908.2,482.3 907,484.3 910.9,485.8 910.4,488.1 906.1,490 902.8,491.9 905.2,493.7 898.8,495.4 897.3,497.2 895.8,499.1 895.4,501.3 895.3,501.9 892.7,507 893.4,511.5 890.5,516 886.3,520.9 884.2,525.6 876.8,530 875.9,535.2 872.6,539.5 867.5,544.5 860,549.2 855.9,553.8 851.3,558.7 831.7,567.9 805.6,577.1 785.1,586.2 769,596.2 748.7,605.5 732.4,614.8 721.5,624.1 714.5,633.6 711.3,642.6 709,652.5 708.4,671 710.2,689.5 709.8,708.2 708.1,726.9 706.8,746.3 705.7,765.2 705,783.4 704.2,802.4 703.4,821.3 702.3,840.1" stroke="#31c69f"/>
<polyline points="882.5,465.1 889.6,467.5 893.4,469.4 897.1,471.1 904.2,472.9 910.2,474.5 909.9,476.8 907.2,478.9 916.3,480.4 915,482.1 913.7,484.2 912.2,486.3 911.9,487.7 909.5,489.6 908.7,491.5 903.3,493.4 903.2,495.4 900.7,497.6 899.4,499.2 895.6,501.4 894.1,502.2 891.3,507.1 889.1,511.6 885.3,516.2 884.9,521.1 881.4,525.7 880.2,530 879.3,534.9 877.6,539.7 870.6,544.3 868.5,548.7 863.7,553.4 857.8,558.3 837.3,568.1 808.9,577 786,586.5 768.8,596.1 752.4,605 732.7,614.8 721.8,624.1 715.3,633.1 710.3,642.7 709.2,652 707.3,670.8 708.9,689.6 707.9,708.4 705.9,727 705,745.7 703.7,764.8 702.9,783.7 702.7,802.5 701.8,821.3" stroke="#34c79c"/>
<polyline points="876.1,465.3 888.1,467.6 895.6,469.2 902.4,471.1 907.3,472.8 913.6,475.1 915.9,476.9 911.9,478.6 913.9,480.6 913.6,482 915.4,483.9 911.9,486.1 911.2,488.2 910.2,489.8 910.6,491.9 906.6,494 901,495.5 899.1,497.4 899,499.6 899.6,500.8 896.8,502.3 894.3,506.8 888.8,511.3 887.4,516.3 885.2,520.9 884.9,525.7 882.3,530 875.3,534.9 875.1,539.8 869.3,544.1 867.8,548.8 859.2,553.8 853.1,558.1 828.8,567.9 803.7,576.9 782.7,586.6 767.1,595.7 747.7,605.1 729.9,614.9 720.8,624 715.1,633.7 710.8,642.8 709.8,652.1 709,670.7 708.3,690 706.5,708.7 704.3,727.4 703.6,746.4 703.2,765 702.4,783.6 702.4,802.7 701.4,821.1 699.9,840.3" stroke="#36c898"/>
<polyline points="885.9,465.2 890.6,467.2 900.8,469.5 903.8,471.2 910.4,472.6 914.2,474.8 918.8,477 915.1,478.6 916.6,480.1 920.9,482.3 918.3,484.4 917,486.2 919.1,488.1 917.3,490.1 911.7,491.4 907.6,493.6 903.7,495.7 898.7,497.5 899.4,499.5 897.6,501 900.9,501.8 894.3,506.9 891.5,511.4 890.4,516 885.9,520.7 878.3,525.7 879.2,530.4 875.4,534.6 875.8,539.6 870.2,544.3 862.1,549 856.6,553.9 851,558.1 826.9,567.4 801.7,576.8 779.5,586.9 767.5,596.3 748.7,605.1 729.4,614.5 719.3,624.3 714.4,633.4 710.8,642.9 708.3,652.2 707.6,670.9 708.1,689.5 707.6,708.8 707.2,727.3 706.2,746.3 704.6,764.5 703.5,783.4 702.4,802.8 701.7,821.1 701,840.1" stroke="#3ac994"/>
<polyline points="890.2,465.1 895,467.1 906.6,469.4 910.4,471.2 913.6,473.2 914.3,474.9 915.5,476.4 918.6,478.6 919.3,480.1 921.9,482.2 922.3,484.3 916.9,485.9 916.4,487.8 914.3,489.9 910.7,491.6 907.2,493.3 906.7,495.8 904.1,497.6 901.8,499.4 900.3,501 896.8,502.2 891.3,506.4 888.3,511.4 886.9,515.9 883.8,520.6 879.4,525.7 879.6,530.2 877.4,534.8 871.8,539.9 870.8,544.4 868.8,548.8 864.1,553.8 857.2,558.3 831.4,567.7 805.5,577 780.7,586.8 769.1,596.1 749.1,605.2 730.6,614.5 719.5,623.8 711.3,633.7 708.7,642.6 708.1,652.4 708.5,670.8 709.3,689.7 709.4,708.7 708.5,727.2 707.1,746.1 705.7,764.6 704.6,783.3 704.3,802.7 702.8,821.1 702,840" stroke="#3dc990"/>
<polyline points="903.7,465.1 907.8,467.6 908.3,469.3 906.1,470.8 906.7,472.9 909.9,474.7 909.2,476.7 911,478.4 917.2,480.7 914.4,482.3 915.4,483.9 914.3,486 914.6,487.9 914.1,489.8 914,491.6 913.9,493.5 909.6,495.4 900.8,497.1 898.1,499.4 900.6,501.2 898.7,502.3 894,507 890.6,511.6 890.5,516.4 886.1,520.6 881.7,525.3 880.4,530.5 877,534.6 873.9,539.2 868,544.4 860.7,549.1 853.7,553.7 847.3,558.7 822,568 798.5,576.9 780,586.2 765.4,595.6 744.4,605.6 727.4,614.7 717.9,624.2 713.3,633.8 710.8,642.7 708.4,652.6 709.5,671 711.3,690 711.2,708.8 710.1,727.3 709.2,745.9 707.6,764.8 705.6,783.8 704.7,802.5 704.6,821" stroke="#41ca8c"/>
<polyline points="874.4,465.7 882,467.3 893.2,469.2 909.1,471.2 914.7,473.2 912.6,474.5 914.7,476.6 915.1,478.4 915.8,480.3 911.7,482.1 913.7,484.5 911.9,485.9 912.2,487.8 911,489.9 906.7,492 907.1,493.2 904.6,495.3 903.1,497.6 900.1,499.1 897.5,501.4 896.6,501.8 895.1,506.5 888.2,511.7 885,516 884.1,520.5 884.1,525.3 880,530.4 874.9,535.2 872.2,539.6 865.4,544.1 860,549.2 854.8,553.8 845.9,558.5 818.6,568 796.8,577.5 777.8,586.3 766.3,596.2 742.9,605.4 726.9,615 719.2,623.9 712.4,633.1 708.7,642.6 708.6,652.6 707.8,671 708.4,689.9 706.9,708.2 705.4,727 704.1,746 704.2,764.5 702.5,783.5 701.8,802.1 700.7,821.1 700.6,839.9" stroke="#46cb88"/>
<polyline points="872.4,465.3 881.5,467.4 888.1,469.4 895.6,470.8 905.4,473.2 907,475.1 914.9,476.8 914.5,478.3 915,480.3 917.9,482.3 914,484.2 916.9,486.2 914.1,488.2 916,490 911.6,491.6 908.8,494 907.8,495.1 903.4,497.3 901.8,499.5 900,501.2 900,502.4 892.9,507 892.2,511.3 888.5,516.2 887,520.7 885.5,525.6 881,530 876.1,535.1 871.2,540 868.7,544.1 863.7,549.2 855.6,553.8 851.8,558.6 827.9,567.9 800.5,577.2 780.7,586.8 766.1,595.9 744.2,605.5 728.5,614.8 721.1,623.7 712.8,633.5 709.8,642.5 710,652.4 709.1,671 708.4,689.7 707.3,708.6 706,727.5 705.8,745.9 705.6,765 704.3,783.7 704.1,802.1 702.6,821.5 701.7,840.3" stroke="#4bcb84"/>
<polyline points="853.8,465.5 865,467.2 878.1,468.9 890.2,470.8 895.9,472.8 908.6,474.5 917.4,476.8 924.7,478.4 924.8,480.2 927.8,482.4 920.7,484.4 919.3,486.3 919.3,488.1 919.8,490 913.7,491.4 913.5,493.7 910.9,495.3 906.9,497.1 903.8,499.6 897.8,501.5 894.9,502.2 893.8,506.9 892.5,511.4 887.2,516.5 886.9,521.1 881.4,525.6 877.8,530.1 876.7,535.2 872.5,539.3 867.9,544.3 864.6,548.7 857.7,553.4 850.2,558 823.7,567.6 797.7,577.3 778,586.8 765,595.7 741.2,605.2 727.2,614.6 719.3,624.2 712.5,633.1 708.6,642.6 707.6,652.5 706.5,670.7 708.1,689.4 707.9,708.8 706.9,727.4 706.4,746.1 705,765 704.3,783.3 703.5,802.1 702.2,821.4 702.1,840" stroke="#50cc7f"/>
<polyline points="884.4,465.3 897.1,467.6 901.8,469.5 902.5,471.3 911,473.1 920.2,474.8 923.7,476.6 928,478.4 925.8,480.2 922.4,482 922,484.6 924.2,486.3 923.9,487.7 916.3,489.7 912.3,492 911.2,493.4 909.3,495.1 908.8,497.7 902.6,499.2 896.1,501.2 897.1,501.9 890.2,506.6 887,511.1 885.4,516.2 884.3,520.7 885,525.2 882.3,529.9 877.9,535 871.4,539.3 869.9,544.3 864.6,549 853.7,553.9 849.6,558.4 822.1,567.8 800.4,576.9 780.8,586.5 765,596.2 744.3,605 728,614.9 719.1,624.4 712.1,633.2 705.4,642.9 704.5,652 707.5,671.2 710.1,689.9 710.3,708.8 709.5,727 708.8,746.3 707.9,764.6 707.3,783.3 706.7,802.5 705.8,821.1 704.9,839.9" stroke="#56cc7b"/>
<polyline points="873.2,465.5 883.9,467.6 893.9,469 898.8,471.1 912,473.2 914,474.5 921.4,476.8 918.3,478.9 924.3,480.8 928.6,482.6 928.1,484 921.1,486 922.1,488.1 918.9,489.8 915.8,491.9 912.4,493.5 903.2,495.4 903,497.7 902.7,499.1 904.9,501.1 900.1,501.8 894.3,507.1 892.7,511.5 891.6,516.4 885.2,520.5 884.5,525.6 879.8,530.5 877.6,535 875.9,539.8 870,544 861.3,548.8 856.5,553.6 848.9,558.4 822.3,567.4 798.8,577.2 778.1,586.6 762.6,596.2 740.2,604.9 725.1,614.4 717.2,623.8 709.8,633.6 706.6,642.8 705.2,652.6 707.4,670.7 708.5,689.4 708.1,708.5 708.2,727.2 707.7,746.1 705.9,764.7 705.2,784 704.3,802.6 703.5,821.2 703.1,840.3" stroke="#5ccc76"/>
<polyline points="838.2,465.2 864.6,467.6 869.4,469.4 872.9,471.2 886.1,472.7 898.1,475.2 906.1,476.4 919,478.4 922.2,480.4 923.1,482.1 922.9,484.1 926.9,486 920.3,488.1 916.4,490.2 912.5,492 911,493.8 908.2,495.3 906.8,497.4 904.6,499.1 898.7,500.9 895.9,502.1 892.1,506.9 888.6,511.4 884.7,516.4 884.2,520.9 882.1,525.5 880.4,530.5 875.3,535.1 872.9,539.5 866.9,544.6 861,548.7 854.9,553.7 847.1,558.3 817.5,568.1 793.6,576.9 775.6,586.5 762.6,595.9 742,605.1 725.5,614.6 717.3,623.8 710.7,633.7 705.8,642.5 705.1,651.9 706.1,670.8 707.4,689.7 707.5,708.8 707.5,727.6 706.9,746.3 705.6,764.8 703.9,783.5 703.4,802.1 702.9,821.3" stroke="#61cd71"/>
<polyline points="816.7,465.2 830.3,467.4 837.6,468.9 847.4,471.1 873.9,473.1 897.2,474.8 916.2,476.9 913.6,478.5 916,480.4 917.6,482 920.5,484.4 918.1,486.3 919.8,488.2 916.3,489.5 910.3,491.8 913.7,493.4 909.5,495.3 903.8,497.1 901.5,498.9 900.3,501.2 896,502 891.5,506.6 890.8,511.1 889,516 883.3,520.8 881.1,525.3 881.2,529.8 875.9,534.9 867.2,539.5 860,544.6 855.6,548.8 848.9,553.7 837.1,558.5 809.9,567.7 789.6,577.2 775.9,586.4 756.7,595.7 734.4,605.6 723,614.8 716.4,623.7 709.3,633.5 707.2,642.7 706.7,652.5 706.5,671.1 706.2,690 705.1,708.7 704,727.4 703.3,746.4 702.2,764.5 702.1,783.4 700.9,802.1 699.6,820.9 698.9,840" stroke="#67cd6c"/>
<polyline points="807.3,465.2 832.6,467.1 900.7,469.4 912.3,471.1 914.8,473.2 910.3,475 913.8,476.5 917.2,478.5 918.1,480.8 918.8,482 920.8,484.6 918.8,485.8 917.6,488.1 918.8,489.7 917.7,491.8 915,493.3 910.5,495.4 905.1,497.2 901.1,499.2 898.4,501.1 899,502.4 895.2,506.4 892.3,511.3 889,516.2 884.6,520.6 882,525.5 876.3,530 869.5,534.5 861.2,539.6 855.7,544.1 848.7,549.1 839.7,553.7 828.6,558.3 801.7,567.4 781.1,577.4 766.5,586.7 744.8,596.3 728.8,605.4 719.8,614.6 713.7,624.3 709.3,633.6 706.3,642.5 706.5,652.2 706.4,671.2 706.5,689.5 705.9,708.3 704.9,727.2 703.5,746.3 702.9,764.5 701,783.4 700.1,802.6 699.6,821.3 698.9,840.2" stroke="#6dcd67"/>
<polyline points="795.4,465.5 801.2,467 842.2,468.9 885.8,471.3 910.8,473 914.5,474.5 916.3,476.4 920.6,478.9 919.3,480.2 924.6,482.1 919.2,483.9 924.2,486.4 920.9,487.9 923.1,489.9 918.1,491.7 913.9,493.3 912.1,495.1 899.9,497.1 898.1,499.5 896.1,501.4 894.8,502.4 893.1,506.7 894.4,511.4 885.1,516.2 882.6,520.9 879.3,525.7 873.8,530 869.6,534.7 864.3,539.5 854.5,544.4 850.8,549.2 835.5,553.6 823.8,558.3 797.5,567.7 779.7,577.2 766.2,586.8 745.8,596.2 729.8,605.1 720.6,614.6 714.1,624 708.7,633.2 707,642.5 705.2,652 705.6,671.2 705.9,689.8 704.9,708.5 703.2,727.6 702.2,746 700.9,764.9 700.8,784 699.9,802.2 698.7,820.8 698.3,839.6" stroke="#74cd62"/>
<polyline points="731,465.3 739.5,467 747.9,468.9 809.8,470.9 889.6,472.7 920.8,474.8 921.3,476.4 922.3,478.7 919.6,480.4 924.5,482.1 925.5,484.1 924.4,485.7 922.3,488.2 919.9,489.6 915.7,492 910.4,493.6 910.4,495.8 904.6,497 902.3,499.2 901,501 898.9,502.2 894.8,506.8 889,511.7 885.7,516.2 881.8,521.1 879.6,525.5 874.1,530.3 866.3,534.7 858.5,539.9 853.1,544 844.5,549 829.6,553.4 817.5,558.2 794.2,567.9 776.3,576.9 761.4,586.7 740.4,596.2 725.4,605 720.3,614.7 713.8,623.8 706.5,633.5 705.7,642.9 705.8,652.1 705.2,671.3 705.2,690.1 704.6,708.5 704.3,727.7 703.3,746.1 701.6,765 700.6,783.5 699.9,802.6 698.7,821.1" stroke="#7acc5e"/>
<polyline points="747.8,465.3 755.1,467 790.4,469.3 834.9,471.2 881.1,473.1 927.1,475 935,476.4 931.1,478.6 934.8,480.8 927.6,482 927,484 923.3,486.4 926.1,488.1 923.1,489.7 922.7,491.5 924,493.3 915.3,495.8 914.8,497.6 910.1,499.2 905.9,501.1 904.9,502.2 897,507 892.9,511.7 886.3,515.9 882.8,520.6 878.4,525.8 871,530.2 860.2,535 852.4,539.4 844.6,544 828.8,548.7 812.2,553.3 798.2,558.2 778.7,567.9 765.5,576.9 747.2,586.2 728.9,595.9 721.3,605.2 714.9,614.5 706.6,623.9 704.3,633.7 701.9,642.5 702.4,652.3 704.9,670.9 705.6,689.5 703.8,708.6 702.8,727 702.3,746.2 700.7,764.8 700.3,783.4 699.7,802.2 699.6,821.1 698.4,840.2" stroke="#81cc59"/>
<polyline points="722.4,465.2 740.9,467.3 799.2,469.2 868.1,471.3 919.1,473 917.1,474.5 921.4,476.8 924.5,478.3 928.5,480.4 918.6,482.5 929.3,484.1 927.4,486.4 927.3,488.2 924.2,490 924.7,491.4 922.8,493.7 923,495.5 914.4,497.2 910.5,499.1 909,500.9 904.6,502.2 896.3,506.8 893.6,511.7 885.9,516 879.2,520.5 871,525.3 866.4,530.2 861.4,534.7 850.9,539.3 843.8,544.4 825.4,549.2 810.3,553.9 800.8,558.1 777.9,567.6 766.4,577.3 749.5,586.7 731.5,596.1 723.2,605.4 715.2,614.9 706.8,624.3 700.5,633.8 700.5,643.2 700.6,652.5 702.3,670.7 703,689.9 702.9,708.6 701.8,727.2 701.6,746.3 700.5,764.7 698.5,783.5 698.5,802.1 698,820.9 697,839.6" stroke="#87cb54"/>
<polyline points="720.6,465.1 725.4,467 722.9,469.4 767.8,471.3 817,473.2 859.5,474.8 910.8,476.5 924.9,478.6 923.5,480.2 924.3,482 926.9,484.3 926,486 930.4,488 927.6,489.7 926.6,491.7 924.3,493.9 923.4,495.2 921.6,497.6 917.7,499.3 911.5,501.4 902.6,502.3 897.8,507 886.8,511.3 881.1,516.3 879.2,520.8 871.2,525.8 867,530.1 856.1,535.2 845.2,539.6 829.5,544.4 819,548.7 808.5,553.8 795.2,558.3 778.6,567.6 764.5,576.8 745.7,586.4 728.3,595.7 719.4,605.2 713.3,614.6 706.4,623.9 705.1,633.6 703.9,643.1 704,652.6 704.5,671.1 704.7,689.5 704.3,708.5 703.4,727.3 702.3,746.1 701.6,765.2 701.2,783.5 700.8,802.7 699.6,821.4 699,840.1" stroke="#8dcb4f"/>
<polyline points="720.6,465.1 737.5,467 828.9,468.8 910.7,471.3 914,472.7 915.3,475.1 917.5,476.4 920.4,478.5 926.6,480.4 926.4,482 927,483.9 929.5,486.4 927,487.8 929.3,489.9 925.8,491.7 925.9,493.4 922.4,495.2 915.3,497.2 911.5,499.3 905.4,501.4 903.9,501.8 895.4,506.6 887.1,511.7 882.5,516.3 877.4,520.8 876,525.4 865.7,530.2 856.2,535.1 845.9,539.4 834.6,544.5 816.8,549.3 801.3,553.8 792.8,558.3 773.9,567.9 760.2,577.3 741.7,586.5 725.4,596 718,605 710.2,614.4 702.7,624.1 701.2,633.3 701.6,643.2 703.9,652.4 704.8,671 706.7,689.8 706.2,708.5 704.9,727.6 704.9,745.9 703.3,764.5 702.7,783.5 701.2,802.8 701.1,821.2" stroke="#94ca4a"/>
<polyline points="738.6,465.1 738.3,467.2 735.5,469.5 736.5,471 757.2,473.1 800.5,474.8 850.3,476.8 904.1,478.9 917.5,480.8 924.2,482.4 929.2,484.6 926.3,486.1 925.3,487.9 923.9,489.6 924.9,491.6 924,493.4 924.1,495.4 923.9,497.2 921.1,499.4 914,500.8 907,501.8 896.4,507 890.6,511.4 881.2,516.1 876.5,520.9 869.5,525.7 858.7,530.3 850.1,534.7 836,539.7 820.8,544.4 805,548.7 791.6,553.8 782.6,558.6 771.7,567.8 753.1,576.9 733.4,586.6 722.7,596 714.7,605 707.8,614.9 704.5,623.8 703.1,633.6 703.3,643.1 703.8,652.5 705.6,670.9 706.4,689.6 707.5,708.7 705.6,727 704.7,746.3 703.6,764.9 703.1,784 702.9,802.5 702.6,821 701.8,839.7" stroke="#9ac945"/>
<polyline points="779.9,465.5 780.6,467.5 779,469.4 784.7,470.9 817,472.7 853.1,474.9 886.4,477 905.6,478.2 917.4,480.7 923.4,482.6 919.4,484.1 929.5,486.5 933.5,488.3 937.3,490.1 933.3,491.5 930.9,493.3 929.2,495.5 919.2,497.1 914.8,498.9 905.4,501 903.9,502.1 895,506.7 887.4,511.2 878.1,516.2 874.2,520.9 869.2,525.3 860.1,530.5 850.5,535.1 839.1,539.4 823.4,544 804.4,548.9 792.6,553.3 781.8,558.5 770.8,567.8 753.4,577.5 733.5,586.2 719.3,596.3 714.3,605.5 709.6,614.5 705.3,623.9 704,633.6 703.2,642.9 704.1,652.4 705.6,671.2 705.9,689.7 705.3,708.7 704.4,727.5 704.4,746 703.9,765.2 703.3,783.6 702.1,802.7 701.4,821 700.4,839.8" stroke="#a0c841"/>
<polyline points="765,465.1 767.6,467.5 780.3,469.5 814.2,470.9 861.5,472.8 907.2,474.6 926.6,476.8 924.5,478.5 925.4,480.7 928.7,482.4 934,484.5 940,486.3 938.1,487.7 938.2,490.2 937.4,491.7 933,493.3 931.2,495.2 926.6,497.6 912.9,499.5 908.2,501.3 907.9,502.1 897.8,507.1 891,511.4 886.2,515.8 876.1,520.5 868.8,525.8 861,529.9 852.5,535.1 833.5,539.5 813.3,544.5 800,548.6 789.9,553.5 779.4,558.2 763.7,568.1 747.3,577.5 728.6,586.5 719.8,595.9 713.8,605.2 705.7,614.8 701.9,623.8 700.8,633.8 701.8,642.6 702.8,652.2 705.7,671.3 707.3,690.1 706.7,708.7 707.3,727.6 704.8,745.9 704.7,765.1 704.2,783.6 703.7,802.7 702.1,821.3 701.8,839.8" stroke="#a6c83c"/>
<polyline points="783.5,465.3 783,467.1 781.6,469.4 789,471.1 817.2,472.9 850,475 880,477.1 902.5,478.4 919.1,480.2 916.3,482.3 922.8,484.6 932.9,486 933.4,487.9 932.8,489.7 928.9,491.5 931.1,493.3 927.6,495.7 926.5,497.6 916.1,499.1 910.5,501.3 909.9,501.7 900.2,506.6 890.8,511.8 883.5,516.4 873.9,520.8 868.2,525.5 857.3,530.2 852.8,535 834.5,539.9 815.7,544.4 798.3,549.2 788.8,553.6 775.3,558.6 763.3,567.4 745,576.8 730.3,586.4 720.1,595.9 714.4,605.1 706.8,614.8 707.1,624 704,633.6 703.4,642.7 703.4,652 706.8,671.2 708.3,689.5 708.2,708.2 707,727.4 706.1,746.1 705.9,764.9 705.5,783.8 704.1,802 703.2,821.5 703.3,840.1" stroke="#acc738"/>
<polyline points="771.4,465.3 773,467.5 771.2,468.9 781.9,471.3 838.8,473.1 898.7,475.1 926.4,477 922.7,478.8 919.8,480.5 923.6,482.3 930.4,484.5 936.2,486 933.2,487.7 935.9,489.9 935.7,491.9 931.9,493.5 926.6,495.6 927.2,497.4 920.1,499.2 916.6,500.8 915.4,502.2 902.2,506.9 890.2,511.3 881.1,516.2 874.8,520.5 865.8,525.4 853.6,529.9 845.4,534.6 826.6,539.6 810.4,544.1 797.3,549.3 785.1,553.5 774.2,558.7 761.1,567.9 741.1,577.1 725.3,586.3 715.1,596.1 709.5,604.9 701.1,614.8 699.2,624.1 698,633.3 699.7,642.8 701.9,652 704.2,671 704.1,689.7 705.4,708.8 705.5,727.1 703.8,746.4 703.2,764.9 701.7,783.3 700.8,802.4 699.6,821.2 699.3,839.9" stroke="#b2c635"/>
<polyline points="814.6,465.5 815.6,467.3 835.1,469.5 862.8,471.4 880.6,472.6 910.3,474.7 934.8,476.9 931.5,478.8 939.6,480.8 941.8,482.2 944.6,484.2 947.1,486.3 947.7,487.9 949.4,489.6 946.9,491.8 940.6,493.7 935.9,495.7 930.2,497 919.5,499.4 915.9,501.5 908.8,502 898,507.1 894.3,511.3 883.4,516.1 877,520.9 869.8,525.4 859.9,530.2 848.4,534.6 829.2,539.6 808.4,544.4 797.3,549.3 786,553.7 775.6,558.6 763,567.6 742,577.2 725.2,586.4 718.6,595.8 711.9,605 706.1,614.5 703,624.2 703.2,633.6 704,642.9 704.1,652.6 705.3,671.1 705.1,690.1 704.6,708.2 703.5,727.6 703.6,745.9 702.7,765 701.6,783.8 700.5,802 699.7,821" stroke="#b8c431"/>
<polyline points="851.6,465.3 852.3,467.6 851.7,469.4 848.6,470.9 866.2,473.1 882.6,474.8 902.7,476.9 915.8,478.6 935,480.6 934.7,482.2 934.2,484.5 938.8,486 937.4,487.6 942.4,489.5 934.9,491.9 937.8,493.3 939.7,495.2 933,497.5 925.2,499 916.5,501.3 917.2,502.2 905.5,506.6 890.4,511.2 880.9,516.1 877.4,520.6 865.7,525.8 853.9,530.5 845.6,535.1 830.4,539.3 811.9,544.4 795.9,549.2 785.5,553.5 777.6,558.2 764.4,567.4 740.6,577.2 725.7,586.4 717.2,595.5 713.3,604.9 702.4,615 699.5,624.1 699.2,633.5 699.4,643 700.7,652.4 704,671 704.4,689.9 702.9,708.7 703.1,727.6 702.1,746.3 702,764.7 700.8,783.8 698.6,802.2 698,820.9 697.2,839.8" stroke="#bdc32e"/>
<polyline points="823.8,465.6 822.5,467 821.1,469.3 835.1,471 869.4,472.8 913,474.9 934.3,476.7 937.4,478.4 935.2,480.2 933.3,482.2 938.4,484.1 942.5,485.9 946,488 941,490 939.4,491.4 936.9,493.6 931.9,495.3 922,497.2 918.9,499 913.3,501.1 909.8,502.3 900.3,506.6 891.2,511.3 885.2,516.1 875.5,520.7 867.6,525.7 858.2,530.4 847.4,534.9 828.7,539.5 811.5,544.6 799.9,549.3 787,554 778,558.1 764.9,567.7 742.3,577.4 727.1,586.3 718.5,595.7 712,605.5 704,614.9 699.7,624.1 700.6,633.1 700.3,643.2 702.7,652.5 703.9,671.1 704,689.6 702.6,708.3 701.9,727.4 701.3,746.2 700.3,764.5 699.5,783.3 699.3,802.1 698.4,821.4" stroke="#c3c22b"/>
<polyline points="852.8,465.1 854.5,467.3 856.3,469.4 860.4,470.7 895,472.9 921.7,474.6 947.3,476.5 948.4,478.7 950.4,480.6 950.1,482 946.2,484.6 958.8,486.2 959.9,487.8 960,490 954.9,491.9 951.1,493.9 944.3,495.5 940.1,497.3 931,499.3 916.7,501.4 912.7,502.4 899.9,506.8 890,511.5 882.9,516.2 876.1,520.9 865.3,525.3 857.7,530.4 849.8,535 832.7,539.7 815.6,544.6 802.5,549.3 788.2,553.6 779.2,558 765.3,567.8 746.3,577.1 729.9,586.3 719.7,596 714,605.3 706.7,614.3 704.8,624.2 705.4,633.2 704.9,642.5 704.8,652.1 706.3,671.1 704.3,689.5 702.8,708.7 703.3,727.1 703.3,746.4 702,765.1 701,783.5 700.2,802.7 700,821.5 699.4,840.3" stroke="#c8c129"/>
<polyline points="904,465.7 903.5,467.1 902.2,469.1 900.5,470.9 912.5,473.1 926.9,474.9 930.8,476.6 927.9,478.8 932.5,480.2 934.9,482 934.9,484.3 930.6,485.9 939.2,488.2 940.9,489.8 936,491.8 938.4,493.9 939.3,495.7 935.8,497.2 925.7,499.2 922.5,501 914.8,502.2 899.2,507.1 890.3,511.5 883.4,516.1 871.5,520.7 862.8,525.8 857.4,530.5 848.7,534.8 837.7,539.3 816.8,544.6 807,548.8 792.4,554 777.4,558.2 764,567.7 750,577 726.1,586.9 719.1,595.5 712.1,605.4 707.4,614.4 705.1,624 703.6,633.3 703.1,642.8 704,652.1 706.1,671 704.1,690 704.2,708.4 705.1,727.7 703.6,745.9 702.2,764.9 701.6,783.7 701.3,802.2 699.9,821.2 698.9,839.9" stroke="#cdc028"/>
<polyline points="860,465.5 865.2,467.6 860,469 871.6,471.4 901.7,473.3 928.6,474.8 930.6,476.5 929.5,478.8 926.6,480.5 925.1,482.7 926.9,484.3 926.8,486.4 936.6,487.8 932.1,489.6 938.1,492.1 935.2,493.3 937.9,495.6 932.9,497.7 925.9,498.9 918.5,501.2 917.5,501.9 906.8,506.6 890.1,511.3 885.5,516 876.7,520.8 872.8,525.4 860.6,530.1 855.2,534.8 843.4,539.8 828.1,544.6 811.9,549.1 799.9,553.3 787.8,558.7 770.7,567.9 754.9,577.2 736.7,586.7 724.2,595.6 716.2,605.5 711.3,615 704.9,623.8 702.6,633.8 701.4,643.2 701.6,652.3 705,670.8 705.8,689.5 706.5,708.2 705.5,727.4 705.6,745.7 703.1,764.9 702.5,783.3 703.6,802.6 702.8,821.1 702.1,840.3" stroke="#d3bf27"/>
<polyline points="877.7,465.3 875.2,467.2 874,469.3 887.2,471 907.1,473 915.2,474.6 926.1,476.4 930.4,478.4 922.7,480.3 935.7,482.6 934.8,484.3 937.6,486.4 939.9,488.3 939,490.2 939.7,491.5 936.4,493.8 933.4,495.2 934,497 925.3,498.9 923.5,501 923.5,501.8 904.9,506.9 893,511.4 884,515.9 875.8,521 872.2,525.3 864,530.3 856.5,535.1 849.5,539.5 832.1,544.6 813.2,549.1 798.9,553.9 789.7,558.1 771.6,567.6 757.6,577.1 734.8,586.8 723.5,595.9 715.4,605.6 709.9,614.6 702.4,623.8 702,633.7 700.3,642.9 700.3,652.2 704.8,671.3 707.8,689.5 708,708.8 707.2,727.2 707,746.2 706.4,764.6 704.9,783.7 705,802.2 704.1,821.5" stroke="#d7be28"/>
<polyline points="906,465.7 907.3,466.9 905.7,469 912.1,470.7 931.7,473.2 941.8,475 939.7,476.8 940.5,478.6 943.1,480.1 943.2,482.2 947.8,483.9 951.9,486 953.7,488.1 945.6,489.8 940.3,491.6 943.4,493.8 942.1,495.6 938.2,497.7 930,498.9 919.3,500.9 915.5,502 901.4,506.6 891.4,511.7 886.3,516.4 879.8,521 874.7,525.3 867.3,530.2 860.9,534.8 843.1,539.5 826.9,544.4 810.9,549.1 798.3,553.6 791.1,558.1 774.6,567.6 757.2,577.2 738.3,586.7 725.1,595.9 719,605.5 709.6,614.5 697.7,624.1 695.1,633.6 695.6,642.8 695.6,652.1 699.9,671.3 704.6,690.1 705.8,708.4 705.8,727.4 705.5,746.1 703.8,764.8 703.3,784 703.2,802.6 702.8,821.4" stroke="#dcbd29"/>
<polyline points="860.4,465.6 860.1,467.2 857.2,469.1 859.3,471.3 868.7,472.7 912.5,475 929.1,476.5 950,478.9 946.9,480.6 946.3,482.1 949,484.5 950,485.8 947.5,488.2 947.9,489.8 955.7,491.4 949.5,493.5 952.8,495.4 942.5,497.1 929.7,499.5 921.9,500.9 918.1,501.9 897.8,506.4 890.1,511.8 889.1,516.3 878.9,521.1 873.2,525.7 867.9,530.1 859.7,534.8 847.8,540 835.1,544.6 819.1,549 803.2,553.4 793.4,558.7 775.7,568.1 759.6,577.3 739.5,586.7 722.5,595.6 715.9,605 710.4,614.5 700.5,623.9 696.5,633.2 695.5,643 697.1,651.9 703,671.2 704.5,689.4 705.4,708.5 705.2,727.1 704.4,746.1 702.6,764.8 701.5,783.5 700.7,802.1 700.6,821.1 700.1,840.2" stroke="#e1bc2b"/>
<polyline points="877.3,465.3 879.7,467.7 878.9,469.1 888.4,470.8 907.2,473.3 918.7,474.6 931,476.5 925.2,478.4 930.8,480.7 932.7,482.7 930.4,484.1 932.6,486 937.5,488.2 942.7,489.6 941.4,492 942.2,493.2 950.6,495.1 933.9,497.4 925.9,499 923.2,501.4 915.7,502 902.9,506.6 889.6,511.5 885.6,515.8 879.1,520.9 873.7,525.2 868.6,530 860.1,535 852.8,539.4 841.8,544.3 829.5,548.9 809.5,553.9 797.3,558.7 776.8,568.1 765.5,577.3 751.2,586.4 727.3,595.8 717.1,605.2 711,614.5 704.1,624 699.1,633.2 701.5,642.5 703.5,652.1 705.6,671 704,689.7 704.1,708.2 702.7,727.4 701.8,746.2 701.8,765.2 701.9,783.8 701.2,802.2 699.9,821.4 699.1,840.3" stroke="#e5bb2d"/>
<polyline points="893,465.2 891.1,467.3 890.2,468.9 896.2,471.3 902.7,472.7 916.7,474.8 916,477 928.7,478.9 938.4,480.3 938.6,482.5 929,484.6 937.1,486.2 938.2,488.2 936.6,490.1 936.5,491.6 934,493.3 935.7,495.2 935.8,497.2 927.1,499 915.4,501.4 916.2,501.9 897.4,506.6 890,511.2 885.5,516.2 885.6,520.8 877.3,525.2 877.8,530.1 867.5,535 861.1,539.4 850.7,544.5 840.1,548.9 821.9,553.4 806.8,558.7 785.9,567.6 770,576.9 755.8,586.2 736.8,596.1 718.7,605.6 712.4,615 704.1,624.4 697.4,633.7 697,642.5 697.7,652.2 703.2,671.4 703.1,689.5 703.1,708.8 703.3,727.2 702.1,745.9 700.1,764.8 701.3,783.8 700.5,802.2 699.8,821.5 698.9,840" stroke="#e9bb30"/>
<polyline points="917.5,465.3 916.2,467 919.6,469.1 921.7,471.2 924.9,473.2 939.1,474.5 945.1,476.9 936.8,478.3 938.1,480.4 935.8,482 944.3,484.2 940.7,485.9 944.3,488.2 950,489.9 941,491.8 944,493.6 936.9,495.6 935.5,497.1 934.4,499.1 930,501 926.9,501.7 908.8,506.7 886,511.3 882,516 882.9,520.7 881.7,525.6 872,530.2 860.4,535 856.4,539.6 848.4,544.1 836.4,548.8 823.6,553.3 802.9,558 783.1,567.9 770.1,577.4 757.1,586.5 735.4,596.1 721.1,605.1 711.2,615 700.4,624.1 697.3,633.2 699.1,642.9 696.8,652.4 702.6,670.6 704.2,689.8 705.1,708.7 705.4,727.3 702.4,745.8 700.8,765.1 700.8,783.9 701.5,802.1 700.7,821 699.7,839.7" stroke="#edba33"/>
<polyline points="873.5,465.7 885.1,467.6 909.1,469.3 934.2,471.2 933.5,473.2 946.4,475.2 943.4,476.8 941.1,478.4 935,480.1 936.6,482.2 936.6,484.2 941,486.3 950.7,487.6 949.9,489.6 942.4,491.6 945.3,493.8 952.9,495.5 948.5,497.4 931.9,499.5 917,501.2 920.1,502 913.6,506.9 898.4,511.1 891.8,516.3 887.1,520.9 879,525.8 870.6,530.3 860.7,534.8 856.8,539.8 847.8,544.2 830.7,549 814.4,554 801.2,558.6 782.9,567.9 768.3,577.3 748.2,586.8 728.1,595.9 721.7,605.3 714.3,614.7 707.1,624.3 704.2,633.1 703.7,642.5 702.7,652.3 706.1,670.7 704.1,689.9 702.6,708.8 701.1,727.5 699.6,746 699.3,765.1 700.6,783.9 697.6,802.6 697.7,821.3" stroke="#f1ba37"/>
<polyline points="916.8,465.2 916.6,467.3 925.3,468.9 917.1,471 919.9,473 929.1,475.2 928.3,476.5 923.6,478.4 929.7,480.7 933.3,482 935.7,484.4 931,485.9 941.8,487.7 958.1,489.7 953.6,491.5 957.9,493.7 951,495.4 954.2,497.6 945.1,499.4 924.7,501.1 920.5,502.2 900.3,506.6 887.8,511.2 885.1,515.8 886.2,521.1 874.8,525.7 865.6,530.3 863.6,535 858.9,539.9 844.5,544.6 830.6,548.7 810.4,553.4 803.4,558.6 780.8,568 771.1,576.8 749.5,586.5 732.8,596 717.4,605.1 710.1,614.4 703,624.1 698.4,633.8 699.8,642.7 702.8,652 702.2,671.3 702.1,690.1 702.2,708.3 703.2,727.5 703.2,746.2 701.3,765.2 702.5,784 700.9,802.3 701.2,820.9 699.2,840.1" stroke="#f5ba3a"/>
<polyline points="910.8,465.6 909.6,467.4 909.4,469.1 915.7,471.3 927.5,472.8 931.6,474.9 939,476.6 943.2,478.7 943.4,480.3 950.9,482.4 950.3,484.1 947.3,486.1 947.1,488.3 960,490 966.3,491.9 964.7,493.5 960.5,495.8 947.9,497.7 951.9,499 925.1,501.2 927.8,502.2 909.4,506.6 898.6,511.5 891.6,516 880.2,520.6 876.4,525.6 871.5,530.3 865.6,534.6 857.2,539.3 847.3,544.5 835.1,549.1 823.6,553.8 803,558.7 781.1,567.5 768.7,577 755.1,586.4 731.4,595.7 718.4,605.1 707.8,614.9 699.6,623.8 689.1,633.5 691.1,642.8 691.6,652.5 701.1,671.3 705.2,689.5 704.9,708.8 701.7,727.5 700.8,746.3 699.5,765.2 700.6,783.4 699.1,802.6 699.4,821.1 698.9,839.7" stroke="#f8ba3d"/>
<polyline points="930.1,465.1 931.8,467.4 927.3,468.8 927.1,470.7 928.5,472.8 922.3,474.7 948.7,476.5 952.2,478.5 939.5,480.3 926.4,482.6 938.1,484.1 955.4,485.8 964.8,487.6 968.6,489.5 977,491.5 957,493.9 969.2,495.5 963.7,497.5 956.4,498.9 933.3,501.3 939.3,502.3 914.8,507.1 890.4,511.1 889.9,515.9 887.6,520.5 871.4,525.5 873.2,530.3 866.7,534.7 857.7,539.5 854.7,544.6 837.6,548.9 815.8,553.3 800.7,558.3 784.9,567.4 763.4,577 745,586.8 729.6,595.5 714.5,605.3 707.5,614.9 700.8,624.2 702.3,633.3 699.9,642.7 700.6,652.2 705.2,671 708.1,689.7 705.9,708.8 704.1,727.6 706.8,746.1 703.2,764.9 700,783.5 701.5,802.3 701.1,821.2 698.2,840" stroke="#fbbc3d"/>
<polyline points="935.1,465.5 942.1,467.6 940,469.1 939.5,471.3 940,472.9 945.2,474.9 930.8,476.9 926.6,478.8 936.9,480.6 943.7,482.1 950.4,483.8 949.5,486.2 964.8,487.7 972.1,490.1 951.8,492 960,493.4 951.7,495.4 941.7,497.4 947.2,499.1 928.3,501.2 918.7,502.2 904.6,506.9 881.4,511.7 879.7,515.8 876.5,520.7 872.5,525.4 866.8,530.4 864,535 850.2,539.4 838.4,544 828,549.2 813,553.7 802,558.2 784,567.5 766,576.9 744.4,586.4 725.6,596.2 715.6,605.6 713.6,614.4 705.2,623.8 705.2,633.7 705.3,642.5 701.4,652.3 706.9,670.7 702.3,690 703.2,708.6 702.7,727.1 705.2,746.3 704.8,764.5 704.9,783.4 702.6,802.4 701.8,821.1 700.8,840.2" stroke="#febd3c"/>
<polyline points="917.1,465.6 918.4,467.3 933.3,469.3 920.4,470.8 921.6,472.6 918.9,474.7 928.2,476.5 942.4,478.3 936.5,480.6 940.4,482.7 935.7,483.9 932.9,486.4 946.8,487.8 942.2,489.7 938.3,491.9 946.4,493.5 950.8,495.8 951.7,497.7 938.9,498.9 922.9,501.1 928.5,502 915.1,507 893.4,511.1 890.9,516.1 882.1,520.7 874.5,525.8 871.5,530.1 859.9,534.9 853.1,539.6 845.4,544 826.6,548.7 810.5,553.5 800.1,558 777.7,567.8 767.6,577.1 746.3,586.3 727.5,595.5 714.2,605.1 709.2,614.4 702.5,624 703.7,633.6 704.5,642.8 703.7,652.5 706.9,670.9 708.1,689.4 710.6,708.6 705,727.6 706.1,746.3 705,765.1 702.5,783.9 702.5,802.1 701.6,821.5" stroke="#fec03b"/>
<polyline points="915.2,465.6 916,467 924.6,469.2 920.2,471.4 932,472.9 919.9,474.6 922.2,477.1 920.4,478.5 933.4,480.1 942,482.1 944.1,484.1 955.4,486.1 941.7,487.8 949.9,489.7 946.1,492 939.7,493.3 939.1,495.1 953,497.1 952.8,499.3 936.2,501.3 936,502 914.6,506.8 900,511.4 886.4,516 878.3,520.8 863.5,525.6 856,529.8 852.8,535.1 846,539.7 834.2,544.6 824.6,548.8 800.6,553.9 792.3,558.5 775.3,567.8 760.9,577.3 743.2,586.2 722.6,596.2 713.8,605.6 706.5,614.8 695,623.9 685.1,633.6 682.5,642.8 686.9,652.5 700.3,671.2 706.7,689.6 706.7,708.4 710.3,727.4 705.5,745.8 701.1,764.7 701.4,783.7 701.3,802.3 702.1,821" stroke="#fec239"/>
<polyline points="859.8,465.4 864,467.6 892,469.4 916,470.7 938,473 935.5,474.7 939.1,476.6 940.7,478.6 940.1,480.8 941.4,482.6 956.5,484.4 948.2,486.3 952.1,487.9 963.2,490.2 956.1,491.8 958.1,493.7 950.5,495.1 952.5,497.5 943.3,499.2 937.3,501 927.7,502.2 910.6,507.1 891.4,511.6 880.7,516.5 877.4,520.8 873.2,525.8 867.7,529.9 861.5,535.2 849,539.4 840.7,544.2 824.3,549.2 804.9,553.8 792.3,558 776.5,567.7 763.1,576.8 748.2,586.2 724.1,596 714.7,604.9 710.9,615 700,623.7 698.3,633.8 696,642.6 692.3,652.2 698.9,670.8 702.3,689.4 701.9,708.3 703,727.3 700.8,746 700.7,765 699.7,783.8 699.7,802.7 699,821.1 697.4,839.8" stroke="#fec537"/>
<polyline points="836.7,465.5 837.7,467 844.1,469.5 861.8,470.8 901.3,473.2 922.3,474.6 929.2,476.9 939.8,478.8 932.3,480.2 925.7,482.5 945.7,483.9 947.7,486.1 950.1,487.6 956.1,489.5 952.2,492.1 966.1,493.9 954.8,495.6 966.6,497.7 959.9,498.9 941.4,501 933.5,502.1 908.2,506.5 887.9,511.4 887.1,516.2 879.8,520.9 876.9,525.3 864.8,530.6 864,534.6 851.7,539.5 842.8,543.9 832.3,548.7 816.4,553.5 804.6,558.2 783,567.4 764.3,577 743.9,586.6 725.9,595.6 711.8,605.5 707.5,614.9 702.3,623.9 700.1,633.5 696,643.1 696.9,652.3 699.3,671 697.6,690 696.1,708.9 698.4,727 699.1,745.9 698.2,764.5 696,784 698.2,802.4 697.4,821.1" stroke="#fec735"/>
<polyline points="822.4,465.4 844.9,467.4 871,469.3 887.9,471.4 904.7,472.6 926.4,474.5 936.7,477 935.4,478.5 944.4,480.4 942.6,482 940,484.1 947.7,486.4 951.2,487.9 955.4,489.8 948.9,491.4 951.5,493.4 945.6,495.2 944.4,497.3 942,499.1 924.2,501.4 926,501.8 900.4,506.5 894.5,511.3 888.9,516.5 883.5,521.1 875.5,525.7 868.1,530.3 861.5,535 851.7,539.6 839.1,544.4 830.6,548.6 814.5,553.9 799,558.5 780.9,567.6 768.4,576.8 749.1,586.6 729.6,595.5 714.6,605.6 706,615 691.4,623.8 678.5,633.2 680.3,642.6 685.7,652.3 695.7,670.8 701.2,689.8 700.8,708.8 700.3,727.2 700.1,745.7 700.2,764.7 698.9,783.5 696.9,802.5 696.7,820.9" stroke="#feca33"/>
<polyline points="817.6,465.6 817.8,467.2 846.4,469.5 866.6,470.7 907.8,473 935.6,475.1 944.7,476.6 948.2,478.8 947.3,480.4 948.9,482.4 947.4,484.1 948.2,486.1 948.5,487.7 961.6,490.2 970.8,491.5 971.2,493.4 966.1,495.4 965.9,497.5 961.4,499.5 937.8,501.3 936.3,502.1 903.9,506.8 887.3,511.6 882.2,516.4 874.4,521 876.7,525.2 863.8,530.4 858.4,534.7 854.1,539.7 839.3,544.5 823.9,549.3 812.2,553.7 798.7,558.1 779.3,568.1 766.8,577.1 748.5,586.6 728.6,595.6 717.9,605.4 711.3,614.6 701.7,624.3 699.9,633.2 695.5,643.1 698.2,652.2 701.4,670.7 700.9,689.7 701.5,708.4 701,727.2 701,746.1 699.1,764.8 698.7,783.6 698.1,802.3 697.7,821 696.1,839.6" stroke="#fdcd32"/>
<polyline points="699.5,465.4 699,467.1 701.8,469.4 697,471.1 757,472.8 815.2,475 878.1,477 932.1,478.7 940.8,480.2 947.1,482 950.3,484.2 951.3,486.1 952.9,488.2 953.2,489.7 956.5,491.4 952.8,493.3 958.1,495.4 953.4,497.4 947.6,499.5 943.1,500.8 940.8,502.1 919.4,506.8 897.8,511.6 888.9,516.1 882.1,521.1 875.6,525.7 864.9,530.6 860,535.1 853.5,539.5 837.7,544.3 822.7,549 805.1,553.9 793.7,558.2 768.1,567.8 759.7,577.2 738.2,586.7 720.7,595.9 711.1,605 703.7,614.9 693.7,624.4 693.2,633.5 691.9,643 694.2,652.5 696.9,670.7 698.5,689.6 697.3,708.2 697.8,727.3 698.1,746.1 696.3,764.5 695.8,783.4 696.3,802.7 697.6,821.2" stroke="#fccf30"/>
<polyline points="662.3,465.4 672.5,467.4 749.6,469.5 795.1,470.8 860.1,472.6 930.9,474.8 932.9,476.9 942,478.8 945,480.4 944.4,482.3 951.6,484.4 954.2,486.4 957.6,487.7 963.2,490.2 963,491.9 961.6,493.4 959.3,495.4 959.3,497.3 960.5,498.9 945,501 933.9,502.1 904.4,507.1 896.5,511.1 883.3,516.1 879.1,520.9 871.6,525.2 862.2,530.4 853.1,535 841.9,539.9 830.7,544.4 819,549 801,553.5 788.6,558.1 768.8,567.6 753.2,577.5 733.3,586.7 715.4,596.3 706.7,605 700.1,614.7 682.7,624.3 684.5,633.6 686.3,642.7 688.7,651.9 700.4,670.9 700.3,690 701.1,708.8 699.7,727.5 699.8,746 700.1,764.9 697.6,783.7 697.5,802.6 696,821.1 696.4,840" stroke="#fbd22f"/>
<polyline points="752.1,465.1 754,467.6 756,469 757.4,471.1 767.6,472.8 828,475 878.6,476.5 945,478.8 944.1,480.3 953.9,482.5 953.5,484.3 961.9,486.3 975.5,487.8 976.4,489.7 975.7,492.1 971.8,493.6 970.5,495.3 964.2,497.5 944.4,499.5 943.7,501 933.6,502.2 910,506.5 892.7,511.7 892,516.1 883,520.6 876.9,525.9 868.6,530.2 856.5,535.3 847,539.3 842,544.3 825.4,548.7 808.1,553.9 795.6,558.7 779.4,567.7 765.7,577 745.5,586.9 725,596 713.4,605.7 705.8,614.8 691,624.1 685.7,633.2 688.4,643 690.2,651.8 698.7,671 700.8,689.5 701.8,708.9 700.6,727.4 700,746.2 699.4,764.6 697.8,783.4 696.9,802.4 697.1,820.8 696.9,839.9" stroke="#fad52d"/>
<polyline points="682.1,465.7 683.9,467.6 682.9,468.8 687.3,471.1 738.9,473.2 792,475 846.9,476.5 920,478.8 944.3,480.1 952.8,482.5 962.4,484.1 956,486.2 963.3,488.2 978,489.5 976.8,491.6 981.6,493.5 973.8,495.3 975.7,497 951.8,499.6 940.8,500.9 936.1,501.9 912.1,506.4 894.4,511.3 887.8,515.9 872.9,521.1 861.5,525.4 854.5,529.9 840.8,535.1 820.9,539.9 804,544 788.5,548.9 778.3,553.6 771.9,558.4 750.1,567.9 729.6,577.2 715.3,586.1 707.9,596 696.9,605.5 685.1,614.6 684.7,624.4 686.7,633.3 691.1,642.7 695.3,652.1 701.9,671.1 700.8,689.9 702.8,708.3 703.6,727.6 702.3,745.9 701.6,765.2 700.7,784 700.8,802.7 699.7,821.1 699.2,839.7" stroke="#f9d82c"/>
<polyline points="720.6,465.3 717.3,467.7 716.8,469.5 766.9,470.8 838.8,472.6 926.8,474.9 938,476.7 943.7,478.4 938.4,480.1 947.5,482.2 955.9,484.2 955.7,486.1 965.9,488.3 980.4,490 985.2,492.1 984.4,493.9 979.4,495.6 970.1,497.4 957.8,499.3 929.5,501.3 928.2,501.9 907.4,506.5 893.3,511.5 888.7,515.9 879.2,520.5 870.3,525.6 863.7,530.2 859,535.1 848.5,539.4 834.2,544.6 820,548.9 804.3,553.6 791.8,558.1 772.3,567.5 761.7,576.8 739.6,586.6 720.1,595.9 711,605.1 703.1,614.7 692.2,623.8 692,633.2 693.3,643.1 696.4,652.1 701.7,670.7 702.8,689.7 704.9,708.6 705.1,727.1 704.5,746.4 703.1,765.1 702.4,783.9 702.6,802.7 702.4,821.1 702.3,840" stroke="#f7db2b"/>
<polyline points="747.2,465.6 747.5,467.2 747.8,469.3 763.4,470.8 801,472.6 859,475.1 894,476.8 933.6,478.6 941.9,480.3 943.2,482.3 948.5,484.3 950.1,486.1 951.9,488.1 952.6,489.7 964.9,492.1 960.1,493.5 957.3,495.2 954.8,497.3 955.7,499.4 944.1,501.3 941.4,502 909.7,506.9 893,511.3 882.5,515.9 872.9,520.8 869.2,525.4 858.1,530.5 849.9,534.7 838.9,539.7 822,544.5 800.1,549.2 787.4,553.8 779.4,558.4 763.9,567.8 747.4,576.9 729,586.2 713,595.8 705.8,605 695.4,614.4 688.8,624.2 688.6,633.7 689.4,643.2 692.1,652.2 700.8,670.9 701.7,689.9 703.4,708.8 703.6,727.5 702.4,746 701.1,764.9 700.3,783.5 701,802.6 701.5,821.2 700.7,839.6" stroke="#f6dd29"/>
<polyline points="728.5,465.2 725.5,467 753.1,469.1 814.6,471 889.5,473 937.5,474.6 942,476.8 948.6,478.9 948.1,480.2 953.4,482.4 962.3,483.9 968.5,486.1 977,487.6 989.3,489.5 987.1,492 983.6,493.9 973.5,495.5 961.7,497.6 957.6,499 939.6,501.3 937.9,502 916,506.5 902.1,511.1 886.9,516.5 878.6,520.7 869.2,525.6 860.7,530.5 856.8,534.6 849.4,539.6 828.9,544.5 812.4,549 798.5,553.9 787.4,558.4 768.7,568 755.9,577 734.1,586.5 717,596.1 710.5,605.3 699.2,614.4 677.4,623.8 673.8,633.1 678.3,642.7 684.1,652.2 697.5,670.7 702.4,689.6 704.5,708.5 703.9,727.6 702.6,746 701.6,765.1 700.7,783.5 700.8,802.4 700.9,821.3 699.4,839.7" stroke="#f6e028"/>
<polyline points="759.4,465.6 757.4,467 755,469.4 758.1,470.8 800.2,472.9 881.5,475.1 939.3,477 943.2,478.5 946.4,480.3 949.5,482.6 962.3,484.6 964,486.1 966.7,488 973.6,490 975.6,492 972.7,493.7 965.2,495.2 965.9,497 957,499.2 940.7,501.4 936.5,502 908.1,506.9 895.8,511.1 888.4,516.1 880.1,520.5 871.9,525.8 863.6,530.2 854.3,534.6 846.1,539.9 833.2,544 809.8,549.2 796.4,553.3 786.7,558.5 768.5,567.8 752,577.5 734.5,586.2 717.6,595.8 708.5,605 696.4,614.8 686.6,624.2 685.9,633.7 688.5,643 693.6,652.6 700.4,670.7 700.2,689.5 700.5,708.7 700.6,727.4 700,746.3 700.5,765.1 699.4,783.5 698.1,802.2 698.1,820.8 697,839.7" stroke="#f5e327"/>
<polyline points="761.4,465.5 801.8,467.6 853,469.4 906.9,471.4 938.7,472.6 947.4,475.2 953.3,476.6 954.3,478.3 952.7,480.6 956.9,482.6 959.5,484.4 964.3,486 964.8,487.8 958.9,490.2 956.6,491.6 959.7,493.3 958.3,495.1 956.3,497 940.6,498.9 928.7,501.4 925.3,501.7 905.6,507 890.9,511.3 878.6,516.5 867.7,520.8 853.4,525.2 845.8,529.9 828.1,534.9 808,539.4 788.3,544.2 778,549.1 767.3,554 758.4,558.3 737.8,568.1 720.2,576.8 706.8,586.3 701.1,595.8 688.6,604.9 679.6,614.9 679,624.1 681.2,633.6 685.5,643.1 689.8,652.2 699.6,670.7 700.3,690.1 700.6,708.2 701.5,727.3 700.9,745.8 700.2,764.5 699.6,783.7 698.8,802.3 699,820.9 698.6,840.2" stroke="#f5e626"/>
<polyline points="720.6,465.2 721.9,467.3 721.7,469.3 730.8,470.7 788.4,472.8 850.2,475 901,477 952.4,478.9 947.8,480.4 949.5,482.5 951.1,484.1 952.6,486.3 947.5,488.3 951.1,489.5 958.9,491.4 953.7,493.6 958.6,495.3 959,497 949.1,499.4 931.4,501.1 925.1,502.3 906.4,507.1 894.3,511.2 883.7,515.9 879.3,520.8 867.8,525.6 859.8,530.4 848.7,535.1 832.9,539.8 818,544.5 802.3,549.3 793.1,553.7 783.2,558.2 766.8,567.9 748.3,577 726.5,586.6 713.5,596.2 706.6,605.6 699.9,614.3 698.5,624.4 699.1,633.1 700.2,642.8 700.2,652.2 701.9,670.9 701.2,689.8 700.8,708.6 700.4,727.3 700,746.1 698.5,764.7 698.2,783.7 698.4,802.3 698.1,821.5" stroke="#f5e924"/>
<polyline points="720.6,465.5 721.9,467.6 726,469.3 730.4,470.7 807,472.9 863,474.5 942.4,476.8 957.7,478.5 959.4,480.3 959.5,482.5 958.8,484.3 962.6,486.2 968.6,487.8 964.2,490.2 964.7,491.9 964.1,493.6 961.1,495.8 957.7,497.4 943.2,499 933.9,501.2 923.9,502.3 905.5,507.1 889.2,511.5 886.3,516 877.2,521 872.9,525.2 856.7,530.5 848.8,534.6 834.9,539.9 821.8,544.3 806.6,548.6 792.8,553.8 782.1,558.3 764.4,568.1 747,576.9 727.5,586.3 712.5,596.2 705.5,605.4 695.8,614.5 689.3,624.3 689.4,633.2 691.3,642.7 694.1,652.2 699.8,671.3 700.9,689.7 700.9,708.8 701.4,727.7 700.1,746 700.1,764.7 699,783.4 697.7,802.7 697.2,820.9" stroke="#f5eb23"/>
<polyline points="791,465.7 816.1,467.2 893.4,468.9 960.8,471 959.2,473.3 963.2,475.1 959.9,476.9 961.5,478.8 964.8,480.8 966.9,482.1 969.5,484.1 971,486.1 971.2,487.6 977.6,490.1 977.6,491.9 969.5,494 963.8,495.8 958.5,497.4 954.6,499.1 941.4,500.8 933.5,502.2 909.8,506.7 893.2,511.7 883,516.1 878.5,521 869.5,525.7 863.6,530.2 854.6,534.8 850,539.3 831.2,544.4 810.4,549.1 799.2,553.7 789.4,558.1 769.5,567.9 754.1,577.4 733.9,586.6 720,595.8 710,605.2 699.2,614.6 672.4,624 669.1,633.3 671.4,642.9 677.4,652.5 688.8,670.8 694.4,690.1 697.4,708.8 699.3,727.6 700.5,746.4 699.4,764.9 698.1,783.8 696.7,802.6 696.7,821.2 696.1,839.7" stroke="#f5ee21"/>
<polyline points="775.7,465.7 776.4,467.1 775.2,469.1 776.4,471.3 814.6,472.8 865.8,474.9 908.1,476.7 954.9,478.6 961.1,480.5 967.3,482.5 960.7,483.9 964.2,486.4 960.3,487.7 974.4,490 970.7,491.4 971.2,493.3 968.3,495.8 959.5,497.5 958.6,499.2 939.2,501 929.3,502.4 905.3,506.9 890.3,511.2 885.5,515.8 876.8,520.9 868.2,525.8 855.8,530 848.8,534.6 843.9,539.2 827.6,544.1 809.5,548.9 795.7,553.9 788.7,558.1 771,567.5 755.1,576.8 735.2,586.3 717.2,595.8 709.2,605 699.4,614.6 681,623.8 677.2,633.1 680.6,643.1 684.8,652.6 694.7,671.3 700,689.7 702.3,708.4 703.3,727.4 702.6,746 701.6,765.2 701.2,783.8 699.6,802 699.1,821.3 699.1,840.3" stroke="#f6f01f"/>
<polyline points="769.2,465.6 773,467.5 846,469.5 909.8,471.3 966.2,473.3 964.7,474.8 961.6,476.6 961.5,478.9 964.3,480.4 966.4,482.6 962.9,484.2 963.6,486.2 974.6,488.2 974.5,489.5 971.6,491.8 975.2,493.6 976,495.6 965.3,497.4 948.8,499 936.1,501.3 925.8,501.9 904.4,506.8 891.4,511.5 884.5,515.8 879.8,521 875.5,525.7 870,530 862.1,535.3 854.8,539.5 835.4,544.6 821.2,549.2 805.2,553.5 796.9,558 774.8,568 764,576.9 743.3,586.7 725.2,595.6 714.8,605.1 705.5,614.3 685.5,624.2 679.6,633.4 684,643.1 685.7,652.4 695.9,670.7 699.8,689.5 702.6,708.5 701.3,727.4 700.2,746.4 698.8,764.5 697.9,783.7 697.8,802.1 696.9,821.3 697.4,839.7" stroke="#f7f31d"/>
<polyline points="826.8,465.5 827.9,467.1 827.7,469 822.6,471.3 835.2,472.6 875.2,474.9 906.7,476.9 943.3,478.9 958.7,480.5 965.1,482.3 964.3,483.9 957.4,486.3 959.7,488 966.9,489.7 967.6,491.5 960.6,493.9 960.4,495.6 960.9,497.6 953.7,498.9 944.4,500.8 938.4,501.7 908.6,507.1 894.5,511.7 889,516.2 881.5,520.5 871.9,525.3 864.9,529.9 856.7,534.9 849,539.3 829.2,544.6 812.9,548.9 799.2,553.8 791.3,558.5 770,567.9 754.7,576.8 731.9,586.8 715.5,596.1 707.1,605.5 701.4,614.8 690.5,624.1 690.1,633.7 691.8,642.7 692.9,652.1 698.2,670.7 698.8,689.8 699.8,708.7 699.1,727.4 698.6,746.1 697.4,765.2 697.8,783.9 698,802.7 697.2,821.2" stroke="#f7f61a"/>
<polyline points="847,465.4 846.9,467.4 846.7,469.3 847.7,471 867.5,472.8 892.8,474.8 922,476.8 938.1,478.2 964,480.7 965.2,482.4 962.1,484 966.7,486.2 975.5,488 972.7,489.7 973.7,491.9 970.1,493.7 961.7,495.4 944.7,497.6 938.9,499.4 932.6,501.4 928.4,502.2 905.3,506.7 894,511.3 890.4,516.3 881,521.1 868.3,525.3 859.2,530.2 849.2,534.8 832.1,539.9 815.9,544.5 801.6,548.7 787.8,553.6 774.7,558.2 759.1,567.6 746.3,576.8 728.1,586.6 711.2,596 702.8,605.5 693.8,614.9 684.5,624 683.8,633.1 685.3,643 689.4,652.3 699.6,671.1 700.3,689.7 701.4,708.8 702.1,727.4 700.3,746.3 699.7,765.2 698.7,783.8 699.4,802.4 698.3,821.3" stroke="#f8f817"/>
<polyline points="828.1,464.5 828.1,470.1 828.5,475.2 922.7,476.9 968.2,479 958.7,481.4 966.1,482.7 962.1,486.1 961.8,492.3 956.2,494.5 937.6,496.8 919,501.7 897.3,508.4 890,513.3 882.1,518.6 873.7,524.2 866.8,527.9 859.1,532.1 845.5,539.4 825.9,545.2 805.7,550.7 795.3,554.4 784.8,559.3 775,563.8 772.6,564.9 766.3,569.6 758.8,575.3 738.3,584.6 717.9,594 709.6,603.4 706.5,607.2 700.8,613.5 693.1,618.4 684.9,624.2 684.2,629.7 684.1,635.5 685.1,641 687.4,648.7 689.4,652.6 692.8,659.7 696.7,667.6 699.1,671.6 700.5,680.4 701.3,690.3 702.3,706.7 702.9,716.8 702.6,724.3 701.8,746.1 700.7,773.3 700,798.6 699.5,820.4" stroke="#000" stroke-width="2.4"/>
</g>
<line x1="756.7" y1="805.4" x2="819.5" y2="805.4" stroke="#000" stroke-width="2.4"/>
<text x="825.7" y="809.8" font-size="12.6" text-anchor="start" fill="#000" textLength="159.2" lengthAdjust="spacingAndGlyphs">Último perfil: 04-Feb-2015</text>
<rect x="654.5" y="464.5" width="350.0" height="367.0" fill="none" stroke="#7a7a7a" stroke-width="1"/>
<text x="699.5" y="850.6" font-size="14" text-anchor="middle" fill="#808080">35</text>
<text x="761.5" y="850.6" font-size="14" text-anchor="middle" fill="#808080">35.5</text>
<text x="823.5" y="850.6" font-size="14" text-anchor="middle" fill="#808080">36</text>
<text x="885.5" y="850.6" font-size="14" text-anchor="middle" fill="#808080">36.5</text>
<text x="947.5" y="850.6" font-size="14" text-anchor="middle" fill="#808080">37</text>
<text x="649.8" y="469.6" font-size="14" text-anchor="end" fill="#808080">0</text>
<text x="649.8" y="507.1" font-size="14" text-anchor="end" fill="#808080" textLength="29.5" lengthAdjust="spacingAndGlyphs">-200</text>
<text x="649.8" y="544.7" font-size="14" text-anchor="end" fill="#808080" textLength="29.5" lengthAdjust="spacingAndGlyphs">-400</text>
<text x="649.8" y="582.2" font-size="14" text-anchor="end" fill="#808080" textLength="29.5" lengthAdjust="spacingAndGlyphs">-600</text>
<text x="649.8" y="619.8" font-size="14" text-anchor="end" fill="#808080" textLength="29.5" lengthAdjust="spacingAndGlyphs">-800</text>
<text x="649.8" y="657.3" font-size="14" text-anchor="end" fill="#808080" textLength="37.3" lengthAdjust="spacingAndGlyphs">-1000</text>
<text x="649.8" y="694.9" font-size="14" text-anchor="end" fill="#808080" textLength="37.3" lengthAdjust="spacingAndGlyphs">-1200</text>
<text x="649.8" y="732.4" font-size="14" text-anchor="end" fill="#808080" textLength="37.3" lengthAdjust="spacingAndGlyphs">-1400</text>
<text x="649.8" y="770" font-size="14" text-anchor="end" fill="#808080" textLength="37.3" lengthAdjust="spacingAndGlyphs">-1600</text>
<text x="649.8" y="807.5" font-size="14" text-anchor="end" fill="#808080" textLength="37.3" lengthAdjust="spacingAndGlyphs">-1800</text>
<path d="M699.5 831.5v-4M699.5 464.5v4M761.5 831.5v-4M761.5 464.5v4M823.5 831.5v-4M823.5 464.5v4M885.5 831.5v-4M885.5 464.5v4M947.5 831.5v-4M947.5 464.5v4M654.5 502.5h4M1004.5 502.5h-4M654.5 539.5h4M1004.5 539.5h-4M654.5 577.5h4M1004.5 577.5h-4M654.5 614.5h4M1004.5 614.5h-4M654.5 652.5h4M1004.5 652.5h-4M654.5 689.5h4M1004.5 689.5h-4M654.5 727.5h4M1004.5 727.5h-4M654.5 764.5h4M1004.5 764.5h-4M654.5 802.5h4M1004.5 802.5h-4" stroke="#7a7a7a" stroke-width="1" fill="none"/>
<text x="829.2" y="459.6" font-size="16" text-anchor="middle" fill="#000" textLength="98.7" lengthAdjust="spacingAndGlyphs">Salinity [psu]</text>
</svg></body></html>
